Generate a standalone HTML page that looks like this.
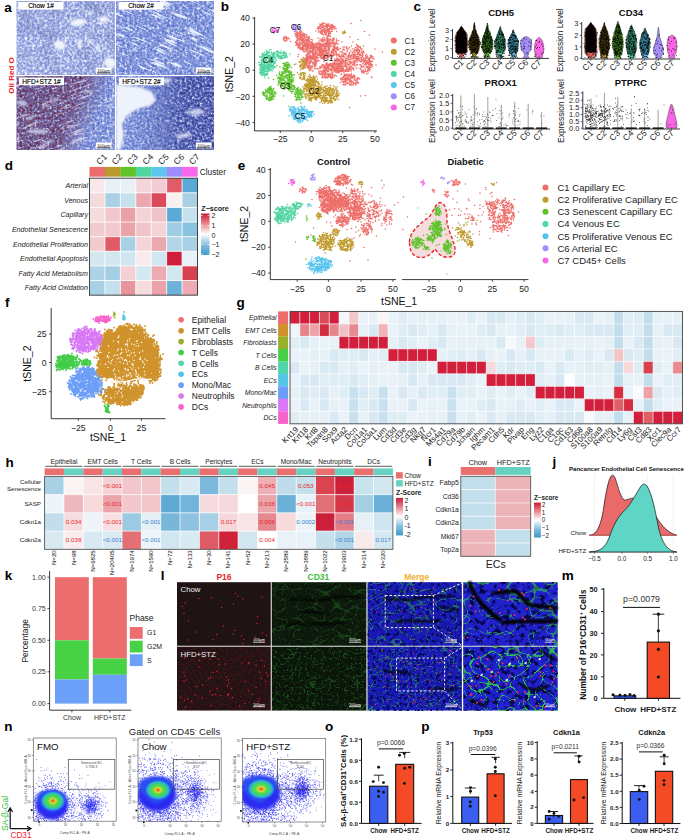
<!DOCTYPE html><html><head><meta charset="utf-8"><style>
html,body{margin:0;padding:0;background:#fff}
#r{position:relative;width:685px;height:839px;overflow:hidden;background:#fff}
svg{display:block}
text{font-family:"Liberation Sans",sans-serif}
</style></head><body><div id="r"><svg width="685" height="839" viewBox="0 0 685 839"><defs><filter id="tq1" x="0" y="0" width="1" height="1" color-interpolation-filters="sRGB"><feTurbulence type="fractalNoise" baseFrequency="0.4" numOctaves="3" seed="4"/><feGaussianBlur stdDeviation="0.3"/><feColorMatrix values="0 0 0 1.3 -0.09000000000000002 0 0 0 1.3 -0.09000000000000002 0 0 0 1.3 -0.09000000000000002 0 0 0 0 1"/><feComponentTransfer><feFuncR type="table" tableValues="0.416 0.471 0.522 0.561 0.620 0.714 0.816 0.910 0.984"/><feFuncG type="table" tableValues="0.478 0.533 0.588 0.624 0.675 0.761 0.847 0.925 0.988"/><feFuncB type="table" tableValues="0.784 0.824 0.855 0.875 0.894 0.925 0.957 0.980 1.000"/></feComponentTransfer></filter><filter id="tq2" x="0" y="0" width="1" height="1" color-interpolation-filters="sRGB"><feTurbulence type="fractalNoise" baseFrequency="0.4" numOctaves="3" seed="9"/><feGaussianBlur stdDeviation="0.3"/><feColorMatrix values="0 0 0 1.3 -0.15000000000000002 0 0 0 1.3 -0.15000000000000002 0 0 0 1.3 -0.15000000000000002 0 0 0 0 1"/><feComponentTransfer><feFuncR type="table" tableValues="0.290 0.353 0.408 0.459 0.510 0.604 0.737 0.875 0.984"/><feFuncG type="table" tableValues="0.361 0.424 0.486 0.537 0.588 0.671 0.784 0.898 0.988"/><feFuncB type="table" tableValues="0.722 0.769 0.808 0.839 0.863 0.894 0.941 0.973 1.000"/></feComponentTransfer></filter><filter id="tq3" x="0" y="0" width="1" height="1" color-interpolation-filters="sRGB"><feTurbulence type="fractalNoise" baseFrequency="0.4" numOctaves="3" seed="21"/><feGaussianBlur stdDeviation="0.3"/><feColorMatrix values="0 0 0 1.3 -0.15000000000000002 0 0 0 1.3 -0.15000000000000002 0 0 0 1.3 -0.15000000000000002 0 0 0 0 1"/><feComponentTransfer><feFuncR type="table" tableValues="0.353 0.431 0.478 0.431 0.416 0.486 0.627 0.800 0.949"/><feFuncG type="table" tableValues="0.078 0.141 0.227 0.290 0.353 0.447 0.612 0.784 0.949"/><feFuncB type="table" tableValues="0.188 0.251 0.353 0.486 0.580 0.667 0.784 0.902 0.980"/></feComponentTransfer></filter><filter id="tq3b" x="0" y="0" width="1" height="1" color-interpolation-filters="sRGB"><feTurbulence type="fractalNoise" baseFrequency="0.4" numOctaves="3" seed="23"/><feGaussianBlur stdDeviation="0.3"/><feColorMatrix values="0 0 0 1.3 -0.15000000000000002 0 0 0 1.3 -0.15000000000000002 0 0 0 1.3 -0.15000000000000002 0 0 0 0 1"/><feComponentTransfer><feFuncR type="table" tableValues="0.290 0.353 0.408 0.459 0.510 0.604 0.737 0.875 0.984"/><feFuncG type="table" tableValues="0.361 0.424 0.486 0.537 0.588 0.671 0.784 0.898 0.988"/><feFuncB type="table" tableValues="0.722 0.769 0.808 0.839 0.863 0.894 0.941 0.973 1.000"/></feComponentTransfer></filter><filter id="tq4" x="0" y="0" width="1" height="1" color-interpolation-filters="sRGB"><feTurbulence type="fractalNoise" baseFrequency="0.4" numOctaves="3" seed="27"/><feGaussianBlur stdDeviation="0.3"/><feColorMatrix values="0 0 0 1.3 -0.15000000000000002 0 0 0 1.3 -0.15000000000000002 0 0 0 1.3 -0.15000000000000002 0 0 0 0 1"/><feComponentTransfer><feFuncR type="table" tableValues="0.149 0.188 0.235 0.290 0.345 0.447 0.596 0.784 0.973"/><feFuncG type="table" tableValues="0.173 0.220 0.275 0.337 0.392 0.502 0.643 0.816 0.976"/><feFuncB type="table" tableValues="0.502 0.557 0.612 0.667 0.706 0.769 0.863 0.941 0.996"/></feComponentTransfer></filter><filter id="tS2" x="0" y="0" width="1" height="1" color-interpolation-filters="sRGB"><feTurbulence type="fractalNoise" baseFrequency="0.05 0.45" numOctaves="2" seed="33"/><feColorMatrix values="0 0 0 0 0.93 0 0 0 0 0.95 0 0 0 0 1 -7 0 0 0 3.0"/></filter><filter id="tLo" x="0" y="0" width="1" height="1" color-interpolation-filters="sRGB"><feTurbulence type="fractalNoise" baseFrequency="0.05" numOctaves="2" seed="41"/><feColorMatrix values="0 0 0 0 0.2 0 0 0 0 0.25 0 0 0 0 0.55 3 0 0 0 -1.3"/></filter><filter id="bl2"><feGaussianBlur stdDeviation="0.8"/></filter>
<clipPath id="ca1"><rect x="16.5" y="1" width="98.5" height="74"/></clipPath>
<clipPath id="ca2"><rect x="116" y="1" width="98" height="74"/></clipPath>
<clipPath id="ca3"><rect x="16.5" y="76" width="98.5" height="74"/></clipPath>
<clipPath id="ca4"><rect x="116" y="76" width="98" height="74"/></clipPath>
<linearGradient id="gm3" x1="0" x2="1" y1="0" y2="0.3"><stop offset="0.62" stop-color="#000"/><stop offset="0.9" stop-color="#fff"/></linearGradient>
<mask id="m3"><rect x="16.5" y="76" width="98.5" height="74" fill="url(#gm3)"/></mask>
<linearGradient id="gm4" x1="0" x2="1" y1="0" y2="0"><stop offset="0.2" stop-color="#000"/><stop offset="0.7" stop-color="#fff"/></linearGradient>
<mask id="m4"><rect x="116" y="76" width="98" height="74" fill="url(#gm4)"/></mask>
</defs>
<rect x="16.50" y="1.00" width="197.50" height="149.00" fill="#ffffff"/>
<g clip-path="url(#ca1)">
<rect x="16.5" y="1" width="98.5" height="74" filter="url(#tq1)"/>
<rect x="16.5" y="1" width="98.5" height="74" filter="url(#tLo)" opacity="0.2"/>
<g filter="url(#bl2)" fill="#f2f4fc">
<ellipse cx="78" cy="22.5" rx="8" ry="3.5" transform="rotate(-10 78 22.5)"/>
<ellipse cx="59.5" cy="45" rx="6" ry="4.5" transform="rotate(20 59.5 45)"/>
<ellipse cx="79.5" cy="44" rx="2" ry="5.5" transform="rotate(0 79.5 44)"/>
<ellipse cx="90" cy="13.5" rx="2.5" ry="2" transform="rotate(0 90 13.5)"/>
<ellipse cx="103.5" cy="19.5" rx="4.5" ry="3" transform="rotate(0 103.5 19.5)"/>
<ellipse cx="110" cy="63" rx="6" ry="5" transform="rotate(30 110 63)"/>
<ellipse cx="90" cy="41" rx="2" ry="2" transform="rotate(0 90 41)"/>
<ellipse cx="32" cy="58" rx="3" ry="1.2" transform="rotate(0 32 58)"/>
<ellipse cx="45" cy="27" rx="3" ry="1" transform="rotate(-30 45 27)"/>
<ellipse cx="98" cy="48" rx="1.6" ry="3.5" transform="rotate(-30 98 48)"/>
</g>
</g>
<g clip-path="url(#ca2)">
<rect x="116" y="1" width="98" height="74" filter="url(#tq2)"/>
<g transform="rotate(24 165 38)">
<rect x="96" y="-30" width="140" height="140" filter="url(#tS2)" opacity="0.95"/>
</g>
</g>
<g clip-path="url(#ca3)">
<rect x="16.5" y="76" width="98.5" height="74" filter="url(#tq3)"/>
<g mask="url(#m3)">
<rect x="16.5" y="76" width="98.5" height="74" filter="url(#tq3b)"/>
</g>
<g transform="rotate(-18 65 113)">
<rect x="0" y="40" width="140" height="150" filter="url(#tS2)" opacity="0.55"/>
</g>
<g filter="url(#bl2)" fill="#c8d0ee" opacity="0.9">
<ellipse cx="22" cy="103" rx="6" ry="2.2" transform="rotate(10 22 103)"/>
<ellipse cx="38" cy="131.5" rx="12" ry="2.2" transform="rotate(0 38 131.5)"/>
<ellipse cx="30" cy="118" rx="5" ry="1.3" transform="rotate(-20 30 118)"/>
<ellipse cx="55" cy="100" rx="5" ry="1.3" transform="rotate(-20 55 100)"/>
<ellipse cx="48" cy="142" rx="6" ry="1.3" transform="rotate(-10 48 142)"/>
</g>
</g>
<g clip-path="url(#ca4)">
<rect x="116" y="76" width="98" height="74" filter="url(#tq2)"/>
<g mask="url(#m4)">
<rect x="116" y="76" width="98" height="74" filter="url(#tq4)"/>
</g>
<path filter="url(#bl2)" fill="#eef2fb" d="M116 84 L128 86 L140 87 L152 92 L156 100 L150 106 L140 108 L132 112 L126 117 L122 124 L124 134 L121 150 L116 150 Z"/>
<path filter="url(#bl2)" fill="#dfe5f7" opacity="0.8" d="M160 78 L172 78 L168 84 L160 82Z M184 112 L198 108 L206 112 L196 116Z M175 135 L190 132 L192 136 L178 139Z"/>
</g>
<line x1="115.50" y1="1.00" x2="115.50" y2="150.00" stroke="#ffffff" stroke-width="1"/>
<line x1="16.50" y1="75.50" x2="214.00" y2="75.50" stroke="#ffffff" stroke-width="1"/>
<rect x="18.50" y="2.00" width="45.00" height="7.60" fill="#ffffff"/>
<text x="41.0" y="8.3" font-size="6.5" text-anchor="middle" fill="#000" stroke="#000" stroke-width="0.15">Chow 1#</text>
<rect x="118.50" y="2.00" width="45.00" height="7.60" fill="#ffffff"/>
<text x="141.0" y="8.3" font-size="6.5" text-anchor="middle" fill="#000" stroke="#000" stroke-width="0.15">Chow 2#</text>
<rect x="19.00" y="77.60" width="45.00" height="7.60" fill="#ffffff"/>
<text x="41.5" y="83.9" font-size="6.5" text-anchor="middle" fill="#000" stroke="#000" stroke-width="0.15">HFD+STZ 1#</text>
<rect x="119.00" y="77.60" width="45.00" height="7.60" fill="#ffffff"/>
<text x="141.5" y="83.9" font-size="6.5" text-anchor="middle" fill="#000" stroke="#000" stroke-width="0.15">HFD+STZ 2#</text>
<rect x="96.00" y="67.50" width="15.50" height="6.00" fill="#ffffff"/>
<text x="103.7" y="71.8" font-size="4.2" text-anchor="middle" fill="#222">100μm</text>
<line x1="97.00" y1="72.80" x2="110.50" y2="72.80" stroke="#222" stroke-width="0.9"/>
<rect x="196.00" y="67.50" width="15.50" height="6.00" fill="#ffffff"/>
<text x="203.7" y="71.8" font-size="4.2" text-anchor="middle" fill="#222">100μm</text>
<line x1="197.00" y1="72.80" x2="210.50" y2="72.80" stroke="#222" stroke-width="0.9"/>
<rect x="96.00" y="142.50" width="15.50" height="6.00" fill="#ffffff"/>
<text x="103.7" y="146.8" font-size="4.2" text-anchor="middle" fill="#222">100μm</text>
<line x1="97.00" y1="147.80" x2="110.50" y2="147.80" stroke="#222" stroke-width="0.9"/>
<rect x="196.00" y="142.50" width="15.50" height="6.00" fill="#ffffff"/>
<text x="203.7" y="146.8" font-size="4.2" text-anchor="middle" fill="#222">100μm</text>
<line x1="197.00" y1="147.80" x2="210.50" y2="147.80" stroke="#222" stroke-width="0.9"/>
<text x="4.3" y="11.6" font-size="13.5" font-weight="bold">a</text>
<text x="13.6" y="75.4" font-size="8" text-anchor="middle" font-weight="bold" fill="#e8262b" transform="rotate(-90 13.6 75.4)">Oil Red O</text>
<text x="220.8" y="10.8" font-size="13.5" font-weight="bold">b</text>
<line x1="254.60" y1="17.00" x2="254.60" y2="131.00" stroke="#222" stroke-width="0.9"/>
<line x1="254.60" y1="130.90" x2="377.00" y2="130.90" stroke="#222" stroke-width="0.9"/>
<line x1="252.40" y1="18.20" x2="254.60" y2="18.20" stroke="#222" stroke-width="0.8"/>
<text x="249.9" y="21.4" font-size="8.7" text-anchor="end" fill="#222">40</text>
<line x1="252.40" y1="44.10" x2="254.60" y2="44.10" stroke="#222" stroke-width="0.8"/>
<text x="249.9" y="47.3" font-size="8.7" text-anchor="end" fill="#222">20</text>
<line x1="252.40" y1="70.20" x2="254.60" y2="70.20" stroke="#222" stroke-width="0.8"/>
<text x="249.9" y="73.4" font-size="8.7" text-anchor="end" fill="#222">0</text>
<line x1="252.40" y1="96.30" x2="254.60" y2="96.30" stroke="#222" stroke-width="0.8"/>
<text x="249.9" y="99.5" font-size="8.7" text-anchor="end" fill="#222">−20</text>
<line x1="252.40" y1="122.50" x2="254.60" y2="122.50" stroke="#222" stroke-width="0.8"/>
<text x="249.9" y="125.7" font-size="8.7" text-anchor="end" fill="#222">−40</text>
<line x1="280.30" y1="130.90" x2="280.30" y2="133.10" stroke="#222" stroke-width="0.8"/>
<text x="280.3" y="142.3" font-size="8.7" text-anchor="middle" fill="#222">−25</text>
<line x1="311.30" y1="130.90" x2="311.30" y2="133.10" stroke="#222" stroke-width="0.8"/>
<text x="311.3" y="142.3" font-size="8.7" text-anchor="middle" fill="#222">0</text>
<line x1="342.80" y1="130.90" x2="342.80" y2="133.10" stroke="#222" stroke-width="0.8"/>
<text x="342.8" y="142.3" font-size="8.7" text-anchor="middle" fill="#222">25</text>
<line x1="374.90" y1="130.90" x2="374.90" y2="133.10" stroke="#222" stroke-width="0.8"/>
<text x="374.9" y="142.3" font-size="8.7" text-anchor="middle" fill="#222">50</text>
<text x="233.2" y="74.2" font-size="10.5" text-anchor="middle" fill="#111" transform="rotate(-90 233.2 74.2)">tSNE_2</text>
<path transform="scale(.5)" d="M722 41h0m-77 5h0m1 1h0m1-1h0m2 1h0m53 0h0m-103 2h0m38 4h0m0 0h0m3-3h0m0 3h0m0-5h0m1 1h0m0 2h0m0 0h0m2-1h0m1 0h0m0-2h0m0 1h0m0 4h0m0-2h0m1 2h0m1-1h0m0-4h0m1 5h0m1-1h0m1 0h0m2 1h0m1-1h0m0-2h0m1-2h0m0 5h0m0-3h0m1 0h0m1 3h0m0-2h0m1 1h0m0-3h0m0-1h0m1 3h0m1-3h0m0 4h0m2 0h0m0 1h0m1-2h0m1 1h0m0-2h0m0 1h0m0-1h0m1 0h0m0 0h0m1 3h0m0-4h0m1 2h0m0 1h0m1 0h0m0-1h0m1 2h0m3 0h0m-35 4h0m0 0h0m0-1h0m1 1h0m0-1h0m2 0h0m0 0h0m0 0h0m2 1h0m0-2h0m0 1h0m1 0h0m1 2h0m1 1h0m1-5h0m0 1h0m0-1h0m2 5h0m0 0h0m1-4h0m0 1h0m2 2h0m1-1h0m0 1h0m3-3h0m0 4h0m1 0h0m0-5h0m1 1h0m0-1h0m1 3h0m1 2h0m0 0h0m1-1h0m0 0h0m1 1h0m0 0h0m0-2h0m1 2h0m0-1h0m0-2h0m1-2h0m1 4h0m1-3h0m1 3h0m0-2h0m1 2h0m1-4h0m1 0h0m1 2h0m1 2h0m0-3h0m3 2h0m-78 7h0m0-1h0m0 2h0m1 0h0m0 0h0m4-1h0m1 1h0m0-3h0m0 3h0m1-3h0m0 2h0m0-1h0m2-1h0m29 0h0m5-2h0m0 4h0m3-2h0m0 2h0m1 1h0m0-2h0m2 2h0m0-3h0m1 2h0m0-4h0m0 1h0m0-1h0m1 4h0m2-2h0m0 1h0m1-2h0m1 1h0m1 2h0m0-3h0m1 3h0m2-4h0m0 5h0m0 0h0m0-4h0m1-1h0m0 1h0m0 2h0m2-2h0m0 2h0m0-3h0m1 0h0m1 3h0m0-2h0m2 2h0m0 2h0m0-1h0m3-1h0m2-1h0m8 1h0m56 0h0m-139 4h0m2 0h0m0 2h0m1 2h0m1-2h0m1 2h0m0-3h0m0 1h0m0 2h0m1-3h0m0 0h0m1 3h0m0-4h0m2 4h0m0-4h0m1 4h0m0-5h0m0 2h0m0-1h0m1-1h0m0 4h0m1 1h0m0-2h0m1 1h0m0-4h0m0 5h0m2 0h0m1-5h0m0 2h0m0 1h0m0-3h0m0 0h0m2 2h0m0 1h0m1-1h0m0 3h0m0-2h0m0-1h0m0 2h0m1-1h0m3 0h0m29-2h0m1 1h0m1-1h0m1 1h0m0-1h0m2 3h0m2-4h0m1 2h0m1-2h0m1 4h0m0-2h0m1 0h0m3 3h0m1-5h0m0 2h0m1 2h0m1-3h0m2 0h0m78 3h0m-172 7h0m1-3h0m0 0h0m1 1h0m0 1h0m1 0h0m1 0h0m0-3h0m1 3h0m1-1h0m1 0h0m0 2h0m0-1h0m3 0h0m14-4h0m2 3h0m1-3h0m0 3h0m0-2h0m1 2h0m0-2h0m0 3h0m1 0h0m0-2h0m3-2h0m1 2h0m0 1h0m0 0h0m0-1h0m0 3h0m0-1h0m0 1h0m1-5h0m1 4h0m1-1h0m0-3h0m0 5h0m0-2h0m1-1h0m0 1h0m1-2h0m0 3h0m1 1h0m1-5h0m1 0h0m0 4h0m1-1h0m1-3h0m0 1h0m0 0h0m0-1h0m0 2h0m0-2h0m1 2h0m2 0h0m1-2h0m1 4h0m2-2h0m0 2h0m1-3h0m0 0h0m0 4h0m1-1h0m17 0h0m9 0h0m3-1h0m5 2h0m1-4h0m1 3h0m1-3h0m0 4h0m2-5h0m2 1h0m1-1h0m6 4h0m1 1h0m32-3h0m-133 4h0m1 2h0m1 1h0m0-1h0m1 2h0m2 0h0m1-2h0m0 0h0m1 0h0m0-2h0m4 0h0m3 5h0m12-3h0m1 3h0m1-3h0m1 1h0m0-2h0m0 0h0m2-1h0m0 0h0m2 0h0m0 2h0m0 2h0m0-3h0m1 0h0m1 0h0m0-1h0m1 1h0m0 2h0m1-1h0m1-1h0m0 4h0m1-3h0m0 2h0m0-3h0m0 3h0m1 1h0m0-4h0m0 1h0m0-2h0m1 0h0m1 5h0m0-1h0m0 1h0m1-2h0m0 0h0m1 0h0m0-2h0m0-1h0m1 3h0m1 2h0m0-4h0m0 4h0m2-2h0m0-1h0m1 3h0m0-4h0m1 2h0m0 2h0m1-4h0m0 3h0m0-2h0m1 2h0m1 1h0m2-4h0m3 1h0m13 2h0m2-4h0m2 4h0m0-1h0m1-2h0m1 4h0m1-3h0m0 3h0m1-4h0m0 3h0m1 0h0m2-1h0m0-2h0m1-1h0m0 3h0m3 2h0m1-2h0m0-2h0m0 1h0m1-1h0m1 2h0m0 1h0m0 1h0m0-4h0m1 3h0m1-2h0m1 0h0m0-1h0m2-1h0m0 2h0m3 1h0m0 2h0m1-5h0m1 2h0m1-2h0m0 0h0m1 2h0m0 0h0m5 1h0m0 2h0m0-5h0m4 3h0m39-2h0m-125 5h0m1 2h0m1 1h0m0 2h0m0-5h0m1 2h0m2 1h0m0 0h0m0 1h0m2-1h0m1 2h0m0-5h0m1 3h0m2-1h0m1 0h0m0 1h0m1 2h0m1-3h0m0-2h0m1 1h0m0-1h0m1 1h0m1 3h0m0 1h0m1-3h0m1 3h0m0 0h0m1-2h0m1 2h0m0-2h0m0-1h0m1 0h0m0-1h0m1 4h0m0-3h0m1 0h0m0 2h0m0 1h0m1-1h0m1-1h0m1-1h0m0 0h0m0 3h0m1 0h0m1-4h0m2 1h0m0-1h0m0 4h0m1-1h0m1-4h0m0 2h0m1 0h0m0 0h0m0 2h0m2-1h0m0 2h0m3-1h0m1 1h0m1-1h0m1-1h0m1-1h0m0 3h0m0 0h0m1 0h0m2 0h0m0-3h0m1 0h0m1 2h0m0-1h0m0-1h0m1 2h0m1-1h0m1 1h0m1 0h0m2 1h0m0 0h0m2 0h0m0-3h0m0 0h0m0 3h0m3-2h0m0-1h0m2 2h0m0 1h0m0-3h0m1 2h0m0-3h0m1-1h0m0 3h0m1 0h0m0-2h0m1-1h0m0 4h0m1-2h0m0 2h0m0-2h0m0-1h0m0 2h0m0-1h0m1 2h0m1-2h0m1 2h0m0-4h0m0 3h0m1-1h0m1 2h0m1 0h0m0-1h0m0-1h0m2-2h0m1 2h0m0-2h0m0 1h0m1 0h0m0 3h0m0-4h0m1 2h0m0 0h0m2 2h0m0-2h0m0 3h0m1-3h0m0 0h0m2 0h0m0 1h0m2 1h0m1 0h0m8-4h0m22 0h0m7 5h0m-121 2h0m3-1h0m1 2h0m1 1h0m0 1h0m1-3h0m1 0h0m1 3h0m0-4h0m0 1h0m4 4h0m0-5h0m0 0h0m1 3h0m1-2h0m1 0h0m0 0h0m0 3h0m1-1h0m0-3h0m0 2h0m2-2h0m0 1h0m0 2h0m2 2h0m0-3h0m0 1h0m1-1h0m0 0h0m0 3h0m0 0h0m0-5h0m1 3h0m0-2h0m0 0h0m0-1h0m1 2h0m0 3h0m1-1h0m0-3h0m1 4h0m0-1h0m0-2h0m1 0h0m1-2h0m0 0h0m0 1h0m1-1h0m0 5h0m0-4h0m0 4h0m1 0h0m0-3h0m0-2h0m0 4h0m1-3h0m0 4h0m0-2h0m0-3h0m1 2h0m1 2h0m1-4h0m0 2h0m1 3h0m0-1h0m1-3h0m0 1h0m0 3h0m1-4h0m0 2h0m1 2h0m0-3h0m0 1h0m1 0h0m0-2h0m2 3h0m0 1h0m1-5h0m0 5h0m1-2h0m0 2h0m0 0h0m2-1h0m0-4h0m1 4h0m1 1h0m1-3h0m0 1h0m0 1h0m0-1h0m1-3h0m0 5h0m1 0h0m0 0h0m0-5h0m1 4h0m0-3h0m0 2h0m0 2h0m0 0h0m1-2h0m1-2h0m0 0h0m0 4h0m0-2h0m1-2h0m0-1h0m1 0h0m1 3h0m1-3h0m0 4h0m1-1h0m1 2h0m0 0h0m0-5h0m1 0h0m0 3h0m1-3h0m1 2h0m1-2h0m1 2h0m1 2h0m0-1h0m1-3h0m1 4h0m1-4h0m0 4h0m1-3h0m2 2h0m1 0h0m3-2h0m1 3h0m1 1h0m1-1h0m0 1h0m0-3h0m1 2h0m0-4h0m2 5h0m1 0h0m2-1h0m0 1h0m11-1h0m3 0h0m4 0h0m1 0h0m5 1h0m4-3h0m8 3h0m1 0h0m2-5h0m1 1h0m0 2h0m2 0h0m2 1h0m1 0h0m0-1h0m1 2h0m6-3h0m0 0h0m-131 4h0m3 0h0m1 1h0m1 1h0m0 1h0m1-3h0m0 2h0m1 1h0m1-3h0m0 2h0m0-2h0m1 0h0m1 0h0m0 5h0m0-1h0m0-4h0m1 0h0m0 2h0m0-2h0m0 1h0m2 1h0m2 1h0m1-2h0m1-1h0m0 1h0m1-1h0m0 4h0m1-3h0m1-1h0m0 3h0m2-3h0m1 5h0m0 0h0m1-4h0m0 2h0m1-2h0m0 0h0m3 4h0m0-4h0m1 1h0m0 3h0m0-2h0m0 2h0m1-5h0m1 0h0m0 1h0m0-1h0m0 4h0m1-2h0m1-2h0m0 1h0m0 1h0m1 0h0m2 3h0m0-2h0m2-1h0m0-2h0m0 0h0m0 2h0m0-2h0m1 0h0m1 1h0m0 4h0m0-3h0m0 2h0m0-3h0m0 2h0m0-1h0m1 0h0m0-2h0m1 2h0m1-2h0m0 4h0m0 0h0m0-3h0m0 0h0m1 4h0m0-4h0m0 3h0m0 1h0m1-4h0m0 0h0m0 2h0m1 0h0m0-3h0m1 4h0m0-4h0m0 1h0m0 0h0m0 1h0m1 2h0m0-3h0m0 0h0m1 3h0m0-2h0m2 3h0m1-3h0m0 0h0m1 1h0m0-2h0m0 1h0m2 3h0m0-4h0m1-1h0m0 5h0m0-1h0m1-4h0m0 5h0m2 0h0m1-2h0m1-2h0m0 3h0m0-1h0m1 2h0m1-2h0m0-3h0m0 2h0m0 2h0m6-1h0m0-1h0m0 1h0m1 1h0m0-2h0m0 2h0m1 0h0m1-3h0m1 4h0m0-2h0m1 2h0m0-4h0m1 0h0m1 0h0m1 1h0m1 2h0m0-2h0m1 1h0m1-3h0m0 4h0m2-1h0m3-2h0m5 3h0m1-2h0m2 2h0m4-4h0m1 1h0m0 3h0m3-2h0m8 0h0m4 0h0m1 2h0m2 0h0m0 1h0m2 0h0m0-2h0m0-1h0m2-2h0m0 3h0m1 2h0m0-1h0m0-1h0m2 1h0m0 0h0m0 1h0m1-1h0m1-4h0m1 1h0m1 1h0m1 0h0m26 0h0m-143 5h0m2 0h0m1 0h0m1-1h0m0 0h0m3 0h0m0 2h0m1 2h0m1 1h0m1-5h0m1 4h0m0 0h0m1-4h0m0 4h0m1-3h0m1 1h0m0-2h0m0 4h0m1-2h0m0 1h0m0-2h0m2 0h0m1 1h0m0-1h0m0 4h0m2-4h0m0 2h0m3 1h0m0-4h0m0 4h0m1-2h0m1-2h0m0 3h0m0-2h0m0 2h0m2 0h0m2-3h0m2 4h0m0-4h0m1 1h0m0 2h0m0-1h0m0 0h0m1 2h0m0-3h0m1 1h0m0-2h0m1 2h0m0-2h0m0 5h0m0-5h0m1 0h0m0 0h0m0 5h0m0 0h0m0-4h0m1 4h0m0 0h0m0-3h0m1-1h0m0 2h0m2-1h0m0 2h0m1-3h0m0 1h0m1-1h0m0-1h0m0 1h0m2 3h0m0-3h0m1 3h0m0-2h0m0-1h0m1 4h0m2-2h0m0 2h0m1-2h0m2 0h0m0-3h0m4 2h0m1 0h0m1-1h0m0-1h0m0 4h0m2-4h0m0 3h0m1 1h0m0-1h0m0-2h0m1 4h0m3-2h0m0-2h0m2 1h0m0 3h0m7-3h0m3 0h0m1-1h0m2 3h0m2 0h0m1 1h0m1 0h0m2 0h0m2-4h0m5 2h0m0 2h0m3-5h0m3 3h0m1-1h0m2-2h0m1 0h0m1 3h0m0 0h0m3-3h0m1 2h0m1 0h0m1 2h0m2-1h0m0-3h0m0 5h0m1-5h0m0 1h0m4 0h0m0 3h0m2 0h0m1-4h0m0 3h0m1-2h0m1 2h0m37-1h0m-169 9h0m1-4h0m15 1h0m1 2h0m1-2h0m2 3h0m0-5h0m0 2h0m1-2h0m2 2h0m0 3h0m0-1h0m1 0h0m1 0h0m0 0h0m1 0h0m1 0h0m1 0h0m1-3h0m0-1h0m1 0h0m1 4h0m0-4h0m0 3h0m0-1h0m1 2h0m0-4h0m1 1h0m0-1h0m0 0h0m1 3h0m1-1h0m0 3h0m1-5h0m2 4h0m0 1h0m1-3h0m0-2h0m1 2h0m1-2h0m1 3h0m0-1h0m0 1h0m0-3h0m0 0h0m1 1h0m1 1h0m1-2h0m0 1h0m0 2h0m1 1h0m0 0h0m1-1h0m0 0h0m0-3h0m0 3h0m0-3h0m0 2h0m2-2h0m0 2h0m0-2h0m1 3h0m0-2h0m1-1h0m0 3h0m0-2h0m1 0h0m1 4h0m1-4h0m2 1h0m3 1h0m0-3h0m0 5h0m0-3h0m2 1h0m0 2h0m1-5h0m0 5h0m1-3h0m1 0h0m2-2h0m0 2h0m2 0h0m0 2h0m0-1h0m1 0h0m1-1h0m0 1h0m1-1h0m0 0h0m1 1h0m1-3h0m1 1h0m3 3h0m0-2h0m0 2h0m1-3h0m0 0h0m2 1h0m0-1h0m1 0h0m1 0h0m0 4h0m0-3h0m0 3h0m1-3h0m1 3h0m2 0h0m0 0h0m0 0h0m2-3h0m0 1h0m0 2h0m0-4h0m0 2h0m0 2h0m1-1h0m1 0h0m0 0h0m1 0h0m1-3h0m3 0h0m1 1h0m3 3h0m1-1h0m1-1h0m1-3h0m1 2h0m1 1h0m0 2h0m2 0h0m1-2h0m1-2h0m0-1h0m1 1h0m1 4h0m1-2h0m1-2h0m0-1h0m0 3h0m1-3h0m0 5h0m0-2h0m1 1h0m0-2h0m2 3h0m0 0h0m0 0h0m0-4h0m2 0h0m1 4h0m0-5h0m2 0h0m1 0h0m0 4h0m1-4h0m1 2h0m1-2h0m0 3h0m3 0h0m1 0h0m0-2h0m1 1h0m5 1h0m1 2h0m1-4h0m0 0h0m1 4h0m1-1h0m6 1h0m0-1h0m0-1h0m2 0h0m1 2h0m-137 2h0m3 2h0m0 2h0m2-1h0m0 1h0m0-3h0m0-1h0m1-1h0m0 3h0m0 1h0m1 1h0m0-5h0m1 2h0m1 1h0m1-2h0m0-1h0m0 1h0m0 3h0m0-1h0m0-3h0m1 3h0m0 0h0m0-3h0m1 3h0m1-3h0m0 1h0m1-1h0m0 1h0m0 1h0m1-1h0m0 2h0m0 1h0m1-3h0m0-1h0m0 1h0m0 2h0m1-1h0m0 1h0m1-3h0m0 4h0m1 1h0m1-1h0m0 1h0m0-2h0m0-1h0m1 1h0m0 2h0m0-5h0m1 4h0m0 0h0m0-2h0m1 0h0m1-1h0m0 3h0m1-4h0m1 3h0m1-3h0m2 2h0m0-1h0m4-1h0m2 3h0m1-2h0m0 1h0m0-2h0m2 3h0m1-3h0m3 4h0m1-3h0m0-1h0m2 2h0m0 1h0m1 0h0m0-3h0m2 0h0m1 2h0m2-2h0m4 3h0m1 0h0m2-3h0m0 0h0m5 4h0m3 1h0m1-1h0m0 1h0m0-3h0m1 1h0m0 1h0m1-1h0m1 2h0m2-5h0m1 5h0m0 0h0m1 0h0m1-1h0m0-2h0m1 2h0m0 1h0m0-1h0m0-1h0m3 1h0m1-4h0m1 0h0m2 0h0m1 4h0m2-2h0m1 1h0m3-1h0m0 0h0m1-1h0m0 4h0m0-5h0m3 5h0m1-3h0m0-1h0m0 1h0m2 2h0m1-1h0m2 0h0m0-2h0m2 1h0m0 0h0m1 1h0m1 1h0m0-2h0m0 2h0m1 0h0m1-2h0m1-1h0m0 0h0m0 1h0m1 2h0m0-4h0m0 2h0m1-2h0m0 0h0m1 2h0m0 3h0m0-2h0m1-1h0m1 0h0m3-1h0m1 2h0m1-3h0m0 5h0m1-5h0m2 2h0m1 2h0m2-1h0m1-1h0m1 1h0m1-3h0m1 0h0m1 1h0m1 3h0m1 0h0m0-1h0m1 0h0m1 1h0m0-2h0m1 1h0m1-3h0m2 0h0m2 3h0m1-3h0m2 4h0m0 0h0m-203 2h0m55 3h0m7-3h0m0 5h0m0 0h0m0-5h0m1 4h0m0-2h0m1-1h0m0-1h0m0 1h0m2 3h0m0-4h0m0 5h0m1-3h0m1-1h0m0 3h0m1 0h0m0-4h0m1 0h0m0 2h0m1-1h0m0 2h0m1-3h0m2 4h0m1 0h0m0-4h0m0 0h0m1 2h0m0 2h0m0-2h0m0-1h0m1-1h0m0 0h0m0 2h0m0 0h0m1 1h0m1 1h0m2 0h0m3-3h0m0 0h0m1 0h0m0 2h0m1 2h0m0-4h0m2 1h0m0 3h0m0-2h0m0 1h0m2-4h0m1 2h0m2-1h0m10 2h0m21-2h0m0 4h0m0-1h0m1-1h0m0 1h0m1-2h0m1 0h0m0-1h0m0-1h0m2 3h0m0-3h0m1 2h0m2-2h0m0 1h0m1 1h0m1-1h0m1-1h0m0 4h0m0-1h0m0 0h0m1 1h0m0 0h0m1 0h0m0 0h0m1-1h0m1 1h0m0-4h0m0 5h0m0 0h0m2-3h0m1-1h0m0 1h0m0 2h0m1-2h0m0 1h0m0-2h0m2 4h0m1-4h0m0 3h0m1-4h0m1 1h0m1 4h0m1-4h0m1-1h0m2 3h0m1 0h0m2 2h0m1-2h0m1 2h0m3-3h0m2 0h0m0 2h0m2 1h0m0-4h0m1 1h0m3-2h0m0 4h0m0-2h0m2-1h0m3-1h0m1 3h0m1-3h0m1 4h0m1-1h0m1-1h0m2-2h0m0 0h0m1 2h0m2 0h0m0-1h0m0 2h0m1 2h0m0-3h0m1-1h0m1-1h0m0 5h0m1-3h0m0-1h0m2 4h0m0-2h0m1-1h0m1 3h0m1-1h0m0 1h0m0-5h0m1 2h0m0 2h0m1 1h0m0 0h0m0-4h0m1 1h0m2 1h0m1 0h0m1 0h0m-156 6h0m11 2h0m6-1h0m1-4h0m0 5h0m2-2h0m0-3h0m1 0h0m0 2h0m0 1h0m1-1h0m0 2h0m1 0h0m0-3h0m0 3h0m0-2h0m1 1h0m0-2h0m1 2h0m0 0h0m0 1h0m0-1h0m2-3h0m1 1h0m1 0h0m0 3h0m0 0h0m1-2h0m2-2h0m0 0h0m3 5h0m2-3h0m0-1h0m2-1h0m0 2h0m0 0h0m1 0h0m0 3h0m1 0h0m0-4h0m0 1h0m0 0h0m1 1h0m0 2h0m1-1h0m0-1h0m0-3h0m0 1h0m12 4h0m1-1h0m0-1h0m2 1h0m2 1h0m0 0h0m3-5h0m0 3h0m2 2h0m0-4h0m0-1h0m1 3h0m2 0h0m0 0h0m1-1h0m1 1h0m1 1h0m1 0h0m0-3h0m0 2h0m2 2h0m0-3h0m0 2h0m0 1h0m1-3h0m0 2h0m0 1h0m1 0h0m1-4h0m0 4h0m0-5h0m1 3h0m0 1h0m1-3h0m0-1h0m0 0h0m2 3h0m0-2h0m0 0h0m1 1h0m1 1h0m0-1h0m1 0h0m0-1h0m0 1h0m1-2h0m0 0h0m0 4h0m0-4h0m1 1h0m0 3h0m0-1h0m0-2h0m1 1h0m0 2h0m0 0h0m1-4h0m0 1h0m0 2h0m0-2h0m0-1h0m1 1h0m0 4h0m0-2h0m1-3h0m0 1h0m1 4h0m1-1h0m0-3h0m1-1h0m0 5h0m1-5h0m0 0h0m1 3h0m0-1h0m2 0h0m0-2h0m4 1h0m0 3h0m1 1h0m0-5h0m1 4h0m0-1h0m0 0h0m1-1h0m0 0h0m2 0h0m2 2h0m0-2h0m0 3h0m2-2h0m1 0h0m0-3h0m1 0h0m2 0h0m2 4h0m1-4h0m0 3h0m1 1h0m1-4h0m1 3h0m1-3h0m3 4h0m1 0h0m1-1h0m5 0h0m2 1h0m4-2h0m0 0h0m0-1h0m1-1h0m3 3h0m1-1h0m1 0h0m0-1h0m0 2h0m1 1h0m0 0h0m0-3h0m2-1h0m1 1h0m0-1h0m1 3h0m0-2h0m1 2h0m1 1h0m0 0h0m1-4h0m0 3h0m0 0h0m1 2h0m1-4h0m0 4h0m0-2h0m2 0h0m1 1h0m7 0h0m-150 6h0m4-1h0m2-2h0m1 1h0m1 0h0m1 1h0m3-3h0m1 3h0m1 1h0m0 0h0m0-4h0m0 2h0m2-1h0m0 1h0m1-2h0m1 2h0m1 0h0m0 3h0m0-5h0m0 0h0m0 2h0m1 1h0m1 1h0m0-1h0m1 1h0m0-2h0m1-1h0m4-1h0m0 5h0m1-4h0m0 1h0m0-2h0m5 5h0m4-3h0m1 3h0m0 0h0m0 0h0m1-1h0m1-1h0m0 0h0m0-2h0m1 1h0m3 1h0m1 1h0m1-3h0m0 2h0m2 0h0m0 1h0m1-4h0m0 5h0m2 0h0m0-2h0m0-1h0m1 1h0m1-3h0m0 0h0m0 4h0m0-3h0m1 2h0m0-1h0m0-2h0m1 0h0m0 5h0m1-5h0m0 2h0m2-2h0m2 4h0m1-2h0m0-2h0m1 2h0m1-1h0m0 1h0m1 3h0m0-1h0m1-4h0m0 2h0m1-1h0m0 0h0m0-1h0m1 3h0m1-3h0m0 5h0m2-4h0m0 4h0m0-3h0m0 0h0m1 2h0m1-3h0m0 1h0m1 1h0m0-3h0m0 4h0m1 0h0m1-4h0m1 3h0m1-3h0m0 5h0m0-3h0m0-2h0m0 5h0m1-4h0m1 4h0m0 0h0m1-1h0m0-2h0m0 3h0m0-1h0m0-3h0m1 0h0m0-1h0m1 3h0m0-2h0m1 3h0m0-2h0m0 1h0m0-1h0m2 3h0m0-5h0m1 1h0m1-1h0m1 0h0m2 1h0m1 4h0m0-2h0m1-2h0m0 1h0m4 2h0m0 0h0m0 1h0m0 0h0m0-2h0m1 2h0m0-1h0m1 1h0m0-4h0m2 2h0m0 0h0m1-3h0m1 4h0m2 0h0m0 0h0m1 0h0m0 0h0m3-4h0m3 4h0m1 0h0m6 1h0m2-3h0m1-2h0m1 1h0m0 2h0m3-2h0m0 0h0m1-1h0m2 4h0m3-2h0m1 0h0m1 2h0m0-2h0m0-1h0m1 4h0m0 0h0m0-4h0m1 4h0m1-1h0m0-3h0m0 4h0m1-1h0m0-1h0m2 0h0m3-2h0m0 1h0m-172 5h0m46-1h0m1 3h0m1-3h0m0 3h0m1-3h0m3 3h0m2 1h0m6-4h0m4 0h0m2 4h0m3 0h0m1 1h0m3-2h0m0 1h0m1-1h0m0 1h0m1-1h0m1-1h0m0 2h0m1 1h0m0-4h0m0 4h0m1-1h0m0-3h0m1-1h0m0 1h0m0 2h0m2-2h0m1 1h0m0 1h0m1 1h0m0 0h0m1-2h0m1 3h0m0-5h0m1 0h0m1 0h0m1 3h0m2-2h0m0-1h0m0 0h0m1 4h0m0-4h0m1 1h0m0 2h0m0 1h0m2-4h0m2 5h0m0-5h0m0 1h0m0 2h0m1-3h0m0 3h0m0 0h0m1-1h0m0-1h0m1 3h0m0 0h0m0-2h0m1 3h0m0-4h0m0 2h0m0-2h0m0 3h0m1-4h0m0 1h0m0 2h0m0 1h0m2-4h0m0 5h0m0-5h0m1 4h0m0-2h0m0 2h0m1-4h0m0 3h0m1 2h0m1-5h0m0 0h0m0 3h0m0-3h0m0 4h0m1 1h0m0-1h0m1 1h0m1-3h0m1 2h0m0-1h0m0-3h0m1 2h0m0 2h0m0-2h0m0 3h0m1-1h0m1 1h0m0-5h0m0 3h0m1-1h0m0-1h0m0 0h0m2 3h0m1 0h0m1-3h0m0 4h0m0 0h0m1-2h0m0 2h0m0-1h0m1 0h0m0-1h0m2-3h0m0 4h0m1-3h0m0 1h0m1 3h0m1-1h0m0 0h0m1-4h0m0 1h0m0 0h0m1 0h0m2 0h0m0 1h0m0 2h0m4-4h0m0 0h0m2 2h0m14-1h0m1 4h0m1-2h0m1 2h0m2 0h0m0-3h0m2 3h0m2-3h0m1 3h0m2 0h0m1-2h0m0 0h0m2-2h0m1 3h0m1-4h0m2 2h0m0 0h0m-158 4h0m12 1h0m43-1h0m0 1h0m0-1h0m1 3h0m0 1h0m2-1h0m1 2h0m2-4h0m0 2h0m2-1h0m1-2h0m1 2h0m1 1h0m0 2h0m0-1h0m1 0h0m1-4h0m0 1h0m0 0h0m0 1h0m0-2h0m1 4h0m1 1h0m0-1h0m1 1h0m0-5h0m2 4h0m2 0h0m0-1h0m3 2h0m1-3h0m1 3h0m2-3h0m0 3h0m2-5h0m5 1h0m0 0h0m0-1h0m3 1h0m1 1h0m1-2h0m0 0h0m2 0h0m3 4h0m1 1h0m5-3h0m1 3h0m4 0h0m2-1h0m5 1h0m3-2h0m21-2h0m3 1h0m1 0h0m5 2h0m3-2h0m-103 7h0m11 2h0m0-5h0m1 3h0m1-3h0m0 5h0m2 0h0m0-5h0m2 2h0m0 1h0m1-1h0m1 3h0m2-5h0m0 4h0m2 0h0m0-1h0m1-2h0m0 2h0m1-2h0m1 3h0m0-3h0m1 2h0m1-2h0m0 1h0m0-2h0m0 2h0m0 3h0m2 0h0m0 0h0m0 0h0m1-2h0m1-3h0m1 2h0m2 2h0m1-4h0m0 0h0m1 1h0m0-1h0m3 2h0m13 3h0m1-2h0m1-1h0m0 2h0m1-4h0m2 3h0m0-3h0m2 2h0m2-2h0m1 5h0m1-4h0m0 3h0m0-1h0m1-3h0m1 1h0m1-1h0m0 5h0m0 0h0m1-3h0m1-2h0m1 3h0m0 0h0m0 1h0m1-2h0m0 2h0m1 1h0m1-2h0m1-1h0m1-2h0m0 4h0m0-1h0m1 2h0m0-4h0m0 0h0m1 3h0m33 0h0m1 1h0m-135 3h0m10-2h0m32 0h0m4 0h0m8 1h0m1-1h0m1 0h0m16 1h0m1 2h0m2-3h0m1 3h0m0-1h0m3-2h0m0 3h0m1 0h0m1-2h0m0 2h0m2 0h0m0-3h0m0 2h0m1 2h0m0-4h0m1 0h0m0 1h0m0 2h0m1 1h0m0-2h0m1-2h0m0 4h0m1-1h0m1-1h0m1 2h0m1-1h0m1-1h0m1 3h0m0-5h0m1 5h0m2-5h0m3 4h0m0-4h0m1 3h0m0 1h0m1 0h0m0 0h0m3-2h0m0 3h0m1-1h0m1-2h0m0-2h0m1 1h0m0-1h0m1 0h0m1 1h0m1 1h0m-83 6h0m1 3h0m44-2h0m3-3h0m0 0h0m2 2h0m2 1h0m0-3h0m0 1h0m1 1h0m2-2h0m1 1h0m0 1h0m0-1h0m1 4h0m2-2h0m0 1h0m0-1h0m1 2h0m3-5h0m0 2h0m1 3h0m1 0h0m0-4h0m0 4h0m1-5h0m1 0h0m0 4h0m1-3h0m0 0h0m2 1h0m0 2h0m1-1h0m1 2h0m2 0h0m1-1h0m1-1h0m0-3h0m0 4h0m3 0h0m0-2h0m1 0h0m0 0h0m1 2h0m-87 4h0m31 1h0m25-2h0m2 1h0m0-2h0m3 2h0m0-1h0m8 0h0m1 1h0m2 0h0m2 0h0m3 0h0m4-2h0m1 2h0m-113 15h0m33-1h0m99 7h0m-135 3h0m125-2h0m-22 23h0" stroke="#ee6e6a" stroke-width="3.2" stroke-linecap="round" fill="none"/>
<path transform="scale(.5)" d="M685 64h0m1 0h0m3-2h0m0 3h0m1 0h0m0-1h0m1 1h0m-5 2h0m2 0h0m-86 51h0m2 1h0m2-1h0m0 0h0m-8 6h0m1 0h0m3 0h0m2-1h0m0-2h0m1 2h0m1-3h0m1 4h0m0 1h0m0-3h0m1 0h0m0-2h0m1 5h0m0-2h0m0 1h0m0-4h0m1 4h0m-10 7h0m2-3h0m1 3h0m0-1h0m1 1h0m0-2h0m2-2h0m3 4h0m0-4h0m0-1h0m1 4h0m0-2h0m0-2h0m0 3h0m0-3h0m-10 8h0m0-2h0m1 2h0m0-1h0m3 4h0m0 0h0m2-2h0m0-2h0m1 1h0m1-2h0m0 5h0m2-5h0m0 2h0m-9 6h0m5-2h0m-8 11h0m3-2h0m1-1h0m0 2h0m1-2h0m2 0h0m1 0h0m0 0h0m0 0h0m1 3h0m0-3h0m1 1h0m0 1h0m1-2h0m2 1h0m8 2h0m-19 6h0m0-1h0m1-3h0m1 0h0m0-1h0m1 0h0m0 0h0m4 5h0m0-3h0m2 2h0m0-1h0m1-2h0m7 2h0m3 1h0m1 0h0m0-2h0m3 3h0m3-3h0m0 1h0m1 2h0m2-1h0m0 1h0m-30 2h0m2-1h0m2 3h0m2-1h0m0-2h0m1 1h0m1 0h0m0-1h0m1 0h0m0 3h0m3 2h0m2-2h0m1-2h0m1 3h0m2-1h0m1 2h0m0-1h0m1-1h0m1 2h0m0-3h0m1 2h0m0-4h0m1 5h0m1 0h0m0-1h0m0-1h0m1 0h0m1 2h0m0-4h0m0 0h0m1 1h0m1 3h0m0 0h0m0-3h0m0 3h0m0-2h0m2 0h0m0-1h0m2 3h0m3-3h0m-23 9h0m2-5h0m2 3h0m0 0h0m1-2h0m1-1h0m0 1h0m0 3h0m0 1h0m0-2h0m1 0h0m0 1h0m0 1h0m0 0h0m1-2h0m0 1h0m0-1h0m1 2h0m0-5h0m0 0h0m0 4h0m0-2h0m0 2h0m2-3h0m0-1h0m1 1h0m0 3h0m0-4h0m1 3h0m0-2h0m0 0h0m0 1h0m0-1h0m1 2h0m0 2h0m0-3h0m1-2h0m0 3h0m1-2h0m0 1h0m1-1h0m0 0h0m1 2h0m0-2h0m0 0h0m1 3h0m0 0h0m0 0h0m1-4h0m1 2h0m0-2h0m2 2h0m2 2h0m0-1h0m7-1h0m-35 7h0m1-2h0m0 2h0m1 2h0m0-2h0m1-1h0m0 3h0m1-2h0m0-3h0m1 3h0m1-2h0m0 4h0m1-5h0m1 3h0m1-1h0m1 1h0m1 2h0m0-4h0m0 3h0m0 1h0m1-4h0m0 3h0m0-4h0m1 2h0m1-1h0m0 4h0m0-1h0m0-2h0m0 1h0m1 0h0m0-2h0m1 2h0m1-3h0m0 1h0m0-1h0m1 3h0m0 2h0m1-4h0m2-1h0m0 3h0m2-1h0m1 3h0m3-3h0m0 3h0m1-5h0m0 0h0m2 0h0m0 5h0m1 0h0m0 0h0m2-1h0m2-3h0m6 4h0m1 0h0m3-1h0m13 0h0m-61 2h0m1 5h0m1-2h0m1 1h0m0-2h0m3 3h0m0-2h0m0 1h0m1-3h0m1 0h0m1 4h0m0-4h0m1 3h0m0-3h0m0 4h0m0 0h0m1-3h0m0-1h0m0 1h0m1-1h0m1 4h0m0-5h0m0 2h0m2-2h0m0 1h0m0-1h0m0 4h0m0-1h0m1 2h0m1-5h0m0 4h0m0 1h0m0-2h0m3-2h0m0 0h0m0 0h0m1-1h0m1 1h0m0 3h0m1-4h0m1 4h0m1 1h0m0-1h0m0-1h0m0 2h0m1 0h0m0-1h0m2-1h0m0 2h0m2 0h0m0-2h0m0-1h0m1-2h0m1 4h0m1-2h0m1 3h0m0-5h0m0 0h0m0 5h0m1-2h0m0-3h0m0 2h0m1-1h0m0 0h0m1 2h0m0 2h0m1-1h0m2-3h0m0 3h0m3-4h0m1 1h0m1 2h0m1 1h0m1-1h0m2 1h0m1-1h0m1-1h0m1-1h0m2 0h0m0 2h0m1-1h0m1 2h0m0 1h0m2-1h0m1-1h0m0 1h0m1-1h0m2 2h0m2-5h0m2 3h0m1 1h0m1-4h0m-68 10h0m2-2h0m1 1h0m4 0h0m0-3h0m1 3h0m2-3h0m0 0h0m0 0h0m1 1h0m0 0h0m1 4h0m0-3h0m1 2h0m0-1h0m2 1h0m1-4h0m2 1h0m2 0h0m0 3h0m0 0h0m1-3h0m0 4h0m0-4h0m0-1h0m1 4h0m0-1h0m1 2h0m0-2h0m1 0h0m0-2h0m1 0h0m0 3h0m0-2h0m0-1h0m1 4h0m1 0h0m1-1h0m1-3h0m0 2h0m0-3h0m2 4h0m0-2h0m0 0h0m0 2h0m1 0h0m0-2h0m1 0h0m0 2h0m0-2h0m1 1h0m0-3h0m1 1h0m0-1h0m0 0h0m3 4h0m0 0h0m1 1h0m1-5h0m1 3h0m0-2h0m0-1h0m1 3h0m0-3h0m1 3h0m1-2h0m1 1h0m1-1h0m0-1h0m0 4h0m1 0h0m1-2h0m1-2h0m1 4h0m0 0h0m2-3h0m0 2h0m0 2h0m0-5h0m1 4h0m0-4h0m1 1h0m0 3h0m0-4h0m0 1h0m1-1h0m1 5h0m1 0h0m1-4h0m0-1h0m1 2h0m0 2h0m0 1h0m0-4h0m1 4h0m0-1h0m0 1h0m2 0h0m0-1h0m1-1h0m0-1h0m1-2h0m3 2h0m1 2h0m1-3h0m1 3h0m-68 4h0m2 0h0m2 2h0m1-3h0m0 0h0m2 3h0m1-1h0m0 1h0m1-3h0m0 0h0m3 0h0m0-1h0m0 4h0m0-1h0m1-1h0m0 3h0m0-1h0m0-1h0m1-1h0m0 3h0m0-3h0m1 3h0m0-2h0m2 2h0m0-5h0m0 1h0m1 2h0m1-1h0m1 1h0m1 2h0m0-3h0m0 3h0m4-4h0m1 2h0m0-2h0m1-1h0m1 2h0m0 3h0m0-1h0m1 0h0m1-3h0m0 1h0m0 1h0m1 1h0m0-4h0m1 1h0m0 3h0m0-3h0m0 1h0m0 1h0m0 1h0m0-3h0m1-1h0m0 4h0m0 1h0m0-3h0m1-2h0m0 5h0m1-5h0m4 2h0m0 3h0m1 0h0m2 0h0m0-5h0m0 1h0m0 4h0m1 0h0m0-4h0m1 4h0m1-1h0m0-3h0m0 1h0m0 2h0m2-2h0m1-2h0m0 4h0m1 1h0m0-3h0m1-1h0m0 3h0m0-4h0m1 2h0m1 2h0m1 1h0m0-3h0m0 3h0m0-1h0m2 0h0m2-1h0m0 2h0m0-5h0m1 3h0m0-2h0m1 2h0m0-3h0m0 1h0m0-1h0m4 2h0m1 0h0m0-1h0m0 0h0m0 1h0m1 0h0m0-2h0m1 1h0m0 3h0m0-2h0m1 0h0m1 2h0m2 1h0m1-4h0m-69 5h0m1 2h0m0 0h0m1 3h0m0-3h0m2 0h0m4 1h0m0 0h0m0-3h0m2 3h0m1 2h0m1-2h0m0 2h0m1 0h0m1 0h0m0-1h0m2-1h0m2-2h0m1 4h0m0-1h0m0 1h0m0-2h0m0 1h0m2-1h0m0 0h0m0 1h0m0-3h0m1-1h0m1 2h0m0 3h0m0-3h0m1 2h0m0-2h0m0 1h0m0-1h0m0 1h0m1-2h0m0 3h0m0-1h0m0-2h0m1 0h0m1 0h0m1 1h0m0-1h0m1-1h0m0 2h0m1 0h0m0 2h0m0-1h0m1 1h0m2 0h0m1-4h0m0 5h0m0-2h0m2 2h0m0-2h0m1-1h0m2-1h0m0 0h0m0 2h0m1 0h0m2 2h0m0-1h0m1-1h0m2 1h0m4-4h0m1 2h0m0-2h0m0 4h0m0-1h0m1 0h0m1 0h0m0 2h0m0-1h0m1-4h0m1 5h0m1-1h0m1 0h0m1-2h0m1 1h0m0-1h0m0 2h0m2-4h0m1 0h0m1 0h0m0 1h0m1 1h0m1-1h0m0 3h0m2-4h0m-59 7h0m1 1h0m0-2h0m0 1h0m1 2h0m0-2h0m1 2h0m0-3h0m2 0h0m0 1h0m1 0h0m0 3h0m8-3h0m2 1h0m10-2h0m0 5h0m0-3h0m0-1h0m1 0h0m0 1h0m1 1h0m2 1h0m1 1h0m0-3h0m0 0h0m1 2h0m0-4h0m1 4h0m0-4h0m1 2h0m0 0h0m1 1h0m0 1h0m1 1h0m1-3h0m0-1h0m1 2h0m0 1h0m1 0h0m0 1h0m2 0h0m1-2h0m1-2h0m0 1h0m0 3h0m1-3h0m1 0h0m0 0h0m0 3h0m1-1h0m0-1h0m0 2h0m1-2h0m0 2h0m4-4h0m0-1h0m2 3h0m0-1h0m1 0h0m0-2h0m0 0h0m1 1h0m5 0h0m-37 6h0m5 2h0m4-3h0m0 2h0m2-2h0m5 3h0m1-2h0m3-1h0m2 2h0m0-1h0m1-1h0m2 1h0" stroke="#c09a2c" stroke-width="3.2" stroke-linecap="round" fill="none"/>
<path transform="scale(.5)" d="M573 125h0m1 0h0m2 0h0m-22 6h0m12-4h0m1 0h0m1 4h0m1-4h0m0 3h0m2 1h0m0-4h0m1 3h0m0-1h0m0-3h0m0 5h0m1-1h0m2-1h0m0 2h0m1-2h0m0 1h0m1 0h0m1-2h0m1 2h0m13-2h0m-55 4h0m23 2h0m6 2h0m0-1h0m1 2h0m1 0h0m1 0h0m1-4h0m1 4h0m0 0h0m1-5h0m1 4h0m0 0h0m0-4h0m0 3h0m1 2h0m1-3h0m0-1h0m1 1h0m0 2h0m1 0h0m1-2h0m2-2h0m3 3h0m-16 4h0m2 4h0m0-4h0m0 1h0m1 3h0m0 0h0m0 0h0m1-2h0m1 0h0m1 0h0m0 2h0m0 0h0m0-2h0m1-3h0m0 2h0m0-2h0m0 0h0m0 2h0m1 0h0m0-2h0m1 5h0m1-1h0m1 0h0m1 0h0m0 0h0m0 1h0m-21 6h0m1-3h0m0 3h0m0-5h0m4 0h0m1 0h0m0 3h0m0 2h0m1-1h0m1-1h0m0 1h0m1-1h0m0-3h0m0 1h0m0 3h0m3-2h0m0-2h0m0 2h0m2-1h0m0 0h0m1 4h0m3-4h0m1 0h0m1 1h0m1 2h0m1-1h0m1-1h0m0 0h0m0 1h0m0-2h0m0-1h0m1 3h0m0-1h0m0 2h0m0-2h0m1-1h0m24 1h0m-54 5h0m3 3h0m2 1h0m2-1h0m1 1h0m0-4h0m0-1h0m0 5h0m1-5h0m0 1h0m0-1h0m1 5h0m1-4h0m0 3h0m0 1h0m1-5h0m0 1h0m2 2h0m1 1h0m1 0h0m1-1h0m1-2h0m0 2h0m2-1h0m1-1h0m1 0h0m1-1h0m0 4h0m1 0h0m0-4h0m1 4h0m0 1h0m1-5h0m0 2h0m0 3h0m1 0h0m0-5h0m2 4h0m1 0h0m0 0h0m0-2h0m1-2h0m0 5h0m0-4h0m0 0h0m1 0h0m0-1h0m0 1h0m1-1h0m3 0h0m-52 6h0m10 3h0m9-2h0m3 3h0m0-3h0m1 2h0m0 0h0m1-3h0m1 5h0m0-3h0m1 2h0m0-4h0m0 5h0m1-1h0m0 1h0m2-3h0m0 2h0m2-2h0m0-2h0m0 4h0m4-4h0m0 0h0m1 0h0m0 0h0m1 0h0m1 4h0m0-4h0m1 4h0m0-1h0m0-1h0m1 3h0m0-1h0m1-1h0m0 2h0m1 0h0m0-3h0m0-2h0m1 4h0m1 0h0m0-1h0m1 2h0m0-3h0m1 3h0m1-2h0m1 2h0m2-5h0m0 4h0m-30 2h0m0 3h0m1 1h0m1-2h0m2 0h0m1 1h0m0 2h0m2-2h0m2 1h0m2 0h0m0-1h0m1 2h0m1-5h0m0 2h0m0-2h0m1 3h0m1-1h0m0 1h0m0-1h0m0 2h0m1-1h0m2 0h0m0 2h0m1-5h0m0 0h0m1 3h0m2-1h0m1-1h0m0 4h0m2-1h0m0-2h0m0 0h0m1 0h0m0 2h0m2-4h0m1 2h0m-44 9h0m0 0h0m14-3h0m2-2h0m3 4h0m3-4h0m0 5h0m0-2h0m1 0h0m1-3h0m1 4h0m0 0h0m2 1h0m1-4h0m0 3h0m1 0h0m0 0h0m0-1h0m1 0h0m1-1h0m1-1h0m2 0h0m0-1h0m0 5h0m1-4h0m0 4h0m1-4h0m1 3h0m0-3h0m0 0h0m0 3h0m0-2h0m0 2h0m0 1h0m1 0h0m0 0h0m1-5h0m0 5h0m1-5h0m1 4h0m0-2h0m1 2h0m1-2h0m1 3h0m2 0h0m0 0h0m0-2h0m1 1h0m-58 7h0m4-1h0m1 1h0m1-2h0m1 0h0m0-2h0m0 4h0m2-5h0m0 3h0m1-2h0m0 4h0m1-1h0m1-1h0m4 0h0m0 2h0m21 0h0m0-3h0m2-2h0m0 2h0m0 1h0m1-3h0m4 2h0m0 0h0m2 3h0m2-3h0m0 2h0m1 0h0m1-1h0m0 1h0m0-3h0m1-1h0m1 1h0m0 4h0m1 0h0m0-1h0m3 0h0m0-4h0m1 5h0m0-2h0m1-1h0m0-1h0m1 0h0m3 2h0m1 0h0m1 2h0m1-2h0m1-2h0m4 3h0m0 0h0m-76 7h0m2 0h0m0-1h0m3 1h0m2-2h0m0-2h0m1 2h0m0 1h0m1-3h0m1 1h0m1 3h0m1 0h0m0-2h0m1-3h0m0 0h0m0 5h0m0-2h0m1 2h0m0-4h0m0 0h0m0 1h0m0-1h0m3 0h0m1 2h0m0 1h0m0-1h0m1-1h0m0-2h0m1 3h0m0-1h0m1-2h0m2 4h0m1 1h0m2-1h0m26-4h0m3 2h0m2 1h0m2 0h0m2-1h0m4 2h0m1-4h0m1 4h0m1-3h0m0 4h0m1-4h0m1 0h0m0 1h0m1 2h0m0-4h0m0 4h0m1 0h0m0-4h0m0 1h0m0 1h0m2-1h0m0 0h0m0 4h0m1 0h0m1-4h0m1-1h0m0 3h0m0 2h0m1-3h0m1 0h0m-78 7h0m0-3h0m0 1h0m1 2h0m0 0h0m1-2h0m0 4h0m2-3h0m0-1h0m0 4h0m4 0h0m0-3h0m5-1h0m1-1h0m0 4h0m1-4h0m1 3h0m0 0h0m0-3h0m1 1h0m1 3h0m0 0h0m0-3h0m1 0h0m0-1h0m1 5h0m1-2h0m1-1h0m1 0h0m0 0h0m3-1h0m32-1h0m5 2h0m2 2h0m0-2h0m1 1h0m1-2h0m1 0h0m1 4h0m0-5h0m0 5h0m1-3h0m0 3h0m1-2h0m1 0h0m0-1h0m0 2h0m1-4h0m1 2h0m1 2h0m0-2h0m1 2h0m2-2h0m1-2h0m1 0h0m-76 6h0m2 4h0m1-3h0m0 4h0m0-5h0m1 0h0m0 2h0m2 1h0m0 0h0m0 2h0m3-1h0m0 0h0m0-4h0m1 5h0m0-2h0m0-1h0m1 3h0m0 0h0m0-2h0m0 1h0m2-2h0m0-1h0m1 3h0m0-3h0m1 1h0m0 1h0m2-3h0m0 0h0m0 1h0m1 0h0m2-1h0m17 0h0m23 1h0m2 1h0m2 2h0m0 1h0m1-2h0m0 2h0m1-3h0m0 0h0m1 0h0m0-1h0m1 1h0m1 1h0m1-1h0m0 0h0m3 1h0m1-2h0m0 1h0m0-2h0m2 2h0m-73 5h0m3 0h0m2 2h0m1-2h0m1 2h0m1-3h0m1 2h0m1-2h0m1 0h0m0 1h0m1-1h0m3 0h0m0 0h0m44 2h0m0-1h0m1 0h0m1 1h0m0-1h0m1-1h0m0 1h0m0-1h0m1 1h0m3-1h0m1 2h0m2-2h0m0 0h0m0 8h0m-24 7h0" stroke="#5ec22c" stroke-width="3.2" stroke-linecap="round" fill="none"/>
<path transform="scale(.5)" d="M533 101h0m6-1h0m3-1h0m-17 8h0m4-2h0m3 2h0m1-1h0m1-3h0m0 1h0m1 1h0m0-1h0m2-1h0m0 4h0m0 0h0m2-2h0m3 1h0m1-2h0m3 3h0m0 0h0m1-2h0m1 2h0m0 0h0m1 0h0m0-1h0m0-1h0m1 1h0m0 0h0m3-3h0m1 4h0m0-5h0m0 0h0m1 4h0m0-1h0m0 0h0m1-3h0m1 2h0m2 1h0m0 1h0m2 1h0m1-2h0m0-3h0m0 5h0m4 0h0m0-2h0m0 1h0m2-1h0m0-2h0m1 1h0m1 3h0m1 0h0m1-1h0m0 1h0m-52 6h0m4-4h0m1 3h0m0-3h0m0 4h0m1 0h0m0 0h0m1-5h0m0 3h0m1 0h0m0 2h0m0-4h0m0 4h0m1-4h0m0 3h0m1-1h0m1-1h0m0-1h0m1-1h0m2 0h0m0 2h0m0 2h0m1-2h0m0 2h0m1 1h0m1-2h0m0 2h0m1 0h0m1-1h0m1-2h0m0 1h0m1 0h0m0 2h0m1 0h0m2-4h0m1 3h0m0-3h0m1 2h0m1-1h0m0 1h0m0-2h0m0 3h0m0-1h0m1 1h0m0-4h0m1 2h0m0-2h0m4 4h0m0-3h0m1 0h0m0 3h0m1-2h0m1-1h0m0 1h0m0-1h0m1 1h0m0 0h0m1 2h0m1 0h0m3 0h0m0 1h0m1-2h0m3 0h0m0-3h0m2 2h0m0 0h0m2 2h0m0-1h0m1-2h0m1 1h0m0-1h0m0-1h0m0 5h0m1-2h0m7-3h0m-60 7h0m3-1h0m1 1h0m1 2h0m3 1h0m1-3h0m2 3h0m0 1h0m0-3h0m1 1h0m0-1h0m0-2h0m0 4h0m0 0h0m1-3h0m0 1h0m1-2h0m1 2h0m1-2h0m1 2h0m0 0h0m1 1h0m0-2h0m0 4h0m1-3h0m0 2h0m0 0h0m1 1h0m0-5h0m1 1h0m1 1h0m0-1h0m0 3h0m0-3h0m0 1h0m2 1h0m0-2h0m0 0h0m0 2h0m1-2h0m0 1h0m1 2h0m0-3h0m0 1h0m1-2h0m1 0h0m2 0h0m0 2h0m0-2h0m1 4h0m0-1h0m0-2h0m0 1h0m5-2h0m1 3h0m2-3h0m1 2h0m1-2h0m0 2h0m0 1h0m1 1h0m1-1h0m0 0h0m0-3h0m1 0h0m1 2h0m0 0h0m1 0h0m0 0h0m2 0h0m1-2h0m1 0h0m1 1h0m1 0h0m3-1h0m-57 10h0m1 1h0m3-5h0m1 0h0m0 5h0m1-3h0m1 2h0m0 1h0m1-1h0m0-1h0m0-3h0m2 4h0m2 0h0m0-1h0m0-2h0m1 4h0m1-1h0m0 0h0m0 1h0m1-4h0m2 4h0m2-4h0m1 0h0m0 2h0m0 0h0m1-3h0m0 5h0m2-3h0m1-1h0m0 4h0m0-2h0m1 0h0m0 0h0m0-3h0m1 0h0m1 3h0m0-1h0m0-2h0m1 5h0m0-2h0m1 1h0m0-1h0m1 1h0m0 1h0m0-5h0m1 5h0m0-1h0m1 0h0m0 0h0m1 0h0m2-3h0m0 0h0m-34 10h0m0-1h0m1-1h0m1 1h0m1-1h0m0-1h0m1 3h0m0-3h0m0 3h0m2-2h0m1 0h0m0 0h0m2-3h0m0 5h0m0-3h0m0-1h0m1 2h0m0-2h0m0-1h0m0 4h0m1 1h0m1 0h0m2-5h0m0 3h0m1-2h0m1 3h0m0 1h0m2-5h0m0 3h0m1-3h0m1 5h0m1-1h0m0-1h0m0 2h0m1-3h0m0-1h0m0 3h0m1 0h0m0 1h0m0 0h0m0-2h0m1-3h0m1 5h0m0 0h0m1 0h0m0 0h0m1-1h0m1 1h0m0-3h0m1-2h0m2 1h0m-29 9h0m0 0h0m0-4h0m2 5h0m0-3h0m0-1h0m0 0h0m1 2h0m0 0h0m0-1h0m0-2h0m0 5h0m0 0h0m1-2h0m0-2h0m0 1h0m0 3h0m0-2h0m0-2h0m1 2h0m0-1h0m0 2h0m0-2h0m1 3h0m0-3h0m1 3h0m0-5h0m1 5h0m0-3h0m0-2h0m0 2h0m1 0h0m0 1h0m0 2h0m1-1h0m0 1h0m0-3h0m1 0h0m0 2h0m0-4h0m1 4h0m1-2h0m0 3h0m1-3h0m0 3h0m2-5h0m0 4h0m0 0h0m0-2h0m2 3h0m0-3h0m0-2h0m2 1h0m0 0h0m1 1h0m0 3h0m0 0h0m1-3h0m0-1h0m1 1h0m1 1h0m0 0h0m1-1h0m1 3h0m2-4h0m0 1h0m2 1h0m-31 6h0m0-3h0m0 1h0m3-1h0m0 4h0m0-1h0m1-3h0m0 0h0m0 1h0m0 1h0m1 1h0m0-2h0m0 1h0m1 1h0m0-2h0m1 1h0m0 1h0m0-3h0m0 1h0m0-1h0m1 2h0m0 0h0m0 3h0m0-5h0m0 5h0m0-5h0m1 1h0m0 4h0m1 0h0m0-1h0m1-4h0m0 4h0m0 1h0m1-1h0m1 1h0m0-2h0m1 2h0m1-5h0m0 1h0m1 4h0m0-5h0m1 2h0m0 2h0m1 0h0m0-2h0m1 0h0m1 1h0m1-2h0m0 1h0m1-2h0m2 4h0m0-1h0m2-3h0m0 0h0m-26 7h0m0 2h0m1-3h0m1 5h0m0-1h0m1 0h0m0-2h0m0 3h0m1-1h0m0-4h0m0 3h0m0-3h0m2 3h0m0-2h0m2 3h0m0-3h0m0 2h0m1 1h0m1 0h0m1 0h0m2-1h0m0 0h0m2 0h0m0 2h0m1-5h0m-12 7h0m0 0h0m3-1h0m1 0h0m0 0h0m1 1h0m1 1h0m2-2h0m2 1h0m-4 5h0" stroke="#50d4a0" stroke-width="3.2" stroke-linecap="round" fill="none"/>
<path transform="scale(.5)" d="M583 214h0m1 0h0m0 0h0m2 1h0m2-2h0m1 2h0m7 0h0m5-2h0m1 0h0m2 2h0m1 0h0m5-2h0m-31 6h0m1-3h0m1 5h0m0-4h0m1 2h0m3 0h0m0 2h0m2-1h0m0 1h0m0 0h0m1-5h0m0 3h0m1-2h0m0 1h0m1 1h0m0 0h0m0-1h0m1 2h0m0-2h0m0 0h0m0 0h0m0 0h0m2 0h0m3 1h0m1-3h0m1 3h0m1 2h0m1-1h0m2-2h0m0 2h0m2-2h0m0 1h0m2 1h0m1-4h0m0 5h0m1-2h0m1 2h0m0-5h0m1 5h0m2-1h0m1-1h0m1 0h0m-34 3h0m3 1h0m0 4h0m0-1h0m1-3h0m0-1h0m1 2h0m0 3h0m0-5h0m1 5h0m0-1h0m0-3h0m1 0h0m0 3h0m0-3h0m0 1h0m1 0h0m0 2h0m1 0h0m1-3h0m0 0h0m1 2h0m1-1h0m0-1h0m1 4h0m1 0h0m1-1h0m1-1h0m0-2h0m1-1h0m0 4h0m2-4h0m0 2h0m1 1h0m1 2h0m1-3h0m1 3h0m1-5h0m0 3h0m0-2h0m0-1h0m1 5h0m0 0h0m0 0h0m3-2h0m1 2h0m0-5h0m1 0h0m2 2h0m0 0h0m1 3h0m0-4h0m0 1h0m1 1h0m0-2h0m1 2h0m0-3h0m0 5h0m1-4h0m0 4h0m1-1h0m1-1h0m0-2h0m0 2h0m1 0h0m0 0h0m0 0h0m2 1h0m0-3h0m0 4h0m1-2h0m0-2h0m2 0h0m0 3h0m1-1h0m1-2h0m-48 9h0m5-2h0m0 0h0m1 1h0m3 0h0m0-1h0m1 1h0m0-1h0m1-2h0m0 0h0m0 5h0m0-1h0m1-4h0m0 3h0m0 1h0m2-4h0m0 3h0m3-2h0m3 1h0m1-2h0m2 1h0m1 4h0m0-2h0m1 0h0m1-2h0m1 4h0m0-3h0m0 3h0m0-4h0m1-1h0m0 2h0m0 2h0m1 0h0m0 0h0m1-1h0m3-3h0m3 5h0m1-4h0m0 0h0m0 3h0m0-1h0m1 0h0m1 1h0m0-3h0m1-1h0m0 3h0m1 0h0m0-2h0m0 0h0m0 1h0m1 3h0m1-4h0m0 2h0m0-3h0m0 3h0m1 2h0m0 0h0m1-4h0m0 2h0m0-2h0m1 3h0m0-1h0m4-2h0m-42 6h0m1 1h0m0 1h0m0 0h0m1-3h0m0 4h0m0-4h0m0 2h0m1-2h0m0 4h0m0-2h0m0 3h0m1-3h0m0 1h0m1 2h0m0 0h0m0-4h0m0 1h0m1-2h0m1 0h0m1 3h0m0-1h0m0-2h0m1 5h0m0 0h0m1-1h0m1-2h0m0 2h0m1-4h0m0 1h0m0 3h0m1 0h0m3-2h0m0 0h0m0 2h0m1-3h0m0 1h0m0 0h0m2-2h0m2 4h0m1-1h0m0 2h0m0-4h0m0 4h0m1-3h0m1-1h0m0 2h0m0-1h0m0 2h0m1-2h0m1-2h0m0 5h0m1-4h0m1-1h0m4 1h0m5-1h0m-29 8h0m2 1h0m0-1h0m1 0h0m0-2h0m2 0h0m1 5h0m0-4h0m1-1h0m0 2h0m0-2h0m0 3h0m3 1h0m1-1h0m0-2h0m1-1h0m9 1h0m-17 5h0" stroke="#58c4ee" stroke-width="3.2" stroke-linecap="round" fill="none"/>
<path transform="scale(.5)" d="M586 53h0m1-2h0m3 1h0m0-3h0m0 2h0m2-1h0m0-1h0m1 2h0m0 2h0m1-2h0m-8 5h0m1 1h0m0-3h0m1 1h0m2 1h0m0-1h0m2-1h0m1 1h0m1 4h0m3-2h0m0 2h0m1-4h0m1-1h0m0 2h0m-10 7h0m1-1h0m1 0h0m0 1h0m1-3h0" stroke="#a48cf8" stroke-width="3.2" stroke-linecap="round" fill="none"/>
<path transform="scale(.5)" d="M546 57h0m3 0h0m0 0h0m2 1h0m1-1h0m-7 3h0m0 1h0m1 2h0m1-2h0m1 4h0m1-3h0m2-2h0m1 0h0m1 3h0m0 1h0m0-4h0m1 2h0m0 2h0m1 1h0m0-4h0m1-1h0m0 2h0m-8 4h0" stroke="#f866e6" stroke-width="3.2" stroke-linecap="round" fill="none"/>
<text x="328.0" y="61.0" font-size="8.2" text-anchor="middle" fill="#111">C1</text>
<text x="314.0" y="94.0" font-size="8.2" text-anchor="middle" fill="#111">C2</text>
<text x="285.0" y="89.0" font-size="8.2" text-anchor="middle" fill="#111">C3</text>
<text x="268.0" y="63.0" font-size="8.2" text-anchor="middle" fill="#111">C4</text>
<text x="300.0" y="119.0" font-size="8.2" text-anchor="middle" fill="#111">C5</text>
<text x="296.0" y="30.0" font-size="8.2" text-anchor="middle" fill="#111">C6</text>
<text x="275.0" y="33.0" font-size="8.2" text-anchor="middle" fill="#111">C7</text>
<circle cx="393.80" cy="40.60" r="3" fill="#ee6e6a"/>
<text x="404.6" y="43.6" font-size="8.2" fill="#222">C1</text>
<circle cx="393.80" cy="51.73" r="3" fill="#c09a2c"/>
<text x="404.6" y="54.7" font-size="8.2" fill="#222">C2</text>
<circle cx="393.80" cy="62.86" r="3" fill="#5ec22c"/>
<text x="404.6" y="65.9" font-size="8.2" fill="#222">C3</text>
<circle cx="393.80" cy="73.99" r="3" fill="#50d4a0"/>
<text x="404.6" y="77.0" font-size="8.2" fill="#222">C4</text>
<circle cx="393.80" cy="85.12" r="3" fill="#58c4ee"/>
<text x="404.6" y="88.1" font-size="8.2" fill="#222">C5</text>
<circle cx="393.80" cy="96.25" r="3" fill="#a48cf8"/>
<text x="404.6" y="99.2" font-size="8.2" fill="#222">C6</text>
<circle cx="393.80" cy="107.38" r="3" fill="#f866e6"/>
<text x="404.6" y="110.4" font-size="8.2" fill="#222">C7</text>
<text x="413.5" y="11.2" font-size="13.5" font-weight="bold">c</text>
<line x1="452.50" y1="29.20" x2="452.50" y2="58.40" stroke="#222" stroke-width="0.9"/>
<line x1="452.50" y1="58.40" x2="549.00" y2="58.40" stroke="#222" stroke-width="0.9"/>
<line x1="450.50" y1="30.70" x2="452.50" y2="30.70" stroke="#222" stroke-width="0.7"/>
<text x="449.1" y="33.3" font-size="7.4" text-anchor="end" fill="#222">3</text>
<line x1="450.50" y1="39.60" x2="452.50" y2="39.60" stroke="#222" stroke-width="0.7"/>
<text x="449.1" y="42.2" font-size="7.4" text-anchor="end" fill="#222">2</text>
<line x1="450.50" y1="48.70" x2="452.50" y2="48.70" stroke="#222" stroke-width="0.7"/>
<text x="449.1" y="51.3" font-size="7.4" text-anchor="end" fill="#222">1</text>
<line x1="450.50" y1="57.60" x2="452.50" y2="57.60" stroke="#222" stroke-width="0.7"/>
<text x="449.1" y="60.2" font-size="7.4" text-anchor="end" fill="#222">0</text>
<line x1="461.40" y1="58.40" x2="461.40" y2="60.20" stroke="#222" stroke-width="0.7"/>
<text x="464.2" y="63.0" font-size="8.6" text-anchor="end" fill="#222" transform="rotate(-45 464.2 63.0)">C1</text>
<line x1="474.35" y1="58.40" x2="474.35" y2="60.20" stroke="#222" stroke-width="0.7"/>
<text x="477.1" y="63.0" font-size="8.6" text-anchor="end" fill="#222" transform="rotate(-45 477.1 63.0)">C2</text>
<line x1="487.30" y1="58.40" x2="487.30" y2="60.20" stroke="#222" stroke-width="0.7"/>
<text x="490.1" y="63.0" font-size="8.6" text-anchor="end" fill="#222" transform="rotate(-45 490.1 63.0)">C3</text>
<line x1="500.25" y1="58.40" x2="500.25" y2="60.20" stroke="#222" stroke-width="0.7"/>
<text x="503.1" y="63.0" font-size="8.6" text-anchor="end" fill="#222" transform="rotate(-45 503.1 63.0)">C4</text>
<line x1="513.20" y1="58.40" x2="513.20" y2="60.20" stroke="#222" stroke-width="0.7"/>
<text x="516.0" y="63.0" font-size="8.6" text-anchor="end" fill="#222" transform="rotate(-45 516.0 63.0)">C5</text>
<line x1="526.15" y1="58.40" x2="526.15" y2="60.20" stroke="#222" stroke-width="0.7"/>
<text x="528.9" y="63.0" font-size="8.6" text-anchor="end" fill="#222" transform="rotate(-45 528.9 63.0)">C6</text>
<line x1="539.10" y1="58.40" x2="539.10" y2="60.20" stroke="#222" stroke-width="0.7"/>
<text x="541.9" y="63.0" font-size="8.6" text-anchor="end" fill="#222" transform="rotate(-45 541.9 63.0)">C7</text>
<text x="435.0" y="40.2" font-size="8.4" text-anchor="middle" fill="#222" transform="rotate(-90 435.0 40.2)">Expression Level</text>
<text x="501.2" y="15.8" font-size="9.5" text-anchor="middle" font-weight="bold" fill="#111">CDH5</text>
<path d="M458.2 57.6 L459.4 56.7 L459.9 55.4 L456.9 53.6 L455.4 51.3 L455.2 37.9 L456.4 32.5 L459.4 28.9 L461.1 26.2 L461.7 26.2 L463.4 28.9 L466.4 32.5 L467.6 37.9 L467.4 51.3 L465.9 53.6 L462.9 55.4 L463.4 56.7 L464.6 57.6Z" fill="#ee6e6a" stroke="#222" stroke-width="0.4"/>
<g opacity="0.97">
<path d="M457.3 53.6 L456.0 51.3 L455.8 37.9 L456.9 32.5 L459.6 28.9 L461.1 26.2 L461.7 26.2 L463.2 28.9 L465.9 32.5 L467.0 37.9 L466.8 51.3 L465.4 53.6Z" fill="#000" stroke="none" stroke-width="0.4"/>
</g>
<path transform="scale(.5)" d="M922 55h0m0 4h0m2-1h0m0 0h0m1 0h0m2 0h0m-10 4h0m2 1h0m0 2h0m0-5h0m2 5h0m4-1h0m-10 4h0m0-2h0m3 1h0m1 3h0m2 1h0m0-4h0m1 1h0m2 0h0m2 3h0m1-2h0m1 0h0m1 0h0m1-3h0m1 3h0m2-1h0m2 2h0m-25 6h0m1-4h0m0 4h0m4-3h0m3 3h0m0-3h0m0 3h0m1 0h0m1-2h0m2 0h0m0 1h0m4-3h0m1 1h0m2 3h0m1-3h0m-20 9h0m0-1h0m2 2h0m2 0h0m5-3h0m0-1h0m2 1h0m2 2h0m4-1h0m1-3h0m1 2h0m0 2h0m0 0h0m4-3h0m3 3h0m-25 7h0m0-5h0m2 1h0m3 2h0m0 2h0m0 0h0m0-2h0m1-2h0m1-1h0m0 4h0m1-3h0m10 2h0m1-1h0m2-2h0m0 5h0m0-3h0m1 3h0m0-1h0m0 0h0m1 1h0m1 0h0m1-2h0m-26 4h0m3-1h0m1 0h0m3 4h0m1-2h0m0 0h0m2 0h0m0 1h0m2-3h0m4 3h0m2 1h0m1-2h0m0 2h0m1 1h0m0-3h0m1 3h0m3-2h0m-23 3h0m2 3h0m0 0h0m1 0h0m1 0h0m2 2h0m1-3h0m2 3h0m2-3h0m4-2h0m1 1h0m0-1h0m2 5h0m0-1h0m0-4h0m1 2h0m3 3h0m-22 1h0m1 2h0m1 1h0m1 0h0m0-3h0m2 1h0m0 2h0m1 1h0m5 1h0m1 0h0m2-3h0m1 1h0m1 0h0m2 1h0m1 0h0m0-3h0m0 1h0m0-2h0m1 2h0m0-2h0m1 3h0m2-2h0m-19 10h0m0-5h0m3 0h0m1 5h0m2-1h0m2-4h0m1 0h0m2 3h0m1 0h0m4-2h0m1 3h0m0-3h0m-9 5h0m6 0h0" stroke="#000" stroke-width="1.6" stroke-linecap="round" fill="none"/>
<path d="M471.3 57.6 L472.3 56.7 L472.9 54.9 L470.8 53.1 L468.7 46.8 L468.7 41.5 L470.8 35.2 L473.3 28.9 L474.1 22.6 L474.5 22.6 L475.3 28.9 L477.8 35.2 L479.9 41.5 L479.9 46.8 L477.8 53.1 L475.7 54.9 L476.3 56.7 L477.3 57.6Z" fill="#c09a2c" stroke="#222" stroke-width="0.4"/>
<g opacity="0.72">
<path d="M471.2 53.1 L469.3 46.8 L469.3 41.5 L471.2 35.2 L473.4 28.9 L474.2 22.6 L474.5 22.6 L475.2 28.9 L477.5 35.2 L479.4 41.5 L479.4 46.8 L477.5 53.1Z" fill="#000" stroke="none" stroke-width="0.4"/>
</g>
<path transform="scale(.5)" d="M949 47h0m-1 4h0m1 0h0m0-1h0m0 2h0m1 0h0m-3 3h0m2-1h0m1 1h0m1 4h0m-6 6h0m0-2h0m1 1h0m2-3h0m3 2h0m0 1h0m1-3h0m0 2h0m-10 8h0m4 0h0m1-5h0m0 3h0m1-2h0m3 0h0m0 1h0m2 1h0m0-2h0m0 1h0m1 3h0m2 0h0m-16 5h0m0 0h0m1 0h0m2-3h0m1 1h0m1 0h0m1 3h0m1-2h0m1 0h0m1-3h0m0 1h0m1 2h0m0-1h0m1 2h0m2-4h0m0 3h0m1-3h0m0 1h0m2 0h0m1 2h0m1 0h0m-21 8h0m1-1h0m1-4h0m0 3h0m1 1h0m0-4h0m1 1h0m0 1h0m1 1h0m0-1h0m1-2h0m1 2h0m1-2h0m2 0h0m1 4h0m1 1h0m0-3h0m1-1h0m1 3h0m1-3h0m0 1h0m0 1h0m1 1h0m1-3h0m1-1h0m0 3h0m1-1h0m0-2h0m1 4h0m1-3h0m1 4h0m0 0h0m-23 2h0m1 4h0m3-3h0m0-1h0m1-1h0m1 3h0m0 1h0m0 1h0m3-5h0m1 5h0m0-2h0m0-3h0m1 1h0m1 4h0m0-2h0m1 1h0m0-2h0m1-2h0m0 4h0m0-3h0m1 3h0m1-1h0m1-3h0m1 3h0m0 2h0m1-2h0m0 0h0m1-2h0m0-1h0m1 3h0m3 1h0m0 0h0m0-2h0m0 3h0m1-4h0m0 1h0m-24 4h0m1 5h0m1-1h0m1 1h0m0 0h0m1-1h0m2-4h0m1 5h0m1-3h0m1-1h0m0 0h0m2 4h0m1-4h0m3 2h0m0 1h0m0-3h0m3-1h0m1 1h0m0 2h0m1-2h0m1-1h0m-19 9h0m2-1h0m1 1h0m1-1h0m2 3h0m1-3h0m0 2h0m0 1h0m0-1h0m1 0h0m1-3h0m1 2h0m1-1h0m0 2h0m1-2h0m0 3h0m0-4h0m1 0h0m2 4h0m1-1h0m0 1h0m1-4h0m1-1h0m0 4h0m1 0h0m-16 7h0m1-2h0m0 0h0m1 2h0m0-1h0m2-2h0m3-2h0m1 1h0m1 4h0m0-1h0m2-1h0m0-2h0m1 4h0m1-2h0m0-2h0m0 4h0m1-3h0m-15 4h0m2 5h0m2-1h0m1 1h0m0-3h0m0 0h0m2-2h0m0 5h0m2-1h0m2 1h0m1-5h0m0 0h0m-11 6h0m2 0h0m6 0h0m4 1h0m2-1h0m0 0h0" stroke="#000" stroke-width="1.6" stroke-linecap="round" fill="none"/>
<path d="M484.3 57.6 L485.3 56.7 L486.0 54.9 L483.8 53.1 L481.8 46.8 L482.1 40.6 L484.1 34.3 L486.1 28.9 L487.1 23.5 L487.5 23.5 L488.5 28.9 L490.5 34.3 L492.5 40.6 L492.8 46.8 L490.8 53.1 L488.6 54.9 L489.3 56.7 L490.3 57.6Z" fill="#5ec22c" stroke="#222" stroke-width="0.4"/>
<g opacity="0.5">
<path d="M484.1 53.1 L482.3 46.8 L482.6 40.6 L484.4 34.3 L486.2 28.9 L487.1 23.5 L487.5 23.5 L488.4 28.9 L490.2 34.3 L492.0 40.6 L492.2 46.8 L490.4 53.1Z" fill="#000" stroke="none" stroke-width="0.4"/>
</g>
<path transform="scale(.5)" d="M975 47h0m0 6h0m1-1h0m-4 5h0m2-2h0m0 2h0m0-2h0m0 4h0m1 0h0m0-2h0m1 2h0m-6 6h0m1-4h0m0 3h0m1-2h0m1-1h0m1 1h0m1 2h0m0-2h0m0 2h0m2-2h0m1 2h0m2 0h0m-13 7h0m3-4h0m0 3h0m2-4h0m1 1h0m1-1h0m0 5h0m0-3h0m1-1h0m0 1h0m1 2h0m1 1h0m1-1h0m0 1h0m2-5h0m0 1h0m1 1h0m-15 8h0m1-3h0m1-1h0m0 2h0m1 1h0m0-3h0m0 1h0m1 2h0m1 2h0m2-4h0m0 3h0m0-4h0m0 3h0m0 2h0m1-4h0m0 2h0m1 0h0m0-1h0m2 0h0m0 3h0m0-2h0m2-1h0m1 3h0m1 0h0m0-2h0m0-2h0m2 3h0m0-3h0m1 3h0m-19 2h0m0 4h0m0-4h0m1 5h0m0 0h0m1-1h0m1-4h0m0 4h0m0-4h0m2 0h0m0 4h0m1-3h0m1 4h0m0-3h0m0 0h0m0-2h0m2 3h0m0 1h0m2-3h0m2-1h0m0 4h0m3-1h0m1-3h0m1 1h0m1 0h0m0 1h0m0 2h0m1 0h0m1-1h0m-22 8h0m1-5h0m2 3h0m0-2h0m1 0h0m0 3h0m1-2h0m0 0h0m0 2h0m1-3h0m0 2h0m1 1h0m0-2h0m3-2h0m0 0h0m3 3h0m2-3h0m1 0h0m0 2h0m0-2h0m1 2h0m0 0h0m0-2h0m1 4h0m0-4h0m1 0h0m0 5h0m1 0h0m1-1h0m0-2h0m1 0h0m-23 9h0m0-2h0m0 1h0m2 1h0m0-3h0m0 3h0m1-3h0m0 2h0m5 0h0m0-4h0m0 0h0m0 3h0m0 0h0m1 0h0m3-1h0m0 0h0m0-2h0m2 0h0m2 3h0m0 1h0m0-3h0m2 1h0m1 3h0m0-1h0m1 1h0m1-2h0m2 1h0m-22 4h0m1 0h0m1 2h0m1-1h0m1 1h0m2 1h0m1-4h0m1 2h0m0 0h0m1-2h0m2-1h0m0 0h0m0 5h0m2-3h0m0 1h0m0 2h0m0-4h0m1 2h0m0-1h0m1 3h0m1-1h0m2-2h0m3 0h0m0 0h0m-19 4h0m1 2h0m1-2h0m1 4h0m1-2h0m1 0h0m1 1h0m0-1h0m1 3h0m1-5h0m0 0h0m1 2h0m0-1h0m1-1h0m1 1h0m2 2h0m1 0h0m0 2h0m1-2h0m1-2h0m1 0h0m1-1h0m-16 11h0m0-3h0m1 2h0m1 0h0m0-2h0m1 1h0m1-3h0m3 5h0m0 0h0m1-4h0m0 3h0m1 0h0m3 0h0m-11 2h0m0 0h0m2 0h0m0 0h0m5 0h0" stroke="#000" stroke-width="1.6" stroke-linecap="round" fill="none"/>
<path d="M497.2 57.6 L498.2 56.7 L498.9 54.9 L496.2 52.2 L494.6 45.9 L495.1 40.6 L497.2 34.3 L499.2 29.8 L500.1 26.2 L500.4 26.2 L501.2 29.8 L503.2 34.3 L505.4 40.6 L505.9 45.9 L504.2 52.2 L501.6 54.9 L502.2 56.7 L503.2 57.6Z" fill="#50d4a0" stroke="#222" stroke-width="0.4"/>
<g opacity="0.42">
<path d="M496.6 52.2 L495.2 45.9 L495.6 40.6 L497.6 34.3 L499.4 29.8 L500.1 26.2 L500.4 26.2 L501.1 29.8 L502.9 34.3 L504.9 40.6 L505.3 45.9 L503.9 52.2Z" fill="#000" stroke="none" stroke-width="0.4"/>
</g>
<path transform="scale(.5)" d="M1000 57h0m0 1h0m1-1h0m-4 7h0m1-3h0m1 3h0m0 1h0m0-3h0m2 0h0m1-2h0m2 4h0m0 0h0m0 1h0m-8 4h0m0 1h0m3-2h0m0 1h0m0-1h0m0 0h0m2 2h0m1-4h0m0 3h0m1 1h0m0-2h0m1 2h0m0 0h0m1-1h0m0-2h0m1 1h0m0 0h0m1 1h0m0 2h0m0 0h0m-14 4h0m1 1h0m1-4h0m1 2h0m1 1h0m1 0h0m3 1h0m3-2h0m2-2h0m0 1h0m1 3h0m1-3h0m-19 9h0m0 1h0m2 0h0m0-3h0m1-1h0m1 2h0m0 1h0m0-1h0m0-1h0m0-2h0m2 1h0m0 1h0m2 3h0m1-4h0m0-1h0m3 5h0m0 0h0m1-2h0m2-1h0m0 2h0m1-3h0m0 1h0m1-1h0m0 3h0m1 1h0m0-1h0m1 1h0m1-5h0m0 1h0m0 1h0m0 3h0m1-3h0m0 0h0m0-2h0m-21 8h0m1-2h0m2 3h0m1-3h0m0 3h0m2 2h0m1-2h0m1-2h0m0 1h0m0 0h0m0 1h0m1-2h0m1 3h0m1-1h0m0 1h0m2 0h0m1 0h0m1 1h0m1 0h0m0-5h0m1 4h0m0-3h0m0 3h0m1 1h0m0-2h0m1-1h0m1 3h0m0 0h0m0-3h0m-21 4h0m1 3h0m1 1h0m0-2h0m0 0h0m0 1h0m1 0h0m0-2h0m2 0h0m1 0h0m0 4h0m1-1h0m1-4h0m2 4h0m0-1h0m1 2h0m0 0h0m0-3h0m0 1h0m0-3h0m3 2h0m0 1h0m1-3h0m0 5h0m3-5h0m0 5h0m1-4h0m0 4h0m1-2h0m1-3h0m0 3h0m1 1h0m0 1h0m-20 2h0m3 4h0m2-1h0m2 1h0m0-4h0m2 0h0m3 1h0m0-2h0m1 3h0m4-3h0m0 0h0m0 5h0m2-3h0m1 0h0m0 2h0m1-4h0m-19 9h0m0 1h0m1-3h0m0 2h0m1 1h0m1-1h0m0-3h0m1 3h0m1-2h0m2 1h0m2 1h0m0-1h0m4 3h0m0-1h0m1-4h0m0 5h0m0-1h0m3 1h0m-17 2h0m1-1h0m0 5h0m1-2h0m0-2h0m0 1h0m2 2h0m1 0h0m1-3h0m2 2h0m0 1h0m0-2h0m2-1h0m0 2h0m0 2h0m1-2h0m0 2h0m2 0h0m2 0h0m1-1h0m-14 2h0m4 0h0m3 0h0m1 0h0m2 1h0" stroke="#000" stroke-width="1.6" stroke-linecap="round" fill="none"/>
<path d="M510.2 57.6 L511.2 56.7 L511.9 54.9 L509.4 52.2 L507.8 45.9 L508.2 40.6 L510.2 36.1 L512.2 32.5 L513.0 29.8 L513.4 29.8 L514.2 32.5 L516.2 36.1 L518.2 40.6 L518.6 45.9 L517.0 52.2 L514.5 54.9 L515.2 56.7 L516.2 57.6Z" fill="#58c4ee" stroke="#222" stroke-width="0.4"/>
<g opacity="0.38">
<path d="M509.8 52.2 L508.3 45.9 L508.7 40.6 L510.5 36.1 L512.3 32.5 L513.0 29.8 L513.4 29.8 L514.1 32.5 L515.9 36.1 L517.7 40.6 L518.1 45.9 L516.6 52.2Z" fill="#000" stroke="none" stroke-width="0.4"/>
</g>
<path transform="scale(.5)" d="M1025 64h0m1 1h0m0-2h0m0-2h0m2 4h0m-6 5h0m2-1h0m1 1h0m0-1h0m1 1h0m0 1h0m1 0h0m0 0h0m1 0h0m1 0h0m-10 4h0m0 1h0m1-1h0m1 1h0m0 0h0m2-1h0m0-1h0m1 1h0m4 1h0m0 1h0m1-5h0m1 0h0m0 1h0m1 2h0m0-1h0m0-2h0m0 3h0m0-3h0m1 5h0m1-4h0m-17 7h0m1 0h0m1-1h0m0 2h0m0-2h0m1 1h0m1-1h0m0 3h0m2-2h0m3-1h0m0 0h0m1 4h0m1-3h0m1 1h0m0 2h0m1-1h0m1 0h0m0 1h0m0 0h0m1 0h0m2-2h0m1 2h0m0-2h0m1 1h0m0-4h0m0 5h0m1 0h0m1 0h0m0-2h0m-21 6h0m0 1h0m2-3h0m0 1h0m1 1h0m0-2h0m1 1h0m0-1h0m1 1h0m0 0h0m2 2h0m1-4h0m0 2h0m2 2h0m1 0h0m1-2h0m4 2h0m2 1h0m2-1h0m1-3h0m-20 8h0m4 1h0m0-2h0m3-1h0m0 3h0m0-1h0m0 0h0m0-2h0m3 1h0m0 0h0m1 0h0m1 2h0m2-1h0m0 0h0m1-3h0m0 5h0m1-2h0m1-1h0m-17 9h0m1-1h0m1-3h0m2-1h0m0 4h0m1-4h0m1 3h0m0 1h0m2-1h0m0-2h0m1-1h0m1 3h0m0-3h0m1 4h0m1-2h0m1-1h0m0-1h0m0 4h0m1-3h0m0 0h0m0 1h0m0 1h0m0 0h0m1 1h0m0 1h0m1-3h0m0 2h0m2 1h0m0-1h0m0-4h0m0 0h0m1 1h0m0 3h0m-17 2h0m0 4h0m0-1h0m1 0h0m0-2h0m2 3h0m1 0h0m1 0h0m0 1h0m0 0h0m1-2h0m1 0h0m1-1h0m1 1h0m0-3h0m1 1h0m2 3h0m0-3h0m0 1h0m0 1h0m1 2h0m0-1h0m0-2h0m1 2h0m1-2h0m1-2h0m-17 9h0m0-1h0m1 1h0m1-3h0m0 0h0m2 3h0m1-2h0m3 1h0m0 1h0m0 1h0m2 1h0m1-1h0m2-2h0m1 3h0m1-1h0m0-2h0m-8 4h0m6 0h0m4 1h0" stroke="#000" stroke-width="1.6" stroke-linecap="round" fill="none"/>
<path d="M523.1 57.6 L524.5 55.8 L523.8 53.1 L521.1 49.5 L520.4 43.2 L521.1 39.7 L523.6 37.4 L525.9 36.5 L526.4 36.5 L528.6 37.4 L531.1 39.7 L531.9 43.2 L531.1 49.5 L528.5 53.1 L527.8 55.8 L529.1 57.6Z" fill="#a48cf8" stroke="#222" stroke-width="0.4"/>
<path transform="scale(.5)" d="M1047 76h0m-5 5h0m4 1h0m3-4h0m4 0h0m5 5h0m5-3h0m-21 7h0m7 0h0m11-2h0m2 1h0m-19 8h0m4-2h0m2 1h0m8-1h0m4 2h0m0-2h0m-18 8h0m4-2h0m0-1h0m2-1h0m13 3h0m-9 7h0m2 0h0m2 2h0" stroke="#000" stroke-width="1.6" stroke-linecap="round" fill="none"/>
<path d="M535.9 57.6 L535.5 54.9 L534.5 51.3 L534.5 45.9 L535.5 41.5 L537.1 38.8 L538.8 37.4 L539.4 37.4 L541.1 38.8 L542.7 41.5 L543.7 45.9 L543.7 51.3 L542.7 54.9 L542.3 57.6Z" fill="#f866e6" stroke="#222" stroke-width="0.4"/>
<path transform="scale(.5)" d="M1072 81h0m1 0h0m6 2h0m-1 2h0m5 3h0m-12 6h0m2-4h0m2 5h0m4 0h0m6-3h0m-12 5h0m15 1h0m-4 8h0m3-1h0m-17 8h0m0-3h0m0 3h0m2-5h0m11 0h0m-5 6h0" stroke="#000" stroke-width="1.6" stroke-linecap="round" fill="none"/>
<line x1="581.70" y1="22.20" x2="581.70" y2="59.00" stroke="#222" stroke-width="0.9"/>
<line x1="581.70" y1="59.00" x2="680.00" y2="59.00" stroke="#222" stroke-width="0.9"/>
<line x1="579.70" y1="23.70" x2="581.70" y2="23.70" stroke="#222" stroke-width="0.7"/>
<text x="578.3" y="26.3" font-size="7.4" text-anchor="end" fill="#222">3</text>
<line x1="579.70" y1="35.40" x2="581.70" y2="35.40" stroke="#222" stroke-width="0.7"/>
<text x="578.3" y="38.0" font-size="7.4" text-anchor="end" fill="#222">2</text>
<line x1="579.70" y1="47.00" x2="581.70" y2="47.00" stroke="#222" stroke-width="0.7"/>
<text x="578.3" y="49.6" font-size="7.4" text-anchor="end" fill="#222">1</text>
<line x1="579.70" y1="58.20" x2="581.70" y2="58.20" stroke="#222" stroke-width="0.7"/>
<text x="578.3" y="60.8" font-size="7.4" text-anchor="end" fill="#222">0</text>
<line x1="590.80" y1="59.00" x2="590.80" y2="60.80" stroke="#222" stroke-width="0.7"/>
<text x="593.6" y="63.6" font-size="8.6" text-anchor="end" fill="#222" transform="rotate(-45 593.6 63.6)">C1</text>
<line x1="604.33" y1="59.00" x2="604.33" y2="60.80" stroke="#222" stroke-width="0.7"/>
<text x="607.1" y="63.6" font-size="8.6" text-anchor="end" fill="#222" transform="rotate(-45 607.1 63.6)">C2</text>
<line x1="617.86" y1="59.00" x2="617.86" y2="60.80" stroke="#222" stroke-width="0.7"/>
<text x="620.7" y="63.6" font-size="8.6" text-anchor="end" fill="#222" transform="rotate(-45 620.7 63.6)">C3</text>
<line x1="631.39" y1="59.00" x2="631.39" y2="60.80" stroke="#222" stroke-width="0.7"/>
<text x="634.2" y="63.6" font-size="8.6" text-anchor="end" fill="#222" transform="rotate(-45 634.2 63.6)">C4</text>
<line x1="644.92" y1="59.00" x2="644.92" y2="60.80" stroke="#222" stroke-width="0.7"/>
<text x="647.7" y="63.6" font-size="8.6" text-anchor="end" fill="#222" transform="rotate(-45 647.7 63.6)">C5</text>
<line x1="658.45" y1="59.00" x2="658.45" y2="60.80" stroke="#222" stroke-width="0.7"/>
<text x="661.2" y="63.6" font-size="8.6" text-anchor="end" fill="#222" transform="rotate(-45 661.2 63.6)">C6</text>
<line x1="671.98" y1="59.00" x2="671.98" y2="60.80" stroke="#222" stroke-width="0.7"/>
<text x="674.8" y="63.6" font-size="8.6" text-anchor="end" fill="#222" transform="rotate(-45 674.8 63.6)">C7</text>
<text x="563.5" y="40.2" font-size="8.4" text-anchor="middle" fill="#222" transform="rotate(-90 563.5 40.2)">Expression Level</text>
<text x="631.0" y="15.8" font-size="9.5" text-anchor="middle" font-weight="bold" fill="#111">CD34</text>
<path d="M587.6 58.2 L588.4 57.1 L586.3 55.3 L584.8 52.5 L584.6 32.9 L585.8 28.3 L588.8 24.9 L590.5 22.6 L591.1 22.6 L592.8 24.9 L595.8 28.3 L597.0 32.9 L596.8 52.5 L595.3 55.3 L593.2 57.1 L594.0 58.2Z" fill="#ee6e6a" stroke="#222" stroke-width="0.4"/>
<g opacity="0.97">
<path d="M585.4 52.5 L585.2 32.9 L586.3 28.3 L589.0 24.9 L590.5 22.6 L591.1 22.6 L592.6 24.9 L595.3 28.3 L596.4 32.9 L596.2 52.5Z" fill="#000" stroke="none" stroke-width="0.4"/>
</g>
<path transform="scale(.5)" d="M1178 53h0m3-4h0m2 2h0m4 0h0m-17 8h0m2-2h0m8 0h0m1-3h0m1 2h0m1 1h0m1-3h0m1 4h0m2-2h0m2 3h0m-19 5h0m2-2h0m3 3h0m4-3h0m1 2h0m0-4h0m0 2h0m3 2h0m3-2h0m4 1h0m5 2h0m-23 3h0m2 1h0m3 0h0m0-2h0m1-1h0m4 0h0m0 1h0m0 2h0m0-3h0m1 2h0m2 0h0m0 0h0m1 2h0m3-1h0m2 1h0m1 0h0m2-2h0m-25 4h0m4 2h0m1 0h0m2-1h0m1 4h0m2 0h0m1 0h0m2-3h0m1-1h0m8 2h0m-18 7h0m3-2h0m3 2h0m4-3h0m2 4h0m0-4h0m0 0h0m1 0h0m4 4h0m0-2h0m1 1h0m2-3h0m0 2h0m-25 6h0m5-2h0m5 1h0m1-1h0m0 1h0m0 1h0m2 1h0m1 0h0m3-4h0m2 3h0m4 1h0m1-1h0m0-3h0m-23 10h0m0-1h0m1-3h0m2 3h0m3 0h0m0-1h0m0 3h0m1-5h0m1 3h0m0-2h0m8 4h0m0-2h0m5-2h0m2 4h0m1-3h0m0 0h0m0 3h0m-23 1h0m1 1h0m0 0h0m2-1h0m0 1h0m4 2h0m2-3h0m5 5h0m1-2h0m0 0h0m1-1h0m0-2h0m1 0h0m4 1h0m3 3h0m-22 6h0m1 0h0m0 1h0m1-5h0m3 0h0m2 3h0m0-1h0m2 0h0m2 1h0m4-3h0m0 4h0m2-2h0m1 0h0m0 3h0m3-3h0m1 2h0m0-2h0m-20 4h0m1 0h0m2 2h0m1 3h0m2-5h0m3 4h0m3-4h0m0 2h0m0-2h0m5 1h0m0 4h0m0-2h0m1-1h0m0 3h0m1-3h0m-23 5h0m7 0h0m1-1h0m3 0h0m1 2h0m6-2h0m1 1h0m3 1h0" stroke="#000" stroke-width="1.6" stroke-linecap="round" fill="none"/>
<path d="M601.3 58.2 L602.1 57.1 L600.8 54.8 L599.0 47.9 L599.0 39.8 L600.8 31.8 L603.3 26.0 L604.1 22.6 L604.5 22.6 L605.3 26.0 L607.8 31.8 L609.6 39.8 L609.6 47.9 L607.8 54.8 L606.5 57.1 L607.3 58.2Z" fill="#c09a2c" stroke="#222" stroke-width="0.4"/>
<g opacity="0.72">
<path d="M601.2 54.8 L599.6 47.9 L599.6 39.8 L601.2 31.8 L603.4 26.0 L604.1 22.6 L604.5 22.6 L605.2 26.0 L607.5 31.8 L609.1 39.8 L609.1 47.9 L607.5 54.8Z" fill="#000" stroke="none" stroke-width="0.4"/>
</g>
<path transform="scale(.5)" d="M1209 47h0m1 6h0m-5 2h0m2 3h0m0-4h0m3 3h0m1 2h0m0-4h0m0-1h0m0 3h0m-10 8h0m1-1h0m1-3h0m0 3h0m3-4h0m1 0h0m0 1h0m0 1h0m2 1h0m0 2h0m0-4h0m0 3h0m1 1h0m0-1h0m2-2h0m1 2h0m2 0h0m-13 6h0m1-3h0m0 3h0m2 0h0m1 1h0m0-3h0m0 0h0m1 3h0m2 0h0m1 0h0m0-4h0m1 4h0m2-1h0m1-2h0m1-1h0m-16 10h0m1-5h0m1 5h0m1-3h0m1-1h0m0 1h0m1 0h0m0 0h0m1 3h0m2-2h0m2 2h0m3-1h0m0 1h0m1-3h0m0 0h0m0 1h0m2-1h0m0 1h0m1 1h0m1-1h0m0 1h0m1-4h0m-20 6h0m3 4h0m0 1h0m0-5h0m2 2h0m3-2h0m2 0h0m1 1h0m2 3h0m1-3h0m0 0h0m2 0h0m1 0h0m2 2h0m0 0h0m1-2h0m2 0h0m-22 6h0m1 2h0m1 1h0m1-4h0m1 5h0m0-1h0m0 1h0m3-4h0m2 2h0m0 1h0m4-4h0m1 1h0m1 3h0m0-4h0m1 3h0m3 0h0m1 1h0m0-1h0m1 1h0m-20 5h0m2 2h0m0-5h0m1 2h0m3 3h0m1-4h0m0 0h0m0 0h0m1 4h0m3-4h0m0 0h0m1-1h0m1 2h0m0-2h0m2 5h0m1-1h0m0 1h0m0-1h0m0 0h0m2-4h0m0 2h0m1 1h0m1 2h0m1-4h0m0-1h0m-18 6h0m1 0h0m1 5h0m0 0h0m1 0h0m1-3h0m0-2h0m0 3h0m1 2h0m0 0h0m0-5h0m1 3h0m1 1h0m1 0h0m1-4h0m1 0h0m1 5h0m0-4h0m3 0h0m0 1h0m1 3h0m0-2h0m0-3h0m2 1h0m0-1h0m-17 7h0m0 2h0m1-3h0m1 3h0m0 1h0m1-1h0m0-3h0m0 0h0m1 5h0m2 0h0m2-3h0m2 1h0m0-1h0m1 1h0m1-1h0m0-1h0m1 2h0m1 1h0m0-1h0m-15 6h0m0-3h0m1 5h0m1-2h0m1-1h0m1 3h0m2-5h0m0 2h0m1-1h0m1 1h0m4 2h0m0-3h0m0 1h0m0 2h0m0 0h0m1 1h0m0-3h0m1-2h0m0 2h0m0-2h0m1 3h0m-14 3h0m0 1h0m1 0h0m0 1h0m5-1h0m2 1h0m0-1h0m3 1h0m1 0h0m1 0h0" stroke="#000" stroke-width="1.6" stroke-linecap="round" fill="none"/>
<path d="M614.9 58.2 L615.7 57.1 L614.4 54.8 L612.6 46.7 L612.7 38.7 L614.7 30.6 L616.7 24.9 L617.7 21.4 L618.1 21.4 L619.1 24.9 L621.1 30.6 L623.1 38.7 L623.2 46.7 L621.4 54.8 L620.1 57.1 L620.9 58.2Z" fill="#5ec22c" stroke="#222" stroke-width="0.4"/>
<g opacity="0.5">
<path d="M614.7 54.8 L613.1 46.7 L613.2 38.7 L615.0 30.6 L616.8 24.9 L617.7 21.4 L618.0 21.4 L618.9 24.9 L620.7 30.6 L622.5 38.7 L622.6 46.7 L621.0 54.8Z" fill="#000" stroke="none" stroke-width="0.4"/>
</g>
<path transform="scale(.5)" d="M1233 53h0m0 0h0m1-3h0m2-1h0m0 2h0m0 1h0m1 1h0m1-1h0m0 0h0m0-2h0m1 3h0m-7 3h0m1 3h0m1-5h0m0 1h0m3 1h0m1 2h0m1-4h0m0 2h0m0-2h0m0 3h0m1 2h0m0-4h0m-9 7h0m0 2h0m1 0h0m1-2h0m1 0h0m1 2h0m0 1h0m2 0h0m0 0h0m1-2h0m0-1h0m0-2h0m0 2h0m1 2h0m0 1h0m0-1h0m1-3h0m0-1h0m1 2h0m0-1h0m-13 5h0m3 1h0m1 1h0m1 3h0m1-5h0m1 4h0m1-4h0m1 2h0m1 3h0m1-5h0m0 1h0m1-1h0m2 1h0m0 1h0m0 0h0m1-2h0m2 3h0m-19 5h0m1 2h0m1 1h0m2-3h0m1 3h0m0-3h0m1 3h0m3-5h0m0 1h0m0 2h0m1 1h0m1-4h0m0 4h0m3 0h0m2-1h0m1-1h0m-18 4h0m0 5h0m0 0h0m2-1h0m0-4h0m1 5h0m0 0h0m0-4h0m1 0h0m1-1h0m1 3h0m1-1h0m0 1h0m0-3h0m3 0h0m0 4h0m2-2h0m1 1h0m0-3h0m0 0h0m3 5h0m1-4h0m1 0h0m0 3h0m2-2h0m1 3h0m-22 4h0m1 1h0m4-4h0m2 0h0m1 2h0m0-1h0m1 0h0m1 4h0m0-4h0m1 3h0m0-3h0m2 4h0m1 0h0m0-5h0m1 0h0m0 5h0m1-5h0m0 3h0m0-1h0m0-2h0m1 2h0m0-2h0m1 3h0m0-2h0m0 2h0m1 2h0m1-2h0m1-2h0m0 0h0m0 1h0m1 3h0m-21 6h0m0-4h0m3 2h0m0 0h0m1-2h0m2 2h0m1 0h0m1 0h0m2-3h0m1 1h0m1-1h0m0 4h0m1 1h0m1-2h0m3 2h0m1-2h0m3 1h0m-20 4h0m3-1h0m0 2h0m1 0h0m0 2h0m1 0h0m0-3h0m1 2h0m1-3h0m3 1h0m1 0h0m0 1h0m0 2h0m1 0h0m2-2h0m1-3h0m1 1h0m1 2h0m1-2h0m0 3h0m0 1h0m-16 5h0m1-1h0m1 0h0m1-2h0m0 3h0m1 1h0m0-2h0m0 0h0m1 2h0m0-4h0m1 2h0m1-1h0m0 2h0m0-1h0m0-2h0m3-1h0m1 5h0m1-1h0m1 1h0m1-1h0m0 1h0m0-1h0m2 1h0m1-4h0m-16 8h0m0 1h0m1-3h0m1 1h0m1-2h0m0 0h0m1 3h0m0 1h0m1-3h0m0 0h0m0 3h0m1-4h0m1 1h0m2 4h0m0-2h0m0 1h0m1 0h0m0-4h0m1 3h0m1-3h0m2 1h0m-14 6h0m12 1h0m0-1h0m1 1h0" stroke="#000" stroke-width="1.6" stroke-linecap="round" fill="none"/>
<path d="M628.4 58.2 L629.2 57.1 L627.9 54.8 L626.0 46.7 L626.4 38.7 L628.4 31.8 L630.4 27.2 L631.2 24.9 L631.6 24.9 L632.4 27.2 L634.4 31.8 L636.4 38.7 L636.8 46.7 L634.9 54.8 L633.6 57.1 L634.4 58.2Z" fill="#50d4a0" stroke="#222" stroke-width="0.4"/>
<g opacity="0.42">
<path d="M628.2 54.8 L626.5 46.7 L626.9 38.7 L628.7 31.8 L630.5 27.2 L631.2 24.9 L631.6 24.9 L632.3 27.2 L634.1 31.8 L635.9 38.7 L636.2 46.7 L634.5 54.8Z" fill="#000" stroke="none" stroke-width="0.4"/>
</g>
<path transform="scale(.5)" d="M1261 53h0m1 0h0m-2 3h0m1 1h0m1 0h0m1 0h0m0 0h0m0-3h0m1 0h0m1 2h0m1 3h0m-9 3h0m2 0h0m1 1h0m0-1h0m0 2h0m1-3h0m0 0h0m1 3h0m0-3h0m1 1h0m1 2h0m1-2h0m4 1h0m-13 7h0m1-2h0m0-2h0m3 4h0m2-3h0m1 3h0m2-1h0m0-1h0m2 3h0m1 0h0m1-5h0m1 2h0m1 3h0m1-1h0m-19 4h0m3 0h0m2-1h0m0 3h0m0-4h0m0 1h0m2 4h0m1-4h0m0 4h0m2 0h0m2-4h0m0 0h0m0 0h0m0-1h0m2 1h0m0 1h0m1 1h0m2-3h0m0 0h0m1 3h0m0 2h0m0-1h0m1-4h0m1 5h0m-21 4h0m0-2h0m1 0h0m2-1h0m2 4h0m0 1h0m0-1h0m0-4h0m2 2h0m1 2h0m1-3h0m1 4h0m0-1h0m0-3h0m4 4h0m1 0h0m0-5h0m2 5h0m0-5h0m3 4h0m0-3h0m1 0h0m0 2h0m-21 5h0m0-2h0m0 2h0m1 2h0m2 0h0m0 0h0m1-1h0m2 0h0m1 0h0m0-3h0m1 2h0m0-1h0m1 1h0m2 3h0m0 0h0m1-2h0m1-3h0m2 5h0m0 0h0m0-3h0m0 1h0m1 2h0m1-3h0m5-2h0m-21 8h0m0-1h0m0 3h0m1-1h0m0 2h0m0 0h0m3-2h0m0-3h0m2 2h0m1 0h0m0 0h0m0 3h0m4-1h0m1 1h0m2-4h0m0-1h0m0 3h0m1-2h0m0 3h0m0-3h0m2 4h0m0-2h0m0 1h0m-16 6h0m1-2h0m1-2h0m2 3h0m0-3h0m0 0h0m0 4h0m1-3h0m0 3h0m4-1h0m0-3h0m1 2h0m1 1h0m0 0h0m1 1h0m0-3h0m2 3h0m0-1h0m1-2h0m0 0h0m1 0h0m0 1h0m1 1h0m1 2h0m0-5h0m1 2h0m-18 8h0m0 1h0m1-2h0m0-2h0m2 4h0m1-3h0m1 0h0m1 3h0m0-5h0m1 5h0m2-4h0m1 1h0m0-1h0m3 2h0m0-2h0m0 1h0m0 3h0m1 0h0m0-5h0m1 2h0m0 1h0m0 0h0m1-1h0m1-2h0m-16 11h0m1 0h0m0 0h0m4-1h0m0-3h0m2 2h0m1-3h0m2 2h0m1 2h0m0-1h0m1-1h0m0 0h0m2 2h0m-9 3h0m0 1h0m3-1h0m2-1h0m4 0h0" stroke="#000" stroke-width="1.6" stroke-linecap="round" fill="none"/>
<path d="M641.9 58.2 L642.7 57.1 L641.6 54.8 L639.7 46.7 L640.1 39.8 L641.9 34.0 L643.9 30.6 L644.7 28.3 L645.1 28.3 L645.9 30.6 L647.9 34.0 L649.7 39.8 L650.1 46.7 L648.2 54.8 L647.1 57.1 L647.9 58.2Z" fill="#58c4ee" stroke="#222" stroke-width="0.4"/>
<g opacity="0.38">
<path d="M641.9 54.8 L640.2 46.7 L640.6 39.8 L642.2 34.0 L644.0 30.6 L644.7 28.3 L645.1 28.3 L645.8 30.6 L647.6 34.0 L649.2 39.8 L649.6 46.7 L647.9 54.8Z" fill="#000" stroke="none" stroke-width="0.4"/>
</g>
<path transform="scale(.5)" d="M1289 58h0m2 0h0m-5 7h0m0 0h0m2-3h0m0 3h0m1-1h0m1 0h0m2-2h0m0 0h0m-9 8h0m1-2h0m0 0h0m2 1h0m0-2h0m1 3h0m1-3h0m2-1h0m1 0h0m2 2h0m1 3h0m0-2h0m2 2h0m0 0h0m0-2h0m-13 4h0m1-1h0m0 4h0m1-2h0m2-2h0m1 3h0m1 0h0m1 2h0m1 0h0m1-3h0m1 2h0m1-1h0m1-2h0m0 3h0m1 0h0m2 0h0m1 1h0m-19 5h0m1-2h0m1 2h0m2-3h0m3 4h0m4-4h0m2 0h0m3 2h0m1 2h0m1-5h0m0 4h0m0 1h0m0-5h0m1 1h0m0 3h0m1-3h0m0-1h0m-20 7h0m0 3h0m0 1h0m0-4h0m0 3h0m1-2h0m0 2h0m0-2h0m1 2h0m0 0h0m1-3h0m2 2h0m2-3h0m0 1h0m1 0h0m1 4h0m1-5h0m1 1h0m0 4h0m1-5h0m0 4h0m0-3h0m3 4h0m1-2h0m0 0h0m0-2h0m0 1h0m1 0h0m0-1h0m0 4h0m1 0h0m0-3h0m0 0h0m2 0h0m0-2h0m1 2h0m-21 5h0m1 2h0m1 1h0m1 1h0m1-5h0m1 3h0m0-2h0m3 1h0m1-2h0m2 0h0m0 0h0m2 3h0m0 2h0m1-4h0m0 0h0m1 0h0m0 4h0m0-3h0m1-1h0m0 1h0m0 3h0m2-4h0m3 3h0m-21 2h0m1 0h0m0 0h0m2 2h0m0-2h0m0 0h0m1 0h0m0 3h0m1 1h0m0 1h0m1 0h0m0-1h0m1 1h0m0-1h0m0-2h0m1 1h0m0-3h0m2 5h0m1-3h0m3-1h0m1 0h0m0-1h0m0 0h0m1 1h0m1-1h0m0 2h0m1 2h0m-17 2h0m2 2h0m1-1h0m2 3h0m1-1h0m1 0h0m0 1h0m0-4h0m1 1h0m4 4h0m1 0h0m0-1h0m1-3h0m0 0h0m1-1h0m0 0h0m0 0h0m1 4h0m0-2h0m1-1h0m-15 5h0m0 2h0m1-1h0m2 2h0m1 1h0m1-4h0m1 5h0m3-4h0m0 4h0m0 0h0m1 0h0m2-5h0m-10 6h0m1 1h0m10 0h0" stroke="#000" stroke-width="1.6" stroke-linecap="round" fill="none"/>
<path d="M655.4 58.2 L655.9 56.5 L653.6 53.6 L653.6 47.9 L655.4 42.1 L657.2 36.4 L657.8 30.6 L658.3 27.2 L658.5 27.2 L659.0 30.6 L659.6 36.4 L661.4 42.1 L663.2 47.9 L663.2 53.6 L660.9 56.5 L661.4 58.2Z" fill="#a48cf8" stroke="#222" stroke-width="0.4"/>
<path transform="scale(.5)" d="M1319 70h0m-2 2h0m-5 9h0m1-3h0m3 5h0m-4 5h0m3-1h0m5 2h0m2 0h0m-14 5h0m16-3h0m-17 9h0m4 1h0m8-5h0m4 5h0m3-4h0m0-1h0m1 3h0m-17 8h0m17 0h0m-14 3h0m2-1h0m12 0h0m-14 6h0m11-1h0" stroke="#000" stroke-width="1.6" stroke-linecap="round" fill="none"/>
<path d="M669.0 58.2 L669.5 55.9 L667.8 52.5 L667.0 46.7 L667.4 41.0 L668.8 36.9 L671.7 35.2 L672.3 35.2 L675.2 36.9 L676.6 41.0 L677.0 46.7 L676.2 52.5 L674.5 55.9 L675.0 58.2Z" fill="#f866e6" stroke="#222" stroke-width="0.4"/>
<path transform="scale(.5)" d="M1337 74h0m10 2h0m2 1h0m-13 1h0m1 2h0m6 3h0m-3 4h0m12-3h0m-18 7h0m20 2h0m-18 5h0m2 1h0m8-2h0m2 2h0m3 1h0m-8 2h0m-5 9h0m8-1h0m7 1h0m-16 3h0" stroke="#000" stroke-width="1.6" stroke-linecap="round" fill="none"/>
<line x1="452.70" y1="94.00" x2="452.70" y2="129.00" stroke="#222" stroke-width="0.9"/>
<line x1="452.70" y1="129.00" x2="550.00" y2="129.00" stroke="#222" stroke-width="0.9"/>
<line x1="450.70" y1="95.50" x2="452.70" y2="95.50" stroke="#222" stroke-width="0.7"/>
<text x="449.3" y="98.1" font-size="7.4" text-anchor="end" fill="#222">2.0</text>
<line x1="450.70" y1="103.30" x2="452.70" y2="103.30" stroke="#222" stroke-width="0.7"/>
<text x="449.3" y="105.9" font-size="7.4" text-anchor="end" fill="#222">1.5</text>
<line x1="450.70" y1="111.90" x2="452.70" y2="111.90" stroke="#222" stroke-width="0.7"/>
<text x="449.3" y="114.5" font-size="7.4" text-anchor="end" fill="#222">1.0</text>
<line x1="450.70" y1="120.00" x2="452.70" y2="120.00" stroke="#222" stroke-width="0.7"/>
<text x="449.3" y="122.6" font-size="7.4" text-anchor="end" fill="#222">0.5</text>
<line x1="450.70" y1="128.20" x2="452.70" y2="128.20" stroke="#222" stroke-width="0.7"/>
<text x="449.3" y="130.8" font-size="7.4" text-anchor="end" fill="#222">0.0</text>
<line x1="460.90" y1="129.00" x2="460.90" y2="130.80" stroke="#222" stroke-width="0.7"/>
<text x="463.7" y="133.6" font-size="8.6" text-anchor="end" fill="#222" transform="rotate(-45 463.7 133.6)">C1</text>
<line x1="474.36" y1="129.00" x2="474.36" y2="130.80" stroke="#222" stroke-width="0.7"/>
<text x="477.2" y="133.6" font-size="8.6" text-anchor="end" fill="#222" transform="rotate(-45 477.2 133.6)">C2</text>
<line x1="487.82" y1="129.00" x2="487.82" y2="130.80" stroke="#222" stroke-width="0.7"/>
<text x="490.6" y="133.6" font-size="8.6" text-anchor="end" fill="#222" transform="rotate(-45 490.6 133.6)">C3</text>
<line x1="501.28" y1="129.00" x2="501.28" y2="130.80" stroke="#222" stroke-width="0.7"/>
<text x="504.1" y="133.6" font-size="8.6" text-anchor="end" fill="#222" transform="rotate(-45 504.1 133.6)">C4</text>
<line x1="514.74" y1="129.00" x2="514.74" y2="130.80" stroke="#222" stroke-width="0.7"/>
<text x="517.5" y="133.6" font-size="8.6" text-anchor="end" fill="#222" transform="rotate(-45 517.5 133.6)">C5</text>
<line x1="528.20" y1="129.00" x2="528.20" y2="130.80" stroke="#222" stroke-width="0.7"/>
<text x="531.0" y="133.6" font-size="8.6" text-anchor="end" fill="#222" transform="rotate(-45 531.0 133.6)">C6</text>
<line x1="541.66" y1="129.00" x2="541.66" y2="130.80" stroke="#222" stroke-width="0.7"/>
<text x="544.5" y="133.6" font-size="8.6" text-anchor="end" fill="#222" transform="rotate(-45 544.5 133.6)">C7</text>
<text x="435.0" y="111.0" font-size="8.4" text-anchor="middle" fill="#222" transform="rotate(-90 435.0 111.0)">Expression Level</text>
<text x="500.7" y="86.0" font-size="9.5" text-anchor="middle" font-weight="bold" fill="#111">PROX1</text>
<line x1="460.90" y1="128.20" x2="460.90" y2="95.40" stroke="#777" stroke-width="0.7"/>
<rect x="455.40" y="127.40" width="11.00" height="1.60" fill="#1a1a1a"/>
<path transform="scale(.5)" d="M921 212h0m4 0h0m0 2h0m-10 7h0m10-2h0m-8 7h0m1 1h0m0-2h0m4 0h0m8-1h0m-17 9h0m1-1h0m5-1h0m1-1h0m2-1h0m3 3h0m1-1h0m4-3h0m3 0h0m0 5h0m-22 1h0m2 0h0m0 5h0m0-3h0m1-1h0m1 1h0m2-1h0m2-1h0m2 1h0m2-1h0m8 5h0m3-4h0m-23 10h0m2-5h0m1 2h0m2 2h0m1-4h0m3 3h0m3 0h0m0 0h0m1-3h0m6 2h0m2 1h0m0-2h0m0 4h0m1-1h0m0 0h0m-21 6h0m4 0h0m3-4h0m1 5h0m4-4h0m1 1h0m1 0h0m8-2h0m-21 9h0m6-3h0m0 2h0m7-1h0m3-1h0" stroke="#333" stroke-width="1.4" stroke-linecap="round" fill="none"/>
<line x1="474.36" y1="128.20" x2="474.36" y2="93.76" stroke="#777" stroke-width="0.7"/>
<rect x="468.86" y="127.40" width="11.00" height="1.60" fill="#1a1a1a"/>
<path transform="scale(.5)" d="M948 214h0m-10 5h0m14 0h0m1-2h0m-3 10h0m1-3h0m4 3h0m1-2h0m-10 5h0m6 0h0m3 0h0m4-1h0m0-1h0m-17 6h0m1 4h0m0-4h0m5 4h0m-11 6h0m3-1h0m1-3h0m2 1h0m1-1h0m0 2h0m3 3h0m8-2h0m4-3h0m-22 7h0m5 0h0m3 1h0m0 2h0m1-1h0m10 1h0m5-3h0m-20 5h0m1 2h0m3 2h0m1-3h0m12-1h0m2 1h0m0 1h0" stroke="#333" stroke-width="1.4" stroke-linecap="round" fill="none"/>
<line x1="487.82" y1="128.20" x2="487.82" y2="97.04" stroke="#777" stroke-width="0.7"/>
<rect x="482.32" y="127.40" width="11.00" height="1.60" fill="#1a1a1a"/>
<path transform="scale(.5)" d="M986 221h0m-19 3h0m12 0h0m1 1h0m-15 8h0m0-4h0m3 4h0m4 0h0m3-5h0m1 2h0m8 1h0m1 0h0m1 0h0m-22 8h0m7-1h0m2-3h0m1 4h0m3-4h0m4 1h0m-14 6h0m1 1h0m0 1h0m1-3h0m1 2h0m5-2h0m2 0h0m3 0h0m2 3h0m-14 6h0m1-1h0m2-3h0m3 2h0m-8 8h0m0-2h0m6-1h0" stroke="#333" stroke-width="1.4" stroke-linecap="round" fill="none"/>
<line x1="501.28" y1="128.20" x2="501.28" y2="105.24" stroke="#777" stroke-width="0.7"/>
<rect x="495.78" y="127.40" width="11.00" height="1.60" fill="#1a1a1a"/>
<path transform="scale(.5)" d="M992 199h0m11 13h0m-12 5h0m8 4h0m-5 6h0m8-5h0m3 4h0m-3 2h0m-4 8h0m5 3h0m2-2h0m1-3h0m-13 7h0m7 7h0m1-2h0m1 0h0m1 5h0m5-1h0m3-2h0m2 3h0m1 0h0m-16 2h0m2 0h0m7 3h0m7-4h0" stroke="#333" stroke-width="1.4" stroke-linecap="round" fill="none"/>
<line x1="514.74" y1="128.20" x2="514.74" y2="101.96" stroke="#777" stroke-width="0.7"/>
<rect x="509.24" y="127.40" width="11.00" height="1.60" fill="#1a1a1a"/>
<path transform="scale(.5)" d="M1029 213h0m-2 8h0m10-4h0m-10 6h0m0 4h0m4-3h0m-13 6h0m1-2h0m11 3h0m1-2h0m8 3h0m1-3h0m-22 5h0m9 2h0m1-1h0m3 4h0m1-1h0m-7 6h0m1-4h0m3 2h0m2 1h0m4-1h0m2-1h0m0 2h0m3 0h0m-14 5h0m5 3h0m5-1h0m4-2h0m-9 7h0" stroke="#333" stroke-width="1.4" stroke-linecap="round" fill="none"/>
<line x1="528.20" y1="128.20" x2="528.20" y2="103.60" stroke="#777" stroke-width="0.7"/>
<rect x="522.70" y="127.40" width="11.00" height="1.60" fill="#1a1a1a"/>
<path transform="scale(.5)" d="M1054 220h0m11 6h0m0-4h0m1 0h0" stroke="#333" stroke-width="1.4" stroke-linecap="round" fill="none"/>
<line x1="541.66" y1="128.20" x2="541.66" y2="111.80" stroke="#777" stroke-width="0.7"/>
<rect x="536.16" y="127.40" width="11.00" height="1.60" fill="#1a1a1a"/>
<path transform="scale(.5)" d="M1081 232h0m7 1h0m-5 13h0" stroke="#333" stroke-width="1.4" stroke-linecap="round" fill="none"/>
<line x1="582.80" y1="91.40" x2="582.80" y2="129.00" stroke="#222" stroke-width="0.9"/>
<line x1="582.80" y1="129.00" x2="680.00" y2="129.00" stroke="#222" stroke-width="0.9"/>
<line x1="580.80" y1="92.90" x2="582.80" y2="92.90" stroke="#222" stroke-width="0.7"/>
<text x="579.4" y="95.5" font-size="7.4" text-anchor="end" fill="#222">2.5</text>
<line x1="580.80" y1="100.20" x2="582.80" y2="100.20" stroke="#222" stroke-width="0.7"/>
<text x="579.4" y="102.8" font-size="7.4" text-anchor="end" fill="#222">2.0</text>
<line x1="580.80" y1="107.60" x2="582.80" y2="107.60" stroke="#222" stroke-width="0.7"/>
<text x="579.4" y="110.2" font-size="7.4" text-anchor="end" fill="#222">1.5</text>
<line x1="580.80" y1="114.50" x2="582.80" y2="114.50" stroke="#222" stroke-width="0.7"/>
<text x="579.4" y="117.1" font-size="7.4" text-anchor="end" fill="#222">1.0</text>
<line x1="580.80" y1="121.70" x2="582.80" y2="121.70" stroke="#222" stroke-width="0.7"/>
<text x="579.4" y="124.3" font-size="7.4" text-anchor="end" fill="#222">0.5</text>
<line x1="580.80" y1="128.20" x2="582.80" y2="128.20" stroke="#222" stroke-width="0.7"/>
<text x="579.4" y="130.8" font-size="7.4" text-anchor="end" fill="#222">0.0</text>
<line x1="591.00" y1="129.00" x2="591.00" y2="130.80" stroke="#222" stroke-width="0.7"/>
<text x="593.8" y="133.6" font-size="8.6" text-anchor="end" fill="#222" transform="rotate(-45 593.8 133.6)">C1</text>
<line x1="604.42" y1="129.00" x2="604.42" y2="130.80" stroke="#222" stroke-width="0.7"/>
<text x="607.2" y="133.6" font-size="8.6" text-anchor="end" fill="#222" transform="rotate(-45 607.2 133.6)">C2</text>
<line x1="617.84" y1="129.00" x2="617.84" y2="130.80" stroke="#222" stroke-width="0.7"/>
<text x="620.6" y="133.6" font-size="8.6" text-anchor="end" fill="#222" transform="rotate(-45 620.6 133.6)">C3</text>
<line x1="631.26" y1="129.00" x2="631.26" y2="130.80" stroke="#222" stroke-width="0.7"/>
<text x="634.1" y="133.6" font-size="8.6" text-anchor="end" fill="#222" transform="rotate(-45 634.1 133.6)">C4</text>
<line x1="644.68" y1="129.00" x2="644.68" y2="130.80" stroke="#222" stroke-width="0.7"/>
<text x="647.5" y="133.6" font-size="8.6" text-anchor="end" fill="#222" transform="rotate(-45 647.5 133.6)">C5</text>
<line x1="658.10" y1="129.00" x2="658.10" y2="130.80" stroke="#222" stroke-width="0.7"/>
<text x="660.9" y="133.6" font-size="8.6" text-anchor="end" fill="#222" transform="rotate(-45 660.9 133.6)">C6</text>
<line x1="671.52" y1="129.00" x2="671.52" y2="130.80" stroke="#222" stroke-width="0.7"/>
<text x="674.3" y="133.6" font-size="8.6" text-anchor="end" fill="#222" transform="rotate(-45 674.3 133.6)">C7</text>
<text x="563.5" y="111.0" font-size="8.4" text-anchor="middle" fill="#222" transform="rotate(-90 563.5 111.0)">Expression Level</text>
<text x="630.8" y="86.0" font-size="9.5" text-anchor="middle" font-weight="bold" fill="#111">PTPRC</text>
<line x1="591.00" y1="128.20" x2="591.00" y2="98.59" stroke="#777" stroke-width="0.7"/>
<rect x="585.50" y="127.40" width="11.00" height="1.60" fill="#1a1a1a"/>
<path transform="scale(.5)" d="M1193 192h0m-18 10h0m1-2h0m3 1h0m-9 8h0m4 0h0m4-1h0m-7 7h0m2-1h0m2-2h0m0-2h0m1 4h0m0 0h0m4 0h0m0-3h0m1 4h0m1-2h0m0 2h0m0-4h0m4-1h0m7 4h0m-22 3h0m0 4h0m0-3h0m2-1h0m1 1h0m0 1h0m1-2h0m0 4h0m4-2h0m0 1h0m5-4h0m1 0h0m1 2h0m0-1h0m0 4h0m1 0h0m3-4h0m1 1h0m1 2h0m-22 7h0m1-4h0m1-1h0m0 2h0m0-2h0m0 5h0m1-3h0m1-1h0m0 0h0m2 1h0m1-2h0m0 4h0m1-3h0m0-1h0m1 2h0m0 1h0m1 1h0m0-2h0m0 0h0m2 0h0m0 3h0m2-5h0m2 3h0m2 1h0m1-4h0m2 3h0m0 2h0m0-3h0m1 3h0m0-4h0m1 4h0m0 0h0m0-2h0m1-2h0m0 0h0m-23 7h0m0 3h0m1-5h0m0 5h0m1-1h0m1-1h0m1 0h0m0-1h0m2 2h0m1 0h0m0 0h0m3 1h0m0-5h0m0 3h0m1-2h0m0 2h0m1 0h0m1 0h0m0 1h0m1-3h0m0 2h0m1-3h0m0 4h0m1-1h0m1-2h0m0-1h0m0 5h0m1-5h0m2 5h0m1-1h0m0-2h0m1-2h0m-23 6h0m1 2h0m2 3h0m0-4h0m1 1h0m0-2h0m0 5h0m1-5h0m0 5h0m2-5h0m1 4h0m0 0h0m1 1h0m0-1h0m0 1h0m2 0h0m1-3h0m0-1h0m0 2h0m1-1h0m1-2h0m1 0h0m0 5h0m1-2h0m3 2h0m0-2h0m1 2h0m2-4h0m2-1h0m-22 8h0m2 1h0m1-3h0m1 1h0m1-1h0m1 0h0m1 0h0m0 4h0m1-3h0m1 2h0m4-2h0m1 0h0m1 3h0m3-3h0m1 2h0m2 2h0m1-3h0m-22 9h0m1-5h0m3 1h0m3 2h0m2 0h0m0 0h0m3-2h0m2 0h0m0 4h0m2-3h0m1 2h0m1-4h0m1 2h0m2 1h0m1 2h0m-23 2h0m0 2h0m2 1h0m5 0h0m3-3h0m3-1h0m2 4h0m1 0h0m5-4h0m0 2h0m2 1h0m0 0h0" stroke="#222" stroke-width="1.5" stroke-linecap="round" fill="none"/>
<line x1="604.42" y1="128.20" x2="604.42" y2="92.95" stroke="#777" stroke-width="0.7"/>
<rect x="598.92" y="127.40" width="11.00" height="1.60" fill="#1a1a1a"/>
<path transform="scale(.5)" d="M1198 211h0m3 2h0m0-3h0m1 5h0m0-2h0m0 1h0m5-1h0m0 0h0m0 1h0m3-4h0m5 0h0m3 3h0m2-1h0m-18 9h0m1-2h0m0 2h0m5 0h0m2-1h0m1-2h0m0-1h0m1-1h0m2 4h0m1 1h0m1 0h0m2-1h0m1-1h0m1-1h0m-23 4h0m1 5h0m0-1h0m3 1h0m0 0h0m2-4h0m1 3h0m0 1h0m0-4h0m0 3h0m1-4h0m1 5h0m2-4h0m0 3h0m2-2h0m0-1h0m0 1h0m1 2h0m2-4h0m0 2h0m0-2h0m1 0h0m4 2h0m1 2h0m1-4h0m-23 8h0m0 3h0m0-2h0m1 1h0m1-2h0m0-1h0m0 2h0m0-1h0m1-1h0m0 2h0m1-3h0m1 0h0m0 2h0m0 1h0m1-3h0m1 2h0m1 1h0m0 1h0m0 1h0m0-4h0m3 4h0m5-1h0m1-1h0m1 0h0m1-1h0m0 3h0m0-4h0m3-1h0m1 3h0m0 2h0m1-4h0m0 1h0m-23 7h0m1 2h0m0-2h0m2 2h0m1-5h0m0 1h0m1 4h0m4-4h0m2 4h0m1-3h0m0-2h0m1 0h0m0 2h0m0-1h0m1 4h0m2-1h0m1-2h0m3 1h0m2-3h0m-23 9h0m2-3h0m2 5h0m1-1h0m1-1h0m1-3h0m1 3h0m2-2h0m0 0h0m1 0h0m4-1h0m0 0h0m1 4h0m2 0h0m0 1h0m6-4h0m-22 6h0m0-1h0m15 2h0m0 1h0m1-3h0m0 0h0m1 5h0m5-3h0m-13 5h0m1 1h0m1-2h0" stroke="#222" stroke-width="1.5" stroke-linecap="round" fill="none"/>
<line x1="617.84" y1="128.20" x2="617.84" y2="97.18" stroke="#777" stroke-width="0.7"/>
<rect x="612.34" y="127.40" width="11.00" height="1.60" fill="#1a1a1a"/>
<path transform="scale(.5)" d="M1231 197h0m0 9h0m-2 9h0m3 0h0m1-2h0m1-3h0m8 4h0m2 0h0m1-1h0m-20 4h0m2 1h0m0 0h0m6 2h0m5-3h0m3 4h0m0-3h0m3 2h0m-14 6h0m1-2h0m2 1h0m5-1h0m1-2h0m4 0h0m1 1h0m3 0h0m-20 10h0m5-5h0m1 4h0m1-3h0m5 4h0m0-1h0m1-1h0m1 2h0m3-1h0m-14 7h0m12-1h0m0-1h0m3-1h0m0-2h0m-18 9h0m2 0h0m0-2h0m3 1h0m1-2h0m6 1h0m6-1h0m2 9h0m-5 7h0m1-3h0m3 2h0" stroke="#222" stroke-width="1.5" stroke-linecap="round" fill="none"/>
<line x1="631.26" y1="128.20" x2="631.26" y2="108.46" stroke="#777" stroke-width="0.7"/>
<rect x="625.76" y="127.40" width="11.00" height="1.60" fill="#1a1a1a"/>
<path transform="scale(.5)" d="M1269 193h0m0 1h0m3 13h0m-9 4h0m-11 9h0m3 5h0m4 2h0m2-1h0m6 0h0m1 0h0m-17 2h0m3 1h0m-1 7h0m3 1h0m11-2h0m-3 9h0m2-4h0m1 3h0m2-1h0m4 7h0" stroke="#222" stroke-width="1.5" stroke-linecap="round" fill="none"/>
<line x1="644.68" y1="128.20" x2="644.68" y2="108.46" stroke="#777" stroke-width="0.7"/>
<rect x="639.18" y="127.40" width="11.00" height="1.60" fill="#1a1a1a"/>
<path transform="scale(.5)" d="M1295 208h0m0-1h0m-17 12h0m1 0h0m1-1h0m9 1h0m5 2h0m1-5h0m-16 6h0m4 5h0m2-1h0m3 0h0m2 0h0m2-1h0m5-3h0m-19 8h0m0 1h0m1 0h0m1 1h0m13-3h0m3 4h0m-8 5h0m8-3h0m4 3h0m-21 7h0m9-2h0m8-2h0m-5 5h0m4 5h0m-10 5h0" stroke="#222" stroke-width="1.5" stroke-linecap="round" fill="none"/>
<line x1="658.10" y1="128.20" x2="658.10" y2="109.87" stroke="#777" stroke-width="0.7"/>
<rect x="652.60" y="127.40" width="11.00" height="1.60" fill="#1a1a1a"/>
<path transform="scale(.5)" d="M1328 210h0m-6 38h0m-1 8h0" stroke="#222" stroke-width="1.5" stroke-linecap="round" fill="none"/>
<path d="M666.5 128.2 L665.9 126.1 L666.5 121.1 L667.9 115.5 L668.9 111.3 L669.9 107.0 L671.2 104.2 L671.8 104.2 L673.1 107.0 L674.1 111.3 L675.1 115.5 L676.5 121.1 L677.1 126.1 L676.5 128.2Z" fill="#f866e6" stroke="#222" stroke-width="0.4"/>
<path transform="scale(.5)" d="M1342 214h0m3 6h0m0-1h0m-3 8h0m1-2h0m4 1h0m-3 2h0m-9 20h0m4 2h0m3-1h0m7 0h0m2-3h0m-15 7h0m7 3h0m10 0h0" stroke="#333" stroke-width="1.4" stroke-linecap="round" fill="none"/>
<text x="4.8" y="170.0" font-size="13.5" font-weight="bold">d</text>
<rect x="89.50" y="166.90" width="15.63" height="9.80" fill="#ee6b6b"/>
<text x="99.8" y="165.2" font-size="8.6" fill="#222" transform="rotate(-45 99.8 165.2)">C1</text>
<rect x="104.93" y="166.90" width="15.63" height="9.80" fill="#b99a2c"/>
<text x="115.2" y="165.2" font-size="8.6" fill="#222" transform="rotate(-45 115.2 165.2)">C2</text>
<rect x="120.36" y="166.90" width="15.63" height="9.80" fill="#62c22a"/>
<text x="130.7" y="165.2" font-size="8.6" fill="#222" transform="rotate(-45 130.7 165.2)">C3</text>
<rect x="135.79" y="166.90" width="15.63" height="9.80" fill="#52d6a0"/>
<text x="146.1" y="165.2" font-size="8.6" fill="#222" transform="rotate(-45 146.1 165.2)">C4</text>
<rect x="151.22" y="166.90" width="15.63" height="9.80" fill="#5cc6ec"/>
<text x="161.5" y="165.2" font-size="8.6" fill="#222" transform="rotate(-45 161.5 165.2)">C5</text>
<rect x="166.65" y="166.90" width="15.63" height="9.80" fill="#a08cf8"/>
<text x="177.0" y="165.2" font-size="8.6" fill="#222" transform="rotate(-45 177.0 165.2)">C6</text>
<rect x="182.08" y="166.90" width="15.63" height="9.80" fill="#f866ee"/>
<text x="192.4" y="165.2" font-size="8.6" fill="#222" transform="rotate(-45 192.4 165.2)">C7</text>
<text x="199.7" y="174.8" font-size="8.3" fill="#222">Cluster</text>
<rect x="89.50" y="178.20" width="15.43" height="14.62" fill="#f9e8ea"/>
<rect x="104.93" y="178.20" width="15.43" height="14.62" fill="#e7f0f7"/>
<rect x="120.36" y="178.20" width="15.43" height="14.62" fill="#e9f1f7"/>
<rect x="135.79" y="178.20" width="15.43" height="14.62" fill="#f4d5d9"/>
<rect x="151.22" y="178.20" width="15.43" height="14.62" fill="#f2cdd3"/>
<rect x="166.65" y="178.20" width="15.43" height="14.62" fill="#e05c68"/>
<rect x="182.08" y="178.20" width="15.43" height="14.62" fill="#5aa9d4"/>
<rect x="89.50" y="192.82" width="15.43" height="14.62" fill="#f5dadd"/>
<rect x="104.93" y="192.82" width="15.43" height="14.62" fill="#a9d1e5"/>
<rect x="120.36" y="192.82" width="15.43" height="14.62" fill="#c6e1ed"/>
<rect x="135.79" y="192.82" width="15.43" height="14.62" fill="#eba9af"/>
<rect x="151.22" y="192.82" width="15.43" height="14.62" fill="#db4a58"/>
<rect x="166.65" y="192.82" width="15.43" height="14.62" fill="#fbf0f0"/>
<rect x="182.08" y="192.82" width="15.43" height="14.62" fill="#a8cfe3"/>
<rect x="89.50" y="207.44" width="15.43" height="14.62" fill="#f6dcdf"/>
<rect x="104.93" y="207.44" width="15.43" height="14.62" fill="#f1c7cb"/>
<rect x="120.36" y="207.44" width="15.43" height="14.62" fill="#e9a1a8"/>
<rect x="135.79" y="207.44" width="15.43" height="14.62" fill="#f4d3d6"/>
<rect x="151.22" y="207.44" width="15.43" height="14.62" fill="#f0c3c8"/>
<rect x="166.65" y="207.44" width="15.43" height="14.62" fill="#5ba9d5"/>
<rect x="182.08" y="207.44" width="15.43" height="14.62" fill="#c6e1ed"/>
<rect x="89.50" y="222.06" width="15.43" height="14.62" fill="#f2cbcf"/>
<rect x="104.93" y="222.06" width="15.43" height="14.62" fill="#f2c9cd"/>
<rect x="120.36" y="222.06" width="15.43" height="14.62" fill="#e9a3a9"/>
<rect x="135.79" y="222.06" width="15.43" height="14.62" fill="#f0c4c8"/>
<rect x="151.22" y="222.06" width="15.43" height="14.62" fill="#f4d3d7"/>
<rect x="166.65" y="222.06" width="15.43" height="14.62" fill="#9ecce3"/>
<rect x="182.08" y="222.06" width="15.43" height="14.62" fill="#8ac3df"/>
<rect x="89.50" y="236.68" width="15.43" height="14.62" fill="#f2cbcf"/>
<rect x="104.93" y="236.68" width="15.43" height="14.62" fill="#e05b67"/>
<rect x="120.36" y="236.68" width="15.43" height="14.62" fill="#a9d1e5"/>
<rect x="135.79" y="236.68" width="15.43" height="14.62" fill="#f4d4d8"/>
<rect x="151.22" y="236.68" width="15.43" height="14.62" fill="#eba9af"/>
<rect x="166.65" y="236.68" width="15.43" height="14.62" fill="#b2d6e8"/>
<rect x="182.08" y="236.68" width="15.43" height="14.62" fill="#a9d1e5"/>
<rect x="89.50" y="251.30" width="15.43" height="14.62" fill="#d3e7f1"/>
<rect x="104.93" y="251.30" width="15.43" height="14.62" fill="#d3e7f1"/>
<rect x="120.36" y="251.30" width="15.43" height="14.62" fill="#cfe5f0"/>
<rect x="135.79" y="251.30" width="15.43" height="14.62" fill="#f8ebec"/>
<rect x="151.22" y="251.30" width="15.43" height="14.62" fill="#d1e6f0"/>
<rect x="166.65" y="251.30" width="15.43" height="14.62" fill="#cd1f3c"/>
<rect x="182.08" y="251.30" width="15.43" height="14.62" fill="#e7f0f7"/>
<rect x="89.50" y="265.92" width="15.43" height="14.62" fill="#aed3e6"/>
<rect x="104.93" y="265.92" width="15.43" height="14.62" fill="#a3cee4"/>
<rect x="120.36" y="265.92" width="15.43" height="14.62" fill="#f4d0d4"/>
<rect x="135.79" y="265.92" width="15.43" height="14.62" fill="#d4e8f1"/>
<rect x="151.22" y="265.92" width="15.43" height="14.62" fill="#eeaab1"/>
<rect x="166.65" y="265.92" width="15.43" height="14.62" fill="#d3e7f1"/>
<rect x="182.08" y="265.92" width="15.43" height="14.62" fill="#d84151"/>
<rect x="89.50" y="280.54" width="15.43" height="14.62" fill="#a9d1e5"/>
<rect x="104.93" y="280.54" width="15.43" height="14.62" fill="#c5e0ed"/>
<rect x="120.36" y="280.54" width="15.43" height="14.62" fill="#e8969e"/>
<rect x="135.79" y="280.54" width="15.43" height="14.62" fill="#f6dcdf"/>
<rect x="151.22" y="280.54" width="15.43" height="14.62" fill="#eba2a9"/>
<rect x="166.65" y="280.54" width="15.43" height="14.62" fill="#6db3d9"/>
<rect x="182.08" y="280.54" width="15.43" height="14.62" fill="#eeabb1"/>
<line x1="104.93" y1="178.20" x2="104.93" y2="295.16" stroke="#ffffff" stroke-width="0.8"/>
<line x1="120.36" y1="178.20" x2="120.36" y2="295.16" stroke="#ffffff" stroke-width="0.8"/>
<line x1="135.79" y1="178.20" x2="135.79" y2="295.16" stroke="#ffffff" stroke-width="0.8"/>
<line x1="151.22" y1="178.20" x2="151.22" y2="295.16" stroke="#ffffff" stroke-width="0.8"/>
<line x1="166.65" y1="178.20" x2="166.65" y2="295.16" stroke="#ffffff" stroke-width="0.8"/>
<line x1="182.08" y1="178.20" x2="182.08" y2="295.16" stroke="#ffffff" stroke-width="0.8"/>
<line x1="89.50" y1="192.82" x2="197.51" y2="192.82" stroke="#ffffff" stroke-width="0.8"/>
<line x1="89.50" y1="207.44" x2="197.51" y2="207.44" stroke="#ffffff" stroke-width="0.8"/>
<line x1="89.50" y1="222.06" x2="197.51" y2="222.06" stroke="#ffffff" stroke-width="0.8"/>
<line x1="89.50" y1="236.68" x2="197.51" y2="236.68" stroke="#ffffff" stroke-width="0.8"/>
<line x1="89.50" y1="251.30" x2="197.51" y2="251.30" stroke="#ffffff" stroke-width="0.8"/>
<line x1="89.50" y1="265.92" x2="197.51" y2="265.92" stroke="#ffffff" stroke-width="0.8"/>
<line x1="89.50" y1="280.54" x2="197.51" y2="280.54" stroke="#ffffff" stroke-width="0.8"/>
<rect x="89.50" y="178.20" width="108.01" height="116.96" fill="none" stroke="#333" stroke-width="0.9"/>
<text x="88.0" y="188.1" font-size="7.1" text-anchor="end" font-style="italic" fill="#222">Arterial</text>
<text x="88.0" y="202.7" font-size="7.1" text-anchor="end" font-style="italic" fill="#222">Venous</text>
<text x="88.0" y="217.3" font-size="7.1" text-anchor="end" font-style="italic" fill="#222">Capillary</text>
<text x="88.0" y="232.0" font-size="7.1" text-anchor="end" font-style="italic" fill="#222">Endothelial Senescence</text>
<text x="88.0" y="246.6" font-size="7.1" text-anchor="end" font-style="italic" fill="#222">Endothelial Proliferation</text>
<text x="88.0" y="261.2" font-size="7.1" text-anchor="end" font-style="italic" fill="#222">Endothelial Apoptosis</text>
<text x="88.0" y="275.8" font-size="7.1" text-anchor="end" font-style="italic" fill="#222">Fatty Acid Metabolism</text>
<text x="88.0" y="290.4" font-size="7.1" text-anchor="end" font-style="italic" fill="#222">Fatty Acid Oxidation</text>
<text x="201.3" y="210.6" font-size="7.1" font-weight="bold" fill="#222">Z−score</text>
<defs><linearGradient id="gz" x1="0" x2="0" y1="0" y2="1"><stop offset="0" stop-color="#cc1a36"/><stop offset="0.25" stop-color="#e88890"/><stop offset="0.5" stop-color="#ffffff"/><stop offset="0.75" stop-color="#88c0de"/><stop offset="1" stop-color="#3d98cc"/></linearGradient></defs>
<rect x="201.00" y="213.50" width="8.50" height="41.50" fill="url(#gz)"/>
<line x1="201.00" y1="215.50" x2="203.00" y2="215.50" stroke="#fff" stroke-width="0.6"/>
<line x1="207.50" y1="215.50" x2="209.50" y2="215.50" stroke="#fff" stroke-width="0.6"/>
<text x="211.5" y="218.0" font-size="7" fill="#222">2</text>
<line x1="201.00" y1="225.50" x2="203.00" y2="225.50" stroke="#fff" stroke-width="0.6"/>
<line x1="207.50" y1="225.50" x2="209.50" y2="225.50" stroke="#fff" stroke-width="0.6"/>
<text x="211.5" y="228.0" font-size="7" fill="#222">1</text>
<line x1="201.00" y1="235.00" x2="203.00" y2="235.00" stroke="#fff" stroke-width="0.6"/>
<line x1="207.50" y1="235.00" x2="209.50" y2="235.00" stroke="#fff" stroke-width="0.6"/>
<text x="211.5" y="237.5" font-size="7" fill="#222">0</text>
<line x1="201.00" y1="244.50" x2="203.00" y2="244.50" stroke="#fff" stroke-width="0.6"/>
<line x1="207.50" y1="244.50" x2="209.50" y2="244.50" stroke="#fff" stroke-width="0.6"/>
<text x="211.5" y="247.0" font-size="7" fill="#222">−1</text>
<line x1="201.00" y1="254.00" x2="203.00" y2="254.00" stroke="#fff" stroke-width="0.6"/>
<line x1="207.50" y1="254.00" x2="209.50" y2="254.00" stroke="#fff" stroke-width="0.6"/>
<text x="211.5" y="256.5" font-size="7" fill="#222">−2</text>
<text x="237.8" y="170.0" font-size="13.5" font-weight="bold">e</text>
<line x1="270.30" y1="168.00" x2="270.30" y2="279.60" stroke="#222" stroke-width="0.9"/>
<line x1="268.10" y1="169.50" x2="270.30" y2="169.50" stroke="#222" stroke-width="0.8"/>
<text x="265.7" y="172.7" font-size="8.7" text-anchor="end" fill="#222">40</text>
<line x1="268.10" y1="195.40" x2="270.30" y2="195.40" stroke="#222" stroke-width="0.8"/>
<text x="265.7" y="198.6" font-size="8.7" text-anchor="end" fill="#222">20</text>
<line x1="268.10" y1="221.30" x2="270.30" y2="221.30" stroke="#222" stroke-width="0.8"/>
<text x="265.7" y="224.5" font-size="8.7" text-anchor="end" fill="#222">0</text>
<line x1="268.10" y1="247.20" x2="270.30" y2="247.20" stroke="#222" stroke-width="0.8"/>
<text x="265.7" y="250.4" font-size="8.7" text-anchor="end" fill="#222">−20</text>
<line x1="268.10" y1="273.10" x2="270.30" y2="273.10" stroke="#222" stroke-width="0.8"/>
<text x="265.7" y="276.3" font-size="8.7" text-anchor="end" fill="#222">−40</text>
<line x1="270.30" y1="279.60" x2="396.00" y2="279.60" stroke="#222" stroke-width="0.9"/>
<line x1="297.20" y1="279.60" x2="297.20" y2="281.80" stroke="#222" stroke-width="0.8"/>
<text x="297.2" y="291.6" font-size="8.7" text-anchor="middle" fill="#222">−25</text>
<line x1="328.40" y1="279.60" x2="328.40" y2="281.80" stroke="#222" stroke-width="0.8"/>
<text x="328.4" y="291.6" font-size="8.7" text-anchor="middle" fill="#222">0</text>
<line x1="361.00" y1="279.60" x2="361.00" y2="281.80" stroke="#222" stroke-width="0.8"/>
<text x="361.0" y="291.6" font-size="8.7" text-anchor="middle" fill="#222">25</text>
<line x1="392.90" y1="279.60" x2="392.90" y2="281.80" stroke="#222" stroke-width="0.8"/>
<text x="392.9" y="291.6" font-size="8.7" text-anchor="middle" fill="#222">50</text>
<line x1="402.00" y1="279.60" x2="528.40" y2="279.60" stroke="#222" stroke-width="0.9"/>
<line x1="429.00" y1="279.60" x2="429.00" y2="281.80" stroke="#222" stroke-width="0.8"/>
<text x="429.0" y="291.6" font-size="8.7" text-anchor="middle" fill="#222">−25</text>
<line x1="460.50" y1="279.60" x2="460.50" y2="281.80" stroke="#222" stroke-width="0.8"/>
<text x="460.5" y="291.6" font-size="8.7" text-anchor="middle" fill="#222">0</text>
<line x1="492.30" y1="279.60" x2="492.30" y2="281.80" stroke="#222" stroke-width="0.8"/>
<text x="492.3" y="291.6" font-size="8.7" text-anchor="middle" fill="#222">25</text>
<line x1="524.00" y1="279.60" x2="524.00" y2="281.80" stroke="#222" stroke-width="0.8"/>
<text x="524.0" y="291.6" font-size="8.7" text-anchor="middle" fill="#222">50</text>
<text x="248.0" y="224.0" font-size="10.5" text-anchor="middle" fill="#111" transform="rotate(-90 248.0 224.0)">tSNE_2</text>
<text x="399.1" y="304.8" font-size="10.5" text-anchor="middle" fill="#111">tSNE_1</text>
<text x="333.6" y="165.0" font-size="9.3" text-anchor="middle" font-weight="bold" fill="#111">Control</text>
<text x="465.6" y="165.0" font-size="9.3" text-anchor="middle" font-weight="bold" fill="#111">Diabetic</text>
<path transform="scale(.5)" d="M677 353h0m0-1h0m1 1h0m2 0h0m2-2h0m0 0h0m1-1h0m2-1h0m0 0h0m1 1h0m2 3h0m0-2h0m0-2h0m2 2h0m0 1h0m2 1h0m0-3h0m3 3h0m3 0h0m-28 5h0m2-2h0m0 0h0m2 1h0m1-3h0m0 2h0m0-2h0m1 5h0m0-5h0m0 3h0m1-1h0m0-2h0m1 3h0m2-2h0m1 2h0m1 1h0m1-3h0m1-1h0m0 0h0m1 1h0m1 1h0m0 3h0m0-4h0m1-1h0m1 1h0m0 3h0m1-3h0m1-1h0m0 5h0m1-1h0m0-3h0m0 1h0m2 1h0m0-3h0m0 5h0m0 0h0m2-5h0m0 2h0m1 1h0m0-1h0m6 3h0m-34 4h0m2-3h0m0 2h0m0 2h0m2-1h0m1-2h0m0 2h0m1 1h0m2-3h0m0 1h0m0 3h0m1-4h0m1 2h0m0 2h0m2-1h0m0-3h0m1 3h0m1 0h0m1-4h0m0 0h0m3 1h0m0 0h0m1-1h0m0 0h0m1 0h0m0 4h0m2-1h0m1-1h0m0 1h0m1 1h0m0 1h0m2-5h0m0 2h0m0 0h0m1 3h0m0-3h0m0-2h0m1 4h0m3-3h0m1 4h0m0-2h0m1-2h0m0-1h0m62 1h0m-111 10h0m20-2h0m1-3h0m1 1h0m0 2h0m1-1h0m0 0h0m2 2h0m0-4h0m1 1h0m1 3h0m0-4h0m0 4h0m0-2h0m1 0h0m0-2h0m1 4h0m1-4h0m1 1h0m1 0h0m1 1h0m0 0h0m1-1h0m0 4h0m0 0h0m1-3h0m0 0h0m0 1h0m3-2h0m1 1h0m0-1h0m1 1h0m1-1h0m1-1h0m1 2h0m1-2h0m0 1h0m7 2h0m2 1h0m63 0h0m-164 6h0m1 0h0m1-2h0m34 1h0m0 1h0m4 1h0m4-1h0m1-2h0m0 3h0m0 0h0m3-1h0m0 1h0m1-2h0m3-1h0m1 2h0m2-1h0m0-1h0m34 2h0m30-2h0m20 1h0m22 1h0m-166 7h0m1-5h0m0 2h0m0 0h0m1-1h0m2 2h0m0 0h0m1 1h0m1-1h0m1-3h0m1 5h0m0 0h0m0-5h0m1 0h0m1 5h0m1 0h0m0-5h0m1 0h0m1 0h0m0 1h0m0 2h0m21 2h0m3 0h0m0 0h0m1-4h0m2 4h0m0-3h0m0 1h0m0 2h0m1-1h0m1 1h0m0-3h0m1 1h0m0 2h0m1-3h0m1 2h0m1-3h0m1 4h0m1-5h0m0 1h0m1 2h0m2 2h0m0-2h0m1 2h0m1-1h0m0-1h0m1 2h0m0-3h0m3 0h0m0 2h0m0-1h0m0 1h0m1-1h0m0 2h0m1-1h0m0 0h0m0 1h0m1-2h0m0 2h0m0-5h0m1 0h0m0 5h0m1-2h0m0 2h0m2-1h0m1 0h0m0 1h0m0-1h0m1 0h0m1-1h0m2 0h0m1-2h0m3 1h0m0 3h0m6-3h0m24 2h0m1-2h0m0-2h0m1 2h0m1 1h0m0 1h0m1 1h0m0 0h0m2-2h0m1 2h0m0-5h0m2 4h0m3-1h0m1-3h0m1 1h0m9 4h0m-120 2h0m0 0h0m0 0h0m0 1h0m5-1h0m23 3h0m4-3h0m1 1h0m0 0h0m1-2h0m0 5h0m1-1h0m0 0h0m0-4h0m0 0h0m0 2h0m0-1h0m1 3h0m1-2h0m0 1h0m0 0h0m0-2h0m1 0h0m1-1h0m0 2h0m0 1h0m1-1h0m1 2h0m0-2h0m0-1h0m1 1h0m0 1h0m0 0h0m0 1h0m1 0h0m0-4h0m1 3h0m0-2h0m1 3h0m1 1h0m0-2h0m0-1h0m1 2h0m0-1h0m0 0h0m0-3h0m0 2h0m0 1h0m0 0h0m0-2h0m1 2h0m0 0h0m1 2h0m0-1h0m0 0h0m0-1h0m1-2h0m0 1h0m1 0h0m0-1h0m0 3h0m0-1h0m1 1h0m0 1h0m0-2h0m0 2h0m2 0h0m1-2h0m0 2h0m0 0h0m1-5h0m0 2h0m0 2h0m1 1h0m0-4h0m1 3h0m0-2h0m1-2h0m0 5h0m1-1h0m0-1h0m0-3h0m1 2h0m1 3h0m0-1h0m1 1h0m0-2h0m1 2h0m0-3h0m1-1h0m0 0h0m1 0h0m1 0h0m0-1h0m0 0h0m1 2h0m1 3h0m0-3h0m1 3h0m0-4h0m1 1h0m0 3h0m1-5h0m0 5h0m1-4h0m1-1h0m0 0h0m1 5h0m1-1h0m0 1h0m1 0h0m4-3h0m3 1h0m1 2h0m10 0h0m2-3h0m1-1h0m1 2h0m0 0h0m1-3h0m0 3h0m2 2h0m1-1h0m0 0h0m1-1h0m2 0h0m2 1h0m3-4h0m3 4h0m1-4h0m6 3h0m4 1h0m8 1h0m-100 4h0m1-3h0m0 1h0m0 2h0m1 2h0m0-2h0m0 1h0m0-2h0m0 1h0m1 1h0m1-3h0m0 1h0m1 3h0m1-2h0m1 0h0m0-3h0m1 4h0m1-1h0m0 0h0m0 2h0m2-5h0m0 1h0m1 3h0m0-2h0m0 1h0m1-1h0m0-1h0m0 1h0m0-2h0m0 2h0m0 0h0m0-2h0m1 0h0m0 0h0m1 2h0m0-1h0m1 0h0m0 0h0m0 4h0m0-5h0m1 4h0m0-3h0m0 3h0m1-3h0m1 4h0m0-3h0m1 2h0m0-1h0m0 2h0m2-4h0m1 4h0m0 0h0m0-2h0m0 2h0m1-1h0m0 1h0m0 0h0m2 0h0m0-1h0m0-2h0m1 2h0m0 1h0m0-5h0m0 5h0m0 0h0m0-5h0m1 0h0m1 1h0m1 1h0m1 0h0m0 3h0m1-2h0m0-2h0m1 2h0m0 1h0m1-1h0m0-1h0m1 3h0m2-4h0m0-1h0m0 0h0m1 1h0m1 1h0m0-2h0m0 2h0m0 0h0m0-1h0m1 1h0m0-1h0m2 3h0m0 1h0m0-1h0m0 0h0m1-1h0m0 2h0m0-4h0m0 1h0m1 3h0m0-2h0m0-2h0m0-1h0m1 3h0m0 1h0m0-3h0m1 3h0m2 0h0m0 1h0m1-1h0m0 1h0m1-1h0m1 1h0m1-2h0m0 2h0m1-1h0m1-2h0m0-2h0m1 0h0m0 1h0m0 0h0m2-1h0m0 5h0m1-2h0m2 1h0m2-2h0m4 2h0m1-1h0m1-1h0m0 0h0m0 2h0m2 1h0m2-3h0m1-1h0m0 3h0m0-1h0m0 0h0m1 1h0m1-1h0m0-2h0m0 3h0m3-2h0m1 2h0m0-1h0m1-1h0m1 1h0m1-1h0m0 1h0m4 1h0m2-2h0m17 0h0m64 2h0m-183 5h0m14-3h0m1 4h0m0-4h0m3 4h0m1-4h0m0 1h0m1 0h0m1-1h0m1 5h0m1-2h0m1 2h0m0 0h0m1-2h0m0-1h0m0 0h0m1 1h0m0 0h0m0 1h0m0 1h0m1-2h0m0 2h0m0-4h0m1 2h0m0 2h0m1-3h0m0 3h0m1-3h0m1-2h0m0 3h0m1 0h0m0-2h0m0 4h0m1-1h0m0 0h0m2-2h0m0 3h0m1-4h0m0 2h0m1-1h0m0 2h0m1-3h0m0 3h0m0 0h0m0-1h0m0 2h0m1-5h0m0 1h0m0 4h0m1-1h0m0 1h0m0-3h0m0-1h0m1 0h0m0 4h0m1-1h0m1-2h0m0 3h0m0-3h0m1 3h0m0-3h0m1 0h0m0 0h0m0-2h0m0 1h0m1-1h0m0 0h0m0 4h0m0-2h0m0-2h0m1 0h0m0 3h0m0-3h0m0 5h0m1-1h0m0 1h0m0-4h0m0 0h0m0 0h0m1 4h0m0-4h0m1-1h0m0 5h0m2-4h0m0 1h0m0 1h0m1 2h0m0-2h0m0-2h0m0 1h0m1 3h0m1-4h0m0-1h0m0 5h0m0-1h0m1 0h0m0-2h0m0 2h0m0-1h0m0 0h0m1-3h0m1 1h0m0 3h0m0 1h0m1-1h0m0-4h0m0 5h0m1-3h0m0 2h0m0-2h0m0-1h0m0 1h0m1-2h0m0 0h0m1 3h0m0-2h0m0 4h0m0-5h0m0 5h0m1-5h0m0 2h0m0 0h0m1-2h0m0 1h0m1 4h0m1-5h0m0 1h0m0 4h0m1-4h0m0 2h0m1-1h0m0-2h0m1 2h0m0-1h0m1 2h0m1 2h0m0-5h0m0 0h0m1 0h0m1 4h0m0 1h0m0 0h0m1-2h0m0 2h0m1-2h0m3-1h0m2 0h0m1 1h0m3 2h0m0-5h0m1 5h0m1-1h0m1 1h0m0-2h0m1 0h0m0-1h0m2-2h0m1 2h0m3-2h0m0 2h0m2 0h0m3 1h0m1 2h0m0-4h0m2 4h0m1-3h0m20 3h0m14-5h0m-120 7h0m2 4h0m1-3h0m1 3h0m0-1h0m1-2h0m1 3h0m0-3h0m0-1h0m1 2h0m1 1h0m0-4h0m0 0h0m1 4h0m0-4h0m0 5h0m1-2h0m3-3h0m1 0h0m0 4h0m2-3h0m0 1h0m2 1h0m0 1h0m0-3h0m1 4h0m0-3h0m0-2h0m1 2h0m0 2h0m0 1h0m1 0h0m0-2h0m0-3h0m0 1h0m0-1h0m0 4h0m1 0h0m0-2h0m0 3h0m0-3h0m0 0h0m0 2h0m0-1h0m0 2h0m1-3h0m0-1h0m0 4h0m1-5h0m0 3h0m0 1h0m1 0h0m0-1h0m0-3h0m0 5h0m0 0h0m0-1h0m1-1h0m0-3h0m1 4h0m0 0h0m1-4h0m0 2h0m0 1h0m1 1h0m1-4h0m0 1h0m0 3h0m0-1h0m1-1h0m0 2h0m1-3h0m0-1h0m0 3h0m1-1h0m1 3h0m0-3h0m0-1h0m1-1h0m0 2h0m0-2h0m1 3h0m0 2h0m0-5h0m1 4h0m1-1h0m0 1h0m0-3h0m1 4h0m0-2h0m0-2h0m0 0h0m0 3h0m1-1h0m0-2h0m1 2h0m1-1h0m1-2h0m0 0h0m0 5h0m1-2h0m0 1h0m1 1h0m0-4h0m0 4h0m1 0h0m0-4h0m0 0h0m1-1h0m0 4h0m0-4h0m1 5h0m1-3h0m0 0h0m0 2h0m0 1h0m1-5h0m1 5h0m0-1h0m0-4h0m1 0h0m0 0h0m0 5h0m0-4h0m0-1h0m1 3h0m1-2h0m0 3h0m0-4h0m1 0h0m0 2h0m0 2h0m1 1h0m0-2h0m0-3h0m1 4h0m1 0h0m1 1h0m1-5h0m1 3h0m2 2h0m1-1h0m0-1h0m0-1h0m1 3h0m1 0h0m0-5h0m1 4h0m0 1h0m0-4h0m1 2h0m0-2h0m2-1h0m0 4h0m0-2h0m0-1h0m1 0h0m1 4h0m0-1h0m0 0h0m1 1h0m0 0h0m0-3h0m0 2h0m1-3h0m2-1h0m1 1h0m1 0h0m1 3h0m0-1h0m0-2h0m0 0h0m0 1h0m1 3h0m0 0h0m1 0h0m0-1h0m1-2h0m3-1h0m4 3h0m0-2h0m7 1h0m3 0h0m1 0h0m1-1h0m2-1h0m4 3h0m1 0h0m0-3h0m4 3h0m7-2h0m36 1h0m-155 6h0m1 2h0m0-5h0m1 2h0m1-2h0m1 2h0m0 1h0m1-1h0m1 2h0m0-4h0m0 5h0m0 0h0m1 0h0m1 0h0m0-5h0m0 5h0m0-2h0m1 2h0m0-3h0m1 1h0m0-3h0m0 1h0m0 4h0m0-5h0m0 0h0m0 2h0m1 1h0m0 2h0m1-4h0m0 1h0m0 2h0m0-1h0m0-2h0m0-1h0m1 2h0m1 3h0m0 0h0m1-2h0m0 1h0m0-2h0m0 3h0m0-5h0m0 5h0m0 0h0m0-1h0m0-3h0m1 1h0m0 1h0m1 0h0m0-2h0m0-1h0m0 1h0m0 1h0m1-2h0m0 5h0m0-1h0m1-2h0m0-2h0m1 1h0m0 1h0m0 2h0m0 0h0m0-3h0m1 3h0m0 0h0m0-3h0m0 1h0m0-1h0m1 0h0m0 3h0m0-2h0m0-1h0m0-1h0m1 0h0m0 2h0m0 1h0m1-3h0m1 3h0m1 0h0m0-1h0m1 1h0m0-3h0m0 4h0m1-3h0m0 1h0m0-2h0m0 4h0m1 1h0m0-4h0m0 4h0m0 0h0m0-4h0m0 0h0m0 0h0m1 2h0m0 2h0m1-3h0m0-2h0m0 4h0m0-3h0m1 0h0m1 0h0m1 2h0m2-3h0m0 1h0m0 2h0m1 0h0m0 2h0m1-2h0m0-2h0m0 2h0m0-1h0m1 0h0m1 1h0m0 1h0m0-2h0m1-2h0m1 1h0m0 4h0m0-3h0m0 1h0m1-3h0m1 2h0m0-1h0m1 3h0m0-4h0m1 5h0m0 0h0m0-2h0m0-2h0m1 4h0m0-5h0m1 5h0m0 0h0m0 0h0m0-1h0m1-3h0m1 3h0m0 1h0m0-3h0m0 3h0m0-2h0m1 2h0m0-4h0m0 3h0m1-1h0m0-3h0m0 0h0m1 3h0m1-2h0m0 1h0m0 3h0m1 0h0m0-3h0m0 1h0m1-3h0m0 2h0m1-2h0m3 4h0m0-1h0m1 2h0m0 0h0m0-1h0m0 1h0m0-3h0m1 3h0m1 0h0m0 0h0m3-5h0m1 1h0m0 3h0m0-4h0m1 2h0m0-2h0m0 2h0m1 0h0m0-1h0m0 2h0m0-1h0m0 2h0m2-1h0m1 1h0m0 1h0m0-1h0m0 1h0m1-5h0m1 2h0m0 2h0m1-4h0m0 0h0m0 4h0m2 1h0m0-1h0m1 0h0m1-3h0m0 3h0m0-3h0m1 2h0m0-1h0m0-2h0m1 2h0m3-1h0m1 0h0m1 4h0m1 0h0m1-5h0m0 5h0m2-4h0m2 0h0m1-1h0m0 1h0m0-1h0m7 4h0m7 0h0m1-1h0m0 1h0m1-4h0m0 5h0m2-2h0m0-2h0m2 4h0m1-4h0m0 1h0m1 3h0m3-4h0m2 4h0m3-3h0m6 1h0m19-1h0m-150 5h0m4 3h0m1-3h0m1 2h0m0 0h0m0 0h0m0 1h0m1 0h0m0 1h0m0-4h0m0-1h0m1 1h0m0 3h0m1-3h0m3 0h0m0 4h0m1-1h0m0-3h0m1 3h0m0-1h0m0-1h0m2 0h0m1-1h0m0 1h0m0-2h0m0 0h0m0 4h0m1-3h0m0 3h0m0-2h0m0-2h0m1 0h0m1 5h0m1-5h0m0 3h0m0-3h0m0 4h0m1-3h0m0 3h0m0-4h0m0 1h0m0 2h0m1-2h0m0 2h0m0 0h0m0 0h0m0-1h0m0 3h0m1-4h0m0 2h0m0 0h0m0 0h0m0 0h0m1 1h0m0-3h0m0-1h0m0 0h0m0 1h0m0 2h0m2 1h0m0-3h0m1-1h0m0 4h0m0-4h0m1 5h0m0-4h0m0 1h0m1-2h0m0 4h0m1-4h0m0 5h0m1-5h0m0 5h0m0-1h0m1-4h0m0 2h0m1 3h0m0-1h0m1-4h0m0 1h0m1 0h0m0 0h0m0-1h0m0 0h0m2 3h0m0 1h0m0-3h0m1 3h0m1-4h0m1 0h0m1 0h0m1 2h0m0 3h0m0-5h0m1 3h0m0-3h0m0 4h0m0-4h0m0 5h0m1-1h0m2-4h0m1 2h0m1 2h0m1-4h0m0 5h0m3-5h0m0 3h0m0 0h0m0-3h0m1 3h0m0-1h0m0 3h0m0-4h0m1 3h0m2-4h0m0 4h0m1-4h0m0 3h0m1 0h0m0 0h0m1-2h0m1 2h0m0 0h0m1 0h0m0 0h0m0-2h0m0 0h0m1 1h0m1 0h0m0-2h0m1 0h0m1 3h0m0 1h0m0 1h0m2-4h0m0 2h0m0-1h0m1-2h0m1 4h0m0-1h0m0 0h0m0-2h0m1 1h0m0-2h0m0 5h0m0 0h0m0-3h0m1 1h0m0-3h0m0 2h0m1-2h0m0 1h0m2 3h0m0-2h0m0-1h0m1 1h0m1 1h0m0-1h0m0-2h0m1 3h0m0 2h0m0-5h0m1 5h0m0 0h0m1-2h0m0-3h0m0 4h0m0-4h0m1 4h0m1-1h0m0-2h0m1 2h0m0-2h0m1 3h0m0-1h0m1 2h0m1-1h0m0-2h0m4 2h0m2-1h0m5-1h0m1 1h0m5-2h0m4-1h0m0 5h0m2-4h0m0-1h0m1 0h0m1 3h0m3 0h0m1-2h0m2 0h0m18 4h0m-131 2h0m0-1h0m3 2h0m0 1h0m0-3h0m1 2h0m0-1h0m1 1h0m0 2h0m1-4h0m0 2h0m2 2h0m0 0h0m0 0h0m0-4h0m2 5h0m0-2h0m1-3h0m1 5h0m0-1h0m0-2h0m0-1h0m1 3h0m0-1h0m0 0h0m0-2h0m1-1h0m1 0h0m1 0h0m0 1h0m1 1h0m0-1h0m0-1h0m1 1h0m5 0h0m0 0h0m1 3h0m1-1h0m1-2h0m3-1h0m2 1h0m0 1h0m0-1h0m3 2h0m3-1h0m2-2h0m0 2h0m1-1h0m0 1h0m1-2h0m1 3h0m4-2h0m1-1h0m5 5h0m3-1h0m1-1h0m0-3h0m0 0h0m1 3h0m1 1h0m0-3h0m0 4h0m1-5h0m3 0h0m1 5h0m0-4h0m1-1h0m0 4h0m0 1h0m0-3h0m1-1h0m1 1h0m0 2h0m0-4h0m1 2h0m1 0h0m0-2h0m1 5h0m1-5h0m0 0h0m1 2h0m0 2h0m1-4h0m0 2h0m1-1h0m2 1h0m1 2h0m1-4h0m0 4h0m3 1h0m0-3h0m1-2h0m1 4h0m2-4h0m0 0h0m1 5h0m0 0h0m1-2h0m1-1h0m5 3h0m2-5h0m0 2h0m0-1h0m2 2h0m1-2h0m4-1h0m2 5h0m1-3h0m1-1h0m1 2h0m3-1h0m1 1h0m3 2h0m2-3h0m4 0h0m1-2h0m8 5h0m2 0h0m1-4h0m1 2h0m2 1h0m1-4h0m0 3h0m1-1h0m3 0h0m-129 4h0m0 0h0m1 0h0m2 2h0m15 2h0m11-1h0m2-2h0m1 4h0m2-3h0m3 3h0m7-5h0m0 0h0m1 4h0m2-4h0m1 2h0m0 0h0m1-1h0m0 3h0m0-2h0m1 2h0m0-4h0m0 2h0m0-2h0m0 2h0m1 3h0m0-4h0m2 1h0m0-2h0m0 1h0m0 0h0m1 2h0m0-3h0m0 0h0m0 4h0m1 0h0m0-4h0m0 1h0m0 0h0m1 4h0m1-4h0m0 2h0m2-1h0m0 3h0m1-4h0m0 2h0m1 0h0m0-3h0m0 5h0m1-2h0m0 0h0m0 1h0m1 1h0m0-4h0m1 1h0m0 2h0m0-3h0m0 1h0m1 1h0m0 0h0m1 0h0m0-1h0m0 2h0m1-4h0m1 4h0m0-4h0m0 1h0m1-1h0m0 0h0m1 2h0m1 1h0m1-3h0m2 0h0m0 1h0m1 0h0m0 0h0m2 0h0m4 3h0m2-2h0m2 0h0m0 3h0m1-2h0m1 2h0m1-2h0m4 0h0m1 0h0m1-2h0m1 1h0m1 0h0m3-2h0m2 0h0m2 1h0m1 3h0m3 0h0m4-3h0m7 3h0m1-4h0m1 5h0m0-5h0m1 3h0m0-3h0m0 2h0m1-1h0m1 0h0m3 0h0m0 0h0m3 0h0m2 2h0m-116 5h0m6 3h0m1-3h0m2 1h0m0-1h0m2 2h0m0-2h0m1 2h0m0 1h0m1-1h0m0 1h0m2-1h0m0-4h0m0 1h0m0 1h0m1 2h0m1-2h0m1 3h0m0 0h0m1-3h0m1 1h0m0 2h0m1-5h0m1 2h0m1 2h0m0-1h0m1 0h0m2-1h0m0 2h0m1 1h0m1-1h0m1 0h0m3-2h0m0-1h0m0-1h0m1 1h0m1-1h0m3 2h0m0 1h0m0-3h0m0 1h0m0 1h0m0 1h0m0 2h0m1-5h0m0 4h0m1 0h0m1-2h0m1 2h0m1-1h0m1 1h0m0 0h0m1-3h0m0 1h0m0 1h0m1-3h0m1 4h0m2 0h0m0-4h0m1 5h0m1-2h0m0-1h0m0 1h0m2-1h0m0 1h0m1-3h0m2 0h0m0 3h0m0-1h0m1 2h0m3 1h0m7 0h0m0-5h0m1 0h0m2 2h0m2 3h0m1-4h0m0 2h0m1 1h0m2 1h0m1 0h0m2-5h0m3 2h0m1 1h0m0-2h0m1 3h0m1-3h0m1-1h0m1 0h0m0 0h0m3 1h0m11 4h0m0-3h0m2 2h0m1 0h0m1-2h0m1-2h0m4 4h0m3-3h0m0 1h0m2 1h0m0 1h0m0-2h0m-110 9h0m1-1h0m0-1h0m1 0h0m1 0h0m1 2h0m0-2h0m0 2h0m1-4h0m0 1h0m1 1h0m0 1h0m0-4h0m0 3h0m0-1h0m1 1h0m0 1h0m0 1h0m1-5h0m2 5h0m0-2h0m0 2h0m1 0h0m1-3h0m0 2h0m0 0h0m3-4h0m0 3h0m0 1h0m1-3h0m0 1h0m1 3h0m0 0h0m0 0h0m0-5h0m1 0h0m1 2h0m0 1h0m0 1h0m0-2h0m2 2h0m0 0h0m1-2h0m0-2h0m0 0h0m2 2h0m1 0h0m0-2h0m1 5h0m0 0h0m1-5h0m1 0h0m5 1h0m3 0h0m1 0h0m1 1h0m3-2h0m1 0h0m2 5h0m1-1h0m2-3h0m1 0h0m10 1h0m7 1h0m0-1h0m1 3h0m4-5h0m9 3h0m0 2h0m7-3h0m9-1h0m1 1h0m2-2h0m0 4h0m2 1h0m0-5h0m1 2h0m7-1h0m3-1h0m1 3h0m-131 3h0m8 1h0m12 2h0m1-1h0m1 1h0m0-3h0m0 2h0m1-1h0m1-1h0m1 0h0m0 0h0m1 0h0m1 5h0m2-4h0m1 4h0m1 0h0m1-3h0m0 1h0m1-3h0m0 2h0m4-2h0m1 0h0m1 2h0m1 1h0m1-3h0m0 5h0m1-5h0m1 3h0m0-3h0m26 0h0m7 4h0m1 0h0m3-2h0m1 1h0m2 1h0m0-1h0m4 1h0m1-4h0m5 1h0m18 2h0m6-1h0m0 0h0m9-2h0m0 4h0m4 0h0m-119 4h0m15-1h0m2 0h0m3 0h0m1 3h0m0-1h0m1-1h0m1-2h0m3 0h0m22 4h0m11-4h0m0 0h0m2 5h0m0-5h0m2 2h0m1 2h0m0-3h0m4 4h0m2-4h0m3 0h0m1-1h0m0 4h0m0-2h0m2-1h0m0 4h0m0-1h0m1-1h0m1 0h0m21-2h0m11-1h0m-147 6h0m52 5h0m15-2h0m9-2h0m14 4h0m5-5h0m2 3h0m3 1h0m0-2h0m1-2h0m2 3h0m1 0h0m0 2h0m1-4h0m1 0h0m1 2h0m1 1h0m2-2h0m5-1h0m0 2h0m1-3h0m0 1h0m1 2h0m1 1h0m26-2h0m35 1h0m-94 5h0m14-1h0m0 0h0m1 2h0m1-2h0m1-1h0m2 2h0m2 3h0m1-3h0m0-2h0m2 0h0m0 5h0m1 0h0m0-2h0m6-1h0m-121 6h0m97 2h0m2-3h0m9 0h0m4 1h0m2-2h0m17 4h0m-54 6h0m5 0h0m4-2h0m20 19h0m-78 11h0m86 14h0m-36 2h0" stroke="#ee6e6a" stroke-width="3.2" stroke-linecap="round" fill="none"/>
<path transform="scale(.5)" d="M718 365h0m1 0h0m1-2h0m1 2h0m2-2h0m2 2h0m-7 3h0m4 1h0m1-2h0m1 2h0m1 0h0m-92 61h0m1 0h0m1-2h0m1 0h0m0-2h0m2 0h0m0 0h0m1 5h0m0-3h0m1 3h0m1-2h0m0 1h0m1-2h0m-8 5h0m1 0h0m0 0h0m1 1h0m0 0h0m0-1h0m1-1h0m0 0h0m1 3h0m0-2h0m0 4h0m2-4h0m2 1h0m1-1h0m-7 5h0m1 0h0m30 22h0m0-1h0m3 1h0m0-2h0m3 3h0m0-3h0m3 2h0m-29 5h0m5 1h0m3 1h0m10-2h0m1-3h0m0 2h0m1 3h0m0-5h0m1 0h0m2 1h0m0-1h0m1 3h0m1 1h0m1-1h0m1 0h0m0-3h0m1 4h0m1-3h0m0 0h0m1 0h0m0 3h0m0-3h0m-38 8h0m0 2h0m1 0h0m4-3h0m1 2h0m0-3h0m1 3h0m0 0h0m1-2h0m0 1h0m1 2h0m1-4h0m1 1h0m1 1h0m2 0h0m0-1h0m0-2h0m1 3h0m0 1h0m2 0h0m3 0h0m1 0h0m0-2h0m1-1h0m1 1h0m2-1h0m3 4h0m1-4h0m0 0h0m1-1h0m0 1h0m1 1h0m0-1h0m2 1h0m1 1h0m1 0h0m1-3h0m-39 11h0m0-1h0m4-4h0m0 2h0m1-1h0m0 3h0m1-4h0m0 3h0m0 0h0m0 2h0m2 0h0m1-4h0m1 3h0m0-3h0m1 3h0m0-3h0m2 3h0m1-1h0m1-2h0m0 3h0m0-3h0m1 1h0m0 1h0m0 0h0m2-2h0m1 0h0m0 0h0m0 1h0m0-1h0m0 0h0m1 0h0m1 3h0m2 1h0m0-1h0m1 0h0m1-4h0m0 5h0m0-4h0m1 3h0m1 0h0m2-3h0m0 3h0m1 1h0m2 0h0m1-2h0m20 2h0m2-1h0m2 0h0m0 1h0m2-4h0m4 3h0m0 1h0m-65 6h0m1-1h0m3 0h0m0-4h0m2 4h0m0 1h0m1-4h0m0 1h0m0-1h0m1 1h0m1-2h0m1 3h0m0-3h0m3 4h0m0-2h0m2 1h0m1 0h0m2-1h0m0-2h0m0 0h0m0 4h0m1-1h0m0 0h0m0 2h0m0-1h0m1-4h0m2 3h0m1 2h0m1 0h0m0-2h0m0 0h0m1 0h0m0-1h0m1 0h0m2 2h0m0-1h0m0 2h0m1-4h0m0-1h0m1 2h0m0 0h0m2-1h0m1-1h0m0 5h0m1-3h0m0 3h0m10-4h0m1 4h0m2-4h0m1 3h0m0-3h0m1 4h0m0-1h0m2-2h0m2 3h0m0-4h0m0 4h0m1-5h0m0 2h0m1 1h0m0-1h0m1 0h0m1 1h0m1 0h0m0 1h0m0 1h0m0-1h0m1 1h0m0-3h0m1 3h0m0-3h0m1-1h0m2 0h0m2 0h0m1 2h0m0-2h0m0 1h0m1 2h0m0-4h0m1 4h0m1-4h0m0 5h0m1-2h0m1 0h0m0 1h0m1 1h0m0-1h0m0 0h0m-72 2h0m0 5h0m0 0h0m1-3h0m1-2h0m0 0h0m0 4h0m2-4h0m1 2h0m0-1h0m4 1h0m0 1h0m0-1h0m0 2h0m0-4h0m0 3h0m0 0h0m1-1h0m1 0h0m1 0h0m1 3h0m0 0h0m1-1h0m0-1h0m1-1h0m0 1h0m1-2h0m1-1h0m0 0h0m0 5h0m1-3h0m0-2h0m1 1h0m0 1h0m1 2h0m1 1h0m0-5h0m1 2h0m1 3h0m0-1h0m0 0h0m0 0h0m1-3h0m0-1h0m1 4h0m1-1h0m1-3h0m1 1h0m0 0h0m1-1h0m1 3h0m1-1h0m1-1h0m0 2h0m10 0h0m0-3h0m2 3h0m1 2h0m0-1h0m1-4h0m0 4h0m1-4h0m0 0h0m1 2h0m1-1h0m1 1h0m2-2h0m0 3h0m1 1h0m1-3h0m0 1h0m1-1h0m0 2h0m1-3h0m4 3h0m0-1h0m0-2h0m1 3h0m1 1h0m0-1h0m0 0h0m1 2h0m0-1h0m1-1h0m0 0h0m2-1h0m0 0h0m1 2h0m2 0h0m0-3h0m2 1h0m0-1h0m0 3h0m1-1h0m1 0h0m-68 7h0m1-3h0m1 4h0m1-4h0m1 0h0m0 2h0m1 0h0m3-1h0m2 0h0m0 1h0m1 0h0m0 2h0m0 0h0m0-1h0m1 0h0m0-3h0m1 0h0m1 0h0m1 2h0m3-3h0m0 0h0m1 1h0m0 2h0m1-1h0m1 0h0m0 1h0m0-2h0m0 4h0m1-2h0m1 0h0m1-1h0m2-1h0m0 0h0m5-1h0m9 0h0m1 4h0m1-2h0m0 0h0m0 2h0m1-1h0m1 1h0m0-3h0m0-1h0m0 0h0m1 2h0m0 2h0m2-1h0m1-3h0m0 0h0m2 0h0m1 0h0m1 5h0m2-5h0m1 1h0m1 3h0m0-3h0m0 1h0m0 3h0m1-2h0m0 2h0m1-3h0m1-1h0m2-1h0m1 5h0m0-2h0m1-1h0m2-2h0m0 5h0m0 0h0m3-3h0m-60 6h0m2 0h0m0-2h0m2 0h0m2 0h0m3 1h0m3 1h0m1-2h0m0 0h0m2 1h0m0 1h0m1 1h0m19-2h0m0-1h0m0 2h0m1-1h0m0 0h0m1 0h0m0 0h0m1 1h0m2-2h0m1 2h0m2-1h0m0 1h0m0-2h0m0 3h0m1 0h0m1 0h0m0-3h0m1 0h0m1 4h0m1-4h0m1 2h0m4-1h0m1-1h0m0 3h0m1-1h0" stroke="#c09a2c" stroke-width="3.2" stroke-linecap="round" fill="none"/>
<path transform="scale(.5)" d="M613 432h0m0 4h0m0 5h0m2-3h0m2 35h0m9 0h0m1 0h0m0-1h0m-14 2h0m1 2h0m0 3h0m1-4h0m0 0h0m1 0h0m0-1h0m1 1h0m9 1h0m0-1h0m1 2h0m1 1h0m1-4h0m2 4h0m-40 6h0m35-3h0m1 0h0m1 0h0m1-1h0m0 3h0m1-2h0m0 2h0m-18 35h0" stroke="#5ec22c" stroke-width="3.2" stroke-linecap="round" fill="none"/>
<path transform="scale(.5)" d="M586 407h0m6-3h0m1 2h0m1 0h0m0 0h0m1 0h0m0 0h0m1 0h0m1 1h0m0-1h0m2 1h0m1 0h0m1-1h0m-38 7h0m1 0h0m2 0h0m7 0h0m2-4h0m9 1h0m1 0h0m1 1h0m1 0h0m1-3h0m0 4h0m1-3h0m0 1h0m1 3h0m1-1h0m1-2h0m0 0h0m0 3h0m1 0h0m0-2h0m0-3h0m0 1h0m1 3h0m0-4h0m3 5h0m2 0h0m1-3h0m1-2h0m0 0h0m1 0h0m0 5h0m1-4h0m1 1h0m1-2h0m0 0h0m-54 11h0m2-2h0m0 2h0m2-3h0m1-2h0m0 1h0m1 3h0m1 0h0m0-2h0m1 3h0m0-2h0m1 2h0m1-2h0m0 1h0m0 1h0m1-2h0m1 0h0m1 1h0m0-1h0m1-1h0m0 0h0m1 3h0m0-4h0m0 1h0m1 2h0m2-1h0m1-2h0m0 2h0m0-2h0m1 3h0m1 0h0m0-1h0m2-2h0m2 1h0m1 1h0m1 1h0m0-4h0m3 2h0m0-2h0m1 1h0m0 3h0m1 0h0m3 1h0m0-2h0m1-3h0m1 0h0m1 2h0m1 1h0m1-1h0m1 1h0m0-3h0m0 3h0m1 1h0m1-4h0m1 3h0m1 1h0m1-1h0m1-2h0m0 1h0m3-2h0m-53 10h0m1 0h0m2 1h0m4-1h0m1 1h0m1-5h0m1 4h0m0-4h0m1 0h0m1 2h0m1 0h0m1 0h0m0 3h0m1-3h0m1 3h0m1-1h0m0-3h0m1 4h0m0-1h0m0-4h0m0 3h0m2-3h0m3 0h0m0 1h0m0-1h0m0 2h0m0-2h0m1 0h0m0 3h0m1-2h0m1 1h0m0-1h0m0 0h0m1 2h0m0-1h0m1 2h0m1-1h0m0 2h0m2 0h0m0-5h0m1 4h0m0-1h0m0-1h0m0 3h0m2-5h0m1 2h0m2 0h0m0 1h0m1 0h0m2 1h0m1-3h0m1 4h0m1-5h0m0 2h0m-40 5h0m2 0h0m0 2h0m1 2h0m0-5h0m1 4h0m1-1h0m0 1h0m0 1h0m0-2h0m0 0h0m0 1h0m1-4h0m1 4h0m0-3h0m1 2h0m0-1h0m0 1h0m0-2h0m0 4h0m0-1h0m0-2h0m1 1h0m1 2h0m0-4h0m1-1h0m1 1h0m1-1h0m0 5h0m0-1h0m1 1h0m0-5h0m0 1h0m1 3h0m0 1h0m2-4h0m1 3h0m0 0h0m1-1h0m0 2h0m0-2h0m0 2h0m2-4h0m1 2h0m0-2h0m1 2h0m0-2h0m1-1h0m1 2h0m0 1h0m0-2h0m0 1h0m1 1h0m2 1h0m2-4h0m0 5h0m1 0h0m0-4h0m1 1h0m0 2h0m0-4h0m3 1h0m0 1h0m0-2h0m1 0h0m1 4h0m1 1h0m0-1h0m0-3h0m1-1h0m1 4h0m4-3h0m-46 10h0m3-1h0m0-1h0m1-2h0m0 0h0m0 3h0m0-1h0m0-3h0m1 3h0m1-1h0m0 0h0m1-1h0m0 2h0m1 0h0m0-2h0m0 4h0m0-4h0m0 2h0m0-2h0m0 0h0m1 4h0m1-3h0m0 0h0m1 3h0m0-5h0m1 4h0m0 1h0m1-1h0m0-2h0m0-1h0m0 4h0m0-1h0m1-1h0m1-3h0m0 5h0m0-5h0m1 1h0m0 3h0m0-4h0m0 4h0m1-3h0m0 3h0m0 1h0m0 0h0m0-1h0m2 0h0m1 0h0m0-4h0m1 2h0m0 2h0m0-4h0m0 2h0m0-2h0m1 5h0m0 0h0m2-5h0m1 4h0m0 1h0m1-2h0m1-2h0m1 3h0m1-4h0m1 5h0m0-2h0m1-1h0m3-2h0m0 2h0m0 1h0m1 1h0m3-1h0m1-3h0m2 4h0m-40 4h0m2-1h0m2 2h0m0 0h0m0 1h0m0 1h0m1-5h0m0 5h0m0 0h0m1-1h0m0 1h0m1-3h0m0-1h0m3-1h0m0 1h0m1 0h0m0 4h0m0-5h0m1 4h0m0-4h0m0 3h0m0-3h0m1 4h0m0-4h0m1 5h0m0-5h0m2 0h0m0 3h0m0-2h0m1 3h0m0-3h0m0 1h0m0-2h0m0 0h0m1 0h0m0 2h0m1-2h0m1 5h0m0 0h0m3-4h0m1 2h0m0-3h0m0 1h0m1 2h0m0-3h0m1 5h0m0-2h0m2-2h0m2-1h0m3 3h0m0-3h0m1 1h0m1-1h0m-29 6h0m0 1h0m1 1h0m0 1h0m0-1h0m0-1h0m2 2h0m3 0h0m8-3h0m4 0h0m3 0h0" stroke="#50d4a0" stroke-width="3.2" stroke-linecap="round" fill="none"/>
<path transform="scale(.5)" d="M615 409h0m1 4h0m1-1h0m1-3h0m0 0h0m0-1h0m1 2h0m1-1h0m3 3h0m1 102h0m8 1h0m4-1h0m3 0h0m6 1h0m-24 6h0m2-3h0m7-1h0m0 0h0m2 2h0m1 1h0m0 0h0m0-4h0m1 5h0m0 0h0m1 0h0m1 0h0m0-4h0m2-1h0m1 4h0m0-4h0m0 5h0m2-3h0m0-1h0m0 4h0m0-2h0m0-2h0m1 0h0m1 3h0m1-1h0m0 0h0m1 0h0m0-2h0m0 4h0m2-3h0m1 0h0m0 1h0m1 2h0m1-2h0m0 0h0m1 0h0m1-2h0m1 4h0m2-1h0m1 1h0m2 0h0m0 0h0m3 0h0m-44 6h0m1-2h0m1 0h0m1 2h0m2-2h0m0 2h0m2-4h0m0 3h0m0 0h0m3-4h0m2 4h0m2 1h0m1-4h0m0 4h0m0-4h0m2-1h0m0 1h0m2 1h0m3-2h0m1 0h0m2 3h0m1-3h0m1 0h0m0 2h0m0 3h0m1-4h0m0-1h0m3 4h0m1-1h0m0 0h0m1-2h0m1 3h0m0 1h0m1-5h0m1 3h0m0 1h0m0-1h0m2 1h0m1-1h0m0 1h0m1-2h0m0 3h0m0-3h0m0 2h0m1-4h0m0 1h0m0 0h0m2 0h0m1 2h0m1-2h0m1 2h0m0-2h0m-50 6h0m4-1h0m2 2h0m0 0h0m2 2h0m0-4h0m0 5h0m0 0h0m0-3h0m1 2h0m1-2h0m1 2h0m0-4h0m1 0h0m0 5h0m0-5h0m0 3h0m2 0h0m0-1h0m1-1h0m1 4h0m1-4h0m3 4h0m1-1h0m1-1h0m0-2h0m0 4h0m1-4h0m0-1h0m3 0h0m0 5h0m0-3h0m0-1h0m1-1h0m0 3h0m1 2h0m1-4h0m1 4h0m1-3h0m0-1h0m0 3h0m1-2h0m1 3h0m1-5h0m0 5h0m0-5h0m1 1h0m1 2h0m1 1h0m0-4h0m0 4h0m0-4h0m0 0h0m1 1h0m0-1h0m1 1h0m0 0h0m1 4h0m1 0h0m0-3h0m0 2h0m0-2h0m1 2h0m0 1h0m0-3h0m0-1h0m1 3h0m0 0h0m0-1h0m0-1h0m0-2h0m1 4h0m0-1h0m0 2h0m0-3h0m0-1h0m0 0h0m1 1h0m2-2h0m2 2h0m1 3h0m2-3h0m-49 5h0m3 0h0m0 1h0m0 1h0m1-2h0m0 4h0m2 0h0m1-2h0m2 2h0m0-1h0m2-2h0m1 2h0m0-1h0m2 2h0m1-1h0m0-2h0m0 3h0m1-5h0m0 0h0m1 2h0m0-2h0m0 4h0m1-1h0m0-1h0m1-1h0m0 4h0m1-2h0m0-3h0m1 0h0m0 1h0m1 1h0m0 3h0m1-5h0m0 4h0m1-4h0m0 3h0m2-1h0m1 3h0m0-2h0m0-1h0m0 0h0m0-2h0m2 1h0m1 3h0m1-3h0m1-1h0m1 5h0m1-4h0m1 1h0m0 1h0m0-3h0m1 3h0m0-2h0m2 1h0m2-2h0m0 1h0m0 2h0m2-3h0m0 1h0m0 0h0m1 1h0m0-2h0m-35 8h0m4 3h0m0-3h0m1 1h0m0-1h0m1-2h0m0 3h0m1-3h0m1 0h0m1 1h0m0-1h0m2 3h0m0-1h0m2-1h0m1 3h0m1-4h0m1 1h0m1-1h0m0 4h0m2-4h0m1 5h0m1-3h0m4-1h0m2 0h0m0-1h0m3 0h0m-26 7h0m6-1h0" stroke="#58c4ee" stroke-width="3.2" stroke-linecap="round" fill="none"/>
<path transform="scale(.5)" d="M623 351h0m1 1h0m1-2h0m0 2h0m1-2h0m0 2h0m2-4h0m-7 8h0m1 3h0m1-1h0m1-1h0m1-2h0m1-1h0m2 5h0m1-3h0m1 3h0m0-4h0m-7 5h0m3 0h0" stroke="#a48cf8" stroke-width="3.2" stroke-linecap="round" fill="none"/>
<path transform="scale(.5)" d="M582 359h0m2 0h0m-3 3h0m1 0h0m1-2h0m0 4h0m2 1h0m1-4h0m0 2h0m0-3h0m0 1h0m1-1h0m0 5h0m2-2h0m0 2h0m-12 2h0m1 0h0m4-1h0m1 4h0m2 0h0m1-3h0m1 0h0m0 0h0m1 0h0" stroke="#f866e6" stroke-width="3.2" stroke-linecap="round" fill="none"/>
<path d="M409.5 242 C409 232 420 224 430 216 C434 210 436 203 440 202.5 C446 203 447 212 447 222 C449 234 456 244 455 252 C454 258 446 258 442 256 C438 254 436 250 435 249 C432 253 428 257 422 257.5 C413 258 409.5 251 409.5 242Z" fill="#f6dcdc" stroke="#e8262b" stroke-width="1.4" stroke-dasharray="3.5 2"/>
<path transform="scale(.5)" d="M878 412h0m-9 6h0m3 1h0m0-3h0m0-1h0m2 2h0m0 1h0m1-3h0m1 0h0m2 3h0m1 0h0m0-1h0m0 0h0m1 1h0m0 0h0m-9 2h0m1 3h0m0-2h0m1 1h0m0-1h0m0 2h0m1-1h0m1-1h0m0 1h0m1-1h0m2 0h0m0 1h0m1 2h0m2-2h0m1 2h0m-30 4h0m18-2h0m0 0h0m1 1h0m0 2h0m0-2h0m1 1h0m1 2h0m0-4h0m0 0h0m1 0h0m0 1h0m1 0h0m1 3h0m0-4h0m1 3h0m1-3h0m0 2h0m0 0h0m0 2h0m1-3h0m0-1h0m0 5h0m3-3h0m-67 6h0m56 6h0m2 3h0m0 0h0m3 0h0m2-1h0m1 1h0m-16 4h0m1 0h0m2 1h0m0-2h0m1-2h0m0 1h0m0 2h0m1 0h0m2 1h0m0-1h0m1 0h0m0-2h0m1 2h0m0 0h0m0-2h0m0 0h0m1 2h0m1 1h0m1-2h0m0 1h0m0-3h0m1 1h0m1 2h0m0-2h0m1 0h0m0 4h0m0-4h0m0 4h0m1-2h0m0 0h0m0 2h0m0-3h0m1 2h0m1-4h0m0 1h0m0-1h0m2 5h0m9-1h0m-32 6h0m1-2h0m2 0h0m2 3h0m1-4h0m1-1h0m0 3h0m0-1h0m2-2h0m0 3h0m0-3h0m0 3h0m2 2h0m0-5h0m0 5h0m0-2h0m1-2h0m1 4h0m0-5h0m0 2h0m0-1h0m1 3h0m0 1h0m0-1h0m1 0h0m0-3h0m1-1h0m0 2h0m0 3h0m0-2h0m0-1h0m2 0h0m2-2h0m1 4h0m1 0h0m-24 5h0m1 0h0m0-3h0m2 0h0m0 0h0m1 2h0m0 0h0m3 0h0m0 0h0m0 2h0m2-2h0m0-1h0m1 1h0m0 3h0m1-5h0m0 5h0m2-4h0m1 3h0m2-2h0m0 0h0m1 3h0m1-3h0m0-1h0m1 2h0m0-2h0m0-1h0m1 3h0m0 0h0m1 2h0m0-5h0m0 4h0m1-2h0m0-1h0m1 0h0m1 4h0m0 0h0m0-3h0m0 0h0m0 2h0m1-4h0m0 4h0m1-2h0m1 3h0m5-2h0m-28 6h0m2 2h0m0-1h0m0 0h0m1 0h0m2-3h0m1-1h0m0 2h0m1 0h0m1-1h0m1 1h0m0 1h0m1 0h0m1 1h0m0-4h0m1 4h0m0-4h0m1 5h0m1-4h0m0 2h0m0 2h0m2 0h0m0-2h0m2-3h0m0 5h0m1-3h0m1 0h0m-35 7h0m7-2h0m4 2h0m0 2h0m1 0h0m3 0h0m0 0h0m1-1h0m0 0h0m1-1h0m0 0h0m1-2h0m0-1h0m0 3h0m1 1h0m0 1h0m2-4h0m0-1h0m0 4h0m0-4h0m1 5h0m0-2h0m1-1h0m0-2h0m3 0h0m1 2h0m1 3h0m0-1h0m0-2h0m1 0h0m0 1h0m2-2h0m1 3h0m0-1h0m1-3h0m1 4h0m0-2h0m1 3h0m1-3h0m-60 4h0m7 4h0m1 0h0m0 0h0m1-2h0m1 3h0m1 0h0m0 0h0m1-3h0m0 2h0m1-4h0m0 4h0m1-1h0m2 2h0m1-1h0m1-1h0m2 2h0m1 0h0m10-2h0m0 0h0m1-2h0m1 4h0m1-5h0m0 0h0m0 3h0m1-1h0m0 1h0m2 1h0m0 0h0m0 0h0m1-3h0m0 3h0m0 1h0m0 0h0m1-4h0m0 0h0m0 0h0m0 4h0m0-2h0m1 2h0m2-1h0m0 1h0m2-1h0m1-4h0m0 4h0m1-3h0m0 0h0m1 2h0m2-1h0m1-1h0m42 0h0m-92 9h0m1 1h0m1-5h0m0 4h0m2 1h0m0-1h0m0 0h0m0 1h0m0-5h0m2 4h0m0 1h0m1-2h0m1-1h0m1 1h0m0 1h0m1 1h0m1-3h0m1 0h0m1 2h0m1 0h0m0-3h0m1-1h0m0 3h0m1 2h0m0-3h0m1 2h0m0 0h0m1-4h0m1 0h0m1 4h0m0 0h0m3-3h0m2 0h0m7 0h0m0-1h0m4 0h0m1 1h0m1-1h0m3 2h0m0 0h0m0-1h0m2 1h0m0 0h0m0 1h0m2-3h0m24 5h0m1 0h0m0-3h0m1 1h0m1 0h0m0 2h0m0-5h0m1 4h0m1-2h0m-72 8h0m0-4h0m1 0h0m0 4h0m0-4h0m0 5h0m0-3h0m0-2h0m0 0h0m1 2h0m0-1h0m1 0h0m3 4h0m0-2h0m1 1h0m0 0h0m0-3h0m1 4h0m1-3h0m2-2h0m0 0h0m0 4h0m2-1h0m0 1h0m2-4h0m0 1h0m0-1h0m2 1h0m1-1h0m0 4h0m1 1h0m0-2h0m0-1h0m1 3h0m1-5h0m1 1h0m2 3h0m16-4h0m8 5h0m5-2h0m9 0h0m1 2h0m0-3h0m1 1h0m1-1h0m1 1h0m0 2h0m0 0h0m1 0h0m0 0h0m3-1h0m1-4h0m0 4h0m2-4h0m0 5h0m0-3h0m0-2h0m2 3h0m1-3h0m0 4h0m0 0h0m2 0h0m0-1h0m-74 5h0m1-2h0m0 2h0m0-2h0m1 4h0m1-4h0m1 0h0m0 4h0m1-1h0m0 1h0m2 0h0m1-1h0m3-2h0m9 1h0m0-1h0m1 2h0m0-1h0m0 1h0m1 1h0m0-2h0m0 3h0m2 0h0m0-2h0m1 0h0m0-1h0m1 0h0m1 3h0m0-2h0m1 0h0m30 1h0m1 1h0m0-3h0m1 0h0m0 1h0m1 2h0m0-3h0m0 3h0m1-1h0m2 1h0m0-3h0m1-1h0m0 0h0m0-1h0m0 2h0m1 1h0m0-2h0m0 2h0m1-1h0m0 0h0m0 0h0m1-1h0m0 3h0m0-3h0m0 4h0m0-5h0m2 2h0m3-2h0m0 4h0m0-3h0m-55 5h0m4 1h0m2 0h0m5 0h0m29-1h0m1 1h0m0 0h0m0 0h0m1-1h0m1 4h0m1-4h0m0 5h0m1-3h0m1 0h0m1 2h0m1-4h0m1 0h0m1 3h0m1-3h0m2 5h0m1-2h0m0 2h0m-7 4h0m2-3h0m2 3h0m1-2h0m1 2h0m1-2h0m1-1h0m-38 12h0" stroke="#5ec22c" stroke-width="3.2" stroke-linecap="round" fill="none"/>
<path transform="scale(.5)" d="M913 359h0m-10 2h0m2 2h0m2 1h0m2-2h0m1 3h0m0 0h0m1-4h0m0-1h0m1 0h0m1 2h0m1 3h0m2-2h0m2 1h0m0 0h0m2 0h0m73 1h0m-88 5h0m1 0h0m1-2h0m1 3h0m0-1h0m0-4h0m0 1h0m1 3h0m0-4h0m2 3h0m1-1h0m1 0h0m1 1h0m0-2h0m1 3h0m2-1h0m1-3h0m2 0h0m11 2h0m40 7h0m-106 6h0m0-2h0m0 2h0m2 2h0m1-3h0m1 0h0m21 3h0m5 0h0m1 0h0m19-1h0m57-3h0m-105 5h0m1 0h0m0 0h0m21 5h0m3-3h0m0 3h0m0 0h0m1-4h0m1-1h0m1 0h0m1 1h0m64 1h0m21 1h0m3-2h0m-93 6h0m2 2h0m1 1h0m1-1h0m1-3h0m1 1h0m87 2h0m-78 5h0m31 0h0m1 3h0m56-3h0m2 2h0m2 1h0m8-1h0m1 1h0m1 0h0m2-5h0m0 5h0m1-3h0m18 1h0m-115 6h0m57-3h0m1 5h0m2-3h0m0 3h0m1 0h0m2 0h0m2-4h0m1 3h0m0 0h0m1 0h0m0 0h0m2-1h0m0 2h0m2-3h0m2 0h0m1 3h0m0-3h0m3-2h0m2 3h0m2-3h0m0 1h0m0 3h0m0-4h0m1 3h0m3 2h0m3-2h0m2 2h0m0-5h0m0 2h0m1 1h0m2-2h0m4 2h0m1 0h0m1-1h0m1 2h0m2 1h0m1-1h0m1-4h0m1 4h0m4 1h0m-74 4h0m11-1h0m6 3h0m7-3h0m1 0h0m3-2h0m1 0h0m1 2h0m2 2h0m0-4h0m0 0h0m1 3h0m0-3h0m2 2h0m1 1h0m0 2h0m1-5h0m2 5h0m1-3h0m0 3h0m1-5h0m0 2h0m0 1h0m1 1h0m0 1h0m3-4h0m0 0h0m7 2h0m4-1h0m1-1h0m1 4h0m0-3h0m0 0h0m1 2h0m0-1h0m0 0h0m0 2h0m2-2h0m2-1h0m2 2h0m1-2h0m0 3h0m2-5h0m2 4h0m0 0h0m2-2h0m1 0h0m1 0h0m1 1h0m0-2h0m2 3h0m-117 5h0m9 1h0m15-1h0m1 1h0m26-1h0m15-1h0m1-2h0m1 4h0m2 1h0m2-5h0m1 2h0m2 1h0m2-3h0m0 0h0m1 4h0m2-2h0m1 2h0m0-2h0m1 1h0m0-2h0m2 0h0m0 2h0m2-2h0m4 4h0m0 0h0m7-4h0m1 4h0m0-4h0m2-1h0m0 5h0m0-4h0m1 2h0m3-2h0m2 3h0m1 1h0m2-1h0m0-4h0m4 1h0m0 3h0m1-1h0m1-3h0m1 1h0m2 3h0m0 0h0m0-4h0m-128 6h0m68 4h0m11 0h0m0-2h0m1 0h0m0 1h0m2-2h0m1 4h0m3-3h0m0 1h0m0 1h0m0-4h0m1 4h0m1 0h0m2 0h0m2-1h0m12-3h0m1 1h0m1-1h0m2 2h0m0 2h0m1 1h0m0-4h0m1-1h0m0 5h0m0-1h0m1-3h0m1 1h0m1 3h0m0-5h0m1 0h0m2 5h0m1-4h0m0 3h0m1-1h0m0-2h0m0-1h0m0 4h0m1 1h0m2-3h0m0 3h0m2-3h0m1-1h0m1 4h0m2 0h0m1 0h0m10-1h0m-142 4h0m9 3h0m13 0h0m4-1h0m8-2h0m6 0h0m5 1h0m17 2h0m7-1h0m13 0h0m1 1h0m1-3h0m3 3h0m2 0h0m0-4h0m2 3h0m0-1h0m1-1h0m1 1h0m1-3h0m0 3h0m1-3h0m7 4h0m3-3h0m2 4h0m1 0h0m4-1h0m0-4h0m1 1h0m1-1h0m0 2h0m0 2h0m0 1h0m1-5h0m0 2h0m1 3h0m0-2h0m0-1h0m0 0h0m1-2h0m2 5h0m3-4h0m0-1h0m1 1h0m1-1h0m1 0h0m5 2h0m1 3h0m1-5h0m1 3h0m0-1h0m-93 9h0m2 0h0m0 0h0m1-3h0m5 1h0m1-3h0m1 2h0m0 3h0m3-1h0m0 0h0m31-1h0m4-3h0m3 5h0m0-2h0m1-1h0m1 0h0m1-2h0m2 3h0m0 1h0m0 0h0m4 0h0m0-1h0m1 0h0m0-2h0m2 0h0m1 2h0m0-1h0m0 1h0m2-3h0m4 4h0m1-4h0m1 2h0m1 2h0m1 0h0m0-2h0m1 3h0m0-2h0m1 0h0m0 0h0m2 1h0m1-3h0m1 2h0m0 2h0m3-2h0m3 2h0m2-5h0m0 3h0m1 0h0m0-3h0m3 4h0m1-2h0m1-2h0m-87 8h0m2 1h0m2 0h0m0-1h0m0-1h0m1 0h0m1 1h0m13 3h0m17-5h0m2 0h0m2 1h0m5 4h0m1-1h0m0-4h0m2 2h0m4 2h0m1 1h0m2 0h0m0-1h0m0-2h0m0 0h0m1 3h0m0 0h0m2-5h0m1 2h0m1 1h0m0-2h0m0 0h0m0 3h0m1-2h0m2 0h0m3 0h0m0 3h0m1-4h0m1 0h0m1 2h0m2-3h0m1 4h0m0-3h0m0 3h0m2-4h0m0 1h0m2 4h0m3-5h0m1 1h0m1 0h0m4 1h0m-83 8h0m8-2h0m1 3h0m32-5h0m1 1h0m4-1h0m2 1h0m2 2h0m3-2h0m0 1h0m1-2h0m1 0h0m1 0h0m2 1h0m3 1h0m0-2h0m2 0h0m3 1h0m0-1h0m2 3h0m1-2h0m0 2h0m3-3h0m1 1h0m1-1h0m2 5h0m0 0h0m1-3h0m1-1h0m1 0h0m0 3h0m0-1h0m-42 8h0m4-3h0m1-1h0m0-1h0m0 5h0m1-5h0m1 3h0m2-2h0m2 0h0m1 0h0m0 2h0m2 2h0m1-1h0m1-4h0m1 2h0m1 1h0m1-2h0m0 2h0m1 1h0m3 1h0m0-4h0m2 3h0m1-2h0m0-2h0m2 1h0m0 3h0m2-3h0m1 3h0m0 1h0m3 0h0m2-4h0m1-1h0m-32 10h0m1-4h0m1 1h0m1 2h0m2 0h0m1 1h0m2-3h0m2 1h0m2 0h0m1 1h0m2-2h0m1 4h0m1-4h0m0 2h0m1-2h0m1 3h0m4 0h0m0-3h0m6 4h0m5-5h0m-61 7h0m28 1h0m7-1h0m3 0h0m5 0h0m2 1h0m-45 5h0m58 2h0m-37 6h0" stroke="#ee6e6a" stroke-width="3.2" stroke-linecap="round" fill="none"/>
<path transform="scale(.5)" d="M983 367h0m2 2h0m0 0h0m1 1h0m1-2h0m1-1h0m0 3h0m-66 52h0m9 15h0m23 4h0m-37 5h0m11 3h0m4-3h0m4-2h0m-22 11h0m6-5h0m8 2h0m6-2h0m-45 7h0m16-1h0m6 4h0m1-1h0m1 0h0m2 0h0m1-1h0m1-2h0m0 2h0m2-1h0m2 2h0m2-3h0m2 5h0m-9 4h0m1 1h0m2-2h0m0 1h0m0-1h0m0 1h0m2-2h0m1 1h0m0 0h0m0 1h0m1-3h0m2 5h0m0-2h0m0 0h0m0 0h0m1-2h0m1 2h0m0 2h0m0 0h0m1-1h0m0-3h0m0 3h0m1-3h0m0-1h0m2 3h0m3 2h0m3-3h0m3-2h0m0 2h0m-47 5h0m17 3h0m6-3h0m5 1h0m1 1h0m1-3h0m1 3h0m0-2h0m4 3h0m0 0h0m0-3h0m1 1h0m4 0h0m1-2h0m0 4h0m3-2h0m4 3h0m5-5h0m-25 6h0m2 1h0m0-1h0m1 5h0m3-1h0m0-3h0m3 4h0m3-4h0m1 0h0m1 4h0m2-3h0m0-2h0m1 0h0m0 1h0m2 1h0m1 1h0m0 0h0m1 0h0m-37 7h0m10-2h0m4-2h0m5 0h0m0 0h0m5 1h0m1 2h0m1-1h0m3 1h0m2-3h0m3 1h0m0 4h0m1-2h0m1-1h0m1 3h0m2-3h0m1 3h0m0-1h0m0 0h0m-12 2h0m2 4h0m1-2h0m0 3h0m2-3h0m0-2h0m1 1h0m2 3h0m0-3h0m1 1h0m1 0h0m0 3h0m0-5h0m0 3h0m1-2h0m0 4h0m1-2h0m0-3h0m1 4h0m-4 5h0m0-3h0" stroke="#c09a2c" stroke-width="3.2" stroke-linecap="round" fill="none"/>
<path transform="scale(.5)" d="M842 364h0m1 0h0m2-1h0m0 0h0m2-3h0m0 4h0m-3 2h0m1 5h0m1-2h0m0 0h0m1-3h0m1 0h0m0 2h0m1-2h0" stroke="#f866e6" stroke-width="3" stroke-linecap="round" fill="none"/>
<path transform="scale(.5)" d="M881 356h0m2 0h0m1-2h0m0 1h0m2 3h0m1 0h0m2-2h0m8 8h0m2 0h0m-4 3h0m0-1h0m1 1h0" stroke="#a48cf8" stroke-width="3" stroke-linecap="round" fill="none"/>
<path transform="scale(.5)" d="M836 416h0m-2 36h0m48 50h0m12 46h0" stroke="#58c4ee" stroke-width="2.8" stroke-linecap="round" fill="none"/>
<circle cx="545.50" cy="187.50" r="3" fill="#ee6e6a"/>
<text x="557.5" y="190.9" font-size="9.5" fill="#222">C1 Capillary EC</text>
<circle cx="545.50" cy="199.67" r="3" fill="#c09a2c"/>
<text x="557.5" y="203.1" font-size="9.5" fill="#222">C2 Proliferative Capillary EC</text>
<circle cx="545.50" cy="211.84" r="3" fill="#5ec22c"/>
<text x="557.5" y="215.2" font-size="9.5" fill="#222">C3 Senescent Capillary EC</text>
<circle cx="545.50" cy="224.01" r="3" fill="#50d4a0"/>
<text x="557.5" y="227.4" font-size="9.5" fill="#222">C4 Venous EC</text>
<circle cx="545.50" cy="236.18" r="3" fill="#58c4ee"/>
<text x="557.5" y="239.6" font-size="9.5" fill="#222">C5 Proliferative Venous EC</text>
<circle cx="545.50" cy="248.35" r="3" fill="#a48cf8"/>
<text x="557.5" y="251.8" font-size="9.5" fill="#222">C6 Arterial EC</text>
<circle cx="545.50" cy="260.52" r="3" fill="#f866e6"/>
<text x="557.5" y="263.9" font-size="9.5" fill="#222">C7 CD45+ Cells</text>
<text x="5.0" y="307.2" font-size="13.5" font-weight="bold">f</text>
<line x1="51.20" y1="307.90" x2="51.20" y2="418.70" stroke="#222" stroke-width="0.9"/>
<line x1="51.20" y1="418.70" x2="165.50" y2="418.70" stroke="#222" stroke-width="0.9"/>
<line x1="49.00" y1="334.10" x2="51.20" y2="334.10" stroke="#222" stroke-width="0.8"/>
<text x="46.6" y="337.3" font-size="8.7" text-anchor="end" fill="#222">25</text>
<line x1="49.00" y1="362.50" x2="51.20" y2="362.50" stroke="#222" stroke-width="0.8"/>
<text x="46.6" y="365.7" font-size="8.7" text-anchor="end" fill="#222">0</text>
<line x1="49.00" y1="391.70" x2="51.20" y2="391.70" stroke="#222" stroke-width="0.8"/>
<text x="46.6" y="394.9" font-size="8.7" text-anchor="end" fill="#222">−25</text>
<line x1="78.30" y1="418.70" x2="78.30" y2="420.90" stroke="#222" stroke-width="0.8"/>
<text x="78.3" y="430.5" font-size="8.7" text-anchor="middle" fill="#222">−25</text>
<line x1="110.40" y1="418.70" x2="110.40" y2="420.90" stroke="#222" stroke-width="0.8"/>
<text x="110.4" y="430.5" font-size="8.7" text-anchor="middle" fill="#222">0</text>
<line x1="141.40" y1="418.70" x2="141.40" y2="420.90" stroke="#222" stroke-width="0.8"/>
<text x="141.4" y="430.5" font-size="8.7" text-anchor="middle" fill="#222">25</text>
<text x="108.0" y="440.5" font-size="10.5" text-anchor="middle" fill="#111">tSNE_1</text>
<text x="31.0" y="363.6" font-size="10.5" text-anchor="middle" fill="#111" transform="rotate(-90 31.0 363.6)">tSNE_2</text>
<path transform="scale(.5)" d="M255 647h0m-15 5h0m1 1h0m1-1h0m1 1h0m4-2h0m0 2h0m2 0h0m3-5h0m0 5h0m3-4h0m2 3h0m1 0h0m0 1h0m0-2h0m1-3h0m3 5h0m0-2h0m2 1h0m4-3h0m1 0h0m3 4h0m1-2h0m0-1h0m6 0h0m2 3h0m9-1h0m-80 7h0m7 0h0m11-4h0m5 4h0m2-1h0m0 1h0m2-5h0m1 4h0m1-2h0m0 0h0m0 1h0m0-2h0m1 0h0m0-1h0m1 2h0m2 0h0m1 2h0m1 0h0m0 0h0m1 1h0m0-2h0m0-3h0m2 4h0m0-1h0m1 2h0m0 0h0m0 0h0m0-5h0m1 4h0m0-4h0m1 1h0m1 2h0m1 0h0m0 2h0m0-2h0m1 0h0m0 1h0m0-2h0m1 1h0m0-1h0m0 2h0m0-2h0m0 0h0m0 3h0m1-4h0m0 3h0m1 0h0m0-4h0m3 2h0m1-2h0m0 1h0m3 1h0m1-1h0m2 1h0m0 2h0m2-1h0m1-2h0m1 1h0m0 3h0m1-5h0m2 0h0m0 2h0m0-1h0m1-1h0m1 5h0m0-3h0m0 1h0m1 2h0m0-4h0m0 2h0m1-3h0m1 4h0m1 1h0m0-2h0m2 2h0m0 0h0m2-4h0m0 4h0m1-2h0m5 2h0m-77 4h0m2 2h0m0-3h0m1 3h0m2-3h0m0 0h0m1-1h0m0 1h0m0 2h0m1-1h0m1-3h0m0 5h0m2-1h0m0-4h0m0 1h0m0 0h0m0 3h0m1-3h0m0 1h0m1-1h0m5 4h0m0-1h0m2 0h0m0 0h0m0 0h0m1 0h0m0 1h0m1-4h0m2-1h0m0 5h0m0-1h0m1 1h0m1-3h0m1 0h0m0 1h0m1 1h0m0-4h0m0 0h0m1 0h0m0 4h0m0 1h0m0-5h0m1 0h0m0 3h0m1 0h0m0-3h0m1 4h0m0-1h0m0-1h0m0-2h0m0 4h0m1 1h0m1-5h0m1 5h0m0-5h0m0 1h0m0 2h0m0 0h0m0 2h0m1-2h0m0 1h0m0-2h0m1 2h0m1 0h0m0-2h0m0 0h0m0 2h0m1-2h0m0 0h0m1 3h0m0-2h0m0-3h0m1 2h0m0-2h0m1 4h0m0 1h0m2 0h0m0-1h0m0 1h0m0-1h0m0-3h0m0 1h0m1-2h0m0 4h0m0-2h0m1-1h0m0 0h0m1-1h0m1 2h0m1 3h0m0-3h0m0 1h0m1 2h0m1-2h0m0 0h0m0 0h0m1 0h0m1 0h0m2-3h0m1 1h0m0 2h0m1-1h0m0 2h0m1 0h0m1 1h0m0-1h0m1-1h0m0-1h0m1-1h0m1 0h0m0 4h0m1-1h0m0 1h0m0-2h0m0 1h0m0 0h0m1-2h0m0-1h0m0-1h0m0 1h0m1-1h0m0 1h0m0-1h0m1 0h0m1 2h0m0 2h0m0-1h0m1-2h0m0 0h0m0-1h0m0 5h0m1-1h0m0-3h0m0 0h0m1 2h0m0 2h0m0-2h0m1 2h0m0-4h0m0 4h0m1 0h0m1-1h0m1-4h0m1 0h0m2 2h0m3 3h0m-89 5h0m1 1h0m4-3h0m0 3h0m1 0h0m0-4h0m0-1h0m1 3h0m0-2h0m1 1h0m1 2h0m0-3h0m1 3h0m0-1h0m1 2h0m1 0h0m0-5h0m0 1h0m2 3h0m0-1h0m0-2h0m1 4h0m0-4h0m2 3h0m1 0h0m0-1h0m1-3h0m0 0h0m0 0h0m1 3h0m0-1h0m0 0h0m0 0h0m1 1h0m0 0h0m0-3h0m1 1h0m0 0h0m1 0h0m0 4h0m0-1h0m0-2h0m0 3h0m1 0h0m1-2h0m0 2h0m0-5h0m0 1h0m1 1h0m0 2h0m0-2h0m0 3h0m0-4h0m0 2h0m0-2h0m1 3h0m0-3h0m1 2h0m0-1h0m0 0h0m1-2h0m0 5h0m0 0h0m0-3h0m0 1h0m0-3h0m0 4h0m0 1h0m0-5h0m1 0h0m0 0h0m0 1h0m0 2h0m0 0h0m0 0h0m0-1h0m1-1h0m1 4h0m0-1h0m0-1h0m0-3h0m1 3h0m0 1h0m0 0h0m0 0h0m0-2h0m1 3h0m0 0h0m1-1h0m0 1h0m0-1h0m0-3h0m0 2h0m1 2h0m0-4h0m0-1h0m1 1h0m0 2h0m0 0h0m1-1h0m0 3h0m0-1h0m1 1h0m0-3h0m0 3h0m0-5h0m1 3h0m0 0h0m0-1h0m0-1h0m0 2h0m0 2h0m1-3h0m0 1h0m0 0h0m0 1h0m0-1h0m0-3h0m0 3h0m0 2h0m1-4h0m0 4h0m0-2h0m1 2h0m0 0h0m0-1h0m0-4h0m1 0h0m0 1h0m0 4h0m0-4h0m2 0h0m0 3h0m1-2h0m1 1h0m0-3h0m0 4h0m0-2h0m1 1h0m0-3h0m0 3h0m0 2h0m1 0h0m0-3h0m0 0h0m1 3h0m1 0h0m1-4h0m0 2h0m0 0h0m0-1h0m1-2h0m0 2h0m1 3h0m0-4h0m0 3h0m1-2h0m0 2h0m0-2h0m1 2h0m0-1h0m1 2h0m0-1h0m1-2h0m0 2h0m0 0h0m0 1h0m1-3h0m0-1h0m1 4h0m0 0h0m1-4h0m0 3h0m0 1h0m1-4h0m1 0h0m0 4h0m0-1h0m0-2h0m1-2h0m2 3h0m0-3h0m0 2h0m1-2h0m0 3h0m0 1h0m1 0h0m0-1h0m0-3h0m0 4h0m1 1h0m0-4h0m1 1h0m1 3h0m0-5h0m0 0h0m0 1h0m0 4h0m0-3h0m1 2h0m1-1h0m1 0h0m0 2h0m0-2h0m0 0h0m1-1h0m1-1h0m0 2h0m1 1h0m0 1h0m0-5h0m0 2h0m0 2h0m0 1h0m1-2h0m1 0h0m1-1h0m0 1h0m0-3h0m1 5h0m1-5h0m0 3h0m1 1h0m0 0h0m0-1h0m0 1h0m2 1h0m0-2h0m1 1h0m0-2h0m1 3h0m1-2h0m0 0h0m4 0h0m1 2h0m11-1h0m-113 6h0m4 0h0m1 1h0m1-2h0m1 2h0m0 0h0m1-2h0m2-2h0m3 3h0m0 0h0m1-4h0m1 5h0m1-5h0m0 2h0m0-1h0m0 4h0m1-1h0m0-4h0m0 3h0m0-3h0m1 1h0m0 3h0m0-1h0m1-1h0m0 1h0m1 0h0m1 0h0m0-3h0m0 1h0m1 4h0m0-2h0m0-3h0m0 5h0m1-2h0m1-1h0m1-2h0m0 1h0m0 3h0m0 0h0m0-3h0m0 4h0m0-5h0m1 1h0m0 4h0m1-3h0m0 3h0m0-2h0m0-1h0m0 0h0m0 3h0m1-4h0m0 1h0m1 0h0m0 0h0m0 0h0m0 3h0m1-2h0m0 0h0m0 2h0m1 0h0m0-4h0m1 3h0m0-3h0m0-1h0m0 4h0m1-2h0m0 0h0m0 2h0m0 0h0m1-2h0m0-1h0m0 3h0m1 1h0m0 0h0m1-4h0m1 0h0m0 1h0m0-1h0m1 3h0m0-4h0m0 4h0m1-4h0m0 1h0m0 1h0m0 0h0m0 1h0m1-3h0m0 1h0m0 0h0m0 0h0m1 0h0m0 4h0m0-4h0m0 4h0m0-5h0m1 5h0m0-4h0m0 2h0m1 2h0m0-3h0m0 2h0m0-2h0m0-1h0m1 2h0m0 2h0m0-1h0m0 1h0m1 0h0m0-3h0m1-2h0m0 2h0m0-1h0m1-1h0m0 3h0m1-1h0m0 3h0m0-5h0m1 2h0m0 0h0m0-1h0m0 1h0m0-1h0m1 1h0m1 3h0m0-3h0m1-1h0m0 2h0m1 2h0m0-4h0m0 0h0m0 3h0m1-4h0m0 0h0m0 4h0m1 1h0m0-2h0m0-3h0m1 5h0m0-4h0m0 3h0m0-3h0m0-1h0m1 3h0m0-2h0m0 2h0m1 1h0m0-4h0m0 5h0m0 0h0m0 0h0m0-3h0m0 3h0m0-5h0m0 3h0m1-2h0m0 3h0m0-3h0m1 4h0m0-3h0m1 1h0m0 2h0m0-3h0m0 2h0m0-2h0m1 3h0m0 0h0m0-2h0m0-3h0m0 0h0m0 2h0m1 2h0m1-3h0m0 3h0m0-4h0m0 3h0m0-2h0m0 4h0m1 0h0m0-4h0m1-1h0m0 4h0m0-2h0m2-1h0m1 4h0m0-3h0m1-2h0m0 3h0m1-2h0m0 3h0m0-4h0m0 3h0m0 2h0m1-5h0m0 5h0m0-1h0m1-1h0m0 0h0m2 2h0m0-2h0m0-1h0m0-2h0m0 5h0m1-5h0m0 5h0m0-3h0m0 1h0m0-1h0m0 3h0m0-3h0m1 3h0m0-5h0m0 3h0m1 2h0m0 0h0m1-1h0m0-1h0m2 0h0m0-2h0m0-1h0m0 2h0m0 3h0m0-3h0m1 2h0m0 0h0m0-2h0m1 2h0m0 1h0m0-5h0m0 0h0m0 0h0m0 2h0m2-1h0m0-1h0m0 2h0m1 1h0m0 0h0m1 1h0m1-4h0m0 4h0m0-2h0m0 2h0m1 1h0m0-1h0m0 0h0m1-4h0m0 3h0m0 2h0m1-1h0m0-2h0m0 0h0m1 3h0m0-3h0m0 3h0m4-3h0m0-2h0m1 5h0m2-1h0m1-3h0m1 3h0m5 1h0m1-1h0m4-4h0m-118 8h0m8 1h0m2-2h0m1 3h0m1-2h0m0 0h0m0 2h0m1 0h0m0-4h0m0 3h0m0-3h0m1 0h0m0 0h0m0 2h0m1-1h0m2 3h0m0-4h0m1 5h0m1-5h0m1 4h0m0-4h0m0 0h0m1 3h0m0-3h0m1 5h0m0-3h0m0 2h0m0-3h0m1 2h0m0 1h0m0-3h0m0 2h0m1-2h0m0 4h0m2-4h0m0 1h0m0-2h0m0 5h0m1-2h0m0-3h0m0 1h0m0 2h0m1 1h0m1-3h0m0 0h0m0 2h0m0 0h0m1-1h0m0 3h0m0-2h0m0-1h0m0 2h0m0-1h0m1-3h0m0 5h0m1 0h0m0-1h0m0 0h0m0 0h0m0-3h0m0 1h0m1 1h0m1 1h0m0-2h0m0-2h0m0 3h0m1-1h0m0-2h0m1 5h0m1 0h0m0-4h0m1 3h0m0-1h0m0 2h0m0-1h0m0-4h0m1 4h0m0-4h0m0 0h0m0 5h0m1-5h0m0 3h0m0 1h0m1 1h0m0-1h0m0 0h0m0-1h0m1-1h0m0-1h0m0 0h0m0 1h0m0-2h0m1 5h0m0-2h0m0-3h0m0 1h0m1 1h0m0-2h0m1 1h0m0 2h0m0 1h0m0 0h0m1-2h0m0 1h0m0-2h0m0 2h0m1-3h0m0 0h0m0 1h0m1 1h0m1 1h0m0 0h0m1 2h0m0-1h0m0-1h0m0-3h0m1 3h0m0-3h0m0 5h0m0-4h0m0 2h0m1-3h0m0 0h0m0 3h0m0 1h0m0 1h0m1-4h0m0 4h0m0-2h0m0-2h0m1 4h0m0 0h0m0-5h0m0 5h0m1 0h0m1-4h0m0 0h0m0 0h0m0 3h0m0 1h0m0-5h0m1 0h0m1 3h0m0-3h0m0 0h0m1 2h0m0-2h0m1 3h0m0-1h0m0 2h0m0-4h0m0 0h0m0 1h0m1 3h0m0 0h0m0 0h0m0-4h0m1 2h0m0 2h0m0-2h0m0-2h0m0 0h0m1 0h0m0 4h0m0-1h0m1-1h0m0 2h0m0-1h0m0 0h0m1-1h0m0 3h0m0-4h0m0 1h0m0 1h0m2-2h0m1 2h0m0 1h0m1 0h0m0-3h0m1 0h0m0 1h0m1-2h0m0 2h0m0 0h0m0 0h0m1 0h0m0 0h0m0-2h0m0 0h0m2 1h0m0 4h0m0-4h0m1 2h0m1-3h0m0 0h0m0 4h0m1-3h0m1 1h0m0-2h0m1 5h0m0-2h0m0-3h0m0 0h0m1 0h0m1 2h0m0-1h0m1 0h0m0 1h0m0-1h0m1 4h0m0 0h0m0-5h0m1 0h0m0 5h0m1-4h0m0 0h0m3 4h0m0-5h0m1 0h0m1 3h0m1-3h0m0 5h0m0-5h0m2 0h0m0 3h0m0 2h0m1-5h0m0 0h0m1 2h0m1 3h0m0-5h0m1 2h0m0 3h0m0-5h0m0 2h0m1 0h0m0 0h0m0-2h0m0 1h0m0 4h0m0-5h0m1 4h0m0-3h0m1 4h0m0 0h0m0 0h0m1-4h0m1 2h0m0 2h0m1 0h0m1-2h0m0-3h0m1 4h0m1 0h0m0 1h0m0-2h0m1 2h0m1-4h0m1-1h0m0 4h0m1-3h0m0 3h0m1-4h0m1 3h0m0-1h0m0 2h0m1-2h0m2-1h0m0 4h0m2-2h0m1-1h0m0-1h0m1 1h0m1-1h0m1 3h0m0 0h0m-117 7h0m4 0h0m1-1h0m0-4h0m2 5h0m0 0h0m1-1h0m0-3h0m0 2h0m1 2h0m0-3h0m1 1h0m0-2h0m0 0h0m1 2h0m0 2h0m0-3h0m1 2h0m0 1h0m0-1h0m0 1h0m1-3h0m0-2h0m1 1h0m1 3h0m0 1h0m1-5h0m0 1h0m1-1h0m0 3h0m1 2h0m0-4h0m0 3h0m1 1h0m0-3h0m0 0h0m1 0h0m1 2h0m0-4h0m2 2h0m0 2h0m0-1h0m1-2h0m0 0h0m1 4h0m0-1h0m1-1h0m0 1h0m0-2h0m1 0h0m0-2h0m0 3h0m1-3h0m0 5h0m0-4h0m1-1h0m0 4h0m0-4h0m0 2h0m1 2h0m0-4h0m1 4h0m0-4h0m1 3h0m0-3h0m0 0h0m0 5h0m1 0h0m0-5h0m0 5h0m0-5h0m0 5h0m1 0h0m1-1h0m0-4h0m0 3h0m0 2h0m1-5h0m0 2h0m0 1h0m0 0h0m0 1h0m0-1h0m1-1h0m0 0h0m1-1h0m0 1h0m0-1h0m0 3h0m0-2h0m1 2h0m0 1h0m0-4h0m0 1h0m0 3h0m0 0h0m1-1h0m0 1h0m0-4h0m0 3h0m1 0h0m0 0h0m0-2h0m0 3h0m0-3h0m0-1h0m1 4h0m0 0h0m0-4h0m1 0h0m1-1h0m0 1h0m0 2h0m1-1h0m0 0h0m1 3h0m1-1h0m0-2h0m0 1h0m0 1h0m1-4h0m0 0h0m0 2h0m0 2h0m0-1h0m1-3h0m0 2h0m0-2h0m1 0h0m0 4h0m0-1h0m0-2h0m1 2h0m0 1h0m2 0h0m0-3h0m1 0h0m0 0h0m1 2h0m0 0h0m1-3h0m0 5h0m0-4h0m1 2h0m0 0h0m0-2h0m1 0h0m1 1h0m2-2h0m3 3h0m1 1h0m1-3h0m0 3h0m0-3h0m1 3h0m1-3h0m1 3h0m0 0h0m0-4h0m0 4h0m0-3h0m1 2h0m0 1h0m1-4h0m1 4h0m0-4h0m0 3h0m0 0h0m1 2h0m0-4h0m0 0h0m2-1h0m0 2h0m0 3h0m0-1h0m1-4h0m0 5h0m0 0h0m0-5h0m1 1h0m1-1h0m0 1h0m0 4h0m2-4h0m0 3h0m1 1h0m2-5h0m1 0h0m1 2h0m1-2h0m0 4h0m0 1h0m0-5h0m1 5h0m1 0h0m0-4h0m1 3h0m1 0h0m0-3h0m1 4h0m0-5h0m0 4h0m0 0h0m1-3h0m0 3h0m1 0h0m0-1h0m1-1h0m0 1h0m0 2h0m1-5h0m0 0h0m1 3h0m0-2h0m2 3h0m0-4h0m1 3h0m0-2h0m1 3h0m0-2h0m0 3h0m1-5h0m0 1h0m0 3h0m0-3h0m1-1h0m0 3h0m0 0h0m1-2h0m1-1h0m1 5h0m0-3h0m1 1h0m0 0h0m0 2h0m2-2h0m0 1h0m0-3h0m1 4h0m0-3h0m1 2h0m0 0h0m1-1h0m0-3h0m0 5h0m1-3h0m1 0h0m0 3h0m0-1h0m1-4h0m1 0h0m2 4h0m4-1h0m1-3h0m-113 9h0m1 1h0m2 0h0m1-2h0m0 0h0m0 0h0m0 3h0m0 0h0m1 0h0m0-5h0m1 5h0m0-2h0m0-2h0m1 4h0m0-2h0m1 1h0m0 0h0m1-3h0m0-1h0m0 2h0m0-2h0m0 5h0m0-4h0m2 3h0m0-3h0m1 0h0m0 0h0m1 4h0m1-4h0m0 2h0m0-1h0m1 2h0m0 1h0m0-3h0m1 3h0m1-1h0m0-4h0m1 0h0m1 3h0m0 2h0m1-5h0m0 1h0m0 2h0m1 0h0m0-3h0m0 1h0m0 2h0m1 0h0m0 2h0m0-5h0m0 3h0m0 0h0m0-2h0m1 2h0m1-1h0m0 3h0m0-1h0m3-3h0m0-1h0m0 4h0m1-4h0m0 5h0m0 0h0m1-2h0m0 2h0m0-2h0m1 0h0m0 1h0m1-4h0m0 1h0m1 2h0m0 0h0m0-1h0m1 2h0m1-3h0m0 4h0m0 0h0m0 0h0m0-2h0m1 1h0m0-3h0m1 3h0m0 1h0m0-2h0m2 2h0m0-1h0m0-1h0m1-1h0m0 2h0m0-4h0m0 2h0m1 2h0m1-1h0m0 2h0m1 0h0m0 0h0m0-5h0m0 5h0m1-5h0m0 4h0m0-4h0m2 2h0m0 0h0m1 1h0m0-1h0m0-1h0m0 0h0m0 2h0m1-2h0m1 3h0m1-4h0m0 3h0m0 1h0m0 0h0m0-1h0m2 0h0m0-2h0m0 0h0m1 1h0m4 1h0m1 2h0m0-5h0m0 3h0m1-3h0m1 5h0m0-4h0m1 0h0m1 1h0m0-1h0m2 2h0m1-3h0m1 1h0m0 1h0m0-2h0m0 1h0m1 4h0m0-4h0m1 3h0m0-2h0m1 0h0m0 3h0m0-3h0m1 2h0m1-4h0m0 1h0m1 4h0m0-5h0m2 3h0m0 0h0m0 1h0m0-4h0m0 0h0m0 0h0m1 0h0m1 5h0m1-1h0m1-4h0m0 5h0m0 0h0m1-2h0m0-3h0m0 5h0m1-1h0m0 1h0m0-3h0m0 2h0m0 1h0m1-1h0m0-2h0m1 0h0m1-2h0m0 4h0m1 1h0m0-2h0m0-3h0m1 0h0m2 3h0m0-3h0m0 2h0m0 3h0m1-4h0m0 4h0m1-5h0m0 2h0m0-2h0m0 1h0m1 1h0m0-1h0m1 4h0m0-1h0m0-1h0m1-2h0m0 0h0m0 0h0m0 3h0m0-1h0m0-3h0m1 2h0m0 3h0m1-2h0m0-2h0m0-1h0m1 2h0m0 3h0m1-4h0m0-1h0m0 1h0m0 2h0m0-1h0m1 3h0m0 0h0m2-1h0m0-2h0m0 2h0m0-2h0m1 1h0m1-2h0m0 2h0m0-1h0m0-2h0m0 0h0m0 3h0m0-3h0m1 1h0m0 3h0m1 0h0m2-3h0m1 2h0m0 1h0m1 0h0m3-4h0m1 4h0m1 1h0m0-1h0m1-2h0m1 1h0m1-2h0m1 3h0m1-1h0m-117 5h0m1 2h0m0-4h0m2 3h0m0 1h0m0 1h0m0-3h0m0 1h0m0-3h0m1 4h0m0 1h0m0-2h0m1 0h0m0-2h0m1 2h0m1 2h0m0-1h0m0 0h0m0-2h0m0 2h0m1-3h0m0 3h0m0 0h0m0-4h0m0 4h0m1 1h0m1-2h0m0-3h0m0 2h0m0 1h0m0 1h0m1-1h0m0 0h0m1 1h0m0 0h0m0 1h0m0-4h0m0 1h0m0 0h0m1 2h0m0 1h0m0-2h0m0-1h0m1 0h0m0 3h0m0-2h0m1 1h0m0 1h0m0-4h0m0 4h0m1-5h0m0 0h0m0 1h0m0-1h0m0 2h0m1-2h0m0 3h0m0-1h0m0-2h0m0 3h0m1 1h0m0-2h0m0 3h0m1-4h0m0-1h0m1 3h0m1 2h0m0 0h0m0-3h0m0-2h0m1 3h0m0-2h0m0 0h0m1 0h0m0 1h0m0 2h0m1-1h0m0 0h0m0-1h0m0 0h0m0-2h0m0 1h0m1 1h0m1-2h0m0 4h0m0-1h0m1-2h0m0-1h0m0 0h0m0 0h0m0 0h0m0 0h0m2 1h0m0 0h0m1-1h0m0 0h0m0 3h0m0 1h0m1 1h0m0-3h0m0 1h0m0 0h0m0 1h0m1-3h0m0 4h0m1-2h0m0 1h0m1 1h0m0 0h0m0 0h0m0-5h0m0 0h0m1 3h0m0-3h0m0 1h0m0 1h0m1-1h0m1 0h0m1-1h0m0 5h0m1-4h0m0-1h0m0 5h0m0-3h0m1-2h0m1 0h0m0 4h0m0-4h0m3 0h0m1 1h0m0 2h0m0-1h0m1-1h0m0 3h0m0-3h0m1 0h0m1 4h0m1-2h0m0 2h0m0-3h0m0 2h0m0-3h0m2 0h0m0 4h0m1-2h0m0 0h0m1 2h0m1-5h0m1 1h0m0 2h0m2 1h0m0-2h0m0-2h0m1 1h0m0 4h0m0-4h0m1 2h0m0 1h0m0-2h0m2-1h0m0 3h0m0 0h0m0-4h0m1 3h0m0-1h0m0 0h0m1 0h0m0 3h0m0-2h0m1-3h0m0 2h0m2 2h0m0 1h0m2-5h0m2 2h0m0-2h0m0 2h0m0-1h0m0 3h0m2-1h0m0 0h0m0-2h0m0 3h0m1-1h0m0 1h0m1-4h0m0 1h0m0 2h0m0-1h0m0 0h0m0 1h0m1-2h0m1 2h0m0-2h0m0 4h0m1 0h0m0-3h0m1-1h0m0 1h0m0 1h0m0-3h0m0 5h0m1 0h0m0-4h0m1 4h0m0-3h0m0-1h0m0-1h0m1 2h0m0 2h0m0-1h0m0 2h0m0-5h0m1 5h0m0-1h0m0 1h0m0-4h0m0 2h0m1 0h0m0 1h0m1-3h0m0 2h0m0 1h0m0-1h0m0-3h0m1 0h0m0 4h0m0-4h0m0 4h0m0 0h0m0 0h0m0-4h0m0 4h0m1-3h0m2-1h0m0 4h0m0-2h0m1 3h0m0-1h0m1-1h0m0-1h0m0 1h0m1-3h0m0 1h0m1-1h0m0 3h0m0-3h0m1 3h0m0 2h0m0-3h0m0 1h0m0 2h0m0-1h0m0-2h0m0 3h0m0-3h0m1-2h0m2 5h0m0-2h0m0-3h0m1 2h0m0 2h0m1-1h0m0-2h0m0-1h0m1 5h0m1-5h0m1 3h0m0 0h0m0-1h0m0-2h0m1 1h0m0 0h0m0 0h0m0 3h0m1-2h0m0 1h0m1 0h0m0 1h0m0-4h0m0 0h0m1 3h0m0 2h0m1-5h0m0 1h0m1 2h0m1 1h0m0-3h0m0 0h0m1-1h0m0 2h0m0-2h0m1 1h0m1 1h0m0 3h0m3-2h0m1-2h0m1 4h0m1-5h0m1 4h0m-126 3h0m1-1h0m1 0h0m1 0h0m2 3h0m3-3h0m4 1h0m0 4h0m1-4h0m1 4h0m2 0h0m0-2h0m0 1h0m1 1h0m0-5h0m1 3h0m1 2h0m0-2h0m0 0h0m0-3h0m1 1h0m0 1h0m0 3h0m0-5h0m0 3h0m1 2h0m0 0h0m0-2h0m0-2h0m1 2h0m0-2h0m0-1h0m0 2h0m0 1h0m1 0h0m0 1h0m1-3h0m0 0h0m0-1h0m0 3h0m1 1h0m0-1h0m2 2h0m1 0h0m0-1h0m0-2h0m0 2h0m0-3h0m1 1h0m0 2h0m1 0h0m0-4h0m0 2h0m0 3h0m1-3h0m0-1h0m1 2h0m1 1h0m0 1h0m1-5h0m0 4h0m0-2h0m0 1h0m1 2h0m0-3h0m0-1h0m1 3h0m0-2h0m0 0h0m1-1h0m0 2h0m0-2h0m1-1h0m0 1h0m0 4h0m1-2h0m0 2h0m0-4h0m0 4h0m1-4h0m0 2h0m0-3h0m1 1h0m0 3h0m0-1h0m1 2h0m0-4h0m1 1h0m0 2h0m0-3h0m0-1h0m1 1h0m0 0h0m0 3h0m1-2h0m0-1h0m1 4h0m0-1h0m0-3h0m1 3h0m0-4h0m0 2h0m3-1h0m1 0h0m0 1h0m1 1h0m0 0h0m1-2h0m0 0h0m1 4h0m0-4h0m0 2h0m0-3h0m0 1h0m1-1h0m1 1h0m0 2h0m1 1h0m0 0h0m1-2h0m1-1h0m0-1h0m0 0h0m1 5h0m0-2h0m1 1h0m1-2h0m1-2h0m0 2h0m0-2h0m0 5h0m0-4h0m1 4h0m1-1h0m0-2h0m1-1h0m1 0h0m0 3h0m0 1h0m3-2h0m1-1h0m0-2h0m1 1h0m0 4h0m0-2h0m0-2h0m0 4h0m3-2h0m0-3h0m1 3h0m0 0h0m0 1h0m1-3h0m0 2h0m1-3h0m0 3h0m0-2h0m1-1h0m0 2h0m1-2h0m0 0h0m0 0h0m1 0h0m0 1h0m0 0h0m1-1h0m0 0h0m0 5h0m0-1h0m0-2h0m0-1h0m1-1h0m0 2h0m0 2h0m0-3h0m1 3h0m0-3h0m0 3h0m0 1h0m0-2h0m0 1h0m1-2h0m0 1h0m1-1h0m0 3h0m0 0h0m1-5h0m0 3h0m0 0h0m1 2h0m1-3h0m0 3h0m0-4h0m0 1h0m0-2h0m2 0h0m0 2h0m0 3h0m1-1h0m0 1h0m0-1h0m0-4h0m0 4h0m0-2h0m0 2h0m0 0h0m1 0h0m0-3h0m0 4h0m0-5h0m0 5h0m0 0h0m1-4h0m1-1h0m1 2h0m0 0h0m0 0h0m1 3h0m0-2h0m0-3h0m0 5h0m1-5h0m0 3h0m0 2h0m0-3h0m0-2h0m0 5h0m0 0h0m1 0h0m0-5h0m0 5h0m0-5h0m0 3h0m1 2h0m0 0h0m0-5h0m0 5h0m0-5h0m1 5h0m0 0h0m0-5h0m0 2h0m1 3h0m1-1h0m0 0h0m1 1h0m0-5h0m0 0h0m0 3h0m1 1h0m0-4h0m1 0h0m0 4h0m0-3h0m0 0h0m0-1h0m0 5h0m1-4h0m0 3h0m0-2h0m0 1h0m0 1h0m1-1h0m0 0h0m0 1h0m1-3h0m0 1h0m0-1h0m1-1h0m0 4h0m0 0h0m0-3h0m1 4h0m0-5h0m1 1h0m0 2h0m1-2h0m0 1h0m0 2h0m1-4h0m0 4h0m0-1h0m1-2h0m0 4h0m1-5h0m0 2h0m0-1h0m1 4h0m1-1h0m0-2h0m0 0h0m1 3h0m0-5h0m2 0h0m0 3h0m0 1h0m1 1h0m2-3h0m0 3h0m0-2h0m1 1h0m-123 5h0m3 1h0m0-1h0m1-3h0m1 5h0m1-5h0m1 4h0m0-1h0m1-3h0m1 0h0m1 3h0m0 1h0m0-2h0m0-2h0m1 5h0m0-2h0m0 0h0m0-1h0m1-2h0m0 2h0m2 0h0m0-1h0m1-1h0m0 3h0m1 0h0m0 1h0m0-4h0m1 4h0m0-2h0m1 3h0m0-4h0m1 4h0m1-3h0m0 3h0m0-4h0m1 3h0m1-2h0m0 1h0m0-1h0m0-2h0m2 3h0m0-1h0m1-2h0m1 3h0m2-2h0m0 3h0m0 1h0m1-1h0m0-4h0m0 4h0m0-4h0m0 5h0m1-2h0m0-2h0m0 2h0m0-1h0m0 0h0m1 1h0m0-2h0m0 2h0m1-2h0m0-1h0m3 3h0m1-1h0m1 0h0m0-1h0m0 2h0m1 2h0m1-1h0m0-4h0m1 1h0m0 1h0m0-1h0m1 2h0m1-1h0m0 2h0m0-2h0m0 1h0m1-1h0m0-1h0m0-1h0m1 4h0m0-2h0m1 1h0m0 1h0m0 0h0m1 0h0m1-1h0m2 1h0m0 1h0m1-4h0m0 4h0m0-2h0m2 1h0m0 0h0m0-1h0m0-2h0m1-1h0m0 1h0m0 3h0m1 0h0m1 0h0m0-4h0m2 4h0m1-2h0m1 0h0m0-2h0m0 2h0m1 2h0m0 0h0m0-3h0m0 4h0m0 0h0m0-5h0m1 5h0m1-3h0m0 3h0m0-4h0m1 0h0m2 0h0m2 3h0m0 0h0m1-3h0m1 2h0m0 1h0m1-2h0m0 3h0m0-3h0m1 1h0m1-3h0m0 0h0m1 3h0m0-3h0m0 2h0m0-2h0m1 4h0m1-3h0m0 4h0m0-3h0m2 2h0m0-1h0m1-1h0m0 1h0m0-2h0m0-1h0m0 1h0m1 0h0m0 0h0m0 2h0m0-3h0m0 1h0m0 3h0m1-3h0m0 4h0m0 0h0m1-5h0m0 5h0m0 0h0m0 0h0m1-3h0m0 0h0m0 3h0m0-3h0m0-2h0m0 2h0m0-2h0m0 3h0m1-3h0m0 1h0m0 1h0m0-2h0m0 0h0m0 3h0m1-2h0m0 1h0m0 1h0m0 0h0m0-1h0m1 1h0m0-2h0m1 2h0m1-2h0m0 4h0m1-3h0m0 2h0m0 0h0m1-2h0m0 1h0m0-2h0m1 2h0m0-2h0m1 1h0m0-2h0m1 4h0m0-1h0m1-1h0m1 2h0m0-2h0m0 0h0m0-2h0m0 3h0m1-1h0m0 0h0m0-1h0m0 0h0m1 3h0m0 1h0m0-3h0m0 3h0m0-5h0m0 0h0m0 0h0m1 4h0m0-2h0m0 2h0m0-3h0m1 1h0m0-2h0m0 3h0m0 0h0m1-3h0m0 0h0m0 0h0m0 4h0m1-3h0m0-1h0m1 4h0m0-4h0m1 1h0m0 4h0m0-3h0m0-2h0m0 0h0m0 3h0m1 1h0m0-4h0m0 1h0m0 4h0m1-3h0m0-2h0m1 0h0m0 5h0m0-1h0m1 1h0m1-5h0m0 3h0m0 1h0m0-2h0m1-1h0m0 2h0m0-1h0m0-2h0m0 3h0m0-1h0m0-1h0m0 3h0m1-2h0m2 0h0m0 2h0m0-1h0m1-1h0m1 3h0m1-1h0m1-2h0m1-2h0m0 0h0m0 2h0m0 1h0m0 1h0m1-4h0m0 1h0m1 3h0m0 0h0m1-2h0m1-1h0m0 1h0m1 3h0m0-2h0m1-1h0m1 3h0m4-2h0m5-3h0m-137 7h0m5 1h0m5 0h0m1-1h0m0 1h0m1 2h0m2-1h0m0-2h0m1 4h0m0-4h0m0 3h0m1-4h0m1 5h0m1-5h0m1 3h0m1-3h0m0 4h0m0-3h0m1 2h0m2 2h0m0-1h0m1 0h0m0 1h0m1-3h0m1 1h0m0 1h0m0-4h0m0 5h0m0-3h0m1 3h0m0-2h0m0-1h0m1 2h0m0-1h0m0 2h0m0-2h0m0-2h0m1 1h0m0 2h0m1 0h0m2-4h0m0 1h0m1 4h0m0-3h0m0-2h0m0 5h0m0-4h0m0 3h0m0 1h0m1-2h0m1 0h0m1-2h0m2 1h0m1-1h0m0 4h0m0-1h0m1-3h0m1 0h0m0 0h0m0-1h0m2 2h0m0 3h0m1-3h0m2-2h0m1 1h0m2 1h0m0-1h0m1-1h0m0 4h0m0-2h0m0 2h0m0 1h0m0-1h0m0-2h0m2 2h0m2 0h0m0 0h0m0 0h0m0 0h0m0 0h0m0 0h0m1-4h0m0 0h0m0 3h0m1-2h0m1 1h0m1 0h0m1 3h0m2-3h0m1-2h0m0 0h0m0 5h0m1-5h0m0 4h0m2-2h0m0 1h0m1 1h0m1 1h0m1-2h0m0-3h0m0 1h0m1 3h0m0-1h0m1-2h0m0 2h0m1-1h0m0 1h0m0 2h0m1-5h0m0 1h0m0-1h0m1 5h0m0-3h0m1-2h0m0 0h0m0 3h0m1 1h0m3 0h0m0-2h0m1-2h0m0 5h0m1-1h0m1-2h0m1 0h0m0 2h0m0 0h0m0-1h0m0-3h0m1 5h0m0-3h0m0 3h0m1-5h0m0 5h0m0-1h0m1-1h0m0 0h0m1-2h0m0 4h0m0-5h0m0 5h0m0-3h0m1-1h0m0 3h0m0-2h0m1 1h0m1 2h0m0-5h0m0 3h0m1 0h0m0-3h0m1 5h0m0 0h0m0-1h0m0 1h0m0-4h0m1 3h0m0-2h0m0-2h0m0 5h0m0-5h0m0 3h0m0-3h0m1 1h0m0-1h0m0 1h0m0 0h0m1-1h0m1 1h0m0 2h0m0-3h0m1 5h0m1-5h0m0 5h0m0-1h0m0-1h0m0 1h0m0-4h0m1 0h0m0 2h0m1 0h0m0 1h0m1 0h0m0-1h0m1-1h0m0 0h0m0 1h0m0 1h0m0 0h0m2 2h0m0-2h0m0 0h0m0 1h0m0 0h0m0-4h0m0 2h0m1 2h0m0-1h0m0 2h0m1 0h0m0-1h0m0-4h0m0 0h0m0 3h0m0 2h0m1-5h0m0 4h0m0-2h0m0-2h0m1 0h0m0 0h0m1 0h0m0 5h0m0 0h0m0-3h0m0-2h0m1 4h0m1-2h0m0 3h0m0-4h0m0 3h0m1-2h0m0 0h0m1-2h0m0 2h0m1 2h0m0-4h0m0 0h0m2 0h0m0 3h0m1 0h0m0-3h0m0 4h0m0 1h0m0 0h0m1-5h0m0 0h0m0 5h0m0-3h0m0-1h0m0 2h0m0-1h0m1-1h0m1-1h0m1 5h0m0 0h0m1-2h0m0 2h0m2-2h0m1-1h0m1 0h0m0-1h0m1 3h0m0-4h0m0 4h0m1 0h0m1 1h0m2-2h0m1 0h0m1-2h0m1 2h0m0 2h0m2-1h0m-128 5h0m1 0h0m2-2h0m1 3h0m0 1h0m0-4h0m2 3h0m1-2h0m0 2h0m1-2h0m2-1h0m0 3h0m1 1h0m0-4h0m0 0h0m0 0h0m1-1h0m1 3h0m0-1h0m1 3h0m0-4h0m0 1h0m0 3h0m0 0h0m1-1h0m0-2h0m0 0h0m0-2h0m1 1h0m0 0h0m0 1h0m0 3h0m0-1h0m1-3h0m0 4h0m0 0h0m0-5h0m0 5h0m0-5h0m0 2h0m1-2h0m0 0h0m1 2h0m0 2h0m0-2h0m1 3h0m0-3h0m0 3h0m0-4h0m0 4h0m0-5h0m1 2h0m0 1h0m0-3h0m0 2h0m1-1h0m0-1h0m0 2h0m0 2h0m0-4h0m0 0h0m1 2h0m2-1h0m1 2h0m0 0h0m0-1h0m0 1h0m1 2h0m2-1h0m0 1h0m1-3h0m1 1h0m2 0h0m1-2h0m0 3h0m0-4h0m0 3h0m1-3h0m0 0h0m1 0h0m2 4h0m0-2h0m0 0h0m1 3h0m0-1h0m1-4h0m0 4h0m1 1h0m1-5h0m0 1h0m1 0h0m0 0h0m0 3h0m0 1h0m1-1h0m0 1h0m1-4h0m2 0h0m0 3h0m1-1h0m1 1h0m1-2h0m1-1h0m0 1h0m0 3h0m1 0h0m0-2h0m0 0h0m0-1h0m1-1h0m0 2h0m1 2h0m0-4h0m0 1h0m1 0h0m0 3h0m1 0h0m0-5h0m3 2h0m0 0h0m2 1h0m0-3h0m1 4h0m1-1h0m0-3h0m1 0h0m0 5h0m0-2h0m0-1h0m0 1h0m1-3h0m0 1h0m1 3h0m0-4h0m1 0h0m0 0h0m0 4h0m0-2h0m0 0h0m1 3h0m1-1h0m1 0h0m0-2h0m0 0h0m2-2h0m0 1h0m0-1h0m1 3h0m0 0h0m0-2h0m0 3h0m1 0h0m1 0h0m0-4h0m0 1h0m0 4h0m0-5h0m1 2h0m1-1h0m0 0h0m0 3h0m1 0h0m1-2h0m1 1h0m0 1h0m0 0h0m0-1h0m0 2h0m0-3h0m1 3h0m0-2h0m0-3h0m0 1h0m1 2h0m0-1h0m0-1h0m0 3h0m0-4h0m0 0h0m1 0h0m0 2h0m0 3h0m0-4h0m1-1h0m0 3h0m1 1h0m1-1h0m0-3h0m0 3h0m1 2h0m0-1h0m1 1h0m0-5h0m0 4h0m0 1h0m1-2h0m0-2h0m0 1h0m0 3h0m0-2h0m0 0h0m1 2h0m0-1h0m1-4h0m0 4h0m0-3h0m1 3h0m1-4h0m0 2h0m1 2h0m1-3h0m0-1h0m1 0h0m0 4h0m0-4h0m1 0h0m0 3h0m1-2h0m0 3h0m0-4h0m1 0h0m0 4h0m0-2h0m0-2h0m1 1h0m1 4h0m1-4h0m0-1h0m0 3h0m0 1h0m1 1h0m1 0h0m1-3h0m1-1h0m1-1h0m0 4h0m0 0h0m0-1h0m1-2h0m0 3h0m0-1h0m1 2h0m0 0h0m1-3h0m0 2h0m0 0h0m0 0h0m1 0h0m0 1h0m1 0h0m0-2h0m0 2h0m1-1h0m1 0h0m0-4h0m0 5h0m1-4h0m1-1h0m0 3h0m1-3h0m0 3h0m0-2h0m1 4h0m0-2h0m1-1h0m0 3h0m0 0h0m1 0h0m2-4h0m1-1h0m1 0h0m0 4h0m-126 6h0m1 0h0m0 1h0m0-3h0m0 0h0m1-1h0m0 1h0m1-1h0m0 2h0m1-3h0m1 0h0m0 1h0m0 4h0m1-5h0m2 5h0m1-3h0m0-1h0m1 1h0m0 0h0m1-2h0m0 5h0m0-3h0m1 1h0m0-1h0m1-2h0m0 0h0m0 4h0m2 1h0m0-5h0m1 0h0m0 5h0m1-2h0m0 1h0m0 1h0m0-2h0m1 0h0m0 1h0m0-4h0m0 4h0m0 0h0m1-4h0m0 4h0m1 0h0m0 1h0m0-4h0m0 3h0m0-2h0m0 2h0m1 1h0m1-3h0m0 3h0m1-2h0m1-1h0m0-1h0m0 3h0m0 0h0m0 0h0m0-2h0m0 2h0m0-1h0m0 1h0m0 0h0m0-2h0m1 3h0m0-4h0m0 4h0m0 0h0m0-2h0m0 0h0m1 0h0m0-2h0m2 2h0m0 2h0m1-3h0m1 2h0m1-2h0m0 2h0m0 1h0m0-2h0m0-1h0m0-1h0m1 3h0m0 1h0m0-1h0m1-2h0m0-1h0m1 3h0m2-4h0m0 1h0m1 1h0m1 3h0m0 0h0m2-5h0m1 2h0m0 2h0m0 0h0m0-2h0m2 1h0m0 0h0m0 2h0m0-4h0m0 3h0m1-1h0m1-1h0m0-1h0m2 3h0m0 0h0m2-3h0m0 1h0m0 2h0m1-3h0m0 4h0m1-2h0m0 1h0m1 1h0m0-4h0m0 1h0m1-2h0m0 3h0m1-1h0m1 2h0m0 0h0m2 0h0m1-2h0m0 1h0m0-1h0m0-2h0m1 3h0m2-2h0m0 0h0m0 2h0m1-3h0m0 0h0m0 5h0m0-3h0m1-1h0m1 3h0m0 0h0m1-3h0m0 3h0m1-3h0m2 4h0m0-3h0m0 3h0m0 0h0m0 0h0m1-1h0m1-1h0m0 0h0m0 1h0m0 1h0m1-3h0m0-1h0m0 2h0m0-2h0m1 3h0m0 0h0m0 1h0m2-2h0m1-3h0m0 2h0m0-2h0m1 4h0m0-4h0m1 2h0m1-1h0m0 3h0m1-3h0m0 3h0m1-1h0m0 2h0m0 0h0m1-2h0m0 2h0m0-2h0m0 1h0m1 0h0m0 0h0m0-2h0m1 0h0m0 2h0m1-4h0m0 4h0m0-1h0m0-2h0m1 1h0m0-2h0m1 3h0m1 0h0m0-2h0m1 1h0m0 2h0m1-2h0m0 3h0m0-2h0m0-1h0m0-1h0m0-1h0m3 2h0m1 2h0m0-4h0m1 2h0m0-1h0m0 2h0m1 0h0m0-1h0m0 1h0m0 0h0m0-1h0m1 2h0m0 0h0m1 0h0m1 0h0m0-4h0m1 5h0m0-5h0m1 1h0m0-1h0m1 2h0m0 3h0m0 0h0m0-1h0m1-1h0m0 2h0m0-1h0m0 1h0m0 0h0m0-2h0m0 2h0m1-1h0m0-2h0m0 1h0m0 1h0m1 1h0m0-3h0m0 2h0m0-1h0m1-2h0m0 3h0m1-3h0m0 0h0m0-1h0m0 4h0m0 0h0m1-3h0m0 1h0m0-2h0m0 4h0m0 0h0m1 0h0m1-3h0m0 4h0m0-2h0m0-3h0m0 2h0m0 2h0m0-1h0m1-1h0m1 3h0m0-3h0m0 0h0m0 0h0m0 3h0m1-5h0m0 0h0m0 4h0m1-4h0m0 1h0m0 1h0m1-1h0m0 2h0m0-3h0m0 4h0m0-3h0m0 1h0m0 2h0m0-2h0m0 3h0m1-3h0m0-1h0m0 4h0m0-1h0m1-3h0m0-1h0m0 5h0m0-2h0m1-2h0m0 1h0m0 0h0m1 3h0m0-3h0m0-2h0m1 0h0m0 2h0m1 2h0m0 0h0m0-3h0m1 4h0m0-5h0m0 4h0m0-4h0m0 2h0m0 0h0m0 3h0m0-2h0m2 0h0m1 2h0m2-3h0m-125 4h0m3 0h0m0 5h0m0-2h0m0-1h0m1 3h0m1-1h0m0-2h0m0 3h0m0-4h0m1-1h0m0 2h0m0 3h0m0-1h0m1-1h0m0-3h0m0 2h0m1-2h0m0 5h0m2-2h0m1 2h0m0-1h0m1-3h0m0 3h0m0-4h0m1 2h0m1 3h0m0-4h0m3 2h0m0-3h0m1 1h0m0-1h0m1 4h0m0-1h0m1 1h0m0-4h0m1 3h0m0-3h0m0 1h0m1-1h0m0 0h0m0 2h0m0 0h0m1 3h0m1-3h0m0-1h0m0 0h0m1 2h0m0-3h0m0 2h0m1 0h0m1 0h0m0-2h0m0 0h0m1 2h0m0 0h0m0 1h0m0-2h0m0 4h0m1 0h0m0-2h0m0 2h0m1-3h0m0 2h0m0-3h0m0 2h0m1-3h0m1 5h0m0-4h0m0 2h0m0-1h0m0 3h0m1-3h0m0-1h0m0 1h0m1 3h0m0 0h0m0-2h0m0 0h0m0 1h0m1-2h0m0 0h0m1 1h0m1 2h0m0-3h0m1 2h0m0-2h0m0 3h0m0-2h0m1 0h0m1 2h0m1-5h0m2 3h0m0 2h0m2-5h0m1 2h0m0 2h0m0-2h0m0-2h0m1 1h0m0-1h0m1 5h0m1-1h0m0-1h0m1-3h0m0 5h0m0-3h0m1-1h0m0 1h0m0-2h0m2 1h0m0 2h0m1-3h0m1 1h0m1-1h0m1 2h0m0-1h0m1 3h0m1-3h0m0 3h0m0 0h0m1-4h0m0 3h0m1-2h0m0-1h0m1 0h0m1 4h0m0 1h0m2-5h0m1 0h0m0 5h0m1 0h0m2-5h0m0 5h0m0-2h0m1-2h0m1-1h0m1 5h0m1-5h0m1 4h0m1-4h0m0 3h0m0 1h0m1-4h0m1 1h0m0 1h0m0-2h0m1 2h0m0-2h0m0 2h0m0-2h0m1 1h0m0 4h0m0-3h0m1 3h0m0-5h0m0 3h0m1-3h0m0 2h0m2 3h0m0-3h0m0 0h0m1 0h0m0-2h0m0 0h0m0 1h0m0 1h0m1 0h0m0 3h0m1-4h0m0-1h0m0 0h0m0 1h0m1-1h0m0 0h0m0 1h0m1-1h0m0 4h0m0 0h0m0-2h0m0 3h0m2-5h0m0 5h0m0-2h0m0 1h0m0-4h0m1 0h0m1 4h0m0-1h0m0 2h0m0-2h0m0-1h0m1 2h0m0 1h0m1-1h0m1-3h0m0-1h0m1 2h0m0 1h0m0 1h0m1-3h0m0 4h0m1 0h0m1-3h0m0 2h0m1-2h0m0 2h0m0 1h0m0-1h0m0-4h0m1 0h0m1 4h0m0 0h0m0 0h0m1 0h0m0 0h0m0-3h0m0 3h0m1 1h0m1-5h0m0 1h0m0 3h0m1-2h0m0-2h0m0 4h0m0-2h0m0 1h0m0 0h0m1-2h0m0 2h0m0-2h0m0 1h0m0 3h0m0-3h0m0-1h0m0 0h0m1-1h0m0 0h0m0 1h0m0 1h0m1 1h0m0-2h0m1 3h0m0 1h0m0 0h0m0-2h0m0 1h0m1-1h0m0 2h0m0-1h0m0-1h0m0-2h0m1 2h0m0-1h0m0 2h0m0 1h0m0-3h0m1-2h0m0 1h0m0-1h0m0 5h0m0-5h0m0 2h0m1 2h0m0-2h0m0 1h0m0-1h0m1 1h0m0-3h0m1 0h0m0 3h0m1 2h0m0-2h0m0-1h0m1-2h0m0 5h0m1-3h0m0 2h0m0-1h0m1-1h0m0 0h0m0 0h0m0-2h0m1 4h0m0 1h0m0-3h0m1 3h0m0-2h0m0 2h0m1 0h0m1 0h0m1-5h0m-127 9h0m0 0h0m1-2h0m0 0h0m1 2h0m0 2h0m1-1h0m0-2h0m0-1h0m1 3h0m0 1h0m0-3h0m0-2h0m1 5h0m0-2h0m0 2h0m1-3h0m1-2h0m0 2h0m0 2h0m1-3h0m0-1h0m0 3h0m1 0h0m0 1h0m0 0h0m1-4h0m0 3h0m0 1h0m0 0h0m1 1h0m1-4h0m1 1h0m0 3h0m1-5h0m0 5h0m0-3h0m0 1h0m1 2h0m0-2h0m1-2h0m0 4h0m1 0h0m0-4h0m1 0h0m0 4h0m0-2h0m0 0h0m0 2h0m1-5h0m0 5h0m0 0h0m1-1h0m1-4h0m0 2h0m1-2h0m1 2h0m0 3h0m0-5h0m0 0h0m2 0h0m1 1h0m0 2h0m0 0h0m0-1h0m1 1h0m0 1h0m0 0h0m0-1h0m0-3h0m0 5h0m0-1h0m1-3h0m1 3h0m0 0h0m0 0h0m1-2h0m0-1h0m1 0h0m0 0h0m0 0h0m1 2h0m0 0h0m0-2h0m0 4h0m1-5h0m0 1h0m1 3h0m0-3h0m0-1h0m0 5h0m2-4h0m0 3h0m0-1h0m2-3h0m1 0h0m0 4h0m0-3h0m0 4h0m1-1h0m0-1h0m1 1h0m0-3h0m1 0h0m0 0h0m3 0h0m0-1h0m1 2h0m0-2h0m1 0h0m0 0h0m0 3h0m2-3h0m1 2h0m0 0h0m0 2h0m1-3h0m1 0h0m0 1h0m0 2h0m0 0h0m2 0h0m0-3h0m1 4h0m0-3h0m0 0h0m1 0h0m3 3h0m1-2h0m1 2h0m1-5h0m4 4h0m0-3h0m0 1h0m1-1h0m1 2h0m1 2h0m0-5h0m0 3h0m1-3h0m0 5h0m0-2h0m1 1h0m1-3h0m0 3h0m0-3h0m2 4h0m2-3h0m1-1h0m1 4h0m0 0h0m0-2h0m1 0h0m0-2h0m0-1h0m1 0h0m1 5h0m1-2h0m0 1h0m1 0h0m1-4h0m0 3h0m1-3h0m0 3h0m0 0h0m1-1h0m0 1h0m0 0h0m0 2h0m1-2h0m0 0h0m1-1h0m1-2h0m0 4h0m0-3h0m0 0h0m0 0h0m1 4h0m0-2h0m1-1h0m0 2h0m0-3h0m1 1h0m0 3h0m0-2h0m1-1h0m0 0h0m0 1h0m0-1h0m0 1h0m0-2h0m0 2h0m1-2h0m0 2h0m1 1h0m0-3h0m1-1h0m0 3h0m1 2h0m0-3h0m0 2h0m1-2h0m0 0h0m0 0h0m0-2h0m1 2h0m0 2h0m1 1h0m0-1h0m0-1h0m0-3h0m1 3h0m0-3h0m0 0h0m1 1h0m0 4h0m1-3h0m0 0h0m0 0h0m0 0h0m0 0h0m0-2h0m1 5h0m0-5h0m0 4h0m0 1h0m0-1h0m1-2h0m0-2h0m0 5h0m0-3h0m0 1h0m1-1h0m0-1h0m0 4h0m1-2h0m0-1h0m0 2h0m0-2h0m1-1h0m0-1h0m0 0h0m0 2h0m0-2h0m0 2h0m0-1h0m0 3h0m0-3h0m1 0h0m1 1h0m0 3h0m0-2h0m0 1h0m1 1h0m0 0h0m1-5h0m0 2h0m0 2h0m0 0h0m0-1h0m1 2h0m0-2h0m0-2h0m1 2h0m1 1h0m0-1h0m1-3h0m0 0h0m0 2h0m2 2h0m0 1h0m0-3h0m0-1h0m0-1h0m0 3h0m1 2h0m0-3h0m0 1h0m1 0h0m2-3h0m0 3h0m0 1h0m0 1h0m2-1h0m3-2h0m1 1h0m1-2h0m-130 7h0m1 2h0m2-4h0m0 1h0m2-1h0m0 0h0m0 5h0m1 0h0m0-4h0m0 3h0m1-2h0m0-1h0m1 2h0m0-2h0m1 2h0m0-2h0m1 3h0m0-2h0m1 2h0m0-1h0m1-1h0m0-2h0m1 3h0m0-3h0m0 5h0m1 0h0m0-1h0m0-2h0m1 0h0m0 3h0m2-5h0m0 0h0m1 3h0m0 0h0m0-2h0m1-1h0m1 4h0m0-3h0m0 2h0m1-1h0m1 1h0m0 1h0m1-4h0m0 1h0m1 0h0m0 1h0m0-1h0m1 3h0m2-4h0m0 3h0m0-2h0m0 3h0m1-2h0m0 3h0m1-4h0m0 4h0m1-4h0m0 0h0m0-1h0m0 5h0m0-1h0m0-4h0m1 5h0m0-1h0m1-3h0m0 0h0m1 4h0m0-5h0m0 0h0m0 1h0m0 0h0m1 1h0m0 0h0m0 3h0m2-5h0m1 0h0m1 2h0m0 2h0m1-1h0m0 0h0m0-1h0m0-1h0m1 4h0m1-4h0m0 2h0m0-3h0m1 3h0m1 0h0m1-1h0m0-2h0m1 5h0m1-4h0m2 0h0m0 4h0m1 0h0m0-5h0m0 4h0m3-4h0m0 3h0m0-1h0m0-2h0m0 2h0m1 3h0m1 0h0m0 0h0m1-1h0m1 1h0m0-2h0m0-3h0m0 5h0m2-4h0m1 0h0m0-1h0m1 3h0m1-3h0m0 2h0m3 3h0m0-4h0m0 0h0m0 2h0m1-1h0m0-1h0m0 3h0m1-3h0m0-1h0m0 5h0m0 0h0m1 0h0m1-5h0m1 4h0m1 1h0m1-1h0m0-1h0m1-3h0m0 5h0m1-2h0m0 2h0m0-3h0m3-2h0m1 2h0m0 2h0m0-1h0m0-3h0m3 5h0m1-5h0m0 2h0m0 1h0m2-2h0m0 0h0m1 0h0m0-1h0m0 4h0m0-4h0m0 0h0m0 2h0m1-2h0m1 1h0m2 1h0m0 1h0m0 1h0m0-3h0m1-1h0m1 4h0m0 1h0m0-4h0m1 2h0m0 1h0m0 1h0m0-1h0m1 1h0m0-2h0m0-1h0m1 1h0m0 0h0m1 0h0m1-3h0m0 5h0m0-5h0m1 4h0m0 0h0m1-3h0m1 4h0m0-5h0m1 0h0m0 0h0m1 0h0m1 2h0m0 2h0m0 1h0m0-4h0m0 3h0m1-4h0m0 5h0m0-2h0m0 1h0m1 0h0m0 0h0m0-4h0m0 0h0m0 2h0m1 2h0m0-1h0m0-2h0m1 3h0m0 1h0m0-1h0m1 0h0m0-2h0m0-2h0m0 1h0m0 0h0m0 3h0m0 0h0m0 1h0m1-4h0m0 4h0m0-4h0m1-1h0m0 4h0m1-3h0m0-1h0m0 2h0m0 3h0m3 0h0m1-4h0m0 4h0m0-5h0m0 0h0m0 4h0m0-2h0m1 3h0m0-5h0m0 2h0m0 1h0m0-2h0m0 2h0m0 2h0m1-4h0m0 1h0m1 2h0m0-4h0m0 4h0m1-4h0m0 1h0m0 1h0m0-2h0m1 3h0m0-2h0m0 1h0m0-1h0m1 3h0m0-3h0m1-1h0m0 5h0m1 0h0m0-3h0m0 0h0m2-1h0m0 3h0m1 1h0m0-2h0m1-1h0m0 2h0m0-3h0m2 3h0m1 0h0m0 0h0m2-3h0m-128 6h0m2 0h0m0 0h0m1 1h0m2-1h0m1 0h0m0 0h0m0 2h0m0 1h0m1 0h0m0 0h0m3-2h0m0 3h0m1-4h0m1 3h0m0-1h0m0 0h0m2-3h0m0 0h0m1 1h0m0 0h0m0-1h0m0 2h0m1 1h0m0-2h0m1 2h0m1 0h0m0 1h0m1-3h0m0-1h0m0 5h0m1-1h0m2 1h0m0-4h0m2-1h0m0 5h0m0-5h0m1 1h0m0 3h0m0-1h0m1-3h0m1 4h0m0-2h0m3-2h0m0 3h0m0 2h0m0-5h0m1 0h0m0 3h0m0-2h0m2-1h0m0 4h0m2-3h0m0-1h0m0 0h0m0 1h0m0 1h0m0 3h0m1 0h0m1-4h0m1 2h0m1-3h0m1 2h0m1-1h0m0 4h0m1-4h0m0 0h0m0 3h0m2-3h0m2 1h0m1-1h0m1 1h0m0-2h0m1 0h0m0 3h0m1 0h0m1-2h0m0-1h0m1 3h0m0 2h0m1-5h0m0 3h0m2 1h0m0 1h0m1 0h0m1-2h0m0 0h0m0-3h0m0 4h0m0-2h0m0 0h0m1-1h0m4 1h0m0 3h0m1-5h0m1 3h0m0 0h0m1-1h0m0-2h0m0 0h0m1 3h0m3-3h0m0 1h0m1 1h0m1 2h0m1-1h0m0 2h0m1-4h0m1 4h0m1-2h0m0-1h0m1-2h0m0 0h0m2 1h0m3-1h0m1 0h0m2 2h0m1 0h0m1 1h0m0-3h0m1 5h0m0 0h0m0-3h0m1 3h0m1-5h0m0 5h0m1-3h0m1-2h0m1 1h0m0-1h0m1 2h0m0-2h0m1 5h0m1-5h0m1 2h0m1-1h0m2 3h0m0-1h0m1-3h0m0 1h0m1-1h0m0 5h0m0 0h0m1-3h0m0-1h0m0 2h0m0-1h0m0 1h0m1-1h0m1 1h0m1 1h0m0-1h0m1-2h0m0 1h0m1 1h0m0 0h0m0 1h0m1-3h0m0-1h0m1 5h0m0 0h0m0 0h0m1-4h0m0 1h0m0 0h0m1 2h0m0-4h0m0 3h0m1-1h0m0-2h0m0 0h0m0 4h0m1 0h0m0 0h0m0-2h0m1 1h0m1 1h0m0-2h0m1 3h0m0 0h0m0-5h0m1 0h0m2 3h0m0-2h0m0 4h0m0 0h0m1-2h0m0 1h0m0-3h0m1 0h0m0-1h0m0 1h0m0 3h0m0 1h0m1 0h0m1-4h0m1 2h0m3-1h0m-117 8h0m8 1h0m2-4h0m0-1h0m14 0h0m1 3h0m0-2h0m5 0h0m0 3h0m3-3h0m1 3h0m2-3h0m3-1h0m0 3h0m5-1h0m0 1h0m0-3h0m1 4h0m2-1h0m0-1h0m1-2h0m1 2h0m2-1h0m0-1h0m1 3h0m0-3h0m1 2h0m2 1h0m0-1h0m0-2h0m0 2h0m2 2h0m0-2h0m0 1h0m1-1h0m0 0h0m0 3h0m1-5h0m0 0h0m1 0h0m1 0h0m1 4h0m0-1h0m1-2h0m2-1h0m0 5h0m1-1h0m1 0h0m0-4h0m2 0h0m2 1h0m3 1h0m1 0h0m7 0h0m2 1h0m2-3h0m3 2h0m3-2h0m0 3h0m1-2h0m0-1h0m1 3h0m0 1h0m1 1h0m1 0h0m0-5h0m2 5h0m0-3h0m3 1h0m0-3h0m0 4h0m1-3h0m0 0h0m2 2h0m0-3h0m0 0h0m1 1h0m1 2h0m0-3h0m0 4h0m0 1h0m1 0h0m0-1h0m1 0h0m3-3h0m0 2h0m-91 5h0m10-1h0m0 0h0m3 4h0m2-4h0m2 1h0m1-1h0m0-1h0m3 4h0m0-4h0m1 1h0m7-1h0m0 5h0m0-1h0m8 1h0m1-3h0m0 3h0m1-4h0m2 0h0m11 1h0m0-2h0m0 1h0m1 4h0m22-5h0m1 4h0m0-4h0m3 0h0m2 4h0m5-4h0m-82 6h0m0 4h0m1-4h0m6 3h0m0 0h0m0 0h0m3-1h0m1 0h0m0 1h0m0-1h0m3 3h0m0-4h0m2 1h0m0 1h0m2 0h0m2 2h0m0-2h0m1 0h0m3 1h0m2-2h0m5 2h0m1 0h0m0 0h0m1 1h0m0-2h0m1 2h0m0 0h0m1 0h0m5-2h0m0 2h0m0-5h0m2 1h0m2 4h0m0-1h0m0-2h0m0 3h0m1-2h0m1 2h0m0-1h0m1 1h0m0 0h0m4-1h0m1-2h0m0 1h0m0 2h0m1 0h0m1-3h0m0 1h0m0 2h0m1-1h0m1 0h0m0-1h0m0 2h0m2-2h0m1 1h0m-82 6h0m0-1h0m6 2h0m5-3h0m1-2h0m1 3h0m0 1h0m1-4h0m1 5h0m0-2h0m0-2h0m1 2h0m1 1h0m1 0h0m3-3h0m1 4h0m0-4h0m1-1h0m0 5h0m0-2h0m2 0h0m0 1h0m2 1h0m0 0h0m1-1h0m0 1h0m0-2h0m1 1h0m1 0h0m1 0h0m0-1h0m0 0h0m2-2h0m0 2h0m0 0h0m1-2h0m0 1h0m6 3h0m1-3h0m1 0h0m1-1h0m1 1h0m0 0h0m0-1h0m0-1h0m0 1h0m0 1h0m2 2h0m0-2h0m0 3h0m1-5h0m1 1h0m1 0h0m0 3h0m0 1h0m0 0h0m2-1h0m1-3h0m0 2h0m1 0h0m0 2h0m1-4h0m1 2h0m0-3h0m2 3h0m0 1h0m0 0h0m0-3h0m0 3h0m1 0h0m0-3h0m0 1h0m0-1h0m1 0h0m0 2h0m0 1h0m1 0h0m1 0h0m0-2h0m0 1h0m1-3h0m0 3h0m0 2h0m0 0h0m0 0h0m0-1h0m1-2h0m0 3h0m1-1h0m0-2h0m0 0h0m0 1h0m1-1h0m0 1h0m1 1h0m0-1h0m1 0h0m0-3h0m1 5h0m0-1h0m0-4h0m0 5h0m1-4h0m1 2h0m0-2h0m1 4h0m0-1h0m0-1h0m0-1h0m0 2h0m2-1h0m1 0h0m0 0h0m1 1h0m0-3h0m1-1h0m1 1h0m0 1h0m2 1h0m0 1h0m0-2h0m2-2h0m0 3h0m1-1h0m0 2h0m1-3h0m0 3h0m0 0h0m-87 6h0m2-3h0m0 3h0m7-4h0m0 5h0m0-2h0m3 2h0m1-5h0m1 4h0m0-3h0m0 2h0m1 2h0m0-5h0m1 5h0m0-5h0m1 0h0m0 3h0m0-1h0m1 2h0m0-4h0m1 4h0m0 1h0m0-4h0m0 3h0m2-3h0m0 1h0m0 1h0m1-2h0m0 4h0m1-3h0m0 2h0m1-4h0m0 5h0m2 0h0m0-5h0m0 3h0m1 0h0m0-1h0m1-1h0m2 0h0m0-1h0m2 1h0m1-1h0m0 4h0m0-2h0m1 0h0m0 0h0m0-1h0m1-1h0m2 5h0m2-5h0m1 3h0m0-1h0m2 0h0m2-1h0m0 0h0m0-1h0m2 0h0m0 2h0m0 3h0m3-4h0m0 2h0m1 1h0m1 1h0m1-3h0m0-2h0m1 2h0m1 2h0m1 0h0m0 0h0m1 1h0m0 0h0m0-3h0m0 1h0m0-3h0m1 3h0m0 2h0m1 0h0m0-4h0m1 4h0m0 0h0m1 0h0m0-2h0m1 2h0m0-2h0m0 1h0m0-1h0m1-2h0m0 2h0m1-1h0m0 1h0m0-1h0m1 1h0m0-3h0m0 3h0m0 0h0m1-1h0m0 0h0m0 3h0m0-1h0m0-3h0m0 0h0m0 0h0m1 0h0m0-1h0m0 4h0m0 0h0m0-1h0m1 1h0m0-3h0m0 0h0m1 2h0m0 2h0m0-4h0m0 1h0m0 0h0m0 3h0m2-4h0m0-1h0m0 3h0m0-3h0m1 3h0m0 0h0m1 2h0m0 0h0m0 0h0m1-1h0m0-4h0m1 1h0m0 0h0m1 2h0m0-3h0m2 3h0m0-1h0m1 0h0m1 0h0m1 1h0m0 0h0m1 1h0m0-1h0m0-2h0m1 3h0m0-2h0m0 0h0m1 2h0m1-3h0m1-1h0m0 0h0m0 5h0m0-2h0m0 0h0m-88 7h0m3-1h0m1 2h0m0-5h0m0 3h0m5 2h0m2 0h0m0-1h0m2-2h0m2 0h0m1-2h0m2 4h0m0 1h0m1-5h0m0 5h0m1-5h0m1 2h0m1 0h0m0-1h0m1 4h0m2-5h0m0 5h0m1-3h0m0 0h0m0-2h0m2 3h0m1 1h0m0-1h0m0-2h0m0 2h0m0 0h0m1-3h0m0 1h0m3 2h0m0-3h0m1 3h0m2 1h0m3-3h0m0 3h0m1-2h0m1-1h0m0-1h0m1 2h0m1 0h0m1 2h0m0-1h0m3-3h0m1 3h0m0-2h0m0-1h0m1 1h0m0 1h0m2 0h0m0-1h0m0 4h0m1-2h0m0-1h0m0 0h0m1 3h0m0-4h0m0 0h0m1 2h0m0-2h0m1-1h0m1 5h0m0-5h0m1 1h0m1 1h0m0 0h0m1-2h0m1 1h0m0-1h0m0 4h0m1-1h0m0 1h0m1-1h0m1-1h0m0-1h0m1 0h0m1 1h0m0 1h0m1-2h0m0 0h0m0 0h0m2-1h0m0 3h0m0-1h0m2 3h0m0 0h0m1-4h0m1 0h0m0 3h0m0 0h0m0 1h0m0-5h0m2 0h0m0 3h0m1 2h0m0-1h0m0-3h0m1 0h0m1 2h0m0-1h0m0 1h0m0 2h0m0-4h0m0 3h0m1 0h0m0-1h0m1-2h0m0 1h0m1-2h0m0 2h0m0-1h0m0 1h0m1 1h0m0-2h0m1 0h0m1 4h0m1-1h0m1-3h0m1 2h0m2-3h0m0 1h0m-81 9h0m0-1h0m1-3h0m0 5h0m1-3h0m1-2h0m0 2h0m0 1h0m4 2h0m1-2h0m1 2h0m1-1h0m2 0h0m1-3h0m0-1h0m1 0h0m0 1h0m0 3h0m0-1h0m0-1h0m4-1h0m0 0h0m2 2h0m1-3h0m1 3h0m0 0h0m1-3h0m0 4h0m0 1h0m3-5h0m1 1h0m0 1h0m1-2h0m0 1h0m0 2h0m1-3h0m1 0h0m0 1h0m1 2h0m0-1h0m3 1h0m0 1h0m0-3h0m0 1h0m0-2h0m0 2h0m1 2h0m0-4h0m1 0h0m1 5h0m0-5h0m0 5h0m0-4h0m4 3h0m1-2h0m0-2h0m1 4h0m0-2h0m0-1h0m1 4h0m1-2h0m1-2h0m0-1h0m1 4h0m0-3h0m1 1h0m0-2h0m0 4h0m0 0h0m1 0h0m0-3h0m1 3h0m0 1h0m0-2h0m1-2h0m1 3h0m0-4h0m2 5h0m0 0h0m1-1h0m0-4h0m0 0h0m0 0h0m0 1h0m2 0h0m0-1h0m1 2h0m1 2h0m1-3h0m0 1h0m0 3h0m2-3h0m3 2h0m0-4h0m1 1h0m0 2h0m0-2h0m2 0h0m1 2h0m0 2h0m1-1h0m1-3h0m1-1h0m0 1h0m1 2h0m1 0h0m3 0h0m-76 8h0m2-5h0m1 5h0m3-3h0m0-2h0m0 3h0m0-2h0m2 0h0m1-1h0m0 1h0m1 1h0m0-2h0m0 4h0m0-3h0m0 0h0m1 2h0m0 0h0m2-2h0m1-1h0m0 3h0m2 1h0m0 0h0m1-2h0m1-1h0m0 4h0m0-1h0m0 1h0m2-4h0m0 1h0m0 1h0m1-3h0m0 5h0m0-1h0m2-4h0m0 2h0m0 2h0m0-4h0m0 0h0m1 0h0m1 5h0m0-3h0m0 0h0m0-2h0m0 3h0m1-1h0m1 3h0m0-1h0m0 0h0m1-4h0m0 2h0m1-2h0m1 1h0m0 2h0m0 1h0m1-2h0m0-2h0m1 5h0m1-4h0m0 3h0m0-3h0m0-1h0m0 2h0m1-1h0m0 4h0m2-4h0m0 2h0m0-1h0m0 0h0m1-2h0m1 0h0m0 4h0m0 0h0m2 0h0m0-1h0m1 1h0m0-3h0m0 4h0m1-4h0m0 0h0m0 2h0m0 2h0m1-3h0m1-2h0m0 0h0m1 5h0m0-4h0m1 4h0m0 0h0m2 0h0m1-4h0m0 2h0m1-2h0m1 0h0m0 1h0m0-1h0m1 3h0m0-4h0m1 4h0m0-1h0m2 2h0m1-5h0m0 0h0m0 3h0m1-2h0m1 0h0m0-1h0m1 0h0m0 2h0m1-1h0m1-1h0m0 5h0m0-5h0m1 2h0m2-1h0m1 0h0m1 0h0m1 0h0m0 1h0m2 0h0m-65 7h0m6-3h0m0 5h0m1-4h0m1-1h0m1 2h0m2 2h0m0-4h0m1 3h0m2 0h0m1-3h0m1 1h0m0-1h0m1 2h0m0-1h0m1 1h0m0 0h0m6 3h0m0-2h0m0-2h0m0 4h0m1-3h0m1-1h0m1 3h0m0-4h0m2 2h0m0 0h0m0 2h0m0-1h0m1-3h0m1 1h0m1 1h0m0 0h0m2 1h0m0 2h0m3-2h0m0 2h0m1-3h0m2 3h0m0-3h0m1-2h0m0 3h0m1-1h0m0 0h0m1 3h0m0-1h0m2 0h0m0-3h0m0 2h0m1 1h0m1-1h0m1-2h0m0-1h0m0 4h0m1-1h0m0-2h0m0 1h0m0 1h0m1-3h0m1 5h0m0-5h0m1 3h0m-21 4h0m8 0h0m6-1h0" stroke="#d0922a" stroke-width="3.6" stroke-linecap="round" fill="none"/>
<path transform="scale(.5)" d="M172 653h0m1 0h0m-18 6h0m3-1h0m6-1h0m4-1h0m1-2h0m1 4h0m0 0h0m2 1h0m2-3h0m0 2h0m5 1h0m2-1h0m2 0h0m7 0h0m-40 3h0m3 4h0m1-1h0m1-3h0m0 0h0m1 3h0m1-2h0m0 3h0m1 0h0m0-5h0m3 0h0m0 4h0m0 0h0m0-2h0m2 1h0m0 1h0m2-1h0m1 1h0m1-2h0m1 2h0m0-1h0m0-3h0m1 4h0m0-3h0m1 3h0m0-3h0m0 2h0m3 2h0m1-1h0m1-4h0m0 2h0m1 0h0m1 0h0m0-1h0m2 1h0m4-2h0m0 5h0m0-2h0m0 2h0m1-2h0m2 1h0m1 1h0m1-5h0m2 4h0m0-3h0m2 3h0m5 1h0m1-2h0m2 0h0m-55 3h0m1 3h0m2-1h0m1-1h0m3 0h0m0-1h0m2 3h0m0-2h0m0 4h0m2-1h0m0 1h0m0-2h0m0 2h0m0-1h0m1-3h0m0 4h0m0-3h0m0 1h0m0 2h0m0-2h0m1-2h0m0 2h0m1 0h0m0-3h0m1 3h0m0-1h0m1 2h0m1 0h0m0-3h0m0-1h0m1 4h0m0-1h0m2-2h0m0 4h0m1-1h0m0 1h0m0-2h0m1-2h0m0-1h0m1 2h0m0 3h0m0-2h0m0-1h0m1 0h0m0 2h0m0-2h0m1 3h0m1-4h0m0 1h0m0 0h0m0 1h0m3-3h0m1 4h0m0-3h0m0 0h0m1-1h0m3 1h0m0-1h0m1 3h0m0-2h0m0 1h0m1 0h0m0 2h0m0-1h0m0-2h0m0 2h0m1 1h0m0 0h0m1-3h0m1 1h0m0 1h0m0 0h0m1-2h0m1 0h0m0 4h0m2-2h0m0-1h0m1 3h0m0-2h0m0 2h0m0-3h0m1 2h0m0-4h0m0 5h0m2-1h0m0-1h0m0-2h0m1-1h0m1 1h0m0 4h0m1 0h0m2-4h0m0 1h0m0 0h0m0 0h0m1 1h0m0 0h0m1 0h0m2 1h0m0-1h0m-61 8h0m5-5h0m1 4h0m1-4h0m0 5h0m3 0h0m1-5h0m1 3h0m0-3h0m0 4h0m1-2h0m0 3h0m0-4h0m1 1h0m0 2h0m0 0h0m1-1h0m0 2h0m1-3h0m0-1h0m1 0h0m1 0h0m0 0h0m0 1h0m1 1h0m0 2h0m1-2h0m0 1h0m1-4h0m0 5h0m0-3h0m1-1h0m0 4h0m3 0h0m0-1h0m1-4h0m0 5h0m1-2h0m0-2h0m1 2h0m0-2h0m0 3h0m1 0h0m2-3h0m2 2h0m0 1h0m1-2h0m1 2h0m0 1h0m1-1h0m0-4h0m2 5h0m0 0h0m1-1h0m0-3h0m0 0h0m0 1h0m0 3h0m1-2h0m1 2h0m0-5h0m0 1h0m0 3h0m0-3h0m0 3h0m1-4h0m1 1h0m0-1h0m0 1h0m1-1h0m0 4h0m0-4h0m2 5h0m1 0h0m0-4h0m1 4h0m1 0h0m3-5h0m0 2h0m0-2h0m1 3h0m1 0h0m0-2h0m1 0h0m2 2h0m0 0h0m1 1h0m0 1h0m1-3h0m1-1h0m0 1h0m1 1h0m1-1h0m1 3h0m1-4h0m-64 7h0m1 3h0m1-2h0m1-3h0m3 1h0m0 1h0m3-2h0m0 1h0m0-1h0m1 0h0m1 5h0m1-3h0m0 0h0m0 3h0m1-4h0m1 2h0m0 1h0m3-1h0m1 0h0m0 2h0m0-5h0m0 0h0m1 5h0m2-2h0m0-3h0m0 5h0m0-4h0m1 4h0m0-3h0m0-2h0m1 2h0m2-1h0m1 3h0m0-1h0m1-2h0m2-1h0m1 3h0m2-1h0m1-2h0m1 5h0m1-3h0m1 2h0m0-4h0m1 3h0m2-1h0m0-2h0m0 1h0m1 1h0m0-1h0m1-1h0m0 2h0m0-2h0m1 0h0m1 3h0m0-2h0m1 1h0m0-1h0m0 0h0m0 1h0m0 1h0m0 2h0m1-2h0m0 0h0m0 2h0m1 0h0m0-4h0m1 0h0m0-1h0m1 2h0m0 2h0m0-2h0m1 2h0m2-4h0m0 4h0m0 1h0m3-4h0m0 4h0m0-3h0m0 1h0m1 1h0m1-3h0m1 3h0m2 1h0m1 0h0m1-3h0m1 2h0m1-2h0m0 1h0m-61 3h0m0 1h0m0 4h0m1-4h0m1-1h0m4 1h0m1 3h0m1 0h0m0 1h0m0-5h0m0 3h0m1 1h0m3-4h0m1 5h0m1-3h0m1 0h0m1 0h0m1-1h0m2 4h0m0-2h0m2-2h0m0 1h0m1-1h0m0 3h0m1-1h0m0 0h0m1-1h0m0 2h0m1-4h0m0 3h0m1-3h0m1 5h0m1-3h0m0 2h0m0-3h0m2 2h0m1-3h0m0 0h0m1 1h0m1 1h0m1-2h0m0 2h0m0-2h0m0 1h0m1 0h0m0 4h0m0-2h0m2 0h0m3-3h0m2 2h0m1 2h0m0-2h0m0 1h0m1-2h0m1-1h0m1 4h0m0-2h0m0 1h0m1-3h0m1 1h0m0-1h0m1 4h0m1 1h0m0-3h0m1-1h0m1 2h0m2-3h0m0 2h0m0 0h0m0 2h0m3-4h0m1 3h0m0-1h0m1 2h0m-57 2h0m2 1h0m0 4h0m3-3h0m2-2h0m2 5h0m1-3h0m1 0h0m1 3h0m1-4h0m2 0h0m0 3h0m1-2h0m0 2h0m1-2h0m0 2h0m1 1h0m2-2h0m0 2h0m0-3h0m2 2h0m0 1h0m1-3h0m0 2h0m1 0h0m0-3h0m0 4h0m1-4h0m0 2h0m1 2h0m1-1h0m0-1h0m0-3h0m0 2h0m1 1h0m0 2h0m1-1h0m1 0h0m2-4h0m0 5h0m0-1h0m0-1h0m1 1h0m0-4h0m3 1h0m1 3h0m1 0h0m0 1h0m2-3h0m0 2h0m1-2h0m0 3h0m1-2h0m0-3h0m1 1h0m0 1h0m1 3h0m1 0h0m0-4h0m0 4h0m1-5h0m1 1h0m0-1h0m0 5h0m0-4h0m1 2h0m0-1h0m1-1h0m3 2h0m7 0h0m-59 4h0m2 1h0m1-1h0m2-1h0m4 5h0m3-3h0m0-2h0m0 4h0m1-3h0m2-1h0m0 2h0m1 3h0m1-5h0m1 1h0m1 2h0m0-3h0m0 3h0m0-2h0m0 2h0m1-3h0m0 1h0m0 2h0m0 2h0m1-5h0m1 2h0m0 3h0m1-3h0m1 3h0m0-3h0m0 2h0m0-2h0m0-1h0m1-1h0m0 0h0m1 4h0m0-3h0m2 1h0m1 2h0m1-4h0m2 1h0m1 4h0m0-4h0m1 0h0m3 2h0m0-3h0m0 1h0m3 1h0m3 1h0m0-1h0m1 1h0m1-2h0m3 2h0m1 1h0m2-3h0m-42 6h0m5 1h0m3 1h0m4-3h0m0 5h0m2-4h0m4 0h0m1 0h0m4 1h0m2-2h0m0 0h0m0 0h0m2 0h0" stroke="#d878f6" stroke-width="3.6" stroke-linecap="round" fill="none"/>
<path transform="scale(.5)" d="M144 707h0m-27 6h0m3 0h0m3 0h0m2-1h0m0 0h0m0 1h0m1-2h0m1 0h0m0 1h0m0 1h0m0-1h0m2 0h0m0-2h0m4 3h0m0-1h0m0 0h0m1 1h0m0-3h0m0 2h0m3 0h0m0 0h0m0-2h0m0 2h0m2 1h0m2-2h0m0 0h0m2 2h0m1-1h0m3 1h0m7-2h0m1 2h0m-40 1h0m0 1h0m1 2h0m3-1h0m0 2h0m1 1h0m1-1h0m0-1h0m2-3h0m2 5h0m0-2h0m1-3h0m1 4h0m0 1h0m1 0h0m0-4h0m2 3h0m1-4h0m0 1h0m1 2h0m0-3h0m0 1h0m2 3h0m0-3h0m0 2h0m1 1h0m0-4h0m1 2h0m0 3h0m3-5h0m1 4h0m0-3h0m0 1h0m2 2h0m0-4h0m0 5h0m0-4h0m1 0h0m0 2h0m0-3h0m0 0h0m0 0h0m1 5h0m0-1h0m1 0h0m0 1h0m1-2h0m0-2h0m1 1h0m0-1h0m1-1h0m0 5h0m3-3h0m0-1h0m0 2h0m1 2h0m0-2h0m1-1h0m5 2h0m1 1h0m1 0h0m0 0h0m12 0h0m1 0h0m2 0h0m-61 3h0m0-1h0m2 4h0m0 0h0m1 0h0m0-5h0m1 4h0m1 0h0m0-1h0m1 2h0m0-4h0m0 1h0m2 2h0m2 1h0m0-3h0m0-1h0m1 0h0m0-1h0m0 2h0m0 1h0m2 2h0m0-2h0m1-3h0m1 4h0m1-3h0m2 0h0m0 3h0m1 1h0m0-1h0m2 1h0m1-3h0m1 1h0m1-3h0m1 1h0m0 4h0m0-4h0m2 2h0m0-2h0m0 4h0m2-5h0m1 3h0m0 1h0m0 1h0m0-1h0m1-4h0m0 0h0m1 0h0m1 4h0m0-4h0m1 3h0m0 2h0m4-2h0m0 2h0m0-2h0m0 1h0m1 1h0m0-3h0m2 2h0m4 0h0m2-3h0m2 1h0m3 1h0m1 0h0m0-2h0m0 1h0m0 3h0m1-2h0m0-1h0m2-1h0m0 2h0m0-3h0m2 3h0m0-3h0m2 0h0m1 1h0m1 2h0m1 0h0m2-1h0m1 2h0m0-2h0m0 1h0m-68 4h0m0 4h0m2 0h0m1-2h0m1 1h0m0 0h0m1 1h0m0-2h0m0 0h0m0-2h0m2 1h0m0-1h0m0 3h0m1-2h0m0 1h0m1-3h0m0 5h0m0-3h0m1 1h0m0-1h0m0-2h0m1 0h0m1 4h0m0-3h0m1 2h0m0 0h0m0 0h0m0-1h0m1 0h0m0 2h0m0-3h0m0 3h0m1-2h0m1-1h0m1 1h0m0 3h0m0-5h0m1 4h0m0-2h0m1 1h0m1-1h0m0-1h0m1 0h0m1 4h0m0 0h0m0-5h0m0 0h0m0 0h0m0 2h0m1-1h0m1 2h0m1 2h0m0 0h0m0-3h0m0 1h0m1 2h0m1-3h0m0 0h0m2 3h0m0-4h0m0 1h0m0 3h0m1-2h0m0-2h0m0 2h0m1 1h0m0 0h0m0 1h0m1-2h0m1-2h0m2 2h0m0-2h0m0 3h0m1-3h0m1 0h0m1 3h0m3 0h0m1-2h0m1 1h0m1 1h0m1-1h0m1-3h0m0 2h0m5-1h0m1 3h0m1-4h0m2 3h0m1-3h0m0 3h0m1-1h0m0 2h0m1-2h0m1 0h0m1-2h0m0 0h0m1 4h0m1-1h0m0-3h0m0 3h0m1-1h0m0 1h0m3-1h0m1 1h0m0-3h0m0 5h0m2-5h0m0 0h0m1 1h0m-69 5h0m0 0h0m0 2h0m1 0h0m0-1h0m1 0h0m0 0h0m1-1h0m0 1h0m1-1h0m0 0h0m0 0h0m1 2h0m0-1h0m0-1h0m2 3h0m0-1h0m1-1h0m0 2h0m2 1h0m1-2h0m0 2h0m1-2h0m0 0h0m0 3h0m0-2h0m0 2h0m1-5h0m0 1h0m0 0h0m0 2h0m0 1h0m1-2h0m0-1h0m0 0h0m0 1h0m1-1h0m0 3h0m1 0h0m0-2h0m1 1h0m1 0h0m0-3h0m1 1h0m0 3h0m3 1h0m0-3h0m1 0h0m1 0h0m0 1h0m0-1h0m1 2h0m0 0h0m0 0h0m1-3h0m1-1h0m4 0h0m1 5h0m0-3h0m1 1h0m1-2h0m3 2h0m1-3h0m3 1h0m-41 8h0m1-2h0m1-1h0m3 1h0m1 1h0m1-1h0m4-1h0m2 1h0m6 1h0m9-2h0" stroke="#40cc46" stroke-width="3.6" stroke-linecap="round" fill="none"/>
<path transform="scale(.5)" d="M156 736h0m5 1h0m4 0h0m0-1h0m2-2h0m0 2h0m1 0h0m0 0h0m1 1h0m0 0h0m1 0h0m4-3h0m2 1h0m1 2h0m1-4h0m1 4h0m4 0h0m2-1h0m-33 2h0m1 3h0m3 2h0m2-1h0m1-3h0m1 0h0m0 1h0m0 3h0m1-3h0m0 2h0m1-3h0m0 1h0m2-1h0m2-1h0m0 2h0m2 3h0m1-3h0m0 2h0m1-2h0m1 1h0m0-2h0m0-1h0m0 1h0m0 2h0m1-3h0m0 5h0m1 0h0m0-4h0m2 1h0m0-2h0m1 3h0m1 1h0m1 0h0m0-1h0m0 2h0m0-1h0m1-2h0m0 1h0m0-1h0m0 1h0m2-2h0m1 2h0m0-2h0m0-1h0m1 2h0m1 3h0m0 0h0m0 0h0m2-5h0m0 4h0m1-1h0m1 0h0m0-2h0m0 3h0m0-4h0m1 5h0m0 0h0m0 0h0m0 0h0m-37 1h0m3 4h0m0-2h0m3 2h0m0 0h0m1 0h0m0-4h0m0 1h0m4 4h0m0-2h0m0-2h0m0 2h0m0 1h0m0 0h0m1 0h0m1 1h0m1 0h0m0 0h0m1-2h0m1-2h0m0 0h0m0 2h0m1 0h0m0-2h0m1 1h0m0-2h0m0 1h0m2 4h0m0 0h0m0-1h0m0 0h0m1 1h0m0-2h0m0 2h0m1 0h0m0-5h0m0 2h0m0 0h0m0 2h0m0-2h0m1 0h0m0-2h0m0 2h0m1 0h0m0 0h0m1 3h0m0 0h0m0-3h0m0-1h0m0-1h0m1 2h0m0 3h0m0 0h0m0 0h0m1 0h0m0-2h0m0 2h0m1-4h0m1 4h0m1 0h0m0-1h0m0-2h0m1 1h0m0 1h0m1-2h0m0 2h0m0-2h0m1 1h0m0-3h0m0 0h0m1 1h0m1 2h0m0-1h0m2 2h0m0 1h0m1-2h0m1-2h0m0 4h0m0-4h0m1 4h0m0-5h0m-51 10h0m4-3h0m3 0h0m3 4h0m0-4h0m1 3h0m0-1h0m0 1h0m1 1h0m0-5h0m0 4h0m0-1h0m1-1h0m0-2h0m1 0h0m0 5h0m1-3h0m1 1h0m0-2h0m0-1h0m2 5h0m0-5h0m1 4h0m0-4h0m0 3h0m1 2h0m0-4h0m1 2h0m0-3h0m0 5h0m0-3h0m2 1h0m0-2h0m0 1h0m0 0h0m1 2h0m0-3h0m1-1h0m0 0h0m0 5h0m0-1h0m0-3h0m0 1h0m0-2h0m1 4h0m1-4h0m0 3h0m0-3h0m1 2h0m1-1h0m0-1h0m1 4h0m1-2h0m0-2h0m0 3h0m0 0h0m0-3h0m1 1h0m1 4h0m0-1h0m0-4h0m1 0h0m0 5h0m1-2h0m0-3h0m0 1h0m0 4h0m0-2h0m1 0h0m0 1h0m0-3h0m0-1h0m0 3h0m1-2h0m0 1h0m0 2h0m1 0h0m0-2h0m0-2h0m1 0h0m0 0h0m1 5h0m0-4h0m1 3h0m0-4h0m0 3h0m0 0h0m0-3h0m0 2h0m1 1h0m2 1h0m1 0h0m0-1h0m0-1h0m1 3h0m1 0h0m0 0h0m0-5h0m0 0h0m6 0h0m1 3h0m6 2h0m-62 5h0m4 1h0m0-5h0m0 3h0m1 2h0m1 0h0m0-1h0m1-4h0m0 3h0m2-1h0m0 1h0m1-3h0m2 2h0m1-2h0m0 0h0m0 2h0m1 1h0m2 0h0m0 0h0m0 0h0m2-2h0m0 1h0m1 3h0m0-4h0m1 2h0m0 2h0m3-3h0m1 2h0m1-2h0m0-2h0m1 1h0m0 1h0m1 1h0m0 1h0m1-4h0m1 4h0m2-2h0m2 1h0m0 0h0m0-2h0m3 0h0m1 0h0m0 1h0m2 2h0m0 1h0m0-1h0m1-3h0m1 0h0m0 0h0m0 4h0m1-4h0m0 1h0m0-1h0m1 4h0m0-2h0m1 1h0m0 1h0m0-1h0m1-3h0m1 3h0m0 0h0m2-4h0m0 4h0m1-1h0m3-2h0m0 3h0m0-4h0m0 0h0m1 4h0m1 1h0m0-3h0m0 3h0m1-3h0m1 1h0m1-3h0m1 2h0m0 2h0m0-1h0m1-3h0m0 2h0m0 2h0m2 1h0m-65 5h0m3-3h0m2 4h0m0 0h0m1-1h0m1-4h0m1 0h0m2 5h0m0-4h0m0 3h0m1-2h0m2-2h0m0 1h0m0 0h0m0 2h0m0-1h0m1-2h0m2 5h0m0-1h0m0-1h0m1 2h0m1 0h0m0-3h0m0 0h0m2 3h0m2 0h0m0-4h0m4 3h0m0 1h0m1-2h0m0 2h0m0-3h0m1 0h0m0 2h0m0-3h0m0 1h0m2-1h0m0 4h0m0-2h0m1 1h0m1 0h0m0 0h0m2-4h0m0 0h0m1 3h0m0-2h0m0-1h0m2 3h0m0 1h0m1-2h0m0 0h0m1 1h0m1-2h0m0 0h0m1 1h0m2 1h0m0 2h0m0 0h0m1-1h0m0-3h0m1 2h0m1 1h0m0 0h0m0 0h0m3 1h0m1-3h0m0 3h0m2 0h0m0-3h0m0-2h0m2 4h0m0-3h0m1 1h0m1-1h0m0 2h0m0 2h0m1 0h0m1-3h0m1-2h0m0 0h0m0 0h0m0 0h0m1 2h0m3 1h0m2-2h0m2 4h0m1-3h0m1 2h0m0 1h0m-66 5h0m0-4h0m1 2h0m1 2h0m2 0h0m0-3h0m1 2h0m1 1h0m0 0h0m1 0h0m1-4h0m1 1h0m2 2h0m0-1h0m1 3h0m0-5h0m0 4h0m1-4h0m0 3h0m0-2h0m1-1h0m0 4h0m0-2h0m0 0h0m1 0h0m1-2h0m2 5h0m1-2h0m0-2h0m1 3h0m0 0h0m1-3h0m0 2h0m0-2h0m1 0h0m0 4h0m1-5h0m0 4h0m0 0h0m0 1h0m2-5h0m0 2h0m1 2h0m0-1h0m1 2h0m0-3h0m1-1h0m1 1h0m1-2h0m0 4h0m0-3h0m0-1h0m1 0h0m0 0h0m1 4h0m1-1h0m2 0h0m1-1h0m1 3h0m0-1h0m0-1h0m2 2h0m0-4h0m0 4h0m1 0h0m0-4h0m1 4h0m1-3h0m0 1h0m1 2h0m0-4h0m1 1h0m0 2h0m0-3h0m0 2h0m1-2h0m0 0h0m0 3h0m0-2h0m1 2h0m3-2h0m0 1h0m0 2h0m0-1h0m1-3h0m1 2h0m2 0h0m0-1h0m1-1h0m0-1h0m0 3h0m0-3h0m1 4h0m0-3h0m0 1h0m0 2h0m1-1h0m1-3h0m0 1h0m1 0h0m0 4h0m1-5h0m1 4h0m0-2h0m0-2h0m1 3h0m3-2h0m0 3h0m0-3h0m1 0h0m1 2h0m-67 3h0m1 1h0m1 4h0m1-3h0m1-2h0m0 0h0m2 5h0m1-3h0m0 1h0m0-2h0m0 3h0m1 0h0m1 0h0m0 1h0m0-2h0m3 1h0m1-3h0m0 3h0m0 0h0m1-2h0m0 3h0m1-3h0m0 3h0m1-2h0m0-2h0m1 1h0m0 0h0m1-2h0m0 3h0m0 1h0m1-1h0m0-1h0m1 3h0m2 0h0m1-1h0m0-3h0m1 1h0m0-1h0m1 1h0m0 0h0m3-1h0m2 1h0m0 3h0m2-4h0m0 4h0m1 0h0m0-3h0m0 0h0m0-1h0m0 2h0m1-2h0m0 1h0m1 2h0m0 0h0m0 0h0m2-1h0m0 2h0m1 0h0m0-4h0m1 2h0m0 0h0m1-3h0m0 0h0m0 1h0m0 3h0m0-2h0m0 2h0m1-4h0m0 5h0m0-2h0m1 2h0m0 0h0m0-3h0m0 3h0m1-3h0m1 1h0m0 2h0m3-5h0m0 3h0m1-1h0m1 2h0m0 1h0m0-3h0m0-2h0m1 5h0m0-3h0m0 2h0m1-1h0m0 2h0m0-1h0m0-1h0m1-1h0m0-2h0m0 4h0m0 0h0m0 0h0m0 0h0m1 0h0m1-3h0m0 4h0m1-1h0m0-1h0m1-1h0m0-2h0m3 3h0m1 1h0m1-3h0m0 0h0m4 1h0m5 2h0m-64 2h0m1 0h0m1 3h0m1-3h0m1 1h0m0 4h0m1-4h0m1 1h0m1 0h0m0-2h0m0 4h0m0-4h0m1 4h0m2-4h0m0 2h0m0 0h0m1-1h0m0 3h0m1 1h0m0-3h0m1 2h0m1-3h0m0 1h0m1-1h0m0 0h0m0 1h0m1 2h0m0 0h0m2 1h0m3-4h0m0 4h0m1-2h0m1-3h0m1 5h0m0-5h0m1 5h0m1 0h0m3 0h0m0 0h0m2-2h0m0-3h0m2 2h0m0 1h0m0 0h0m1 2h0m1-3h0m0-1h0m0 3h0m0 0h0m0 0h0m1 1h0m1-5h0m1 0h0m0 2h0m2-1h0m0 2h0m1-2h0m0 3h0m0 1h0m1-2h0m1 1h0m0-4h0m1 1h0m1 3h0m0-4h0m1 3h0m0-2h0m3 2h0m1-1h0m1-2h0m1 3h0m2-2h0m1 2h0m3-3h0m2 4h0m8-3h0m-69 7h0m5 1h0m2-3h0m1 5h0m0-4h0m1 0h0m1 1h0m1-1h0m1-1h0m0 1h0m1-1h0m3 4h0m1-1h0m1-3h0m0 1h0m1 1h0m0-2h0m0 5h0m2-3h0m0 0h0m0 2h0m0 0h0m1-1h0m0-1h0m1 1h0m1 2h0m1 0h0m0-5h0m1 4h0m0-2h0m0 1h0m0 1h0m1-3h0m0 4h0m1-2h0m1-1h0m1 3h0m1-5h0m0 3h0m0 1h0m0-3h0m1 0h0m3 4h0m0 0h0m1 0h0m3-3h0m0-2h0m1 2h0m0 1h0m1 1h0m1 1h0m1-1h0m1-3h0m0 4h0m1 0h0m1 0h0m0-2h0m4-2h0m4 0h0m6-1h0m-51 6h0m5 2h0m3-2h0m1 5h0m3-4h0m2 4h0m1-1h0m3-1h0m4-1h0m2 3h0m1-5h0m1 1h0m1-1h0m0 0h0m1 0h0m1 1h0m4 1h0m1-1h0m3-1h0m1 2h0m-28 6h0m2-2h0" stroke="#6c9ef8" stroke-width="3.6" stroke-linecap="round" fill="none"/>
<path transform="scale(.5)" d="M192 635h0m1 0h0m2-1h0m1 1h0m4-1h0m1-2h0m2 2h0m1 0h0m0 1h0m1-2h0m2 0h0m1 1h0m0-2h0m1 1h0m3 1h0m1-1h0m0 1h0m2 1h0m2 0h0m0-3h0m5 3h0m-35 3h0m4 0h0m2 3h0m0 0h0m2-3h0m0 0h0m0-2h0m1 5h0m0-2h0m1-1h0m1 2h0m0-4h0m1 5h0m0 0h0m0-1h0m0-1h0m1 1h0m1-2h0m0 2h0m1-1h0m1 0h0m4-1h0m0-2h0m0 3h0m0 0h0m1 2h0m0-4h0m0 1h0m1 1h0m0-2h0m0 1h0m0-2h0m1 3h0m2-3h0m0 2h0m1 1h0m0 1h0m1-1h0m2-1h0m0-1h0m1 0h0m0 3h0m0 1h0m2-2h0m0 0h0m0 0h0m1-1h0m0 3h0m-30 1h0m3 1h0m3-1h0m1 1h0m1 3h0m2-4h0m4 0h0m0 0h0m1 0h0m2 0h0m2 2h0m1-2h0m0 0h0m1 0h0m0 3h0m2-2h0m1 1h0m2-2h0" stroke="#f864cc" stroke-width="3.6" stroke-linecap="round" fill="none"/>
<path transform="scale(.5)" d="M228 626h0m0-1h0m0 0h0m1 2h0m0 1h0m1 1h0m0-1h0m-3 3h0m1-1h0m1 5h0" stroke="#98ae2a" stroke-width="3.6" stroke-linecap="round" fill="none"/>
<path transform="scale(.5)" d="M248 624h0m-2 9h0m0 0h0m1-3h0m1 3h0m0 1h0m1 0h0m-3 3h0m1-1h0m0 3h0m1-2h0m1-1h0m0 1h0m0 2h0m1-3h0m0 0h0" stroke="#50c4e8" stroke-width="3.6" stroke-linecap="round" fill="none"/>
<path transform="scale(.5)" d="M215 809h0m1 0h0m-7 3h0m2 1h0m0 2h0m1-1h0m3-4h0m1 5h0m0-3h0m0 2h0m2-2h0m0 0h0m-6 8h0m0-3h0m1 1h0m0 0h0m0 0h0m1 0h0m0 1h0m0-2h0m1 4h0m0 0h0m1-2h0m0-1h0m-5 4h0m2 2h0m1-2h0m1 2h0m0-1h0m0-1h0m0 1h0m1 1h0m1-2h0m1 2h0m1 1h0" stroke="#40cc46" stroke-width="3.6" stroke-linecap="round" fill="none"/>
<path transform="scale(.5)" d="M236 675h0m1 0h0m1-3h0m-11 10h0m9 1h0m19-2h0m4-3h0m14 5h0m-36 2h0m14 4h0m12-1h0m5 1h0m15-4h0m-66 7h0m55 0h0m5 0h0m-42 9h0m2-3h0m6 0h0m9 1h0m5 2h0m-39 4h0m26 0h0m9-1h0m10 2h0m5-1h0m11 0h0m6-3h0m-70 9h0m0 2h0m15-3h0m5 0h0m20 1h0m4-1h0m11 1h0m-53 4h0m21 1h0m6 0h0m7 3h0m28-1h0m2-3h0m0 4h0m9-1h0m-73 6h0m6-2h0m17 2h0m9-3h0m4 0h0m6 2h0m9-2h0m17 1h0m1 3h0m8-4h0m-83 7h0m11-1h0m25 0h0m8 1h0m9 0h0m2 0h0m0 3h0m23-2h0m-73 6h0m61 1h0m10-1h0m-60 6h0m2-3h0m27 1h0m8-1h0m7 2h0m1 3h0m17 0h0m-59 6h0m30-3h0m1 2h0m12-2h0m-42 7h0m15 0h0m7-1h0m3-2h0m1 1h0m6 1h0m9-2h0m5 0h0m4 4h0m9-4h0m-55 11h0m1-5h0m4 0h0m0 1h0m4 3h0m44-2h0m1 0h0m-41 5h0m9-1h0m1 3h0m15 1h0m-35 9h0m23 1h0" stroke="#ffffff" stroke-width="2.8" stroke-linecap="round" fill="none"/>
<path d="M103 383 C112 380 122 384 132 380 C140 377 146 381 152 379" stroke="#fff" stroke-width="1.3" fill="none"/>
<circle cx="181.10" cy="319.80" r="2.8" fill="#f07068"/>
<text x="191.8" y="322.9" font-size="8.45" fill="#222">Epithelial</text>
<circle cx="181.10" cy="330.69" r="2.8" fill="#d0922a"/>
<text x="191.8" y="333.8" font-size="8.45" fill="#222">EMT Cells</text>
<circle cx="181.10" cy="341.58" r="2.8" fill="#98ae2a"/>
<text x="191.8" y="344.7" font-size="8.45" fill="#222">Fibroblasts</text>
<circle cx="181.10" cy="352.47" r="2.8" fill="#40cc46"/>
<text x="191.8" y="355.6" font-size="8.45" fill="#222">T Cells</text>
<circle cx="181.10" cy="363.36" r="2.8" fill="#52d4a8"/>
<text x="191.8" y="366.5" font-size="8.45" fill="#222">B Cells</text>
<circle cx="181.10" cy="374.25" r="2.8" fill="#50c4e8"/>
<text x="191.8" y="377.4" font-size="8.45" fill="#222">ECs</text>
<circle cx="181.10" cy="385.14" r="2.8" fill="#6c9ef8"/>
<text x="191.8" y="388.2" font-size="8.45" fill="#222">Mono/Mac</text>
<circle cx="181.10" cy="396.03" r="2.8" fill="#d878f6"/>
<text x="191.8" y="399.1" font-size="8.45" fill="#222">Neutrophils</text>
<circle cx="181.10" cy="406.92" r="2.8" fill="#f864cc"/>
<text x="191.8" y="410.0" font-size="8.45" fill="#222">DCs</text>
<text x="236.5" y="306.5" font-size="13.5" font-weight="bold">g</text>
<rect x="278.10" y="311.40" width="10.00" height="12.59" fill="#ee6b6b"/>
<text x="276.6" y="320.0" font-size="6.8" text-anchor="end" font-style="italic" fill="#222">Epithelial</text>
<rect x="290.00" y="311.40" width="9.81" height="12.49" fill="#d21f3c"/>
<rect x="299.81" y="311.40" width="9.81" height="12.49" fill="#d21f3c"/>
<rect x="309.62" y="311.40" width="9.81" height="12.49" fill="#d21f3c"/>
<rect x="319.44" y="311.40" width="9.81" height="12.49" fill="#dc4a5a"/>
<rect x="329.25" y="311.40" width="9.81" height="12.49" fill="#d21f3c"/>
<rect x="339.06" y="311.40" width="9.81" height="12.49" fill="#f3f7fa"/>
<rect x="348.88" y="311.40" width="9.81" height="12.49" fill="#f3c6ca"/>
<rect x="358.69" y="311.40" width="9.81" height="12.49" fill="#e9f2f8"/>
<rect x="368.50" y="311.40" width="9.81" height="12.49" fill="#e9f2f8"/>
<rect x="378.31" y="311.40" width="9.81" height="12.49" fill="#faf5f5"/>
<rect x="388.12" y="311.40" width="9.81" height="12.49" fill="#e9f2f8"/>
<rect x="397.94" y="311.40" width="9.81" height="12.49" fill="#dfedf5"/>
<rect x="407.75" y="311.40" width="9.81" height="12.49" fill="#e6f0f7"/>
<rect x="417.56" y="311.40" width="9.81" height="12.49" fill="#e6f0f7"/>
<rect x="427.38" y="311.40" width="9.81" height="12.49" fill="#e6f0f7"/>
<rect x="437.19" y="311.40" width="9.81" height="12.49" fill="#e6f0f7"/>
<rect x="447.00" y="311.40" width="9.81" height="12.49" fill="#e9f2f8"/>
<rect x="456.81" y="311.40" width="9.81" height="12.49" fill="#e9f2f8"/>
<rect x="466.62" y="311.40" width="9.81" height="12.49" fill="#dfedf5"/>
<rect x="476.44" y="311.40" width="9.81" height="12.49" fill="#e9f2f8"/>
<rect x="486.25" y="311.40" width="9.81" height="12.49" fill="#d9e9f3"/>
<rect x="496.06" y="311.40" width="9.81" height="12.49" fill="#d9e9f3"/>
<rect x="505.88" y="311.40" width="9.81" height="12.49" fill="#e6f0f7"/>
<rect x="515.69" y="311.40" width="9.81" height="12.49" fill="#dfedf5"/>
<rect x="525.50" y="311.40" width="9.81" height="12.49" fill="#d9e9f3"/>
<rect x="535.31" y="311.40" width="9.81" height="12.49" fill="#dfedf5"/>
<rect x="545.12" y="311.40" width="9.81" height="12.49" fill="#e9f2f8"/>
<rect x="554.94" y="311.40" width="9.81" height="12.49" fill="#e9f2f8"/>
<rect x="564.75" y="311.40" width="9.81" height="12.49" fill="#e6f0f7"/>
<rect x="574.56" y="311.40" width="9.81" height="12.49" fill="#d9e9f3"/>
<rect x="584.38" y="311.40" width="9.81" height="12.49" fill="#d9e9f3"/>
<rect x="594.19" y="311.40" width="9.81" height="12.49" fill="#e9f2f8"/>
<rect x="604.00" y="311.40" width="9.81" height="12.49" fill="#e6f0f7"/>
<rect x="613.81" y="311.40" width="9.81" height="12.49" fill="#c2ddeb"/>
<rect x="623.62" y="311.40" width="9.81" height="12.49" fill="#dfedf5"/>
<rect x="633.44" y="311.40" width="9.81" height="12.49" fill="#dfedf5"/>
<rect x="643.25" y="311.40" width="9.81" height="12.49" fill="#c2ddeb"/>
<rect x="653.06" y="311.40" width="9.81" height="12.49" fill="#e6f0f7"/>
<rect x="662.88" y="311.40" width="9.81" height="12.49" fill="#e6f0f7"/>
<rect x="672.69" y="311.40" width="9.81" height="12.49" fill="#e6f0f7"/>
<rect x="278.10" y="323.89" width="10.00" height="12.59" fill="#d0922a"/>
<text x="276.6" y="332.5" font-size="6.8" text-anchor="end" font-style="italic" fill="#222">EMT Cells</text>
<rect x="290.00" y="323.89" width="9.81" height="12.49" fill="#eff5f9"/>
<rect x="299.81" y="323.89" width="9.81" height="12.49" fill="#e8828a"/>
<rect x="309.62" y="323.89" width="9.81" height="12.49" fill="#eea2a8"/>
<rect x="319.44" y="323.89" width="9.81" height="12.49" fill="#d42c40"/>
<rect x="329.25" y="323.89" width="9.81" height="12.49" fill="#e8848c"/>
<rect x="339.06" y="323.89" width="9.81" height="12.49" fill="#f2c0c4"/>
<rect x="348.88" y="323.89" width="9.81" height="12.49" fill="#e88890"/>
<rect x="358.69" y="323.89" width="9.81" height="12.49" fill="#e6f0f7"/>
<rect x="368.50" y="323.89" width="9.81" height="12.49" fill="#d9e9f3"/>
<rect x="378.31" y="323.89" width="9.81" height="12.49" fill="#f0b4b8"/>
<rect x="388.12" y="323.89" width="9.81" height="12.49" fill="#e9f2f8"/>
<rect x="397.94" y="323.89" width="9.81" height="12.49" fill="#dfedf5"/>
<rect x="407.75" y="323.89" width="9.81" height="12.49" fill="#d9e9f3"/>
<rect x="417.56" y="323.89" width="9.81" height="12.49" fill="#dfedf5"/>
<rect x="427.38" y="323.89" width="9.81" height="12.49" fill="#e6f0f7"/>
<rect x="437.19" y="323.89" width="9.81" height="12.49" fill="#d9e9f3"/>
<rect x="447.00" y="323.89" width="9.81" height="12.49" fill="#e6f0f7"/>
<rect x="456.81" y="323.89" width="9.81" height="12.49" fill="#e9f2f8"/>
<rect x="466.62" y="323.89" width="9.81" height="12.49" fill="#e9f2f8"/>
<rect x="476.44" y="323.89" width="9.81" height="12.49" fill="#dfedf5"/>
<rect x="486.25" y="323.89" width="9.81" height="12.49" fill="#d9e9f3"/>
<rect x="496.06" y="323.89" width="9.81" height="12.49" fill="#e6f0f7"/>
<rect x="505.88" y="323.89" width="9.81" height="12.49" fill="#e9f2f8"/>
<rect x="515.69" y="323.89" width="9.81" height="12.49" fill="#dfedf5"/>
<rect x="525.50" y="323.89" width="9.81" height="12.49" fill="#d9e9f3"/>
<rect x="535.31" y="323.89" width="9.81" height="12.49" fill="#dfedf5"/>
<rect x="545.12" y="323.89" width="9.81" height="12.49" fill="#dfedf5"/>
<rect x="554.94" y="323.89" width="9.81" height="12.49" fill="#d9e9f3"/>
<rect x="564.75" y="323.89" width="9.81" height="12.49" fill="#dfedf5"/>
<rect x="574.56" y="323.89" width="9.81" height="12.49" fill="#dfedf5"/>
<rect x="584.38" y="323.89" width="9.81" height="12.49" fill="#d9e9f3"/>
<rect x="594.19" y="323.89" width="9.81" height="12.49" fill="#d9e9f3"/>
<rect x="604.00" y="323.89" width="9.81" height="12.49" fill="#d9e9f3"/>
<rect x="613.81" y="323.89" width="9.81" height="12.49" fill="#c2ddeb"/>
<rect x="623.62" y="323.89" width="9.81" height="12.49" fill="#dfedf5"/>
<rect x="633.44" y="323.89" width="9.81" height="12.49" fill="#dfedf5"/>
<rect x="643.25" y="323.89" width="9.81" height="12.49" fill="#c2ddeb"/>
<rect x="653.06" y="323.89" width="9.81" height="12.49" fill="#e6f0f7"/>
<rect x="662.88" y="323.89" width="9.81" height="12.49" fill="#d9e9f3"/>
<rect x="672.69" y="323.89" width="9.81" height="12.49" fill="#d9e9f3"/>
<rect x="278.10" y="336.38" width="10.00" height="12.59" fill="#98b02a"/>
<text x="276.6" y="345.0" font-size="6.8" text-anchor="end" font-style="italic" fill="#222">Fibroblasts</text>
<rect x="290.00" y="336.38" width="9.81" height="12.49" fill="#dfedf5"/>
<rect x="299.81" y="336.38" width="9.81" height="12.49" fill="#d9e9f3"/>
<rect x="309.62" y="336.38" width="9.81" height="12.49" fill="#e6f0f7"/>
<rect x="319.44" y="336.38" width="9.81" height="12.49" fill="#e9f2f8"/>
<rect x="329.25" y="336.38" width="9.81" height="12.49" fill="#e6f0f7"/>
<rect x="339.06" y="336.38" width="9.81" height="12.49" fill="#d21f3c"/>
<rect x="348.88" y="336.38" width="9.81" height="12.49" fill="#d21f3c"/>
<rect x="358.69" y="336.38" width="9.81" height="12.49" fill="#d21f3c"/>
<rect x="368.50" y="336.38" width="9.81" height="12.49" fill="#d21f3c"/>
<rect x="378.31" y="336.38" width="9.81" height="12.49" fill="#d21f3c"/>
<rect x="388.12" y="336.38" width="9.81" height="12.49" fill="#e6f0f7"/>
<rect x="397.94" y="336.38" width="9.81" height="12.49" fill="#d9e9f3"/>
<rect x="407.75" y="336.38" width="9.81" height="12.49" fill="#dfedf5"/>
<rect x="417.56" y="336.38" width="9.81" height="12.49" fill="#e9f2f8"/>
<rect x="427.38" y="336.38" width="9.81" height="12.49" fill="#dfedf5"/>
<rect x="437.19" y="336.38" width="9.81" height="12.49" fill="#d9e9f3"/>
<rect x="447.00" y="336.38" width="9.81" height="12.49" fill="#e9f2f8"/>
<rect x="456.81" y="336.38" width="9.81" height="12.49" fill="#e6f0f7"/>
<rect x="466.62" y="336.38" width="9.81" height="12.49" fill="#e6f0f7"/>
<rect x="476.44" y="336.38" width="9.81" height="12.49" fill="#e6f0f7"/>
<rect x="486.25" y="336.38" width="9.81" height="12.49" fill="#e6f0f7"/>
<rect x="496.06" y="336.38" width="9.81" height="12.49" fill="#d9e9f3"/>
<rect x="505.88" y="336.38" width="9.81" height="12.49" fill="#f6f9fb"/>
<rect x="515.69" y="336.38" width="9.81" height="12.49" fill="#e6f0f7"/>
<rect x="525.50" y="336.38" width="9.81" height="12.49" fill="#f4c8cc"/>
<rect x="535.31" y="336.38" width="9.81" height="12.49" fill="#dfedf5"/>
<rect x="545.12" y="336.38" width="9.81" height="12.49" fill="#e6f0f7"/>
<rect x="554.94" y="336.38" width="9.81" height="12.49" fill="#e6f0f7"/>
<rect x="564.75" y="336.38" width="9.81" height="12.49" fill="#e6f0f7"/>
<rect x="574.56" y="336.38" width="9.81" height="12.49" fill="#e9f2f8"/>
<rect x="584.38" y="336.38" width="9.81" height="12.49" fill="#e6f0f7"/>
<rect x="594.19" y="336.38" width="9.81" height="12.49" fill="#e9f2f8"/>
<rect x="604.00" y="336.38" width="9.81" height="12.49" fill="#e6f0f7"/>
<rect x="613.81" y="336.38" width="9.81" height="12.49" fill="#c2ddeb"/>
<rect x="623.62" y="336.38" width="9.81" height="12.49" fill="#e9f2f8"/>
<rect x="633.44" y="336.38" width="9.81" height="12.49" fill="#d9e9f3"/>
<rect x="643.25" y="336.38" width="9.81" height="12.49" fill="#c2ddeb"/>
<rect x="653.06" y="336.38" width="9.81" height="12.49" fill="#e6f0f7"/>
<rect x="662.88" y="336.38" width="9.81" height="12.49" fill="#e9f2f8"/>
<rect x="672.69" y="336.38" width="9.81" height="12.49" fill="#d9e9f3"/>
<rect x="278.10" y="348.87" width="10.00" height="12.59" fill="#46d046"/>
<text x="276.6" y="357.5" font-size="6.8" text-anchor="end" font-style="italic" fill="#222">T Cells</text>
<rect x="290.00" y="348.87" width="9.81" height="12.49" fill="#e9f2f8"/>
<rect x="299.81" y="348.87" width="9.81" height="12.49" fill="#e9f2f8"/>
<rect x="309.62" y="348.87" width="9.81" height="12.49" fill="#e6f0f7"/>
<rect x="319.44" y="348.87" width="9.81" height="12.49" fill="#e6f0f7"/>
<rect x="329.25" y="348.87" width="9.81" height="12.49" fill="#d9e9f3"/>
<rect x="339.06" y="348.87" width="9.81" height="12.49" fill="#dfedf5"/>
<rect x="348.88" y="348.87" width="9.81" height="12.49" fill="#dfedf5"/>
<rect x="358.69" y="348.87" width="9.81" height="12.49" fill="#d9e9f3"/>
<rect x="368.50" y="348.87" width="9.81" height="12.49" fill="#e6f0f7"/>
<rect x="378.31" y="348.87" width="9.81" height="12.49" fill="#dfedf5"/>
<rect x="388.12" y="348.87" width="9.81" height="12.49" fill="#d21f3c"/>
<rect x="397.94" y="348.87" width="9.81" height="12.49" fill="#d21f3c"/>
<rect x="407.75" y="348.87" width="9.81" height="12.49" fill="#d21f3c"/>
<rect x="417.56" y="348.87" width="9.81" height="12.49" fill="#d21f3c"/>
<rect x="427.38" y="348.87" width="9.81" height="12.49" fill="#d21f3c"/>
<rect x="437.19" y="348.87" width="9.81" height="12.49" fill="#e6f0f7"/>
<rect x="447.00" y="348.87" width="9.81" height="12.49" fill="#dfedf5"/>
<rect x="456.81" y="348.87" width="9.81" height="12.49" fill="#dfedf5"/>
<rect x="466.62" y="348.87" width="9.81" height="12.49" fill="#e6f0f7"/>
<rect x="476.44" y="348.87" width="9.81" height="12.49" fill="#d9e9f3"/>
<rect x="486.25" y="348.87" width="9.81" height="12.49" fill="#e6f0f7"/>
<rect x="496.06" y="348.87" width="9.81" height="12.49" fill="#e9f2f8"/>
<rect x="505.88" y="348.87" width="9.81" height="12.49" fill="#d9e9f3"/>
<rect x="515.69" y="348.87" width="9.81" height="12.49" fill="#e6f0f7"/>
<rect x="525.50" y="348.87" width="9.81" height="12.49" fill="#d9e9f3"/>
<rect x="535.31" y="348.87" width="9.81" height="12.49" fill="#e6f0f7"/>
<rect x="545.12" y="348.87" width="9.81" height="12.49" fill="#e9f2f8"/>
<rect x="554.94" y="348.87" width="9.81" height="12.49" fill="#e9f2f8"/>
<rect x="564.75" y="348.87" width="9.81" height="12.49" fill="#d9e9f3"/>
<rect x="574.56" y="348.87" width="9.81" height="12.49" fill="#e6f0f7"/>
<rect x="584.38" y="348.87" width="9.81" height="12.49" fill="#dfedf5"/>
<rect x="594.19" y="348.87" width="9.81" height="12.49" fill="#e9f2f8"/>
<rect x="604.00" y="348.87" width="9.81" height="12.49" fill="#d9e9f3"/>
<rect x="613.81" y="348.87" width="9.81" height="12.49" fill="#f2c4c6"/>
<rect x="623.62" y="348.87" width="9.81" height="12.49" fill="#d9e9f3"/>
<rect x="633.44" y="348.87" width="9.81" height="12.49" fill="#dfedf5"/>
<rect x="643.25" y="348.87" width="9.81" height="12.49" fill="#c2ddeb"/>
<rect x="653.06" y="348.87" width="9.81" height="12.49" fill="#e9f2f8"/>
<rect x="662.88" y="348.87" width="9.81" height="12.49" fill="#e9f2f8"/>
<rect x="672.69" y="348.87" width="9.81" height="12.49" fill="#dfedf5"/>
<rect x="278.10" y="361.36" width="10.00" height="12.59" fill="#50d6a6"/>
<text x="276.6" y="370.0" font-size="6.8" text-anchor="end" font-style="italic" fill="#222">B Cells</text>
<rect x="290.00" y="361.36" width="9.81" height="12.49" fill="#d9e9f3"/>
<rect x="299.81" y="361.36" width="9.81" height="12.49" fill="#e9f2f8"/>
<rect x="309.62" y="361.36" width="9.81" height="12.49" fill="#e6f0f7"/>
<rect x="319.44" y="361.36" width="9.81" height="12.49" fill="#d9e9f3"/>
<rect x="329.25" y="361.36" width="9.81" height="12.49" fill="#d9e9f3"/>
<rect x="339.06" y="361.36" width="9.81" height="12.49" fill="#e6f0f7"/>
<rect x="348.88" y="361.36" width="9.81" height="12.49" fill="#dfedf5"/>
<rect x="358.69" y="361.36" width="9.81" height="12.49" fill="#e9f2f8"/>
<rect x="368.50" y="361.36" width="9.81" height="12.49" fill="#e6f0f7"/>
<rect x="378.31" y="361.36" width="9.81" height="12.49" fill="#e9f2f8"/>
<rect x="388.12" y="361.36" width="9.81" height="12.49" fill="#e9f2f8"/>
<rect x="397.94" y="361.36" width="9.81" height="12.49" fill="#d9e9f3"/>
<rect x="407.75" y="361.36" width="9.81" height="12.49" fill="#d9e9f3"/>
<rect x="417.56" y="361.36" width="9.81" height="12.49" fill="#dfedf5"/>
<rect x="427.38" y="361.36" width="9.81" height="12.49" fill="#e9f2f8"/>
<rect x="437.19" y="361.36" width="9.81" height="12.49" fill="#d21f3c"/>
<rect x="447.00" y="361.36" width="9.81" height="12.49" fill="#d21f3c"/>
<rect x="456.81" y="361.36" width="9.81" height="12.49" fill="#d21f3c"/>
<rect x="466.62" y="361.36" width="9.81" height="12.49" fill="#d21f3c"/>
<rect x="476.44" y="361.36" width="9.81" height="12.49" fill="#d21f3c"/>
<rect x="486.25" y="361.36" width="9.81" height="12.49" fill="#f6dadd"/>
<rect x="496.06" y="361.36" width="9.81" height="12.49" fill="#dfedf5"/>
<rect x="505.88" y="361.36" width="9.81" height="12.49" fill="#d9e9f3"/>
<rect x="515.69" y="361.36" width="9.81" height="12.49" fill="#dfedf5"/>
<rect x="525.50" y="361.36" width="9.81" height="12.49" fill="#dfedf5"/>
<rect x="535.31" y="361.36" width="9.81" height="12.49" fill="#d9e9f3"/>
<rect x="545.12" y="361.36" width="9.81" height="12.49" fill="#e9f2f8"/>
<rect x="554.94" y="361.36" width="9.81" height="12.49" fill="#d9e9f3"/>
<rect x="564.75" y="361.36" width="9.81" height="12.49" fill="#e6f0f7"/>
<rect x="574.56" y="361.36" width="9.81" height="12.49" fill="#e6f0f7"/>
<rect x="584.38" y="361.36" width="9.81" height="12.49" fill="#dfedf5"/>
<rect x="594.19" y="361.36" width="9.81" height="12.49" fill="#dfedf5"/>
<rect x="604.00" y="361.36" width="9.81" height="12.49" fill="#e6f0f7"/>
<rect x="613.81" y="361.36" width="9.81" height="12.49" fill="#c2ddeb"/>
<rect x="623.62" y="361.36" width="9.81" height="12.49" fill="#f6d8da"/>
<rect x="633.44" y="361.36" width="9.81" height="12.49" fill="#dfedf5"/>
<rect x="643.25" y="361.36" width="9.81" height="12.49" fill="#d84050"/>
<rect x="653.06" y="361.36" width="9.81" height="12.49" fill="#dfedf5"/>
<rect x="662.88" y="361.36" width="9.81" height="12.49" fill="#e9f2f8"/>
<rect x="672.69" y="361.36" width="9.81" height="12.49" fill="#e98c92"/>
<rect x="278.10" y="373.85" width="10.00" height="12.59" fill="#56c6e6"/>
<text x="276.6" y="382.5" font-size="6.8" text-anchor="end" font-style="italic" fill="#222">ECs</text>
<rect x="290.00" y="373.85" width="9.81" height="12.49" fill="#e9f2f8"/>
<rect x="299.81" y="373.85" width="9.81" height="12.49" fill="#d9e9f3"/>
<rect x="309.62" y="373.85" width="9.81" height="12.49" fill="#d9e9f3"/>
<rect x="319.44" y="373.85" width="9.81" height="12.49" fill="#dfedf5"/>
<rect x="329.25" y="373.85" width="9.81" height="12.49" fill="#dfedf5"/>
<rect x="339.06" y="373.85" width="9.81" height="12.49" fill="#dfedf5"/>
<rect x="348.88" y="373.85" width="9.81" height="12.49" fill="#d9e9f3"/>
<rect x="358.69" y="373.85" width="9.81" height="12.49" fill="#dfedf5"/>
<rect x="368.50" y="373.85" width="9.81" height="12.49" fill="#e6f0f7"/>
<rect x="378.31" y="373.85" width="9.81" height="12.49" fill="#e9f2f8"/>
<rect x="388.12" y="373.85" width="9.81" height="12.49" fill="#e9f2f8"/>
<rect x="397.94" y="373.85" width="9.81" height="12.49" fill="#e6f0f7"/>
<rect x="407.75" y="373.85" width="9.81" height="12.49" fill="#d9e9f3"/>
<rect x="417.56" y="373.85" width="9.81" height="12.49" fill="#e6f0f7"/>
<rect x="427.38" y="373.85" width="9.81" height="12.49" fill="#d9e9f3"/>
<rect x="437.19" y="373.85" width="9.81" height="12.49" fill="#d9e9f3"/>
<rect x="447.00" y="373.85" width="9.81" height="12.49" fill="#d9e9f3"/>
<rect x="456.81" y="373.85" width="9.81" height="12.49" fill="#d9e9f3"/>
<rect x="466.62" y="373.85" width="9.81" height="12.49" fill="#dfedf5"/>
<rect x="476.44" y="373.85" width="9.81" height="12.49" fill="#e9f2f8"/>
<rect x="486.25" y="373.85" width="9.81" height="12.49" fill="#d21f3c"/>
<rect x="496.06" y="373.85" width="9.81" height="12.49" fill="#d21f3c"/>
<rect x="505.88" y="373.85" width="9.81" height="12.49" fill="#d21f3c"/>
<rect x="515.69" y="373.85" width="9.81" height="12.49" fill="#d21f3c"/>
<rect x="525.50" y="373.85" width="9.81" height="12.49" fill="#d21f3c"/>
<rect x="535.31" y="373.85" width="9.81" height="12.49" fill="#dfedf5"/>
<rect x="545.12" y="373.85" width="9.81" height="12.49" fill="#e6f0f7"/>
<rect x="554.94" y="373.85" width="9.81" height="12.49" fill="#d9e9f3"/>
<rect x="564.75" y="373.85" width="9.81" height="12.49" fill="#fbfdff"/>
<rect x="574.56" y="373.85" width="9.81" height="12.49" fill="#e6f0f7"/>
<rect x="584.38" y="373.85" width="9.81" height="12.49" fill="#e6f0f7"/>
<rect x="594.19" y="373.85" width="9.81" height="12.49" fill="#e6f0f7"/>
<rect x="604.00" y="373.85" width="9.81" height="12.49" fill="#e9f2f8"/>
<rect x="613.81" y="373.85" width="9.81" height="12.49" fill="#c2ddeb"/>
<rect x="623.62" y="373.85" width="9.81" height="12.49" fill="#e6f0f7"/>
<rect x="633.44" y="373.85" width="9.81" height="12.49" fill="#e9f2f8"/>
<rect x="643.25" y="373.85" width="9.81" height="12.49" fill="#c2ddeb"/>
<rect x="653.06" y="373.85" width="9.81" height="12.49" fill="#e9f2f8"/>
<rect x="662.88" y="373.85" width="9.81" height="12.49" fill="#dfedf5"/>
<rect x="672.69" y="373.85" width="9.81" height="12.49" fill="#dfedf5"/>
<rect x="278.10" y="386.34" width="10.00" height="12.59" fill="#6c9ef8"/>
<text x="276.6" y="395.0" font-size="6.8" text-anchor="end" font-style="italic" fill="#222">Mono/Mac</text>
<rect x="290.00" y="386.34" width="9.81" height="12.49" fill="#e6f0f7"/>
<rect x="299.81" y="386.34" width="9.81" height="12.49" fill="#d9e9f3"/>
<rect x="309.62" y="386.34" width="9.81" height="12.49" fill="#dfedf5"/>
<rect x="319.44" y="386.34" width="9.81" height="12.49" fill="#d9e9f3"/>
<rect x="329.25" y="386.34" width="9.81" height="12.49" fill="#e6f0f7"/>
<rect x="339.06" y="386.34" width="9.81" height="12.49" fill="#dfedf5"/>
<rect x="348.88" y="386.34" width="9.81" height="12.49" fill="#c9e1ee"/>
<rect x="358.69" y="386.34" width="9.81" height="12.49" fill="#d9e9f3"/>
<rect x="368.50" y="386.34" width="9.81" height="12.49" fill="#dfedf5"/>
<rect x="378.31" y="386.34" width="9.81" height="12.49" fill="#c9e1ee"/>
<rect x="388.12" y="386.34" width="9.81" height="12.49" fill="#e9f2f8"/>
<rect x="397.94" y="386.34" width="9.81" height="12.49" fill="#d9e9f3"/>
<rect x="407.75" y="386.34" width="9.81" height="12.49" fill="#e6f0f7"/>
<rect x="417.56" y="386.34" width="9.81" height="12.49" fill="#d9e9f3"/>
<rect x="427.38" y="386.34" width="9.81" height="12.49" fill="#dfedf5"/>
<rect x="437.19" y="386.34" width="9.81" height="12.49" fill="#dfedf5"/>
<rect x="447.00" y="386.34" width="9.81" height="12.49" fill="#c9e1ee"/>
<rect x="456.81" y="386.34" width="9.81" height="12.49" fill="#dfedf5"/>
<rect x="466.62" y="386.34" width="9.81" height="12.49" fill="#dfedf5"/>
<rect x="476.44" y="386.34" width="9.81" height="12.49" fill="#e9f2f8"/>
<rect x="486.25" y="386.34" width="9.81" height="12.49" fill="#dfedf5"/>
<rect x="496.06" y="386.34" width="9.81" height="12.49" fill="#e9f2f8"/>
<rect x="505.88" y="386.34" width="9.81" height="12.49" fill="#dfedf5"/>
<rect x="515.69" y="386.34" width="9.81" height="12.49" fill="#e9f2f8"/>
<rect x="525.50" y="386.34" width="9.81" height="12.49" fill="#dfedf5"/>
<rect x="535.31" y="386.34" width="9.81" height="12.49" fill="#d21f3c"/>
<rect x="545.12" y="386.34" width="9.81" height="12.49" fill="#d21f3c"/>
<rect x="554.94" y="386.34" width="9.81" height="12.49" fill="#d21f3c"/>
<rect x="564.75" y="386.34" width="9.81" height="12.49" fill="#d21f3c"/>
<rect x="574.56" y="386.34" width="9.81" height="12.49" fill="#d21f3c"/>
<rect x="584.38" y="386.34" width="9.81" height="12.49" fill="#e9f2f8"/>
<rect x="594.19" y="386.34" width="9.81" height="12.49" fill="#e6f0f7"/>
<rect x="604.00" y="386.34" width="9.81" height="12.49" fill="#e9f2f8"/>
<rect x="613.81" y="386.34" width="9.81" height="12.49" fill="#d4303f"/>
<rect x="623.62" y="386.34" width="9.81" height="12.49" fill="#e9f2f8"/>
<rect x="633.44" y="386.34" width="9.81" height="12.49" fill="#f8fafc"/>
<rect x="643.25" y="386.34" width="9.81" height="12.49" fill="#eca2a6"/>
<rect x="653.06" y="386.34" width="9.81" height="12.49" fill="#d9e9f3"/>
<rect x="662.88" y="386.34" width="9.81" height="12.49" fill="#e6f0f7"/>
<rect x="672.69" y="386.34" width="9.81" height="12.49" fill="#dfedf5"/>
<rect x="278.10" y="398.83" width="10.00" height="12.59" fill="#d878f6"/>
<text x="276.6" y="407.5" font-size="6.8" text-anchor="end" font-style="italic" fill="#222">Neutrophils</text>
<rect x="290.00" y="398.83" width="9.81" height="12.49" fill="#e9f2f8"/>
<rect x="299.81" y="398.83" width="9.81" height="12.49" fill="#d9e9f3"/>
<rect x="309.62" y="398.83" width="9.81" height="12.49" fill="#e9f2f8"/>
<rect x="319.44" y="398.83" width="9.81" height="12.49" fill="#d9e9f3"/>
<rect x="329.25" y="398.83" width="9.81" height="12.49" fill="#e6f0f7"/>
<rect x="339.06" y="398.83" width="9.81" height="12.49" fill="#e9f2f8"/>
<rect x="348.88" y="398.83" width="9.81" height="12.49" fill="#c9e1ee"/>
<rect x="358.69" y="398.83" width="9.81" height="12.49" fill="#dfedf5"/>
<rect x="368.50" y="398.83" width="9.81" height="12.49" fill="#d9e9f3"/>
<rect x="378.31" y="398.83" width="9.81" height="12.49" fill="#c9e1ee"/>
<rect x="388.12" y="398.83" width="9.81" height="12.49" fill="#e9f2f8"/>
<rect x="397.94" y="398.83" width="9.81" height="12.49" fill="#e9f2f8"/>
<rect x="407.75" y="398.83" width="9.81" height="12.49" fill="#d9e9f3"/>
<rect x="417.56" y="398.83" width="9.81" height="12.49" fill="#e9f2f8"/>
<rect x="427.38" y="398.83" width="9.81" height="12.49" fill="#e6f0f7"/>
<rect x="437.19" y="398.83" width="9.81" height="12.49" fill="#e9f2f8"/>
<rect x="447.00" y="398.83" width="9.81" height="12.49" fill="#c9e1ee"/>
<rect x="456.81" y="398.83" width="9.81" height="12.49" fill="#e9f2f8"/>
<rect x="466.62" y="398.83" width="9.81" height="12.49" fill="#e9f2f8"/>
<rect x="476.44" y="398.83" width="9.81" height="12.49" fill="#dfedf5"/>
<rect x="486.25" y="398.83" width="9.81" height="12.49" fill="#d9e9f3"/>
<rect x="496.06" y="398.83" width="9.81" height="12.49" fill="#e9f2f8"/>
<rect x="505.88" y="398.83" width="9.81" height="12.49" fill="#e6f0f7"/>
<rect x="515.69" y="398.83" width="9.81" height="12.49" fill="#dfedf5"/>
<rect x="525.50" y="398.83" width="9.81" height="12.49" fill="#e9f2f8"/>
<rect x="535.31" y="398.83" width="9.81" height="12.49" fill="#dfedf5"/>
<rect x="545.12" y="398.83" width="9.81" height="12.49" fill="#e9f2f8"/>
<rect x="554.94" y="398.83" width="9.81" height="12.49" fill="#d9e9f3"/>
<rect x="564.75" y="398.83" width="9.81" height="12.49" fill="#d9e9f3"/>
<rect x="574.56" y="398.83" width="9.81" height="12.49" fill="#e9f2f8"/>
<rect x="584.38" y="398.83" width="9.81" height="12.49" fill="#d21f3c"/>
<rect x="594.19" y="398.83" width="9.81" height="12.49" fill="#d21f3c"/>
<rect x="604.00" y="398.83" width="9.81" height="12.49" fill="#d21f3c"/>
<rect x="613.81" y="398.83" width="9.81" height="12.49" fill="#e0606a"/>
<rect x="623.62" y="398.83" width="9.81" height="12.49" fill="#d42c40"/>
<rect x="633.44" y="398.83" width="9.81" height="12.49" fill="#e6f0f7"/>
<rect x="643.25" y="398.83" width="9.81" height="12.49" fill="#c2ddeb"/>
<rect x="653.06" y="398.83" width="9.81" height="12.49" fill="#dfedf5"/>
<rect x="662.88" y="398.83" width="9.81" height="12.49" fill="#e9f2f8"/>
<rect x="672.69" y="398.83" width="9.81" height="12.49" fill="#e9f2f8"/>
<rect x="278.10" y="411.32" width="10.00" height="12.59" fill="#f864cc"/>
<text x="276.6" y="420.0" font-size="6.8" text-anchor="end" font-style="italic" fill="#222">DCs</text>
<rect x="290.00" y="411.32" width="9.81" height="12.49" fill="#dfedf5"/>
<rect x="299.81" y="411.32" width="9.81" height="12.49" fill="#e6f0f7"/>
<rect x="309.62" y="411.32" width="9.81" height="12.49" fill="#e6f0f7"/>
<rect x="319.44" y="411.32" width="9.81" height="12.49" fill="#e6f0f7"/>
<rect x="329.25" y="411.32" width="9.81" height="12.49" fill="#d9e9f3"/>
<rect x="339.06" y="411.32" width="9.81" height="12.49" fill="#e9f2f8"/>
<rect x="348.88" y="411.32" width="9.81" height="12.49" fill="#c9e1ee"/>
<rect x="358.69" y="411.32" width="9.81" height="12.49" fill="#e9f2f8"/>
<rect x="368.50" y="411.32" width="9.81" height="12.49" fill="#d9e9f3"/>
<rect x="378.31" y="411.32" width="9.81" height="12.49" fill="#c9e1ee"/>
<rect x="388.12" y="411.32" width="9.81" height="12.49" fill="#dfedf5"/>
<rect x="397.94" y="411.32" width="9.81" height="12.49" fill="#dfedf5"/>
<rect x="407.75" y="411.32" width="9.81" height="12.49" fill="#e9f2f8"/>
<rect x="417.56" y="411.32" width="9.81" height="12.49" fill="#e9f2f8"/>
<rect x="427.38" y="411.32" width="9.81" height="12.49" fill="#e6f0f7"/>
<rect x="437.19" y="411.32" width="9.81" height="12.49" fill="#e6f0f7"/>
<rect x="447.00" y="411.32" width="9.81" height="12.49" fill="#c9e1ee"/>
<rect x="456.81" y="411.32" width="9.81" height="12.49" fill="#e6f0f7"/>
<rect x="466.62" y="411.32" width="9.81" height="12.49" fill="#dfedf5"/>
<rect x="476.44" y="411.32" width="9.81" height="12.49" fill="#e9f2f8"/>
<rect x="486.25" y="411.32" width="9.81" height="12.49" fill="#d9e9f3"/>
<rect x="496.06" y="411.32" width="9.81" height="12.49" fill="#e6f0f7"/>
<rect x="505.88" y="411.32" width="9.81" height="12.49" fill="#d9e9f3"/>
<rect x="515.69" y="411.32" width="9.81" height="12.49" fill="#d9e9f3"/>
<rect x="525.50" y="411.32" width="9.81" height="12.49" fill="#d9e9f3"/>
<rect x="535.31" y="411.32" width="9.81" height="12.49" fill="#dfedf5"/>
<rect x="545.12" y="411.32" width="9.81" height="12.49" fill="#e6f0f7"/>
<rect x="554.94" y="411.32" width="9.81" height="12.49" fill="#d9e9f3"/>
<rect x="564.75" y="411.32" width="9.81" height="12.49" fill="#d9e9f3"/>
<rect x="574.56" y="411.32" width="9.81" height="12.49" fill="#d9e9f3"/>
<rect x="584.38" y="411.32" width="9.81" height="12.49" fill="#f6fafc"/>
<rect x="594.19" y="411.32" width="9.81" height="12.49" fill="#e6f0f7"/>
<rect x="604.00" y="411.32" width="9.81" height="12.49" fill="#e6f0f7"/>
<rect x="613.81" y="411.32" width="9.81" height="12.49" fill="#c2ddeb"/>
<rect x="623.62" y="411.32" width="9.81" height="12.49" fill="#e6f0f7"/>
<rect x="633.44" y="411.32" width="9.81" height="12.49" fill="#d21f3c"/>
<rect x="643.25" y="411.32" width="9.81" height="12.49" fill="#e06068"/>
<rect x="653.06" y="411.32" width="9.81" height="12.49" fill="#d21f3c"/>
<rect x="662.88" y="411.32" width="9.81" height="12.49" fill="#d21f3c"/>
<rect x="672.69" y="411.32" width="9.81" height="12.49" fill="#d21f3c"/>
<line x1="299.81" y1="311.40" x2="299.81" y2="423.81" stroke="#ffffff" stroke-width="0.6"/>
<line x1="309.62" y1="311.40" x2="309.62" y2="423.81" stroke="#ffffff" stroke-width="0.6"/>
<line x1="319.44" y1="311.40" x2="319.44" y2="423.81" stroke="#ffffff" stroke-width="0.6"/>
<line x1="329.25" y1="311.40" x2="329.25" y2="423.81" stroke="#ffffff" stroke-width="0.6"/>
<line x1="339.06" y1="311.40" x2="339.06" y2="423.81" stroke="#ffffff" stroke-width="0.6"/>
<line x1="348.88" y1="311.40" x2="348.88" y2="423.81" stroke="#ffffff" stroke-width="0.6"/>
<line x1="358.69" y1="311.40" x2="358.69" y2="423.81" stroke="#ffffff" stroke-width="0.6"/>
<line x1="368.50" y1="311.40" x2="368.50" y2="423.81" stroke="#ffffff" stroke-width="0.6"/>
<line x1="378.31" y1="311.40" x2="378.31" y2="423.81" stroke="#ffffff" stroke-width="0.6"/>
<line x1="388.12" y1="311.40" x2="388.12" y2="423.81" stroke="#ffffff" stroke-width="0.6"/>
<line x1="397.94" y1="311.40" x2="397.94" y2="423.81" stroke="#ffffff" stroke-width="0.6"/>
<line x1="407.75" y1="311.40" x2="407.75" y2="423.81" stroke="#ffffff" stroke-width="0.6"/>
<line x1="417.56" y1="311.40" x2="417.56" y2="423.81" stroke="#ffffff" stroke-width="0.6"/>
<line x1="427.38" y1="311.40" x2="427.38" y2="423.81" stroke="#ffffff" stroke-width="0.6"/>
<line x1="437.19" y1="311.40" x2="437.19" y2="423.81" stroke="#ffffff" stroke-width="0.6"/>
<line x1="447.00" y1="311.40" x2="447.00" y2="423.81" stroke="#ffffff" stroke-width="0.6"/>
<line x1="456.81" y1="311.40" x2="456.81" y2="423.81" stroke="#ffffff" stroke-width="0.6"/>
<line x1="466.62" y1="311.40" x2="466.62" y2="423.81" stroke="#ffffff" stroke-width="0.6"/>
<line x1="476.44" y1="311.40" x2="476.44" y2="423.81" stroke="#ffffff" stroke-width="0.6"/>
<line x1="486.25" y1="311.40" x2="486.25" y2="423.81" stroke="#ffffff" stroke-width="0.6"/>
<line x1="496.06" y1="311.40" x2="496.06" y2="423.81" stroke="#ffffff" stroke-width="0.6"/>
<line x1="505.88" y1="311.40" x2="505.88" y2="423.81" stroke="#ffffff" stroke-width="0.6"/>
<line x1="515.69" y1="311.40" x2="515.69" y2="423.81" stroke="#ffffff" stroke-width="0.6"/>
<line x1="525.50" y1="311.40" x2="525.50" y2="423.81" stroke="#ffffff" stroke-width="0.6"/>
<line x1="535.31" y1="311.40" x2="535.31" y2="423.81" stroke="#ffffff" stroke-width="0.6"/>
<line x1="545.12" y1="311.40" x2="545.12" y2="423.81" stroke="#ffffff" stroke-width="0.6"/>
<line x1="554.94" y1="311.40" x2="554.94" y2="423.81" stroke="#ffffff" stroke-width="0.6"/>
<line x1="564.75" y1="311.40" x2="564.75" y2="423.81" stroke="#ffffff" stroke-width="0.6"/>
<line x1="574.56" y1="311.40" x2="574.56" y2="423.81" stroke="#ffffff" stroke-width="0.6"/>
<line x1="584.38" y1="311.40" x2="584.38" y2="423.81" stroke="#ffffff" stroke-width="0.6"/>
<line x1="594.19" y1="311.40" x2="594.19" y2="423.81" stroke="#ffffff" stroke-width="0.6"/>
<line x1="604.00" y1="311.40" x2="604.00" y2="423.81" stroke="#ffffff" stroke-width="0.6"/>
<line x1="613.81" y1="311.40" x2="613.81" y2="423.81" stroke="#ffffff" stroke-width="0.6"/>
<line x1="623.62" y1="311.40" x2="623.62" y2="423.81" stroke="#ffffff" stroke-width="0.6"/>
<line x1="633.44" y1="311.40" x2="633.44" y2="423.81" stroke="#ffffff" stroke-width="0.6"/>
<line x1="643.25" y1="311.40" x2="643.25" y2="423.81" stroke="#ffffff" stroke-width="0.6"/>
<line x1="653.06" y1="311.40" x2="653.06" y2="423.81" stroke="#ffffff" stroke-width="0.6"/>
<line x1="662.88" y1="311.40" x2="662.88" y2="423.81" stroke="#ffffff" stroke-width="0.6"/>
<line x1="672.69" y1="311.40" x2="672.69" y2="423.81" stroke="#ffffff" stroke-width="0.6"/>
<line x1="290.00" y1="323.89" x2="682.50" y2="323.89" stroke="#ffffff" stroke-width="0.6"/>
<line x1="290.00" y1="336.38" x2="682.50" y2="336.38" stroke="#ffffff" stroke-width="0.6"/>
<line x1="290.00" y1="348.87" x2="682.50" y2="348.87" stroke="#ffffff" stroke-width="0.6"/>
<line x1="290.00" y1="361.36" x2="682.50" y2="361.36" stroke="#ffffff" stroke-width="0.6"/>
<line x1="290.00" y1="373.85" x2="682.50" y2="373.85" stroke="#ffffff" stroke-width="0.6"/>
<line x1="290.00" y1="386.34" x2="682.50" y2="386.34" stroke="#ffffff" stroke-width="0.6"/>
<line x1="290.00" y1="398.83" x2="682.50" y2="398.83" stroke="#ffffff" stroke-width="0.6"/>
<line x1="290.00" y1="411.32" x2="682.50" y2="411.32" stroke="#ffffff" stroke-width="0.6"/>
<rect x="290.00" y="311.40" width="392.50" height="112.41" fill="none" stroke="#444" stroke-width="0.9"/>
<text x="298.9" y="430.1" font-size="8" text-anchor="end" fill="#222" transform="rotate(-45 298.9 430.1)">Krt19</text>
<text x="308.7" y="430.1" font-size="8" text-anchor="end" fill="#222" transform="rotate(-45 308.7 430.1)">Krt18</text>
<text x="318.5" y="430.1" font-size="8" text-anchor="end" fill="#222" transform="rotate(-45 318.5 430.1)">Krt8</text>
<text x="328.3" y="430.1" font-size="8" text-anchor="end" fill="#222" transform="rotate(-45 328.3 430.1)">Tspan8</text>
<text x="338.2" y="430.1" font-size="8" text-anchor="end" fill="#222" transform="rotate(-45 338.2 430.1)">Sox9</text>
<text x="348.0" y="430.1" font-size="8" text-anchor="end" fill="#222" transform="rotate(-45 348.0 430.1)">Acta2</text>
<text x="357.8" y="430.1" font-size="8" text-anchor="end" fill="#222" transform="rotate(-45 357.8 430.1)">Dcn</text>
<text x="367.6" y="430.1" font-size="8" text-anchor="end" fill="#222" transform="rotate(-45 367.6 430.1)">Col1a1</text>
<text x="377.4" y="430.1" font-size="8" text-anchor="end" fill="#222" transform="rotate(-45 377.4 430.1)">Col3a1</text>
<text x="387.2" y="430.1" font-size="8" text-anchor="end" fill="#222" transform="rotate(-45 387.2 430.1)">Lum</text>
<text x="397.0" y="430.1" font-size="8" text-anchor="end" fill="#222" transform="rotate(-45 397.0 430.1)">Cd3d</text>
<text x="406.8" y="430.1" font-size="8" text-anchor="end" fill="#222" transform="rotate(-45 406.8 430.1)">Cd3e</text>
<text x="416.7" y="430.1" font-size="8" text-anchor="end" fill="#222" transform="rotate(-45 416.7 430.1)">Cd3g</text>
<text x="426.5" y="430.1" font-size="8" text-anchor="end" fill="#222" transform="rotate(-45 426.5 430.1)">Nkg7</text>
<text x="436.3" y="430.1" font-size="8" text-anchor="end" fill="#222" transform="rotate(-45 436.3 430.1)">Ncr1</text>
<text x="446.1" y="430.1" font-size="8" text-anchor="end" fill="#222" transform="rotate(-45 446.1 430.1)">Ms4a1</text>
<text x="455.9" y="430.1" font-size="8" text-anchor="end" fill="#222" transform="rotate(-45 455.9 430.1)">Cd79a</text>
<text x="465.7" y="430.1" font-size="8" text-anchor="end" fill="#222" transform="rotate(-45 465.7 430.1)">Cd79b</text>
<text x="475.5" y="430.1" font-size="8" text-anchor="end" fill="#222" transform="rotate(-45 475.5 430.1)">Jchain</text>
<text x="485.3" y="430.1" font-size="8" text-anchor="end" fill="#222" transform="rotate(-45 485.3 430.1)">Ighm</text>
<text x="495.2" y="430.1" font-size="8" text-anchor="end" fill="#222" transform="rotate(-45 495.2 430.1)">Pecam1</text>
<text x="505.0" y="430.1" font-size="8" text-anchor="end" fill="#222" transform="rotate(-45 505.0 430.1)">Cdh5</text>
<text x="514.8" y="430.1" font-size="8" text-anchor="end" fill="#222" transform="rotate(-45 514.8 430.1)">Kdr</text>
<text x="524.6" y="430.1" font-size="8" text-anchor="end" fill="#222" transform="rotate(-45 524.6 430.1)">Plvap</text>
<text x="534.4" y="430.1" font-size="8" text-anchor="end" fill="#222" transform="rotate(-45 534.4 430.1)">Eng</text>
<text x="544.2" y="430.1" font-size="8" text-anchor="end" fill="#222" transform="rotate(-45 544.2 430.1)">Lyz2</text>
<text x="554.0" y="430.1" font-size="8" text-anchor="end" fill="#222" transform="rotate(-45 554.0 430.1)">C1qa</text>
<text x="563.8" y="430.1" font-size="8" text-anchor="end" fill="#222" transform="rotate(-45 563.8 430.1)">C1qc</text>
<text x="573.7" y="430.1" font-size="8" text-anchor="end" fill="#222" transform="rotate(-45 573.7 430.1)">Cd163</text>
<text x="583.5" y="430.1" font-size="8" text-anchor="end" fill="#222" transform="rotate(-45 583.5 430.1)">Cd68</text>
<text x="593.3" y="430.1" font-size="8" text-anchor="end" fill="#222" transform="rotate(-45 593.3 430.1)">S100a8</text>
<text x="603.1" y="430.1" font-size="8" text-anchor="end" fill="#222" transform="rotate(-45 603.1 430.1)">S100a9</text>
<text x="612.9" y="430.1" font-size="8" text-anchor="end" fill="#222" transform="rotate(-45 612.9 430.1)">Retnlg</text>
<text x="622.7" y="430.1" font-size="8" text-anchor="end" fill="#222" transform="rotate(-45 622.7 430.1)">Cd14</text>
<text x="632.5" y="430.1" font-size="8" text-anchor="end" fill="#222" transform="rotate(-45 632.5 430.1)">Ly6g</text>
<text x="642.3" y="430.1" font-size="8" text-anchor="end" fill="#222" transform="rotate(-45 642.3 430.1)">Cst3</text>
<text x="652.2" y="430.1" font-size="8" text-anchor="end" fill="#222" transform="rotate(-45 652.2 430.1)">Cd83</text>
<text x="662.0" y="430.1" font-size="8" text-anchor="end" fill="#222" transform="rotate(-45 662.0 430.1)">Xcr1</text>
<text x="671.8" y="430.1" font-size="8" text-anchor="end" fill="#222" transform="rotate(-45 671.8 430.1)">Clec9a</text>
<text x="681.6" y="430.1" font-size="8" text-anchor="end" fill="#222" transform="rotate(-45 681.6 430.1)">Ccr7</text>
<text x="5.5" y="467.0" font-size="13.5" font-weight="bold">h</text>
<text x="64.0" y="463.6" font-size="6.6" text-anchor="middle" fill="#222">Epithelial</text>
<line x1="45.40" y1="466.30" x2="82.50" y2="466.30" stroke="#333" stroke-width="0.8"/>
<rect x="44.60" y="468.40" width="19.35" height="6.70" fill="#ea6f6f"/>
<rect x="63.95" y="468.40" width="19.35" height="6.70" fill="#68d2c2"/>
<text x="102.7" y="463.6" font-size="6.6" text-anchor="middle" fill="#222">EMT Cells</text>
<line x1="84.10" y1="466.30" x2="121.20" y2="466.30" stroke="#333" stroke-width="0.8"/>
<rect x="83.30" y="468.40" width="19.35" height="6.70" fill="#ea6f6f"/>
<rect x="102.65" y="468.40" width="19.35" height="6.70" fill="#68d2c2"/>
<text x="141.3" y="463.6" font-size="6.6" text-anchor="middle" fill="#222">T Cells</text>
<line x1="122.80" y1="466.30" x2="159.90" y2="466.30" stroke="#333" stroke-width="0.8"/>
<rect x="122.00" y="468.40" width="19.35" height="6.70" fill="#ea6f6f"/>
<rect x="141.35" y="468.40" width="19.35" height="6.70" fill="#68d2c2"/>
<text x="180.1" y="463.6" font-size="6.6" text-anchor="middle" fill="#222">B Cells</text>
<line x1="161.50" y1="466.30" x2="198.60" y2="466.30" stroke="#333" stroke-width="0.8"/>
<rect x="160.70" y="468.40" width="19.35" height="6.70" fill="#ea6f6f"/>
<rect x="180.05" y="468.40" width="19.35" height="6.70" fill="#68d2c2"/>
<text x="218.8" y="463.6" font-size="6.6" text-anchor="middle" fill="#222">Pericytes</text>
<line x1="200.20" y1="466.30" x2="237.30" y2="466.30" stroke="#333" stroke-width="0.8"/>
<rect x="199.40" y="468.40" width="19.35" height="6.70" fill="#ea6f6f"/>
<rect x="218.75" y="468.40" width="19.35" height="6.70" fill="#68d2c2"/>
<text x="257.4" y="463.6" font-size="6.6" text-anchor="middle" fill="#222">ECs</text>
<line x1="238.90" y1="466.30" x2="276.00" y2="466.30" stroke="#333" stroke-width="0.8"/>
<rect x="238.10" y="468.40" width="19.35" height="6.70" fill="#ea6f6f"/>
<rect x="257.45" y="468.40" width="19.35" height="6.70" fill="#68d2c2"/>
<text x="296.2" y="463.6" font-size="6.6" text-anchor="middle" fill="#222">Mono/Mac</text>
<line x1="277.60" y1="466.30" x2="314.70" y2="466.30" stroke="#333" stroke-width="0.8"/>
<rect x="276.80" y="468.40" width="19.35" height="6.70" fill="#ea6f6f"/>
<rect x="296.15" y="468.40" width="19.35" height="6.70" fill="#68d2c2"/>
<text x="334.9" y="463.6" font-size="6.6" text-anchor="middle" fill="#222">Neutrophils</text>
<line x1="316.30" y1="466.30" x2="353.40" y2="466.30" stroke="#333" stroke-width="0.8"/>
<rect x="315.50" y="468.40" width="19.35" height="6.70" fill="#ea6f6f"/>
<rect x="334.85" y="468.40" width="19.35" height="6.70" fill="#68d2c2"/>
<text x="373.6" y="463.6" font-size="6.6" text-anchor="middle" fill="#222">DCs</text>
<line x1="355.00" y1="466.30" x2="392.10" y2="466.30" stroke="#333" stroke-width="0.8"/>
<rect x="354.20" y="468.40" width="19.35" height="6.70" fill="#ea6f6f"/>
<rect x="373.55" y="468.40" width="19.35" height="6.70" fill="#68d2c2"/>
<rect x="44.60" y="476.40" width="19.35" height="18.23" fill="#a9d1e5"/>
<rect x="63.95" y="476.40" width="19.35" height="18.23" fill="#fbf3f4"/>
<rect x="83.30" y="476.40" width="19.35" height="18.23" fill="#f8e3e5"/>
<rect x="102.65" y="476.40" width="19.35" height="18.23" fill="#f4d2d6"/>
<rect x="122.00" y="476.40" width="19.35" height="18.23" fill="#f2c6ca"/>
<rect x="141.35" y="476.40" width="19.35" height="18.23" fill="#f2c6ca"/>
<rect x="160.70" y="476.40" width="19.35" height="18.23" fill="#c4e0ec"/>
<rect x="180.05" y="476.40" width="19.35" height="18.23" fill="#d8eaf2"/>
<rect x="199.40" y="476.40" width="19.35" height="18.23" fill="#7cb9dc"/>
<rect x="218.75" y="476.40" width="19.35" height="18.23" fill="#c4e0ec"/>
<rect x="238.10" y="476.40" width="19.35" height="18.23" fill="#fcf5f5"/>
<rect x="257.45" y="476.40" width="19.35" height="18.23" fill="#eeb0b6"/>
<rect x="276.80" y="476.40" width="19.35" height="18.23" fill="#c0dcea"/>
<rect x="296.15" y="476.40" width="19.35" height="18.23" fill="#c6e0ec"/>
<rect x="315.50" y="476.40" width="19.35" height="18.23" fill="#d9444f"/>
<rect x="334.85" y="476.40" width="19.35" height="18.23" fill="#cc1f3a"/>
<rect x="354.20" y="476.40" width="19.35" height="18.23" fill="#c8e2ee"/>
<rect x="373.55" y="476.40" width="19.35" height="18.23" fill="#d2e6f0"/>
<rect x="44.60" y="494.63" width="19.35" height="18.23" fill="#eef5fa"/>
<rect x="63.95" y="494.63" width="19.35" height="18.23" fill="#efb8bc"/>
<rect x="83.30" y="494.63" width="19.35" height="18.23" fill="#f6dadc"/>
<rect x="102.65" y="494.63" width="19.35" height="18.23" fill="#eaa4aa"/>
<rect x="122.00" y="494.63" width="19.35" height="18.23" fill="#f2c8cc"/>
<rect x="141.35" y="494.63" width="19.35" height="18.23" fill="#f2c8cc"/>
<rect x="160.70" y="494.63" width="19.35" height="18.23" fill="#5fa9d4"/>
<rect x="180.05" y="494.63" width="19.35" height="18.23" fill="#72b4da"/>
<rect x="199.40" y="494.63" width="19.35" height="18.23" fill="#f6dcde"/>
<rect x="218.75" y="494.63" width="19.35" height="18.23" fill="#f6d8dc"/>
<rect x="238.10" y="494.63" width="19.35" height="18.23" fill="#ffffff"/>
<rect x="257.45" y="494.63" width="19.35" height="18.23" fill="#eaa4aa"/>
<rect x="276.80" y="494.63" width="19.35" height="18.23" fill="#6ab0d8"/>
<rect x="296.15" y="494.63" width="19.35" height="18.23" fill="#e8f2f8"/>
<rect x="315.50" y="494.63" width="19.35" height="18.23" fill="#e06f76"/>
<rect x="334.85" y="494.63" width="19.35" height="18.23" fill="#d3394a"/>
<rect x="354.20" y="494.63" width="19.35" height="18.23" fill="#a6cfe4"/>
<rect x="373.55" y="494.63" width="19.35" height="18.23" fill="#6ab0d8"/>
<rect x="44.60" y="512.86" width="19.35" height="18.23" fill="#c2deec"/>
<rect x="63.95" y="512.86" width="19.35" height="18.23" fill="#f6dcde"/>
<rect x="83.30" y="512.86" width="19.35" height="18.23" fill="#eef4f8"/>
<rect x="102.65" y="512.86" width="19.35" height="18.23" fill="#f8e0e2"/>
<rect x="122.00" y="512.86" width="19.35" height="18.23" fill="#9ccae2"/>
<rect x="141.35" y="512.86" width="19.35" height="18.23" fill="#e4eff6"/>
<rect x="160.70" y="512.86" width="19.35" height="18.23" fill="#78b6da"/>
<rect x="180.05" y="512.86" width="19.35" height="18.23" fill="#8ec2e0"/>
<rect x="199.40" y="512.86" width="19.35" height="18.23" fill="#a8d0e6"/>
<rect x="218.75" y="512.86" width="19.35" height="18.23" fill="#f6d8dc"/>
<rect x="238.10" y="512.86" width="19.35" height="18.23" fill="#f8e4e6"/>
<rect x="257.45" y="512.86" width="19.35" height="18.23" fill="#e58890"/>
<rect x="276.80" y="512.86" width="19.35" height="18.23" fill="#f6dadc"/>
<rect x="296.15" y="512.86" width="19.35" height="18.23" fill="#ecf4f8"/>
<rect x="315.50" y="512.86" width="19.35" height="18.23" fill="#cc1f3a"/>
<rect x="334.85" y="512.86" width="19.35" height="18.23" fill="#e37c84"/>
<rect x="354.20" y="512.86" width="19.35" height="18.23" fill="#e6f0f6"/>
<rect x="373.55" y="512.86" width="19.35" height="18.23" fill="#cfe5f0"/>
<rect x="44.60" y="531.09" width="19.35" height="18.23" fill="#d8e9f2"/>
<rect x="63.95" y="531.09" width="19.35" height="18.23" fill="#f9ecee"/>
<rect x="83.30" y="531.09" width="19.35" height="18.23" fill="#d8e9f2"/>
<rect x="102.65" y="531.09" width="19.35" height="18.23" fill="#d9eaf3"/>
<rect x="122.00" y="531.09" width="19.35" height="18.23" fill="#e37074"/>
<rect x="141.35" y="531.09" width="19.35" height="18.23" fill="#eef5f9"/>
<rect x="160.70" y="531.09" width="19.35" height="18.23" fill="#d0e6f0"/>
<rect x="180.05" y="531.09" width="19.35" height="18.23" fill="#d8eaf2"/>
<rect x="199.40" y="531.09" width="19.35" height="18.23" fill="#dc5b64"/>
<rect x="218.75" y="531.09" width="19.35" height="18.23" fill="#cf2238"/>
<rect x="238.10" y="531.09" width="19.35" height="18.23" fill="#d2e6f0"/>
<rect x="257.45" y="531.09" width="19.35" height="18.23" fill="#ffffff"/>
<rect x="276.80" y="531.09" width="19.35" height="18.23" fill="#e8f2f8"/>
<rect x="296.15" y="531.09" width="19.35" height="18.23" fill="#e8f2f8"/>
<rect x="315.50" y="531.09" width="19.35" height="18.23" fill="#c4e0ec"/>
<rect x="334.85" y="531.09" width="19.35" height="18.23" fill="#b2d6e8"/>
<rect x="354.20" y="531.09" width="19.35" height="18.23" fill="#f8eaea"/>
<rect x="373.55" y="531.09" width="19.35" height="18.23" fill="#d4e8f2"/>
<line x1="63.95" y1="476.40" x2="63.95" y2="549.32" stroke="#ffffff" stroke-width="0.7"/>
<line x1="83.30" y1="476.40" x2="83.30" y2="549.32" stroke="#ffffff" stroke-width="0.7"/>
<line x1="102.65" y1="476.40" x2="102.65" y2="549.32" stroke="#ffffff" stroke-width="0.7"/>
<line x1="122.00" y1="476.40" x2="122.00" y2="549.32" stroke="#ffffff" stroke-width="0.7"/>
<line x1="141.35" y1="476.40" x2="141.35" y2="549.32" stroke="#ffffff" stroke-width="0.7"/>
<line x1="160.70" y1="476.40" x2="160.70" y2="549.32" stroke="#ffffff" stroke-width="0.7"/>
<line x1="180.05" y1="476.40" x2="180.05" y2="549.32" stroke="#ffffff" stroke-width="0.7"/>
<line x1="199.40" y1="476.40" x2="199.40" y2="549.32" stroke="#ffffff" stroke-width="0.7"/>
<line x1="218.75" y1="476.40" x2="218.75" y2="549.32" stroke="#ffffff" stroke-width="0.7"/>
<line x1="238.10" y1="476.40" x2="238.10" y2="549.32" stroke="#ffffff" stroke-width="0.7"/>
<line x1="257.45" y1="476.40" x2="257.45" y2="549.32" stroke="#ffffff" stroke-width="0.7"/>
<line x1="276.80" y1="476.40" x2="276.80" y2="549.32" stroke="#ffffff" stroke-width="0.7"/>
<line x1="296.15" y1="476.40" x2="296.15" y2="549.32" stroke="#ffffff" stroke-width="0.7"/>
<line x1="315.50" y1="476.40" x2="315.50" y2="549.32" stroke="#ffffff" stroke-width="0.7"/>
<line x1="334.85" y1="476.40" x2="334.85" y2="549.32" stroke="#ffffff" stroke-width="0.7"/>
<line x1="354.20" y1="476.40" x2="354.20" y2="549.32" stroke="#ffffff" stroke-width="0.7"/>
<line x1="373.55" y1="476.40" x2="373.55" y2="549.32" stroke="#ffffff" stroke-width="0.7"/>
<line x1="44.60" y1="494.63" x2="392.90" y2="494.63" stroke="#ffffff" stroke-width="0.7"/>
<line x1="44.60" y1="512.86" x2="392.90" y2="512.86" stroke="#ffffff" stroke-width="0.7"/>
<line x1="44.60" y1="531.09" x2="392.90" y2="531.09" stroke="#ffffff" stroke-width="0.7"/>
<rect x="44.60" y="476.40" width="348.30" height="72.92" fill="none" stroke="#555" stroke-width="0.9"/>
<text x="112.3" y="487.7" font-size="6.2" text-anchor="middle" fill="#e8262b">&lt;0.001</text>
<text x="267.1" y="487.7" font-size="6.2" text-anchor="middle" fill="#e8262b">0.045</text>
<text x="305.8" y="487.7" font-size="6.2" text-anchor="middle" fill="#e8262b">0.053</text>
<text x="344.5" y="487.7" font-size="6.2" text-anchor="middle" fill="#e8262b">&lt;0.001</text>
<text x="112.3" y="505.9" font-size="6.2" text-anchor="middle" fill="#e8262b">&lt;0.001</text>
<text x="267.1" y="505.9" font-size="6.2" text-anchor="middle" fill="#e8262b">0.038</text>
<text x="305.8" y="505.9" font-size="6.2" text-anchor="middle" fill="#e8262b">&lt;0.001</text>
<text x="344.5" y="505.9" font-size="6.2" text-anchor="middle" fill="#e8262b">&lt;0.001</text>
<text x="73.6" y="524.2" font-size="6.2" text-anchor="middle" fill="#e8262b">0.034</text>
<text x="112.3" y="524.2" font-size="6.2" text-anchor="middle" fill="#e8262b">&lt;0.001</text>
<text x="151.0" y="524.2" font-size="6.2" text-anchor="middle" fill="#3a7fd0">&lt;0.001</text>
<text x="228.4" y="524.2" font-size="6.2" text-anchor="middle" fill="#e8262b">0.017</text>
<text x="267.1" y="524.2" font-size="6.2" text-anchor="middle" fill="#e8262b">0.006</text>
<text x="305.8" y="524.2" font-size="6.2" text-anchor="middle" fill="#3a7fd0">0.0002</text>
<text x="344.5" y="524.2" font-size="6.2" text-anchor="middle" fill="#3a7fd0">&lt;0.001</text>
<text x="73.6" y="542.4" font-size="6.2" text-anchor="middle" fill="#e8262b">0.038</text>
<text x="112.3" y="542.4" font-size="6.2" text-anchor="middle" fill="#3a7fd0">&lt;0.001</text>
<text x="151.0" y="542.4" font-size="6.2" text-anchor="middle" fill="#3a7fd0">&lt;0.001</text>
<text x="267.1" y="542.4" font-size="6.2" text-anchor="middle" fill="#e8262b">0.004</text>
<text x="344.5" y="542.4" font-size="6.2" text-anchor="middle" fill="#3a7fd0">&lt;0.001</text>
<text x="383.2" y="542.4" font-size="6.2" text-anchor="middle" fill="#3a7fd0">0.017</text>
<text x="41.0" y="483.8" font-size="6.2" text-anchor="end" fill="#222">Cellular</text>
<text x="41.0" y="491.1" font-size="6.2" text-anchor="end" fill="#222">Senescence</text>
<text x="41.0" y="505.9" font-size="6.2" text-anchor="end" fill="#222">SASP</text>
<text x="41.0" y="524.2" font-size="6.2" text-anchor="end" fill="#222">Cdkn1a</text>
<text x="41.0" y="542.4" font-size="6.2" text-anchor="end" fill="#222">Cdkn2a</text>
<text x="56.3" y="550.3" font-size="6.1" text-anchor="end" fill="#111" transform="rotate(-90 56.3 550.3)">N=20</text>
<text x="75.6" y="550.3" font-size="6.1" text-anchor="end" fill="#111" transform="rotate(-90 75.6 550.3)">N=98</text>
<text x="95.0" y="550.3" font-size="6.1" text-anchor="end" fill="#111" transform="rotate(-90 95.0 550.3)">N=6825</text>
<text x="114.3" y="550.3" font-size="6.1" text-anchor="end" fill="#111" transform="rotate(-90 114.3 550.3)">N=20405</text>
<text x="133.7" y="550.3" font-size="6.1" text-anchor="end" fill="#111" transform="rotate(-90 133.7 550.3)">N=1974</text>
<text x="153.0" y="550.3" font-size="6.1" text-anchor="end" fill="#111" transform="rotate(-90 153.0 550.3)">N=1590</text>
<text x="172.4" y="550.3" font-size="6.1" text-anchor="end" fill="#111" transform="rotate(-90 172.4 550.3)">N=72</text>
<text x="191.7" y="550.3" font-size="6.1" text-anchor="end" fill="#111" transform="rotate(-90 191.7 550.3)">N=133</text>
<text x="211.1" y="550.3" font-size="6.1" text-anchor="end" fill="#111" transform="rotate(-90 211.1 550.3)">N=30</text>
<text x="230.4" y="550.3" font-size="6.1" text-anchor="end" fill="#111" transform="rotate(-90 230.4 550.3)">N=141</text>
<text x="249.8" y="550.3" font-size="6.1" text-anchor="end" fill="#111" transform="rotate(-90 249.8 550.3)">N=52</text>
<text x="269.1" y="550.3" font-size="6.1" text-anchor="end" fill="#111" transform="rotate(-90 269.1 550.3)">N=213</text>
<text x="288.5" y="550.3" font-size="6.1" text-anchor="end" fill="#111" transform="rotate(-90 288.5 550.3)">N=2589</text>
<text x="307.8" y="550.3" font-size="6.1" text-anchor="end" fill="#111" transform="rotate(-90 307.8 550.3)">N=3889</text>
<text x="327.2" y="550.3" font-size="6.1" text-anchor="end" fill="#111" transform="rotate(-90 327.2 550.3)">N=1022</text>
<text x="346.5" y="550.3" font-size="6.1" text-anchor="end" fill="#111" transform="rotate(-90 346.5 550.3)">N=3903</text>
<text x="365.9" y="550.3" font-size="6.1" text-anchor="end" fill="#111" transform="rotate(-90 365.9 550.3)">N=314</text>
<text x="385.2" y="550.3" font-size="6.1" text-anchor="end" fill="#111" transform="rotate(-90 385.2 550.3)">N=320</text>
<rect x="396.00" y="472.20" width="6.80" height="6.30" fill="#ea6f6f"/>
<text x="404.6" y="477.7" font-size="6.4" fill="#222">Chow</text>
<rect x="396.00" y="480.20" width="6.80" height="6.30" fill="#68d2c2"/>
<text x="404.6" y="485.7" font-size="6.4" fill="#222">HFD+STZ</text>
<text x="396.0" y="495.2" font-size="6.8" font-weight="bold" fill="#222">Z-Score</text>
<rect x="396.00" y="497.90" width="7.00" height="37.50" fill="url(#gz)"/>
<text x="404.5" y="502.5" font-size="7" fill="#222">2</text>
<text x="404.5" y="511.3" font-size="7" fill="#222">1</text>
<text x="404.5" y="519.5" font-size="7" fill="#222">0</text>
<text x="404.5" y="528.0" font-size="7" fill="#222">-1</text>
<text x="404.5" y="536.5" font-size="7" fill="#222">-2</text>
<text x="428.0" y="466.0" font-size="13.5" font-weight="bold">i</text>
<rect x="460.80" y="467.00" width="34.50" height="7.90" fill="#ea6f6f"/>
<rect x="495.30" y="467.00" width="35.40" height="7.90" fill="#68d2c2"/>
<text x="477.8" y="465.0" font-size="7.3" text-anchor="middle" fill="#222">Chow</text>
<text x="513.2" y="465.0" font-size="7.3" text-anchor="middle" fill="#222">HFD+STZ</text>
<rect x="460.80" y="476.30" width="34.50" height="13.33" fill="#c4dfec"/>
<rect x="495.30" y="476.30" width="35.40" height="13.33" fill="#ecb4b8"/>
<text x="458.9" y="485.4" font-size="6.8" text-anchor="end" fill="#222">Fabp5</text>
<rect x="460.80" y="489.63" width="34.50" height="13.33" fill="#c4dfec"/>
<rect x="495.30" y="489.63" width="35.40" height="13.33" fill="#ecb4b8"/>
<text x="458.9" y="498.7" font-size="6.8" text-anchor="end" fill="#222">Cd36</text>
<rect x="460.80" y="502.96" width="34.50" height="13.33" fill="#c4dfec"/>
<rect x="495.30" y="502.96" width="35.40" height="13.33" fill="#ecb4b8"/>
<text x="458.9" y="512.0" font-size="6.8" text-anchor="end" fill="#222">Cdkn1a</text>
<rect x="460.80" y="516.29" width="34.50" height="13.33" fill="#c4dfec"/>
<rect x="495.30" y="516.29" width="35.40" height="13.33" fill="#ecb4b8"/>
<text x="458.9" y="525.4" font-size="6.8" text-anchor="end" fill="#222">Cdkn2a</text>
<rect x="460.80" y="529.62" width="34.50" height="13.33" fill="#ecb4b8"/>
<rect x="495.30" y="529.62" width="35.40" height="13.33" fill="#c4dfec"/>
<text x="458.9" y="538.7" font-size="6.8" text-anchor="end" fill="#222">Mki67</text>
<rect x="460.80" y="542.95" width="34.50" height="13.33" fill="#ecb4b8"/>
<rect x="495.30" y="542.95" width="35.40" height="13.33" fill="#c4dfec"/>
<text x="458.9" y="552.0" font-size="6.8" text-anchor="end" fill="#222">Top2a</text>
<line x1="460.80" y1="489.63" x2="530.70" y2="489.63" stroke="#ffffff" stroke-width="0.6"/>
<line x1="460.80" y1="502.96" x2="530.70" y2="502.96" stroke="#ffffff" stroke-width="0.6"/>
<line x1="460.80" y1="516.29" x2="530.70" y2="516.29" stroke="#ffffff" stroke-width="0.6"/>
<line x1="460.80" y1="529.62" x2="530.70" y2="529.62" stroke="#ffffff" stroke-width="0.6"/>
<line x1="460.80" y1="542.95" x2="530.70" y2="542.95" stroke="#ffffff" stroke-width="0.6"/>
<line x1="495.30" y1="476.30" x2="495.30" y2="556.30" stroke="#ffffff" stroke-width="0.6"/>
<rect x="460.80" y="476.30" width="69.90" height="80.00" fill="none" stroke="#555" stroke-width="0.9"/>
<text x="495.7" y="567.7" font-size="10.6" text-anchor="middle" fill="#222">ECs</text>
<text x="533.9" y="500.0" font-size="6.3" font-weight="bold" fill="#222">Z−score</text>
<rect x="534.00" y="502.60" width="6.90" height="35.00" fill="url(#gz)"/>
<text x="541.8" y="506.8" font-size="6.3" fill="#222">2</text>
<text x="541.8" y="514.5" font-size="6.3" fill="#222">1</text>
<text x="541.8" y="522.3" font-size="6.3" fill="#222">0</text>
<text x="541.8" y="530.3" font-size="6.3" fill="#222">−1</text>
<text x="541.8" y="538.3" font-size="6.3" fill="#222">−2</text>
<text x="552.5" y="466.3" font-size="13.5" font-weight="bold">j</text>
<text x="626.4" y="471.4" font-size="6.08" text-anchor="middle" font-weight="bold" fill="#111">Pancancer Endothelial Cell Senescence</text>
<line x1="594.60" y1="474.00" x2="594.60" y2="552.00" stroke="#e6e6e6" stroke-width="0.6"/>
<line x1="622.00" y1="474.00" x2="622.00" y2="552.00" stroke="#e6e6e6" stroke-width="0.6"/>
<line x1="647.60" y1="474.00" x2="647.60" y2="552.00" stroke="#e6e6e6" stroke-width="0.6"/>
<line x1="673.30" y1="474.00" x2="673.30" y2="552.00" stroke="#e6e6e6" stroke-width="0.6"/>
<line x1="594.60" y1="552.00" x2="594.60" y2="554.00" stroke="#555" stroke-width="0.6"/>
<text x="594.6" y="560.5" font-size="6.3" text-anchor="middle" fill="#222">−0.5</text>
<line x1="622.00" y1="552.00" x2="622.00" y2="554.00" stroke="#555" stroke-width="0.6"/>
<text x="622.0" y="560.5" font-size="6.3" text-anchor="middle" fill="#222">0.0</text>
<line x1="647.60" y1="552.00" x2="647.60" y2="554.00" stroke="#555" stroke-width="0.6"/>
<text x="647.6" y="560.5" font-size="6.3" text-anchor="middle" fill="#222">0.5</text>
<line x1="673.30" y1="552.00" x2="673.30" y2="554.00" stroke="#555" stroke-width="0.6"/>
<text x="673.3" y="560.5" font-size="6.3" text-anchor="middle" fill="#222">1.0</text>
<line x1="589.00" y1="552.00" x2="677.00" y2="552.00" stroke="#555" stroke-width="0.6"/>
<path d="M589.2 535.3 C596 535 600 528 603 512 C606 492 609 475 612.6 475.2 C616 475 618 492 623 499 C626 502 630 497 635 498.5 C642 500 648 508 654 514 C660 522 665 532 676.8 535.3 Z" fill="#ea6a6a" stroke="#111" stroke-width="0.7"/>
<line x1="589.00" y1="535.30" x2="677.00" y2="535.30" stroke="#ea6a6a" stroke-width="0.8"/>
<path d="M589.2 552 C600 551.5 605 548 609 538 C613 526 618 516 625.4 509.6 C631 504 637 492 641 486 C643 483.5 645 483.5 647 486 C652 494 655 510 658 525 C661 540 666 551 676.8 552 Z" fill="#5fd5c5" stroke="#111" stroke-width="0.7"/>
<text x="586.2" y="535.2" font-size="6.15" text-anchor="end" fill="#222">Chow</text>
<text x="586.2" y="553.2" font-size="6.15" text-anchor="end" fill="#222">HFD+STZ</text>
<text x="4.8" y="579.7" font-size="13.5" font-weight="bold">k</text>
<line x1="49.60" y1="571.00" x2="49.60" y2="710.20" stroke="#222" stroke-width="0.9"/>
<line x1="49.60" y1="710.20" x2="131.40" y2="710.20" stroke="#222" stroke-width="0.9"/>
<line x1="47.40" y1="577.20" x2="49.60" y2="577.20" stroke="#222" stroke-width="0.8"/>
<text x="45.7" y="579.7" font-size="7.0" text-anchor="end" fill="#333">1.00</text>
<line x1="47.40" y1="608.60" x2="49.60" y2="608.60" stroke="#222" stroke-width="0.8"/>
<text x="45.7" y="611.1" font-size="7.0" text-anchor="end" fill="#333">0.75</text>
<line x1="47.40" y1="640.30" x2="49.60" y2="640.30" stroke="#222" stroke-width="0.8"/>
<text x="45.7" y="642.8" font-size="7.0" text-anchor="end" fill="#333">0.50</text>
<line x1="47.40" y1="671.80" x2="49.60" y2="671.80" stroke="#222" stroke-width="0.8"/>
<text x="45.7" y="674.3" font-size="7.0" text-anchor="end" fill="#333">0.25</text>
<line x1="47.40" y1="703.60" x2="49.60" y2="703.60" stroke="#222" stroke-width="0.8"/>
<text x="45.7" y="706.1" font-size="7.0" text-anchor="end" fill="#333">0.00</text>
<text x="28.0" y="640.8" font-size="8.5" text-anchor="middle" fill="#222" transform="rotate(-90 28.0 640.8)">Percentage</text>
<rect x="55.00" y="577.20" width="33.80" height="63.10" fill="#eb6d6d"/>
<rect x="55.00" y="640.30" width="33.80" height="39.20" fill="#47d245"/>
<rect x="55.00" y="679.50" width="33.80" height="24.10" fill="#6b9ff8"/>
<rect x="92.80" y="577.20" width="34.00" height="81.30" fill="#eb6d6d"/>
<rect x="92.80" y="658.50" width="34.00" height="16.30" fill="#47d245"/>
<rect x="92.80" y="674.80" width="34.00" height="28.80" fill="#6b9ff8"/>
<line x1="71.90" y1="710.20" x2="71.90" y2="712.40" stroke="#222" stroke-width="0.8"/>
<line x1="109.80" y1="710.20" x2="109.80" y2="712.40" stroke="#222" stroke-width="0.8"/>
<text x="72.0" y="719.8" font-size="7.0" text-anchor="middle" fill="#333">Chow</text>
<text x="109.8" y="719.8" font-size="7.0" text-anchor="middle" fill="#333">HFD+STZ</text>
<text x="129.5" y="621.4" font-size="8.5" fill="#222">Phase</text>
<rect x="129.80" y="627.00" width="12.90" height="11.80" fill="#eb6d6d"/>
<text x="147.1" y="635.4" font-size="6.9" fill="#222">G1</text>
<rect x="129.80" y="640.70" width="12.90" height="11.80" fill="#47d245"/>
<text x="147.1" y="649.1" font-size="6.9" fill="#222">G2M</text>
<rect x="129.80" y="654.30" width="12.90" height="11.80" fill="#6b9ff8"/>
<text x="147.1" y="662.7" font-size="6.9" fill="#222">S</text>
<text x="160.8" y="580.0" font-size="13.5" font-weight="bold">l</text>
<text x="224.0" y="579.5" font-size="8.5" text-anchor="middle" font-weight="bold" fill="#e8262b">P16</text>
<text x="318.4" y="580.0" font-size="8.5" text-anchor="middle" font-weight="bold" fill="#3cc040">CD31</text>
<text x="416.7" y="580.0" font-size="8.5" text-anchor="middle" font-weight="bold" fill="#f0b030">Merge</text>
<defs><filter id="nR" x="0" y="0" width="1" height="1" color-interpolation-filters="sRGB"><feTurbulence type="fractalNoise" baseFrequency="0.5" numOctaves="2" seed="31"/><feColorMatrix values="0 0 0 0 0.6 0 0 0 0 0.1 0 0 0 0 0.12 4 0 0 0 -1.8"/></filter><filter id="nR2" x="0" y="0" width="1" height="1" color-interpolation-filters="sRGB"><feTurbulence type="fractalNoise" baseFrequency="0.5" numOctaves="2" seed="35"/><feColorMatrix values="0 0 0 0 0.7 0 0 0 0 0.1 0 0 0 0 0.14 5 0 0 0 -2.2"/></filter><filter id="nG" x="0" y="0" width="1" height="1" color-interpolation-filters="sRGB"><feTurbulence type="turbulence" baseFrequency="0.06 0.1" numOctaves="1" seed="5"/><feColorMatrix values="0 0 0 0 0.25 0 0 0 0 0.8 0 0 0 0 0.25 -24 0 0 0 1.0"/></filter><filter id="nG2" x="0" y="0" width="1" height="1" color-interpolation-filters="sRGB"><feTurbulence type="turbulence" baseFrequency="0.13 0.17" numOctaves="1" seed="8"/><feColorMatrix values="0 0 0 0 0.25 0 0 0 0 0.85 0 0 0 0 0.25 -24 0 0 0 1.0"/></filter><filter id="nGb" x="0" y="0" width="1" height="1" color-interpolation-filters="sRGB"><feTurbulence type="fractalNoise" baseFrequency="0.5" numOctaves="2" seed="41"/><feColorMatrix values="0 0 0 0 0.1 0 0 0 0 0.3 0 0 0 0 0.1 4 0 0 0 -1.6"/></filter><filter id="nB" x="0" y="0" width="1" height="1" color-interpolation-filters="sRGB"><feTurbulence type="fractalNoise" baseFrequency="0.3" numOctaves="2" seed="13"/><feColorMatrix values="0 0 0 0 0.02 0 0 0 0 0.02 0 0 0 0 0.35 5 0 0 0 -2.5"/></filter><filter id="nB2" x="0" y="0" width="1" height="1" color-interpolation-filters="sRGB"><feTurbulence type="fractalNoise" baseFrequency="0.45" numOctaves="2" seed="14"/><feColorMatrix values="0 0 0 0 0.3 0 0 0 0 0.3 0 0 0 0 1.0 -4 0 0 0 1.6"/></filter><filter id="nGm" x="0" y="0" width="1" height="1" color-interpolation-filters="sRGB"><feTurbulence type="turbulence" baseFrequency="0.07 0.1" numOctaves="1" seed="6"/><feColorMatrix values="0 0 0 0 0.2 0 0 0 0 0.85 0 0 0 0 0.2 -26 0 0 0 1.0"/></filter><filter id="nBz" x="0" y="0" width="1" height="1" color-interpolation-filters="sRGB"><feTurbulence type="fractalNoise" baseFrequency="0.2" numOctaves="2" seed="15"/><feColorMatrix values="0 0 0 0 0.02 0 0 0 0 0.02 0 0 0 0 0.3 5 0 0 0 -2.5"/></filter><filter id="nBz2" x="0" y="0" width="1" height="1" color-interpolation-filters="sRGB"><feTurbulence type="fractalNoise" baseFrequency="0.22" numOctaves="2" seed="16"/><feColorMatrix values="0 0 0 0 0.35 0 0 0 0 0.35 0 0 0 0 1.0 -4 0 0 0 1.6"/></filter><filter id="nGz" x="0" y="0" width="1" height="1" color-interpolation-filters="sRGB"><feTurbulence type="turbulence" baseFrequency="0.045 0.06" numOctaves="1" seed="7"/><feColorMatrix values="0 0 0 0 0.2 0 0 0 0 0.9 0 0 0 0 0.2 -30 0 0 0 1.0"/></filter><filter id="nGz2" x="0" y="0" width="1" height="1" color-interpolation-filters="sRGB"><feTurbulence type="turbulence" baseFrequency="0.07 0.09" numOctaves="1" seed="10"/><feColorMatrix values="0 0 0 0 0.2 0 0 0 0 0.9 0 0 0 0 0.2 -22 0 0 0 1.0"/></filter><filter id="nGm2" x="0" y="0" width="1" height="1" color-interpolation-filters="sRGB"><feTurbulence type="turbulence" baseFrequency="0.12 0.16" numOctaves="1" seed="9"/><feColorMatrix values="0 0 0 0 0.2 0 0 0 0 0.85 0 0 0 0 0.2 -24 0 0 0 1.0"/></filter><filter id="bk"><feGaussianBlur stdDeviation="0.8"/></filter></defs>
<rect x="177.00" y="582.20" width="94.20" height="64.00" fill="#1b1314"/>
<rect x="177" y="582.2" width="94.2" height="64" filter="url(#nR)" opacity="0.12"/>
<rect x="177.00" y="646.50" width="94.20" height="64.00" fill="#1e1314"/>
<rect x="177" y="646.5" width="94.2" height="64" filter="url(#nR2)" opacity="0.2"/>
<path transform="scale(.5)" d="M471 1187h0m5 5h0m-78 5h0m25-1h0m63 2h0m38-4h0m-154 12h0m97 2h0m-102 5h0m78 2h0m-75 12h0m147 7h0m-138 8h0m137 5h0m-67 5h0m-55 12h0m78-3h0m-37 8h0m33-1h0m17 3h0m42-5h0m8 4h0m-22 4h0m-136 6h0m51-1h0m62 0h0m38 4h0m-40 4h0" stroke="#d8202a" stroke-width="2.8" stroke-linecap="round" fill="none"/>
<path transform="scale(.5)" d="M370 1316h0m38-2h0m12 4h0m18 1h0m-39 2h0m125 0h0m-86 8h0m12-1h0m34-2h0m13 0h0m1 0h0m14 4h0m-114 4h0m131-2h0m-95 11h0m-66 1h0m58 1h0m93-1h0m14 2h0m-163 6h0m51 3h0m32-1h0m82-2h0m-162 8h0m44-3h0m40 3h0m65-3h0m-154 6h0m90 3h0m32-3h0m42 0h0m-139 10h0m12-3h0m50 2h0m-21 5h0m29 0h0m49-2h0m-92 7h0m78 0h0m-108 8h0m35 0h0m6-1h0m10 2h0m15-3h0m0 3h0m1-3h0m47 1h0m-143 6h0m43 1h0m61-1h0m-96 6h0m6-3h0m8 5h0m133 0h0m2-5h0m-28 9h0m-119 7h0m52-3h0m56 1h0m41 1h0" stroke="#e82030" stroke-width="2.8" stroke-linecap="round" fill="none"/>
<rect x="271.70" y="582.20" width="95.00" height="64.00" fill="#0b140b"/>
<rect x="271.7" y="582.2" width="95" height="64" filter="url(#nGb)" opacity="0.25"/>
<rect x="271.7" y="582.2" width="95" height="64" filter="url(#nG)" opacity="0.2"/>
<rect x="271.70" y="646.50" width="95.00" height="64.00" fill="#0a120a"/>
<rect x="271.7" y="646.5" width="95" height="64" filter="url(#nGb)" opacity="0.2"/>
<rect x="271.7" y="646.5" width="95" height="64" filter="url(#nG2)" opacity="0.25"/>
<path filter="url(#bk)" d="M290 600 C300 596 315 604 330 598 C340 594 350 600 360 596 M285 625 C300 620 320 628 345 622 M300 612 L330 612" stroke="#000" stroke-width="3" fill="none" opacity="0.7"/>
<rect x="367.30" y="582.20" width="94.80" height="64.00" fill="#1a1ab8"/>
<rect x="367.3" y="582.2" width="94.8" height="64" filter="url(#nB2)" opacity="0.3"/>
<rect x="367.3" y="582.2" width="94.8" height="64" filter="url(#nB)"/>
<rect x="367.3" y="582.2" width="94.8" height="64" filter="url(#nGm)" opacity="0.4"/>
<rect x="367.30" y="646.50" width="94.80" height="64.00" fill="#1a1ab8"/>
<rect x="367.3" y="646.5" width="94.8" height="64" filter="url(#nB2)" opacity="0.3"/>
<rect x="367.3" y="646.5" width="94.8" height="64" filter="url(#nB)"/>
<rect x="367.3" y="646.5" width="94.8" height="64" filter="url(#nGm2)" opacity="0.4"/>
<rect x="463.00" y="582.20" width="94.70" height="64.00" fill="#2020cc"/>
<rect x="463" y="582.2" width="94.7" height="64" filter="url(#nBz2)" opacity="0.4"/>
<rect x="463" y="582.2" width="94.7" height="64" filter="url(#nBz)"/>
<rect x="463" y="582.2" width="94.7" height="64" filter="url(#nGz)" opacity="0.5"/>
<rect x="463.00" y="646.50" width="94.70" height="64.00" fill="#2020cc"/>
<rect x="463" y="646.5" width="94.7" height="64" filter="url(#nBz2)" opacity="0.4"/>
<rect x="463" y="646.5" width="94.7" height="64" filter="url(#nBz)"/>
<rect x="463" y="646.5" width="94.7" height="64" filter="url(#nGz2)" opacity="0.75"/>
<g fill="none" stroke="#000" stroke-linecap="round" filter="url(#bk)">
<path d="M385 600 C395 596 405 604 420 598 C428 594 440 598 452 596 M395 622 C410 618 425 624 440 620 M440 607 L458 610" stroke-width="2"/>
<path d="M384 670 C392 676 400 668 410 674 M430 690 C440 686 450 692 458 688" stroke-width="1.8"/>
<path d="M470 583 C472 592 476 598 484 606 C490 612 494 616 500 620 M495 593 L516 591 C522 596 524 602 530 605 L556 608 M503 623 C520 620 540 622 556 621" stroke-width="4"/>
<path d="M520 684 C528 690 536 692 548 686 M470 700 L485 706 M540 650 L556 660" stroke-width="2.6"/>
</g>
<path transform="scale(.5)" d="M825 1175h0m-5 3h0m47-2h0m-22 6h0m19 6h0m-54 17h0m59-1h0m-77 2h0m51 9h0m-39 8h0m-51 1h0m111 5h0m23-4h0m-47 6h0m-68 22h0m49 3h0m22 7h0m57 2h0m-79 14h0m83 3h0m-141 18h0m137 1h0m-74 5h0m76-3h0m-2 7h0m-127 6h0m37 1h0m-2 7h0m71 1h0m4-4h0m-63 7h0m15 2h0m53-4h0m18 5h0m-70 7h0m-55 10h0m92 0h0m9-4h0m18 3h0m-129 6h0m16 1h0m8 6h0m90-3h0m-90 5h0m17 0h0m46 0h0m-88 11h0m133-2h0m4 0h0m-85 3h0m40 4h0m-45 14h0m31 3h0m57-2h0m-78 7h0m14-2h0m12 0h0m26 4h0m-128 7h0m24-5h0m51 3h0m5-3h0m11 4h0m67 3h0m3 2h0" stroke="#f03060" stroke-width="2.6" stroke-linecap="round" fill="none"/>
<path transform="scale(.5)" d="M998 1180h0m46 6h0m-97 7h0m101-3h0m-32 11h0m-75 10h0m160 5h0m-150 7h0m103-5h0m-55 8h0m30 4h0m17 5h0m4 4h0m-115 36h0m98 25h0m-75 15h0m17 3h0m59-2h0m-79 11h0m50 0h0m86 4h0m10 0h0m1 0h0m-126 8h0m1-1h0m130 5h0m-110 2h0m84-1h0m-126 9h0m27-1h0m9 0h0m28 0h0m62 0h0m27 5h0m-121 7h0m118 1h0m-166 7h0m13 0h0m61-4h0m22 17h0m15-1h0m-109 6h0m2-2h0m20 12h0m66 1h0m18 2h0m-93 2h0m119 7h0m17 3h0" stroke="#f02868" stroke-width="4.4" stroke-linecap="round" fill="none"/>
<line x1="271.20" y1="582.20" x2="271.20" y2="710.50" stroke="#dddddd" stroke-width="0.9"/>
<line x1="366.90" y1="582.20" x2="366.90" y2="710.50" stroke="#dddddd" stroke-width="0.9"/>
<line x1="462.30" y1="582.20" x2="462.30" y2="710.50" stroke="#dddddd" stroke-width="0.9"/>
<line x1="177.00" y1="646.20" x2="557.70" y2="646.20" stroke="#dddddd" stroke-width="0.9"/>
<line x1="462.60" y1="582.20" x2="462.60" y2="710.50" stroke="#ffffff" stroke-width="1.2"/>
<text x="180.5" y="592.0" font-size="7.8" fill="#f0f0f0">Chow</text>
<text x="180.5" y="656.5" font-size="7.8" fill="#f0f0f0">HFD+STZ</text>
<text x="259.0" y="641.0" font-size="3.8" text-anchor="middle" fill="#fff">100μm</text>
<line x1="253.00" y1="642.20" x2="265.00" y2="642.20" stroke="#fff" stroke-width="0.8"/>
<text x="259.0" y="705.5" font-size="3.8" text-anchor="middle" fill="#fff">100μm</text>
<line x1="253.00" y1="706.70" x2="265.00" y2="706.70" stroke="#fff" stroke-width="0.8"/>
<text x="355.0" y="641.0" font-size="3.8" text-anchor="middle" fill="#fff">100μm</text>
<line x1="349.00" y1="642.20" x2="361.00" y2="642.20" stroke="#fff" stroke-width="0.8"/>
<text x="355.0" y="705.5" font-size="3.8" text-anchor="middle" fill="#fff">100μm</text>
<line x1="349.00" y1="706.70" x2="361.00" y2="706.70" stroke="#fff" stroke-width="0.8"/>
<text x="451.0" y="641.0" font-size="3.8" text-anchor="middle" fill="#fff">100μm</text>
<line x1="445.00" y1="642.20" x2="457.00" y2="642.20" stroke="#fff" stroke-width="0.8"/>
<text x="451.0" y="705.5" font-size="3.8" text-anchor="middle" fill="#fff">100μm</text>
<line x1="445.00" y1="706.70" x2="457.00" y2="706.70" stroke="#fff" stroke-width="0.8"/>
<text x="550.0" y="641.0" font-size="3.8" text-anchor="middle" fill="#fff">50μm</text>
<line x1="545.00" y1="642.20" x2="555.00" y2="642.20" stroke="#fff" stroke-width="0.8"/>
<text x="550.0" y="705.5" font-size="3.8" text-anchor="middle" fill="#fff">50μm</text>
<line x1="545.00" y1="706.70" x2="555.00" y2="706.70" stroke="#fff" stroke-width="0.8"/>
<g fill="none" stroke="#ffffff" stroke-width="0.9" stroke-dasharray="2.5 1.8">
<rect x="385.2" y="595.5" width="48.2" height="32.1"/><rect x="396.5" y="658.1" width="48.1" height="32.8"/>
<path d="M433.4 595.5 L462 583 M433.4 627.6 L462 645.5 M444.6 658.1 L462 647.5 M444.6 690.9 L462 709.5"/>
</g>
<path d="M497 660 l3 -1.5 l-0.8 3 z" fill="#fff"/>
<path d="M508 664 l3 -1.5 l-0.8 3 z" fill="#fff"/>
<path d="M524 663 l3 -1.5 l-0.8 3 z" fill="#fff"/>
<path d="M480 675 l3 -1.5 l-0.8 3 z" fill="#fff"/>
<path d="M490 672 l3 -1.5 l-0.8 3 z" fill="#fff"/>
<path d="M505 680 l3 -1.5 l-0.8 3 z" fill="#fff"/>
<path d="M538 659 l3 -1.5 l-0.8 3 z" fill="#fff"/>
<path d="M533 697 l3 -1.5 l-0.8 3 z" fill="#fff"/>
<path d="M470 681 l3 -1.5 l-0.8 3 z" fill="#fff"/>
<text x="561.8" y="580.0" font-size="13.5" font-weight="bold">m</text>
<line x1="603.80" y1="588.00" x2="603.80" y2="698.30" stroke="#111" stroke-width="1"/>
<line x1="603.80" y1="698.30" x2="680.40" y2="698.30" stroke="#111" stroke-width="1"/>
<line x1="601.00" y1="589.20" x2="603.80" y2="589.20" stroke="#111" stroke-width="0.9"/>
<text x="597.5" y="591.9" font-size="7.3" text-anchor="end" font-weight="bold" fill="#222">50</text>
<line x1="601.00" y1="611.60" x2="603.80" y2="611.60" stroke="#111" stroke-width="0.9"/>
<text x="597.5" y="614.3" font-size="7.3" text-anchor="end" font-weight="bold" fill="#222">40</text>
<line x1="601.00" y1="633.30" x2="603.80" y2="633.30" stroke="#111" stroke-width="0.9"/>
<text x="597.5" y="636.0" font-size="7.3" text-anchor="end" font-weight="bold" fill="#222">30</text>
<line x1="601.00" y1="654.90" x2="603.80" y2="654.90" stroke="#111" stroke-width="0.9"/>
<text x="597.5" y="657.6" font-size="7.3" text-anchor="end" font-weight="bold" fill="#222">20</text>
<line x1="601.00" y1="676.80" x2="603.80" y2="676.80" stroke="#111" stroke-width="0.9"/>
<text x="597.5" y="679.5" font-size="7.3" text-anchor="end" font-weight="bold" fill="#222">10</text>
<line x1="601.00" y1="698.30" x2="603.80" y2="698.30" stroke="#111" stroke-width="0.9"/>
<text x="597.5" y="701.0" font-size="7.3" text-anchor="end" font-weight="bold" fill="#222">0</text>
<rect x="614.00" y="695.80" width="21.80" height="2.50" fill="#2f50e0" stroke="#111" stroke-width="0.9"/>
<rect x="647.20" y="642.10" width="22.30" height="56.20" fill="#f44a26" stroke="#111" stroke-width="1.1"/>
<line x1="658.40" y1="642.10" x2="658.40" y2="614.20" stroke="#111" stroke-width="0.8"/>
<line x1="652.50" y1="614.20" x2="664.30" y2="614.20" stroke="#111" stroke-width="0.9"/>
<circle cx="658.40" cy="614.20" r="1.6" fill="#111"/>
<circle cx="658.40" cy="630.80" r="1.6" fill="#111"/>
<circle cx="658.40" cy="649.30" r="1.6" fill="#111"/>
<circle cx="658.40" cy="677.00" r="1.6" fill="#111"/>
<circle cx="613.00" cy="694.76" r="1.5" fill="#111"/>
<circle cx="620.00" cy="695.06" r="1.5" fill="#111"/>
<circle cx="625.00" cy="695.14" r="1.5" fill="#111"/>
<circle cx="630.00" cy="694.51" r="1.5" fill="#111"/>
<circle cx="634.00" cy="695.55" r="1.5" fill="#111"/>
<line x1="623.00" y1="607.40" x2="660.00" y2="607.40" stroke="#111" stroke-width="1"/>
<text x="641.5" y="602.3" font-size="8.8" text-anchor="middle" fill="#333">p=0.0079</text>
<line x1="624.80" y1="698.30" x2="624.80" y2="700.80" stroke="#111" stroke-width="0.9"/>
<line x1="658.40" y1="698.30" x2="658.40" y2="700.80" stroke="#111" stroke-width="0.9"/>
<text x="625.4" y="711.6" font-size="8.1" text-anchor="middle" font-weight="bold" fill="#222">Chow</text>
<text x="658.3" y="711.6" font-size="8.0" text-anchor="middle" font-weight="bold" fill="#222">HFD+STZ</text>
<text x="586.5" y="644.7" font-size="8.5" font-weight="bold" text-anchor="middle" fill="#111" transform="rotate(-90 586.5 644.7)">Number of P16<tspan font-size="5" dy="-3">+</tspan><tspan dy="3">CD31</tspan><tspan font-size="5" dy="-3">+</tspan><tspan dy="3"> Cells</tspan></text>
<text x="4.2" y="731.0" font-size="13.5" font-weight="bold">n</text>
<text x="174.5" y="735.3" font-size="9.5" text-anchor="middle" fill="#222">Gated on CD45<tspan font-size="5" dy="-3.5">-</tspan><tspan dy="3.5"> Cells</tspan></text>
<defs><radialGradient id="jet"><stop offset="0" stop-color="#e84a20"/><stop offset="0.1" stop-color="#f08a28"/><stop offset="0.22" stop-color="#c8e038"/><stop offset="0.36" stop-color="#58dc48"/><stop offset="0.56" stop-color="#40d070"/><stop offset="0.72" stop-color="#28b8d0"/><stop offset="0.86" stop-color="#2a60f0"/><stop offset="1" stop-color="#2a30f0" stop-opacity="0"/></radialGradient>
<filter id="fb"><feGaussianBlur stdDeviation="1.5"/></filter>
<clipPath id="cn1"><rect x="33.3" y="738" width="82.9" height="83.2"/></clipPath>
<clipPath id="cn2"><rect x="138" y="738" width="83.2" height="83.6"/></clipPath>
<clipPath id="cn3"><rect x="242.5" y="738.4" width="83.2" height="83.6"/></clipPath></defs>
<rect x="33.30" y="738.00" width="82.90" height="83.20" fill="#ffffff" stroke="#666" stroke-width="0.7"/>
<g clip-path="url(#cn1)">
<path transform="scale(.5)" d="M73 1519h0m9 16h0m48 0h0m-78 5h0m11 1h0m7 0h0m18 0h0m5-1h0m3-4h0m53 4h0m-67 2h0m21 0h0m12 5h0m7 0h0m12 0h0m-69 4h0m23-1h0m3 1h0m4 2h0m4-3h0m1 0h0m27-2h0m32 2h0m17 1h0m-116 5h0m17-1h0m3 3h0m9-2h0m2 3h0m4-2h0m6-1h0m2 1h0m1 2h0m1-4h0m14-1h0m4 0h0m6 1h0m2 4h0m28-2h0m4 0h0m-86 5h0m7-1h0m0 2h0m4-2h0m8 4h0m5-1h0m2 1h0m0-1h0m5-2h0m9 1h0m4-3h0m1 2h0m0 0h0m5 1h0m11-1h0m5 1h0m9 2h0m-98 2h0m7-1h0m4 0h0m8 1h0m3 3h0m10 1h0m1-3h0m0-1h0m1 4h0m2 0h0m0 0h0m2-1h0m1 0h0m3 0h0m1-2h0m2-2h0m0 0h0m3 1h0m1 0h0m0 2h0m0-1h0m3 3h0m0 0h0m2-4h0m3 2h0m3-1h0m1-2h0m1 1h0m1 2h0m2 2h0m4-2h0m5-3h0m6 5h0m0-5h0m3 3h0m1 2h0m0-4h0m11 3h0m3-2h0m1 3h0m45-5h0m-155 9h0m13-2h0m1 0h0m8 3h0m0 0h0m3 0h0m3 1h0m6-3h0m2-1h0m0 0h0m1-1h0m3 2h0m0 1h0m5-3h0m2 3h0m1 0h0m0-1h0m1 1h0m1 1h0m1-3h0m2 0h0m3 0h0m0-1h0m2 0h0m2 1h0m0 3h0m1-4h0m1 5h0m0-1h0m1-3h0m2 4h0m0-5h0m2 1h0m1 2h0m2-3h0m2 0h0m1 4h0m1 0h0m5 0h0m1 1h0m2 0h0m4-2h0m2-1h0m7 2h0m17-4h0m2 1h0m35 1h0m-164 4h0m11 4h0m13-3h0m3 2h0m9-3h0m2 4h0m1-3h0m16 4h0m2 0h0m0-3h0m5 3h0m0 0h0m1-4h0m0 4h0m2-3h0m1 1h0m1-3h0m0 5h0m1-5h0m0 3h0m0-1h0m0-2h0m4 1h0m1 1h0m1 3h0m0-4h0m2 2h0m3 1h0m1-2h0m0 0h0m1 1h0m1 1h0m0-1h0m0-2h0m0 1h0m1 2h0m0-4h0m1 4h0m0-4h0m0 5h0m1-2h0m1 1h0m1-2h0m1 1h0m2 1h0m6-1h0m2-2h0m10 0h0m1-1h0m2 3h0m3-3h0m5 2h0m11 1h0m19-2h0m-163 8h0m32 1h0m3-3h0m4 2h0m4-1h0m5 0h0m2 0h0m0-2h0m3 4h0m3-3h0m4 4h0m2-2h0m4 1h0m0-3h0m2 1h0m0-2h0m1 5h0m1-3h0m0-1h0m2 3h0m1-4h0m1 3h0m0-2h0m1-1h0m0 1h0m1 4h0m0-4h0m2 2h0m1 0h0m3 0h0m0 0h0m1 1h0m2 1h0m0-2h0m1 0h0m1-3h0m3 2h0m1 3h0m1-4h0m3 3h0m1-1h0m0-3h0m0 4h0m0 1h0m1-1h0m0-4h0m1 1h0m1-1h0m0 3h0m0-1h0m1 0h0m0-1h0m0 1h0m0-2h0m1 2h0m0 0h0m0-1h0m1 1h0m1 3h0m1-1h0m0 1h0m0-4h0m2 4h0m0-5h0m1 3h0m0-3h0m1 2h0m1 2h0m1-3h0m5-1h0m1 1h0m0 1h0m0-1h0m1 1h0m0 2h0m1-4h0m8 1h0m5 4h0m0-2h0m1 2h0m-110 3h0m3-2h0m11 2h0m9-2h0m0 0h0m3 4h0m0 1h0m4-3h0m2 3h0m0-2h0m3-2h0m0 4h0m1-5h0m2 5h0m2-2h0m4-1h0m0-1h0m0-1h0m2 1h0m0 0h0m1 0h0m1 0h0m1 4h0m1-1h0m0 0h0m2-1h0m1-2h0m0 3h0m1-4h0m2 1h0m0 2h0m1 1h0m2-1h0m2-2h0m2 2h0m0-2h0m0 4h0m1 0h0m0-4h0m1 3h0m0-3h0m2 4h0m1-2h0m0-3h0m2 4h0m0-3h0m1 2h0m0-2h0m1 2h0m2-3h0m1 4h0m1-2h0m1 2h0m0-3h0m2-1h0m1 2h0m0-1h0m0 3h0m1 0h0m1-1h0m1-2h0m1 3h0m0 1h0m1-1h0m1-4h0m3 3h0m5-2h0m4-1h0m1 5h0m0-2h0m4-3h0m4 2h0m0 0h0m6 2h0m10-3h0m9 0h0m-142 9h0m14-2h0m1 3h0m2-5h0m2 3h0m3-1h0m1 3h0m1-4h0m10 1h0m1-1h0m0-1h0m0 1h0m1 3h0m1-2h0m2 0h0m0-1h0m3 0h0m1 4h0m0 0h0m0-1h0m1-1h0m0 1h0m1-2h0m1 3h0m0-5h0m1 2h0m3-2h0m0 1h0m1-1h0m0 3h0m1-3h0m0 1h0m0 4h0m1-2h0m1-2h0m0 3h0m2-2h0m1 3h0m1-5h0m0 5h0m2 0h0m1-5h0m0 5h0m1-3h0m0 3h0m1 0h0m0 0h0m1-2h0m0-2h0m2 0h0m1-1h0m1 4h0m1 0h0m1-2h0m0 3h0m0 0h0m1-4h0m1 0h0m1-1h0m0 5h0m1-5h0m0 0h0m0 4h0m2 0h0m4 0h0m2 0h0m0-2h0m0 3h0m0 0h0m0-1h0m1 0h0m0-4h0m0 1h0m1-1h0m0 2h0m1 1h0m0 0h0m3-2h0m0 3h0m0 0h0m1-1h0m0 2h0m0-1h0m0-2h0m0-1h0m1 2h0m2-3h0m0 2h0m0-2h0m1 2h0m0 1h0m0-2h0m1 4h0m1-3h0m1 0h0m0-1h0m2 4h0m1-4h0m1 1h0m0 3h0m1-5h0m0 0h0m1 4h0m0-3h0m0 3h0m5-1h0m1 1h0m0-4h0m0 5h0m1-2h0m2 0h0m1-3h0m0 1h0m1 1h0m1-1h0m2 2h0m1 2h0m1-5h0m1 1h0m5 3h0m3-4h0m7 4h0m1-2h0m4 0h0m12 2h0m-160 4h0m8 0h0m12-2h0m5 2h0m2-1h0m5 3h0m0-3h0m3 0h0m2 4h0m4-5h0m3 0h0m2 0h0m2 4h0m0-1h0m3-2h0m0-1h0m2 3h0m1-3h0m0 4h0m1-1h0m1 1h0m0 1h0m1-3h0m1 2h0m0 1h0m1 0h0m0-5h0m2 3h0m0 1h0m0 0h0m1 0h0m0-1h0m0-2h0m1 0h0m0 4h0m0-2h0m1 1h0m1-2h0m0-2h0m2 2h0m1-2h0m1 4h0m0 1h0m2-3h0m1 3h0m0 0h0m0-4h0m0 0h0m0 1h0m1 0h0m1 0h0m0-2h0m1 2h0m1 1h0m1 0h0m0 1h0m2-3h0m1 1h0m0-2h0m0 5h0m0-3h0m1-2h0m1 5h0m0-4h0m0 3h0m1-1h0m1 0h0m1 0h0m0 1h0m1-1h0m0 1h0m0 1h0m0-1h0m1 1h0m1-4h0m1 3h0m0-3h0m0-1h0m1 2h0m0 0h0m2 3h0m1-3h0m0-2h0m0 3h0m0 2h0m1-1h0m1 1h0m1-2h0m3-3h0m1 4h0m1-2h0m0 3h0m0-3h0m0-2h0m0 0h0m0 3h0m1 0h0m0-1h0m1-1h0m1 3h0m0 1h0m0-4h0m1 4h0m0-1h0m1-3h0m1 3h0m0 1h0m0-3h0m0-2h0m1 3h0m1-2h0m2-1h0m1 3h0m0 2h0m0-4h0m1 3h0m1 1h0m2-3h0m1 0h0m0 1h0m0-2h0m1 4h0m0-4h0m3 0h0m2 1h0m0 0h0m1-2h0m3 1h0m0 2h0m1 1h0m2 1h0m4-2h0m9 0h0m0-1h0m4 2h0m3 1h0m5-5h0m-136 10h0m0-3h0m0 0h0m10 4h0m7-3h0m4-2h0m0 5h0m2-3h0m0 3h0m1-2h0m0 2h0m0-3h0m0 3h0m0 0h0m3-5h0m0 2h0m3 1h0m0-2h0m0-1h0m1 0h0m0 2h0m0 1h0m1-1h0m2-1h0m1 2h0m1 2h0m1-1h0m2-1h0m5 2h0m0-4h0m2 1h0m1 1h0m0-2h0m2 4h0m1-1h0m0 0h0m1 0h0m1-4h0m0 3h0m0 0h0m0-1h0m1-2h0m1 1h0m0 4h0m0-5h0m1 4h0m2-1h0m0-2h0m1 4h0m0 0h0m1-4h0m1 1h0m0-2h0m0 3h0m1-1h0m0 1h0m0-1h0m1 3h0m2-1h0m1-1h0m0-2h0m0 4h0m1-2h0m0-2h0m1 0h0m1 1h0m1 1h0m0-3h0m0 2h0m2 3h0m0 0h0m2-1h0m0-3h0m0 2h0m0-2h0m1 0h0m0 0h0m1-1h0m0 2h0m0 3h0m1-2h0m0 2h0m0 0h0m0-3h0m3 0h0m0 0h0m2-1h0m2 1h0m0 0h0m1-2h0m0 3h0m3-1h0m0 3h0m1-3h0m0-1h0m0-1h0m0 3h0m2-2h0m2 2h0m0-2h0m2 4h0m0-3h0m1 0h0m0 3h0m1-1h0m3-4h0m0 0h0m1 3h0m0 0h0m1-3h0m3 2h0m0 0h0m1 0h0m3-1h0m1-1h0m1 3h0m2 0h0m1 0h0m0-2h0m8 1h0m6 0h0m9-1h0m-121 6h0m1 3h0m3-1h0m0 0h0m6 0h0m0-2h0m0 4h0m1-3h0m3-2h0m1 2h0m0 1h0m2 0h0m3 0h0m0-3h0m1 0h0m1 2h0m1-1h0m1 3h0m2-2h0m0 1h0m0-3h0m1 2h0m1 1h0m0 2h0m0-2h0m1-1h0m2-2h0m0 1h0m1-1h0m0 0h0m1 3h0m0 1h0m1-1h0m0 2h0m4-1h0m1 1h0m0-5h0m1 4h0m1-1h0m0-2h0m1 2h0m0 2h0m0-1h0m1-4h0m0 2h0m2-2h0m1 5h0m1-1h0m0 1h0m1 0h0m1-4h0m0 1h0m0 3h0m1-1h0m0-4h0m1 4h0m1-3h0m0-1h0m1 2h0m0 1h0m1 2h0m1-5h0m0 3h0m0-2h0m1 2h0m4-1h0m0-2h0m1 1h0m0 1h0m1-1h0m1 3h0m1-4h0m1 4h0m1 0h0m0-3h0m0 3h0m1-1h0m0 0h0m0-1h0m2-1h0m1 2h0m1-3h0m0 4h0m2-1h0m1 2h0m1-4h0m0 2h0m1-1h0m1 1h0m0 2h0m0 0h0m1-2h0m0-1h0m0-1h0m1-1h0m0 0h0m0 4h0m0-1h0m1 2h0m0-4h0m0 1h0m1-2h0m2 0h0m1 4h0m3-3h0m0 0h0m2 4h0m2-3h0m1-2h0m0 0h0m1 5h0m1-4h0m1-1h0m2 2h0m4 0h0m10-1h0m3 0h0m29 4h0m-151 6h0m12-3h0m0-1h0m6 1h0m0-2h0m3 1h0m0 1h0m2 2h0m1-2h0m0 3h0m2-3h0m1 3h0m0-4h0m2 0h0m2 1h0m2 2h0m1-2h0m0-1h0m0 1h0m0 3h0m1-5h0m1 1h0m1-1h0m0 5h0m0-5h0m2 0h0m0 3h0m2-3h0m1 1h0m1 2h0m1 0h0m0 1h0m1-3h0m0 2h0m1 2h0m2 0h0m1 0h0m1 0h0m0-4h0m0 2h0m0-1h0m0 0h0m0 2h0m1-1h0m0 0h0m0 2h0m0-1h0m3-3h0m1 2h0m1 2h0m1-2h0m0 1h0m0 0h0m0-3h0m1 1h0m0 1h0m1 2h0m0-4h0m1 1h0m1 0h0m1-2h0m0 1h0m0 1h0m0 0h0m0-1h0m0 2h0m0-3h0m0 1h0m0 1h0m1-1h0m0-1h0m0 1h0m1 3h0m0-2h0m0-2h0m1 5h0m0-2h0m1-1h0m1 1h0m0 2h0m1-5h0m1 3h0m0-1h0m0-2h0m0 4h0m1-3h0m0 2h0m0 1h0m1-2h0m1 0h0m1-1h0m3-1h0m1 0h0m1 1h0m0-1h0m0 0h0m0 3h0m0-1h0m1-1h0m0 2h0m1-1h0m0-1h0m1 1h0m1 0h0m0-2h0m1 0h0m1 4h0m0-4h0m1 1h0m0 4h0m0-5h0m0 2h0m3 0h0m0 1h0m0-1h0m0-1h0m0 2h0m0 0h0m1 0h0m1-2h0m2-1h0m1 0h0m1 4h0m3-4h0m3 4h0m0-3h0m4 4h0m2-1h0m-123 4h0m4 0h0m6-2h0m3 0h0m1 2h0m10 2h0m5 1h0m2-3h0m5-2h0m2 1h0m0 3h0m2-3h0m0 2h0m1 1h0m0 0h0m0-3h0m1 0h0m5 0h0m2 0h0m1 4h0m0-2h0m2 0h0m1-3h0m1 3h0m1-3h0m1 4h0m3-3h0m1 0h0m0 4h0m0-4h0m2 0h0m0-1h0m0 4h0m0-2h0m1 2h0m1 0h0m0-4h0m1 5h0m2-2h0m0 1h0m0-4h0m0 5h0m1-2h0m0 2h0m0-3h0m1 1h0m0-3h0m1 0h0m0 1h0m1 2h0m0 1h0m1 0h0m0-1h0m0 0h0m1 0h0m0-2h0m1 0h0m0 1h0m1-2h0m0 4h0m2 0h0m0-3h0m1 3h0m0-3h0m0 4h0m1-5h0m0 0h0m0 1h0m0 3h0m1-3h0m0 4h0m0 0h0m1-5h0m1 5h0m0-2h0m0-2h0m1 2h0m0-2h0m0 2h0m0-1h0m0-2h0m1 4h0m1-4h0m0 5h0m0-1h0m1 0h0m0-2h0m2-2h0m0 5h0m0-4h0m1 3h0m1-3h0m0-1h0m1 2h0m0-2h0m0 4h0m0-3h0m0 2h0m1 0h0m1-3h0m0 2h0m0 1h0m0 2h0m0-4h0m1 2h0m1 1h0m4 0h0m0-2h0m1 0h0m0 3h0m1-5h0m0 0h0m0 1h0m2 2h0m2-3h0m1 1h0m2 1h0m0-1h0m1 0h0m5-1h0m1 0h0m2 1h0m1 3h0m0 1h0m2 0h0m1-4h0m1 3h0m10 0h0m0 1h0m2 0h0m0-3h0m1 0h0m2 0h0m7-2h0m-129 6h0m1 4h0m5-2h0m4-1h0m1 2h0m1 1h0m4-4h0m1 2h0m3 2h0m3-3h0m3 2h0m4-2h0m1 4h0m1-4h0m0 2h0m0-3h0m0 0h0m1 0h0m1 3h0m1 2h0m1-3h0m0 2h0m1 0h0m1-3h0m1-1h0m1 3h0m0 2h0m1 0h0m1-4h0m2 4h0m1 0h0m0 0h0m0-5h0m2 5h0m1-2h0m0-2h0m1 1h0m0 1h0m1 1h0m0 1h0m0-5h0m1 1h0m0-1h0m2 3h0m1 0h0m0 0h0m0 0h0m1 2h0m0-4h0m0 3h0m0-4h0m1 2h0m1-2h0m1 2h0m0 1h0m0-3h0m0 1h0m2-1h0m0 4h0m0-3h0m1 4h0m1-5h0m0 2h0m0-1h0m0 3h0m1-4h0m1 3h0m0 0h0m1 0h0m0 0h0m0 2h0m1-3h0m0-1h0m1 4h0m0-4h0m1-1h0m0 2h0m1 0h0m1 2h0m1-3h0m0 2h0m0 1h0m1 1h0m0-1h0m0 0h0m1-2h0m0-1h0m0 1h0m1 0h0m1 1h0m0 1h0m0 1h0m1-5h0m1 0h0m3 2h0m1-1h0m0 1h0m1 1h0m2-1h0m0-2h0m1 5h0m0-4h0m0 2h0m0-1h0m2 2h0m1 0h0m1 0h0m3-3h0m0 4h0m1-5h0m2 1h0m0-1h0m1 2h0m2-2h0m4 0h0m1 5h0m0-5h0m0 2h0m0-2h0m3 4h0m3-3h0m2 1h0m0-1h0m2 0h0m4 2h0m5 2h0m-136 4h0m16-1h0m6 1h0m3-1h0m6-1h0m4 1h0m0 3h0m7-2h0m1-2h0m0-1h0m3 4h0m0 1h0m2-3h0m1 0h0m0-1h0m1 1h0m0 0h0m0 2h0m2-4h0m4 0h0m0 5h0m4-4h0m1-1h0m1 4h0m0 0h0m0-1h0m3 1h0m1-1h0m0 1h0m5-3h0m2 4h0m2 0h0m0 0h0m0-4h0m1 3h0m0 0h0m2 1h0m1 0h0m0-4h0m1-1h0m0 0h0m3 0h0m0 3h0m2-1h0m1 1h0m1 1h0m0-2h0m1 1h0m1-2h0m0 1h0m0 3h0m0 0h0m1-4h0m0-1h0m1 3h0m2 0h0m1-2h0m3 1h0m0 2h0m1-1h0m3 2h0m1-4h0m0 0h0m2 1h0m0-2h0m4 1h0m1 4h0m0-4h0m2 2h0m2-2h0m0 2h0m9 0h0m9-1h0m11-1h0m-169 9h0m41-2h0m4-2h0m9 1h0m1-1h0m3 3h0m1-2h0m7-1h0m1 2h0m0-2h0m1 5h0m1-1h0m2-4h0m2 1h0m2 2h0m0 1h0m1-1h0m1-3h0m1 5h0m1-4h0m4 0h0m2 1h0m2 0h0m0 2h0m1-1h0m1 2h0m4-3h0m0 0h0m1-1h0m0 3h0m2-2h0m0-2h0m1 3h0m0-2h0m1 3h0m0-1h0m0 1h0m0-3h0m0-1h0m3 3h0m1 2h0m0-5h0m1 1h0m1 3h0m0-3h0m1 1h0m1 1h0m1 0h0m1-3h0m1 1h0m4 1h0m2 2h0m1-2h0m0 0h0m0-2h0m3 3h0m0-1h0m1 1h0m1-2h0m1-1h0m1 2h0m1-2h0m3 5h0m1-5h0m1 3h0m2 0h0m0 2h0m1 0h0m1 0h0m1 0h0m1 0h0m1-3h0m1-2h0m4 0h0m7 1h0m3 2h0m5-3h0m8 4h0m4-4h0m9 3h0m-121 3h0m4 5h0m5-3h0m6 1h0m0-3h0m1 5h0m2-4h0m4 4h0m2-5h0m2 3h0m0-3h0m1 3h0m2 0h0m0 1h0m0-1h0m1 2h0m0-5h0m1 1h0m1 2h0m0 1h0m1 0h0m0 1h0m3-3h0m2 0h0m2-2h0m1 0h0m1 2h0m0 3h0m1-5h0m1 4h0m2-2h0m0 1h0m3 1h0m1-4h0m0 0h0m1 5h0m0-4h0m2 3h0m1-2h0m0 3h0m1-3h0m1 0h0m0 3h0m1-1h0m1-2h0m1-2h0m1 1h0m1-1h0m0 3h0m2 1h0m1-1h0m2-3h0m0 1h0m1 1h0m1 2h0m1-3h0m1 0h0m1 2h0m6 1h0m0-2h0m2 3h0m0-3h0m2 1h0m2 0h0m2-1h0m1 1h0m0 0h0m6 0h0m22 1h0m16-1h0m-144 6h0m5-3h0m11 5h0m6-2h0m2-3h0m2 3h0m5-2h0m3 0h0m2 2h0m0-3h0m1 0h0m3 3h0m0-1h0m2-1h0m0 0h0m5 1h0m6 0h0m0 3h0m0-1h0m1-4h0m1 2h0m0 0h0m4 3h0m0-3h0m1 1h0m0 0h0m2-3h0m2 0h0m1 4h0m1-4h0m0 3h0m2-1h0m0 0h0m0-1h0m2 4h0m2-5h0m3 3h0m0 1h0m1 0h0m1-1h0m2-1h0m3 2h0m0-2h0m9-2h0m6 4h0m10-2h0m3 1h0m6-1h0m-103 7h0m3-3h0m7 4h0m2 1h0m3-2h0m2-3h0m2 5h0m5-5h0m5 0h0m3 2h0m3 2h0m2-1h0m9 2h0m0-1h0m5 0h0m7 1h0m1-2h0m1-3h0m1 4h0m5 0h0m0-2h0m1 1h0m2-3h0m3 1h0m7 2h0m2-1h0m7 0h0m2 3h0m1-1h0m25-2h0m-115 4h0m14 2h0m29 2h0m4-1h0m0-2h0m8 3h0m2-1h0m4-1h0m2-2h0m11 0h0m1 4h0m2 0h0m5-1h0m37 0h0m-92 8h0m0-2h0m12 1h0m1 1h0m1-4h0m5 4h0m1-1h0m8-4h0m2 0h0m6 4h0m0-4h0m0 3h0m1 1h0m0-2h0m21-1h0m7 1h0m-84 5h0m28 2h0m7-3h0m9 4h0m2 0h0m1-3h0m5-1h0m32 5h0m2-3h0m0 0h0m-65 9h0m24-3h0m6 0h0m45 2h0m-104 6h0m28-4h0m1 1h0m5 4h0m7-4h0m6 2h0m11-3h0m18 8h0m9 8h0" stroke="#2c2cf2" stroke-width="1.4" stroke-linecap="round" fill="none"/>
<ellipse cx="52" cy="805" rx="16.15" ry="14.25" fill="#2a2af0" filter="url(#fb)"/>
<path d="M37.55 794.25 C41.8 789.0 60.5 789.0 65.6 795.0 C67.3 801 57.1 811.5 52 812.25 C45.2 811.5 35 801 37.55 794.25Z" fill="#2a50f0" filter="url(#fb)"/>
<ellipse cx="52.85" cy="801" rx="13.600000000000001" ry="11.25" fill="url(#jet)"/>
<path transform="scale(.5)" d="M220 1563h0m-48 7h0m0-4h0m38 5h0m-54 4h0m14-2h0m19 3h0m10-2h0m5 2h0m-47 3h0m8 1h0m1 1h0m6 0h0m3-3h0m2 4h0m1-1h0m4-1h0m1 2h0m5-3h0m3-1h0m1 3h0m1 1h0m1 1h0m3-4h0m2 0h0m-42 10h0m2 0h0m0-5h0m2 0h0m2 3h0m9 0h0m2 1h0m4-3h0m7 2h0m2 1h0m0-1h0m1-2h0m1 0h0m2 1h0m3 2h0m2-1h0m5 1h0m-54 2h0m12 3h0m2-2h0m1-1h0m2 3h0m1 2h0m4-3h0m2-1h0m0 3h0m1 0h0m1-1h0m2-1h0m1 0h0m0 0h0m1 3h0m1 0h0m2 0h0m0-2h0m8 2h0m2-3h0m0 2h0m1-3h0m3 4h0m2-5h0m0 3h0m1 2h0m9-4h0m2 4h0m3 0h0m-73 1h0m8 1h0m1-1h0m6 2h0m2-1h0m0 4h0m4-1h0m0 1h0m4-4h0m8 0h0m2 3h0m4 1h0m0-4h0m1 3h0m1-4h0m2 4h0m2-3h0m1 3h0m3-3h0m3 2h0m0-2h0m9 0h0m0 0h0m0 3h0m9 0h0m-56 6h0m4 1h0m2-3h0m2 2h0m0-4h0m3 5h0m0-4h0m2-1h0m4 3h0m3 1h0m0-4h0m1 1h0m0 0h0m0 2h0m1 2h0m0-3h0m0 1h0m1-3h0m1 3h0m1 2h0m0 0h0m1-2h0m1-2h0m1 2h0m0-1h0m0-2h0m2 1h0m1 3h0m0 1h0m0-2h0m1-2h0m2 3h0m0-3h0m1 1h0m0 0h0m1 2h0m0 0h0m1-2h0m1-1h0m0-1h0m1 4h0m1 1h0m1-4h0m1-1h0m1 1h0m1 1h0m0-2h0m0 0h0m1 3h0m0-1h0m1 1h0m1-2h0m0 3h0m4-4h0m0 2h0m2 0h0m1 1h0m5 0h0m1 2h0m2-2h0m-74 5h0m7 3h0m2-4h0m1 2h0m3 1h0m3 0h0m1-1h0m4-3h0m3 3h0m0-3h0m1 3h0m1 1h0m0-4h0m2 5h0m1-5h0m1 2h0m1 0h0m0-1h0m1-1h0m1 5h0m1-3h0m0 1h0m2 2h0m0-5h0m0 2h0m1 3h0m0-4h0m0 3h0m1-1h0m2-2h0m0 1h0m1 1h0m0 0h0m0-1h0m2 3h0m0-5h0m1 2h0m0-1h0m1-1h0m1 4h0m2-1h0m0 1h0m0-4h0m0 4h0m0-1h0m0-1h0m1 1h0m0-2h0m0 0h0m0 2h0m1-3h0m0 2h0m2-2h0m1 5h0m1-5h0m3 2h0m3-1h0m3 2h0m0-1h0m2 3h0m2-3h0m4 2h0m-62 6h0m13-2h0m1 3h0m1-5h0m2 5h0m0-3h0m0 2h0m0-3h0m2 2h0m2-3h0m0 3h0m0-2h0m1 3h0m1-4h0m4 2h0m0-2h0m0 2h0m0 0h0m1-2h0m0 2h0m1 3h0m2-3h0m1 0h0m0 0h0m1 1h0m0-1h0m1 1h0m1 2h0m1-1h0m0-4h0m1 1h0m3 2h0m1 2h0m2-5h0m0 4h0m0-2h0m1 2h0m3-4h0m1 3h0m1-1h0m1 3h0m1-2h0m3 0h0m8-3h0m-61 8h0m6 2h0m6 1h0m2-2h0m4-3h0m0 2h0m2-1h0m3 0h0m0 3h0m1-4h0m0 0h0m1 2h0m1 3h0m1-4h0m1 0h0m0 3h0m0 1h0m0 0h0m1-5h0m0 0h0m1 5h0m0-5h0m4 5h0m0-2h0m1-2h0m1 0h0m0 2h0m2-3h0m1 3h0m0-3h0m0 2h0m1-2h0m1 0h0m1 0h0m2 0h0m1 0h0m1 1h0m1-1h0m4 4h0m2-1h0m3-3h0m9 1h0m1 1h0m-62 4h0m5 1h0m0 0h0m4 1h0m2 1h0m3 2h0m1 0h0m4-4h0m1 0h0m2 0h0m0 1h0m2 1h0m2 1h0m6-4h0m3 0h0m0 3h0m2 2h0m1-4h0m1-1h0m0 1h0m1 3h0m3-3h0m0 1h0m1-1h0m2 2h0m0-2h0m1 2h0m4 2h0m2-3h0m-65 4h0m14 5h0m5 0h0m3-5h0m0 0h0m3 2h0m0-1h0m0 3h0m1 1h0m2-1h0m5-3h0m2 2h0m3-3h0m0 1h0m0 4h0m0-4h0m2 3h0m1-3h0m0-1h0m6 2h0m4 3h0m1-1h0m2-4h0m3 5h0m4-5h0m0 0h0m1 3h0m-58 7h0m19-4h0m0 0h0m1 3h0m1 2h0m3-3h0m0 3h0m1-4h0m0 2h0m4 2h0m5-2h0m2 0h0m0 2h0m5-3h0m5 0h0m3 3h0m10 0h0m-57 5h0m7 1h0m18-1h0m1-3h0m0 1h0m10-1h0m6 0h0m12-1h0m2 4h0m4 0h0m-48 3h0m11 1h0m5-1h0m0 0h0m13 2h0m2 1h0m10-3h0m-54 8h0m25 2h0m19 2h0m13 1h0m-23 5h0" stroke="#3a3af2" stroke-width="1.2" stroke-linecap="round" fill="none"/>
<path transform="scale(.5)" d="M164 1595h0m12-3h0m1-2h0m2 4h0m4 0h0m3 1h0m4-1h0m2-1h0m3 2h0m0 0h0m-21 4h0m0 0h0m0 2h0m3-1h0m3-1h0m0-1h0m1 1h0m0 2h0m0-3h0m1 3h0m1 0h0m0-1h0m1 0h0m0-4h0m2 3h0m1 1h0m1 0h0m13-2h0m-32 5h0m3 1h0m1 3h0m0-5h0m1 1h0m2 1h0m0 3h0m1-3h0m2 1h0m0 1h0m1 0h0m0-2h0m0 2h0m1 1h0m0 0h0m1 0h0m0-2h0m1-2h0m1 0h0m0 2h0m2 0h0m0 0h0m0 2h0m0-2h0m4-1h0m0 2h0m0-4h0m0 4h0m1-1h0m0-3h0m1 0h0m3 4h0m1 0h0m1-4h0m-33 10h0m3-3h0m1 2h0m1-1h0m1 1h0m2 1h0m0-3h0m1 3h0m0 0h0m1 0h0m0-1h0m0-1h0m0 3h0m1 0h0m1-3h0m0 0h0m0 3h0m1-3h0m1 2h0m0-3h0m0 2h0m0 1h0m1 0h0m0 1h0m1-4h0m0 3h0m0 1h0m1-1h0m0-1h0m0-2h0m0-1h0m0 1h0m1 3h0m0 0h0m0 0h0m0 0h0m1 0h0m0-2h0m0-1h0m0 0h0m1 2h0m0 1h0m1 0h0m0-3h0m0 2h0m0-3h0m1 3h0m1 1h0m0 0h0m0-2h0m1-2h0m1 5h0m0-4h0m0 1h0m0 0h0m1 3h0m1-4h0m0-1h0m2 4h0m1-3h0m0 1h0m4-1h0m2 3h0m-39 2h0m8 3h0m3-1h0m0 2h0m1-4h0m2 1h0m0 4h0m1 0h0m0-3h0m1 0h0m0 0h0m1-2h0m0 1h0m1-1h0m0 2h0m0 1h0m0 2h0m1-4h0m0 4h0m0 0h0m1-5h0m0 1h0m0 3h0m1-2h0m0 0h0m1 2h0m0-2h0m2 1h0m0 1h0m1 1h0m0-2h0m0 0h0m1-1h0m0 0h0m1 1h0m0-2h0m2 1h0m1 2h0m0-1h0m0 0h0m0-1h0m0 3h0m1-5h0m2 0h0m-22 9h0m2-2h0m1 3h0m1 0h0m1-3h0m1-1h0m0 3h0m0 1h0m1-4h0m0 2h0m1 0h0m0 2h0m2-3h0m1 0h0m1-1h0m0 4h0m1-4h0m1 4h0m1-4h0m1 5h0m0-3h0m0-2h0m2 4h0m0-4h0m1 2h0m-13 6h0m2-2h0m2 0h0m2 2h0m5-2h0m-12 11h0" stroke="#3030f0" stroke-width="1.6" stroke-linecap="round" fill="none"/>
</g>
<rect x="68.30" y="759.40" width="46.50" height="29.80" fill="none" stroke="#444" stroke-width="0.7"/>
<text x="91.5" y="764.4" font-size="3.3" text-anchor="middle" fill="#444">Senescent EC</text>
<text x="91.5" y="768.4" font-size="3.3" text-anchor="middle" fill="#444">5.75E-3</text>
<text x="37.1" y="749.8" font-size="9.7" fill="#111">FMO</text>
<line x1="31.80" y1="740.00" x2="33.30" y2="740.00" stroke="#444" stroke-width="0.5"/>
<text x="30.8" y="741.2" font-size="3" text-anchor="end" fill="#444">10</text>
<line x1="31.80" y1="755.50" x2="33.30" y2="755.50" stroke="#444" stroke-width="0.5"/>
<text x="30.8" y="756.7" font-size="3" text-anchor="end" fill="#444">10</text>
<line x1="31.80" y1="771.00" x2="33.30" y2="771.00" stroke="#444" stroke-width="0.5"/>
<text x="30.8" y="772.2" font-size="3" text-anchor="end" fill="#444">10</text>
<line x1="31.80" y1="786.50" x2="33.30" y2="786.50" stroke="#444" stroke-width="0.5"/>
<text x="30.8" y="787.7" font-size="3" text-anchor="end" fill="#444">10</text>
<line x1="31.80" y1="802.00" x2="33.30" y2="802.00" stroke="#444" stroke-width="0.5"/>
<text x="30.8" y="803.2" font-size="3" text-anchor="end" fill="#444">10</text>
<line x1="31.80" y1="817.50" x2="33.30" y2="817.50" stroke="#444" stroke-width="0.5"/>
<text x="30.8" y="818.7" font-size="3" text-anchor="end" fill="#444">10</text>
<line x1="39.30" y1="821.20" x2="39.30" y2="822.70" stroke="#444" stroke-width="0.5"/>
<text x="39.3" y="826.2" font-size="3" text-anchor="middle" fill="#444">0</text>
<line x1="65.30" y1="821.20" x2="65.30" y2="822.70" stroke="#444" stroke-width="0.5"/>
<text x="65.3" y="826.2" font-size="3" text-anchor="middle" fill="#444">10</text>
<line x1="81.30" y1="821.20" x2="81.30" y2="822.70" stroke="#444" stroke-width="0.5"/>
<text x="81.3" y="826.2" font-size="3" text-anchor="middle" fill="#444">10</text>
<line x1="97.30" y1="821.20" x2="97.30" y2="822.70" stroke="#444" stroke-width="0.5"/>
<text x="97.3" y="826.2" font-size="3" text-anchor="middle" fill="#444">10</text>
<line x1="113.30" y1="821.20" x2="113.30" y2="822.70" stroke="#444" stroke-width="0.5"/>
<text x="113.3" y="826.2" font-size="3" text-anchor="middle" fill="#444">10</text>
<text x="74.8" y="834.2" font-size="3.3" text-anchor="middle" fill="#444">Comp-FL2-A :: PE-A</text>
<text x="26.8" y="779.6" font-size="3.3" text-anchor="middle" fill="#444" transform="rotate(-90 26.8 779.6)">Comp-FL1-A :: Alexa Fluor 488-A</text>
<rect x="30.80" y="809.20" width="1.80" height="1.80" fill="#111"/>
<rect x="38.30" y="821.20" width="1.50" height="1.50" fill="#111"/>
<rect x="138.00" y="738.00" width="83.20" height="83.60" fill="#ffffff" stroke="#666" stroke-width="0.7"/>
<g clip-path="url(#cn2)">
<path transform="scale(.5)" d="M309 1462h0m-2 12h0m14-2h0m40-1h0m-63 8h0m-27 7h0m38-2h0m35 1h0m-71 10h0m36 1h0m-23 5h0m42 2h0m14-3h0m-79 9h0m9-1h0m19 2h0m7-4h0m12 3h0m43 2h0m-83 6h0m9-1h0m6 0h0m4 0h0m10 1h0m2 0h0m9-3h0m2-2h0m13 0h0m18 3h0m3 2h0m3-5h0m15 3h0m35-3h0m-150 11h0m16-1h0m16 0h0m7-4h0m2 1h0m5 3h0m3-4h0m1 2h0m2-1h0m6-1h0m1 0h0m1 1h0m2-1h0m1 1h0m4 4h0m1-5h0m0 4h0m3-4h0m1 3h0m6 0h0m2-2h0m2-1h0m1 4h0m21-3h0m1 1h0m19-1h0m13 1h0m6 2h0m-165 7h0m10-5h0m10 3h0m8-1h0m3-2h0m10 1h0m2 0h0m4 3h0m2 0h0m3 1h0m3 0h0m1-3h0m0 2h0m6 1h0m12-3h0m2 1h0m2-3h0m3 5h0m1-2h0m0 2h0m4-1h0m3 0h0m0-2h0m1 1h0m3-1h0m1 1h0m3 1h0m2-1h0m0 2h0m1 0h0m9-4h0m3 3h0m2-1h0m3 0h0m2-2h0m20 4h0m3-4h0m36 3h0m-145 4h0m8 2h0m3-4h0m4 4h0m1-4h0m1 3h0m5 1h0m0-1h0m5-3h0m1 2h0m1 3h0m3 0h0m0-2h0m8 1h0m3-4h0m5 2h0m1 3h0m0-5h0m2 5h0m6 0h0m4 0h0m11-5h0m3 5h0m0-2h0m3-3h0m3 4h0m11-2h0m2-1h0m17 3h0m18-2h0m-188 8h0m47 1h0m13-4h0m7 1h0m0 0h0m0-1h0m7 2h0m2 2h0m2-2h0m5 1h0m1 0h0m0 0h0m0 0h0m3 1h0m0 0h0m5 0h0m3-1h0m5-4h0m0 3h0m1-2h0m0 4h0m2-4h0m1 0h0m0 4h0m1-1h0m1 1h0m0 0h0m2-2h0m2-1h0m0 2h0m0-4h0m7 2h0m2-2h0m3 3h0m2-3h0m11 0h0m4 4h0m1-1h0m4-2h0m5 4h0m3-1h0m0 1h0m2 0h0m17 0h0m14-4h0m-142 9h0m2-4h0m19 3h0m0 0h0m2 2h0m2-2h0m3-1h0m6-1h0m1 4h0m3-3h0m0 0h0m4 1h0m1-3h0m4 5h0m2-4h0m0 3h0m5-4h0m8 4h0m2 1h0m0-3h0m1 2h0m3 0h0m2 0h0m0-2h0m0 2h0m7-3h0m0 1h0m2 0h0m2 1h0m0-1h0m1-1h0m2 4h0m0 0h0m1-4h0m12-1h0m3 0h0m1 5h0m5-4h0m1 0h0m0 4h0m3-5h0m1 1h0m1 4h0m6-3h0m1 2h0m3-1h0m1 2h0m2-3h0m2-1h0m3 2h0m5-2h0m11 2h0m6-3h0m-132 10h0m3-1h0m1 0h0m1 0h0m1-1h0m3 1h0m2-3h0m11 2h0m1-1h0m0 3h0m3-3h0m6 2h0m3 1h0m0 0h0m1-4h0m1 1h0m2 0h0m0 4h0m5-3h0m1 0h0m1 0h0m1-2h0m0 3h0m3 0h0m4-3h0m1 5h0m2-4h0m2 1h0m2 3h0m0-1h0m1-3h0m2-1h0m7 3h0m1 2h0m6-1h0m0 0h0m1 1h0m3-4h0m3 2h0m2 2h0m0-5h0m2 3h0m0-2h0m2 3h0m1 1h0m2-4h0m11 2h0m2-2h0m2 4h0m23-2h0m-158 6h0m17-1h0m5 1h0m1 0h0m3-1h0m1 1h0m4-1h0m3 3h0m3-4h0m2 3h0m1-2h0m3 1h0m1-1h0m2 2h0m1-2h0m0 3h0m0-1h0m3-2h0m1 0h0m1 2h0m0-3h0m1 4h0m0-3h0m1 0h0m2 0h0m1 0h0m0 1h0m2 0h0m1 0h0m0-3h0m3 2h0m1 1h0m0-2h0m1 4h0m0-2h0m1 0h0m0 0h0m1 0h0m0 0h0m1-3h0m0 0h0m1 1h0m0 1h0m1 2h0m1-1h0m1-2h0m0 3h0m1 0h0m0 1h0m0-3h0m1-1h0m0 1h0m0-1h0m2 0h0m1 2h0m3 1h0m0 1h0m0 0h0m0-1h0m3-4h0m2 3h0m1-2h0m0 3h0m0-3h0m1 2h0m1-1h0m0 0h0m1-1h0m0 4h0m0-2h0m1-3h0m1 3h0m2-3h0m0 4h0m2-2h0m0 2h0m1-3h0m0 4h0m2-1h0m1-1h0m1 2h0m0 0h0m1-1h0m1-3h0m1 3h0m1-2h0m2-2h0m0 2h0m1 0h0m0 2h0m2-3h0m2 3h0m1-3h0m1 1h0m1 1h0m1-2h0m0-1h0m1 4h0m3 0h0m4-4h0m4 0h0m5 3h0m6-2h0m1 4h0m4-3h0m3-1h0m2 2h0m11-2h0m-191 10h0m36-2h0m6-3h0m3 1h0m4-1h0m4 3h0m0 1h0m5-4h0m1 4h0m1-2h0m1 2h0m1-3h0m2 4h0m0-1h0m2 0h0m2 0h0m3 0h0m0 0h0m3-3h0m1 2h0m1-2h0m1 2h0m0 2h0m2 0h0m0-1h0m2 1h0m0-3h0m2 0h0m1 1h0m1-1h0m1 3h0m0 0h0m1-5h0m1 3h0m1-1h0m1 1h0m0-1h0m1-2h0m1 2h0m1 2h0m2-3h0m0 0h0m1-1h0m1 3h0m0-2h0m1 2h0m1-2h0m0 1h0m0-1h0m2-1h0m1 4h0m1-3h0m0 0h0m1 1h0m0 1h0m1-2h0m0-1h0m5 2h0m1-1h0m2 1h0m0 0h0m1-1h0m1 4h0m0-3h0m1-2h0m0 1h0m1 2h0m2-2h0m1 2h0m0 1h0m2 0h0m1 1h0m1-5h0m0 2h0m0 3h0m0-3h0m0 0h0m1 3h0m0-4h0m1 1h0m0-1h0m2 0h0m1 2h0m1 2h0m1-4h0m2 1h0m1 1h0m0-2h0m1 3h0m0-2h0m2 2h0m1-1h0m1 0h0m2 1h0m0 1h0m1-4h0m2-1h0m1 2h0m1-1h0m0 2h0m2-3h0m2 3h0m0-3h0m2 0h0m3 5h0m1-2h0m0-2h0m3 0h0m1 3h0m2 0h0m2 0h0m4 0h0m0-2h0m5 0h0m10 0h0m13 3h0m-158 3h0m11 0h0m3 3h0m2-3h0m2-1h0m5 4h0m1-3h0m1 2h0m3 0h0m1-4h0m1 2h0m0 0h0m1 2h0m0 0h0m1-3h0m1 4h0m0-3h0m0 1h0m1-1h0m0 3h0m1-3h0m0-2h0m1 2h0m0 1h0m1 0h0m3 0h0m0 1h0m3 1h0m3-1h0m0-1h0m2-1h0m1-2h0m0 5h0m1-1h0m0-3h0m0 4h0m0-3h0m2 3h0m1-1h0m0-3h0m1 1h0m0 1h0m2-1h0m1 0h0m0 0h0m2 1h0m0-3h0m0 1h0m0 0h0m1 1h0m0 3h0m1-4h0m2 0h0m0 3h0m2-2h0m0 1h0m0-1h0m0 1h0m1 0h0m1 2h0m0-5h0m1 5h0m0-2h0m0 2h0m0-3h0m1 3h0m0-3h0m0 0h0m1 2h0m1 1h0m0-2h0m0 1h0m3-4h0m0 5h0m3-1h0m0-2h0m1 3h0m0-1h0m0 0h0m1-3h0m1 4h0m1-1h0m0 0h0m1-1h0m2 0h0m0 0h0m0-3h0m1 0h0m1 0h0m0 4h0m2 1h0m1-5h0m0 4h0m2-4h0m0 2h0m2-2h0m0 2h0m1 2h0m0-1h0m2-1h0m0-1h0m2 4h0m0-3h0m1 2h0m0 1h0m0-1h0m0-4h0m4 1h0m1 4h0m0-2h0m3-1h0m0 3h0m0-1h0m0 0h0m1-3h0m2 1h0m0 1h0m1 0h0m0-1h0m0 2h0m1-4h0m1 5h0m9-2h0m0 0h0m1-2h0m0 2h0m3-1h0m0-1h0m8 0h0m9 4h0m15-3h0m-156 5h0m6 3h0m5-1h0m1-3h0m0 4h0m6-3h0m1 3h0m1 0h0m1 0h0m0-2h0m0 0h0m4 2h0m1-1h0m1 0h0m0 2h0m0-2h0m1 2h0m0-1h0m3-2h0m1-1h0m1 4h0m1-3h0m1 0h0m0 3h0m1-3h0m1 3h0m0 0h0m0-4h0m1 2h0m0 0h0m1-1h0m1-2h0m1 3h0m3-3h0m1 1h0m0 4h0m3-1h0m0-3h0m0 3h0m1-4h0m0 1h0m0 1h0m1 3h0m0 0h0m0 0h0m1-1h0m1-3h0m1 1h0m2-2h0m0 2h0m1 3h0m0-4h0m0 0h0m1-1h0m2 0h0m1 0h0m0 1h0m0 0h0m1 2h0m1-3h0m1 2h0m1 3h0m0-4h0m0 2h0m1 1h0m0-3h0m1 1h0m0 1h0m0-2h0m1 2h0m1 1h0m1-3h0m0 3h0m1-2h0m1 1h0m0-3h0m0 1h0m1 2h0m0 2h0m1 0h0m1-4h0m0 3h0m1 1h0m0-2h0m0-1h0m1-1h0m1 4h0m1 0h0m0-1h0m1 1h0m0-4h0m0-1h0m0 2h0m1 3h0m0-1h0m0-4h0m0 1h0m1 3h0m2 0h0m0-2h0m0-1h0m0 1h0m1-2h0m0 4h0m2 1h0m1-3h0m2 0h0m1 2h0m0-2h0m1-1h0m0 2h0m1 2h0m0 0h0m0 0h0m1 0h0m0-3h0m1-1h0m3-1h0m1 5h0m1-2h0m1 0h0m0 1h0m0-2h0m2 2h0m1-2h0m0 3h0m0 0h0m1-4h0m4-1h0m0 3h0m1 1h0m1 1h0m0-4h0m2 3h0m0-3h0m1-1h0m1 1h0m1-1h0m1 3h0m0 2h0m1-3h0m1 3h0m0-3h0m2-1h0m5-1h0m3 3h0m14-3h0m1 3h0m-146 7h0m4-2h0m1 0h0m5 0h0m1 1h0m1 1h0m7-3h0m5 4h0m1-2h0m2-3h0m1 2h0m4 2h0m0-4h0m1 5h0m0 0h0m1 0h0m1-2h0m1-2h0m0 0h0m2-1h0m0 3h0m1-3h0m0 3h0m2-2h0m1 2h0m0 0h0m1-3h0m1 1h0m0-1h0m1 4h0m0 0h0m1-2h0m0 3h0m1-3h0m1 3h0m1-2h0m1-1h0m0-1h0m1 0h0m0 4h0m0-2h0m1 1h0m0-4h0m1 1h0m0 0h0m1 4h0m0-3h0m1 0h0m0-2h0m1 4h0m0 1h0m1-1h0m1 1h0m0 0h0m1-3h0m0-2h0m1 5h0m1-5h0m1 0h0m1 4h0m0 0h0m1-3h0m0 2h0m0-3h0m0 4h0m0-4h0m1 2h0m0 3h0m0 0h0m0-4h0m1 2h0m0 1h0m1 1h0m0-4h0m0 3h0m0-2h0m1 3h0m1-3h0m0 2h0m0 0h0m0-4h0m1 4h0m1 1h0m0-5h0m1 4h0m2-1h0m0 2h0m0-3h0m1 3h0m1-3h0m0 2h0m1-1h0m0-3h0m1 4h0m0-1h0m0 2h0m2-2h0m0-2h0m0-1h0m0 4h0m1-1h0m0 2h0m1 0h0m0-1h0m0-4h0m1 5h0m1-1h0m1 1h0m0-3h0m1 3h0m0-3h0m0 3h0m0 0h0m0 0h0m1-2h0m0 2h0m0-1h0m0 0h0m0-4h0m0 5h0m0 0h0m0 0h0m1-2h0m0 0h0m1-2h0m0 1h0m0 0h0m1 1h0m0 2h0m1-3h0m0 3h0m1-3h0m0-2h0m0 1h0m1 0h0m0-1h0m1 2h0m1 0h0m0 0h0m0 0h0m1 2h0m2-1h0m0 2h0m1-4h0m0 1h0m1-1h0m0 1h0m1 0h0m1 1h0m0 1h0m0-1h0m1-2h0m0-1h0m0 1h0m1 4h0m0-4h0m0 0h0m1 4h0m3-4h0m0-1h0m0 0h0m4 2h0m5 1h0m0 1h0m1-1h0m1 0h0m3-2h0m0 4h0m0-2h0m3-2h0m0-1h0m0 1h0m3 4h0m3-4h0m10 1h0m12 1h0m15-3h0m-202 7h0m4 4h0m13 0h0m7-2h0m6-3h0m1 0h0m2 3h0m0 0h0m5-3h0m1 0h0m8 0h0m1 2h0m1-1h0m1 4h0m5 0h0m1-1h0m1-2h0m0 2h0m0 0h0m1-1h0m0-2h0m1 0h0m2 2h0m0-1h0m2 2h0m4-1h0m1 0h0m0 2h0m1-3h0m1-1h0m0-1h0m1 2h0m1 3h0m0-2h0m1 1h0m0-4h0m0 3h0m2-2h0m0 1h0m0 1h0m1 0h0m1 0h0m0-1h0m0 3h0m1-5h0m1 1h0m0-1h0m0 4h0m0 1h0m1 0h0m2-2h0m0-2h0m0 1h0m2 0h0m0 0h0m1-2h0m0 5h0m0-4h0m0 4h0m0 0h0m1-4h0m0 2h0m1-3h0m1 4h0m0 0h0m1 0h0m1 1h0m0-4h0m1 2h0m1-3h0m0 2h0m0 0h0m0 2h0m0-1h0m1-2h0m0 1h0m2 0h0m0-1h0m0 0h0m1-1h0m0 4h0m0-3h0m0 4h0m0-4h0m1 3h0m0 0h0m0-4h0m0 4h0m1-2h0m0 0h0m0-1h0m1-1h0m0 4h0m1 1h0m0-3h0m1 0h0m1 2h0m1-4h0m1 3h0m1 0h0m0 0h0m1-1h0m0-2h0m0 0h0m0 4h0m0-1h0m1-1h0m0-2h0m2 2h0m0 2h0m0 0h0m0-4h0m1 4h0m0-3h0m0 4h0m1-3h0m0 1h0m0 2h0m1-5h0m1 0h0m0 3h0m1-1h0m0 3h0m1-2h0m0-1h0m0-1h0m1 1h0m1 2h0m1-2h0m0 3h0m0-5h0m1 5h0m1-3h0m0-1h0m1 3h0m0-4h0m3 0h0m0 2h0m1-1h0m1 3h0m0-1h0m1 1h0m0-1h0m1 0h0m1-1h0m0 2h0m3-1h0m0 2h0m0-5h0m0 4h0m1-2h0m0 2h0m1-2h0m0 2h0m1-4h0m1 0h0m1 2h0m0-1h0m1 4h0m0-3h0m1-2h0m0 5h0m2-4h0m1 4h0m2 0h0m1-4h0m0-1h0m1 1h0m1 3h0m1-3h0m1-1h0m2 5h0m1-1h0m1-2h0m1 3h0m0 0h0m3-1h0m1-2h0m3-1h0m1 1h0m5-2h0m12 5h0m2-2h0m16 0h0m-172 6h0m0 2h0m10 0h0m1-5h0m5 1h0m2 3h0m2-4h0m11 1h0m2-1h0m0 4h0m4-1h0m3-3h0m1 2h0m0 0h0m0 0h0m1 2h0m0-1h0m1-2h0m0 1h0m1 2h0m0-4h0m0 3h0m0 0h0m2 0h0m0 2h0m0-1h0m0 1h0m1-2h0m1-1h0m0-1h0m2 0h0m0 4h0m1 0h0m0-3h0m0 2h0m1-2h0m0 0h0m1 0h0m0 0h0m1 0h0m0-2h0m1 0h0m1 3h0m0 1h0m0-1h0m3 1h0m0 1h0m1 0h0m0-4h0m0-1h0m1 1h0m0 2h0m0-2h0m0-1h0m0 0h0m1 3h0m0 0h0m1-1h0m0 0h0m0 1h0m2 1h0m1-4h0m0 2h0m1 1h0m1 1h0m0 0h0m2-3h0m0 3h0m0-3h0m1 2h0m0 1h0m1-3h0m0 4h0m0-1h0m1 1h0m0-1h0m1 1h0m0-3h0m1 3h0m0-2h0m0 0h0m0-1h0m1 3h0m0-2h0m1-3h0m0 4h0m0 1h0m0-2h0m0-3h0m0 3h0m1 0h0m0 0h0m1 2h0m0 0h0m1-5h0m1 0h0m1 4h0m1-3h0m0 4h0m1-2h0m1 0h0m0-1h0m0 1h0m2 2h0m0-3h0m0-2h0m0 1h0m0 3h0m1 1h0m0-2h0m1 0h0m2 1h0m0-3h0m1 3h0m2-3h0m0 3h0m0-4h0m0 1h0m1 0h0m0 4h0m0-3h0m1 1h0m0 2h0m1-3h0m0-1h0m1 3h0m1-4h0m0 0h0m1 3h0m0-1h0m0 0h0m0-1h0m2 3h0m0 0h0m1-4h0m0 0h0m0 0h0m1 1h0m0 2h0m1 1h0m1 0h0m0-2h0m3 0h0m1-2h0m0 0h0m1 4h0m0 1h0m0 0h0m0-2h0m1 2h0m0 0h0m1-3h0m0-1h0m2 0h0m3 4h0m0-2h0m1 2h0m2-3h0m0 3h0m1-2h0m0-2h0m1 1h0m1-2h0m1 1h0m2 4h0m3-3h0m17-1h0m28 1h0m15-2h0m-186 8h0m1-1h0m5 2h0m4 2h0m10-4h0m3 1h0m1 0h0m2 0h0m0 1h0m1-3h0m0 4h0m4-1h0m2 0h0m2-1h0m1 1h0m0 2h0m1 0h0m0-5h0m0 4h0m1-2h0m1 0h0m0 3h0m1-5h0m0 2h0m0 2h0m1-2h0m2 2h0m0 1h0m2-2h0m0-2h0m1 2h0m0-2h0m1 1h0m0-1h0m1 4h0m0-3h0m1 2h0m1 1h0m0-5h0m1 2h0m1 0h0m0 2h0m1-3h0m0 0h0m0 1h0m1 2h0m0-2h0m0 2h0m1-3h0m1 1h0m0 1h0m0-2h0m0 2h0m1 2h0m0-1h0m0-2h0m1 1h0m0-1h0m1-1h0m1 3h0m0-3h0m0 0h0m0 0h0m0 4h0m1-5h0m0 5h0m1-2h0m1 1h0m1-3h0m0 2h0m1 1h0m1-3h0m0 0h0m0 2h0m1 2h0m0 0h0m0 0h0m1-2h0m0-1h0m1 2h0m0 0h0m1-2h0m0 1h0m0-1h0m0-2h0m0 2h0m1-2h0m1 2h0m0-2h0m0 5h0m1-2h0m1 0h0m1-1h0m0-2h0m1 0h0m0 1h0m0 4h0m2-4h0m0 4h0m0-3h0m0 2h0m0-4h0m0 1h0m1-1h0m0 4h0m2 1h0m0-5h0m0 3h0m0 0h0m0-2h0m0 3h0m3 0h0m0 0h0m1 0h0m0-2h0m1 0h0m3 3h0m0-4h0m0 3h0m1 0h0m1-1h0m1-1h0m0 1h0m0 0h0m1-3h0m0 2h0m1 3h0m0-2h0m1-3h0m1 2h0m4 3h0m0-5h0m0 1h0m1 1h0m0 1h0m2 0h0m0-3h0m0 4h0m0-1h0m1-3h0m0 1h0m1 3h0m1 0h0m1-3h0m1 0h0m0 4h0m0 0h0m3-5h0m0 3h0m2 0h0m0-3h0m1 1h0m1 1h0m2-1h0m1-1h0m1 3h0m0 2h0m1-1h0m4-4h0m1 3h0m4-2h0m2 2h0m3 2h0m7 0h0m4 0h0m9-1h0m2-4h0m-151 6h0m4 2h0m5 1h0m2-1h0m2-2h0m7 3h0m1 2h0m0 0h0m1-1h0m3-3h0m1-1h0m2 5h0m1 0h0m0 0h0m1-3h0m0 2h0m0 1h0m0-4h0m0 2h0m1-2h0m0 1h0m2 0h0m0 2h0m1-3h0m1 3h0m1 0h0m0 0h0m1 1h0m0-4h0m1 4h0m0-5h0m0 1h0m1-1h0m0 3h0m1-2h0m0 1h0m2 2h0m1 1h0m0-5h0m0 3h0m1 0h0m0 0h0m1-1h0m1-1h0m0 3h0m0 1h0m0-2h0m1-1h0m1 1h0m0-1h0m0 2h0m0-3h0m2 2h0m1-2h0m0 4h0m1-2h0m0 2h0m0-1h0m1-2h0m0 1h0m0-3h0m0 3h0m0 2h0m1-3h0m0 3h0m1-1h0m0-4h0m0 0h0m1 5h0m1-2h0m1-2h0m1 1h0m1 0h0m0 3h0m0-4h0m0 1h0m1 3h0m1-4h0m0 0h0m1 1h0m0 0h0m1 2h0m0-1h0m0 2h0m0-5h0m1 1h0m0-1h0m3 4h0m1 0h0m1-1h0m1-3h0m0 5h0m0-2h0m1 1h0m0 1h0m0-3h0m0-2h0m0 3h0m1 1h0m0-3h0m1 3h0m0 0h0m0-3h0m0 0h0m0 0h0m1 2h0m0 0h0m1 1h0m1 1h0m0-4h0m0 4h0m0-4h0m1-1h0m0 2h0m0 0h0m1 3h0m1-1h0m0-1h0m0-3h0m0 1h0m0 0h0m1-1h0m0 2h0m1 2h0m0-1h0m1-1h0m0-1h0m1-1h0m0 2h0m1 2h0m0-3h0m1 4h0m0-4h0m0 3h0m1-1h0m0 2h0m1-4h0m0 4h0m1-2h0m0 2h0m0-2h0m1 1h0m1-2h0m1-2h0m1 4h0m1 1h0m0-3h0m1 1h0m1 0h0m1 0h0m1 1h0m0-3h0m2-1h0m0 4h0m0-4h0m2 4h0m0-4h0m2 2h0m0-1h0m0 0h0m1 4h0m0-5h0m2 5h0m3-4h0m1 3h0m1-2h0m0 2h0m1-1h0m0 1h0m1 1h0m2-1h0m3-3h0m3-1h0m0 4h0m1 1h0m0-5h0m1 1h0m4 3h0m1-2h0m0-1h0m2 0h0m1 1h0m9 3h0m11-1h0m1-3h0m15 2h0m-198 6h0m16-3h0m14 1h0m1 4h0m2-4h0m2 3h0m3-1h0m2 0h0m1-2h0m2 4h0m1-2h0m4-1h0m4 3h0m2 0h0m3-3h0m0 2h0m3-3h0m0 1h0m0-1h0m1 2h0m0 2h0m2-5h0m0 2h0m0-2h0m2 0h0m1 2h0m0-2h0m0 1h0m1 0h0m1-1h0m1 5h0m1 0h0m0 0h0m1-1h0m1-3h0m0 0h0m2-1h0m2 2h0m1 3h0m2-4h0m0 3h0m1-2h0m1-2h0m1 5h0m3-2h0m1-1h0m0 3h0m0-1h0m0 1h0m1-3h0m0 3h0m1-2h0m0-1h0m1 2h0m1 1h0m0-4h0m1 2h0m0 0h0m0-3h0m0 4h0m1 1h0m0-1h0m2 1h0m0-3h0m1 0h0m0-2h0m0 1h0m0 2h0m1-1h0m0 2h0m1 1h0m0-5h0m0 4h0m0-3h0m0 1h0m1 1h0m0-2h0m1 0h0m0-1h0m1 3h0m1-2h0m0 4h0m1-5h0m1 1h0m0 2h0m0-3h0m0 4h0m1-4h0m0 1h0m1 2h0m0 0h0m0-1h0m2 2h0m0-2h0m0-2h0m1 3h0m1-3h0m0 1h0m0 1h0m0-1h0m1 2h0m0 1h0m0-1h0m0 1h0m1 1h0m0-3h0m0 2h0m0-4h0m0 0h0m0 5h0m1-1h0m0-3h0m0-1h0m1 1h0m1 2h0m0-3h0m0 5h0m2 0h0m0 0h0m0-1h0m1 1h0m0-2h0m0 1h0m1-1h0m0-3h0m0 4h0m1-4h0m0 4h0m2-3h0m0 3h0m0 0h0m0-3h0m1 3h0m1-4h0m0 1h0m1 3h0m0-4h0m2 0h0m1 3h0m0-2h0m0 2h0m0 1h0m6-1h0m1-2h0m1 2h0m1-2h0m1 4h0m0-4h0m1-1h0m0 0h0m0 2h0m2 2h0m0-2h0m2-2h0m0 4h0m1-2h0m0 1h0m1 2h0m0-5h0m1 2h0m2 2h0m1-2h0m9-2h0m11 5h0m1 0h0m5-2h0m10 1h0m0 1h0m1-4h0m-173 7h0m11 0h0m7 2h0m3 0h0m16 0h0m3 0h0m6-3h0m2 3h0m0 1h0m1-4h0m1 0h0m1 2h0m0 1h0m2-1h0m2-1h0m1 2h0m0-3h0m1 1h0m0-1h0m2 1h0m0 2h0m0-1h0m2 1h0m0 0h0m0-1h0m1 2h0m0-2h0m1 0h0m0 1h0m0-3h0m1 1h0m2 2h0m1-3h0m0 1h0m1 2h0m1-4h0m2 0h0m0 3h0m0 1h0m1-4h0m0 2h0m1-1h0m2 4h0m0-1h0m1-1h0m1 0h0m0-3h0m0 0h0m1 0h0m1 2h0m1 3h0m0-4h0m0 2h0m1-3h0m0 1h0m1 4h0m0-5h0m0 2h0m1-2h0m1 5h0m1-5h0m0 1h0m1-1h0m0 2h0m0 0h0m1 0h0m2-2h0m0 2h0m0 0h0m1 1h0m1 0h0m1-3h0m0 2h0m1 2h0m0-4h0m1 0h0m0 1h0m1 2h0m1 2h0m0-1h0m0 0h0m0-3h0m2 2h0m0-2h0m0-1h0m0 2h0m1 1h0m1 2h0m0-3h0m1 0h0m1-2h0m1 3h0m1-2h0m1 0h0m0-1h0m1 0h0m0 3h0m1 1h0m1 1h0m0-4h0m0 4h0m1-5h0m0 4h0m1-3h0m1 3h0m0 0h0m1-1h0m0-3h0m1 2h0m0 2h0m1-1h0m1-2h0m1 4h0m2-5h0m0 2h0m0-2h0m3 3h0m0-2h0m0 2h0m0 0h0m1-2h0m0 0h0m1 2h0m1-3h0m1 1h0m1 0h0m0 2h0m1-3h0m0 4h0m1 1h0m3-3h0m1 0h0m1 3h0m2-4h0m1 3h0m1-3h0m1 1h0m3 2h0m5 1h0m6-4h0m6 2h0m6-2h0m10 3h0m-170 2h0m0 3h0m4-3h0m3 3h0m1-2h0m2 2h0m9-1h0m1 2h0m5-4h0m5 1h0m0 3h0m3-3h0m9 2h0m0 0h0m3 0h0m0 1h0m0-4h0m6 0h0m1 1h0m0 3h0m3-4h0m1 3h0m1 2h0m1-5h0m0 1h0m0-1h0m0 3h0m1-1h0m1 0h0m1 3h0m0-2h0m1-3h0m2 2h0m1 0h0m1 3h0m1-1h0m0 0h0m0 0h0m2-1h0m1-2h0m0 2h0m2-2h0m0 1h0m1-1h0m0 1h0m2-1h0m0 3h0m1 0h0m1-3h0m1 1h0m1 0h0m0 1h0m1 1h0m0 1h0m0-5h0m1 4h0m1-1h0m2-1h0m1 3h0m0-3h0m1 0h0m0 2h0m0 0h0m1 1h0m0-2h0m0-3h0m1 4h0m0 1h0m1-3h0m1 0h0m0 3h0m0-1h0m0-2h0m1 0h0m0 3h0m0 0h0m0-5h0m1 5h0m0-1h0m1-4h0m0 4h0m1 1h0m2 0h0m1 0h0m1-1h0m0-1h0m1 1h0m0-3h0m0-1h0m1 1h0m0 0h0m0 4h0m0-4h0m2 3h0m1-3h0m0 3h0m1 0h0m1-1h0m0-2h0m0-1h0m1 4h0m1-2h0m0 0h0m0-2h0m2 3h0m3 1h0m0 0h0m1-2h0m1-2h0m3 3h0m0-2h0m1 2h0m1 0h0m1-3h0m2 4h0m0-1h0m1 2h0m1-2h0m1 2h0m2-2h0m2 2h0m2-5h0m6 1h0m1 0h0m1-1h0m2 0h0m3 5h0m0-5h0m1 1h0m8-1h0m1 5h0m10-2h0m5 0h0m1 2h0m9-5h0m-182 6h0m15 2h0m2-2h0m9 5h0m3-3h0m5 2h0m0-3h0m6 1h0m3 2h0m0-4h0m1 3h0m1 0h0m3-3h0m5 3h0m2-1h0m2 0h0m1 3h0m1 0h0m1 0h0m2-4h0m2 0h0m1 3h0m0-3h0m1 4h0m2-4h0m0 1h0m0 2h0m2-4h0m1 5h0m0-1h0m2 0h0m1-2h0m0 0h0m0 2h0m1 0h0m0-2h0m3-2h0m1 4h0m0-4h0m2 0h0m0 3h0m0-1h0m1 1h0m0-2h0m1 0h0m0-1h0m1 2h0m0 3h0m2-5h0m1 4h0m1-4h0m2 5h0m3-4h0m1 4h0m0-4h0m0 1h0m1-1h0m0 3h0m2-3h0m0 0h0m1 4h0m1-3h0m1 1h0m0 2h0m1-4h0m1 2h0m1 1h0m1-4h0m0 2h0m1-1h0m0 0h0m0 4h0m1 0h0m1-1h0m2-4h0m1 1h0m0 2h0m0-3h0m1 5h0m0-4h0m1-1h0m0 2h0m1-2h0m0 2h0m0-1h0m1 3h0m0-4h0m2 5h0m1 0h0m1-2h0m1-2h0m0 0h0m2 2h0m3 2h0m1-1h0m0-4h0m2 0h0m1 3h0m1-1h0m0-1h0m1-1h0m0 0h0m1 3h0m2 2h0m1 0h0m1-5h0m0 5h0m3-4h0m4 3h0m2 1h0m3-3h0m4-1h0m1 3h0m1-1h0m1 0h0m25-2h0m-174 5h0m12 2h0m1 3h0m18-4h0m2 0h0m2-1h0m4 2h0m4-2h0m1 3h0m2-3h0m0 3h0m1 2h0m1-4h0m2 2h0m1-2h0m2 2h0m1-2h0m1 2h0m0-2h0m4 4h0m1-2h0m4 1h0m1 0h0m1-2h0m1 2h0m1-2h0m1 3h0m0-5h0m0 1h0m3-1h0m1 1h0m1-1h0m0 0h0m0 2h0m2-2h0m0 2h0m3 2h0m2-4h0m0 3h0m0-1h0m4 1h0m0 1h0m2-2h0m2-2h0m0 5h0m1-5h0m0 2h0m0 0h0m3-1h0m0 0h0m2 2h0m0 2h0m1-4h0m1-1h0m3 4h0m1 1h0m0-4h0m2 4h0m1-1h0m1-3h0m0 2h0m1 2h0m0-3h0m1 1h0m0 2h0m0-1h0m0 0h0m3 1h0m1-2h0m0-2h0m2 2h0m2-3h0m2 5h0m2-3h0m0 0h0m1 2h0m5 0h0m0-4h0m0 3h0m1 0h0m3-1h0m12 2h0m13-2h0m18 1h0m-167 8h0m11-3h0m4-1h0m9 0h0m14 0h0m3-1h0m3 2h0m7-2h0m0 4h0m1-2h0m2-1h0m3 2h0m4 0h0m1-1h0m1 1h0m2 0h0m0-1h0m0 2h0m1-3h0m2 3h0m2-4h0m0 1h0m3-1h0m1 5h0m4-4h0m0 0h0m1 1h0m0 1h0m0-3h0m1 1h0m3 0h0m1 3h0m1-3h0m1 0h0m0 3h0m1 1h0m1-3h0m1-2h0m1 0h0m1 4h0m1-1h0m1 0h0m0 2h0m0-5h0m5 0h0m1 1h0m0 0h0m1 2h0m4 0h0m1 2h0m2-4h0m0 2h0m4-3h0m0 2h0m3-2h0m1 2h0m2 1h0m4-3h0m4 0h0m1 2h0m1 3h0m3-1h0m10 0h0m6-1h0m0 2h0m14-4h0m-151 5h0m11 1h0m1 1h0m2 0h0m6 0h0m1-1h0m9 1h0m0-1h0m2 0h0m0 0h0m0 1h0m2-2h0m1 4h0m3 1h0m2-1h0m0-4h0m0 2h0m3 2h0m4 0h0m0 0h0m4 0h0m2-4h0m2 3h0m1-1h0m0 0h0m0-1h0m2 4h0m1-5h0m0 0h0m1 1h0m0 2h0m0-1h0m2 3h0m1-1h0m1-4h0m1 1h0m0 1h0m1-1h0m1 3h0m1 1h0m0-4h0m2 1h0m0-1h0m2-1h0m0 4h0m1-1h0m1-1h0m0 0h0m2 1h0m0-2h0m1 4h0m1-2h0m3-3h0m0 3h0m1-1h0m5 1h0m2 1h0m0-2h0m0 0h0m5-2h0m0 1h0m9 0h0m0 0h0m5 2h0m0-3h0m2 0h0m2 5h0m3-3h0m4 3h0m1-5h0m1 4h0m0 1h0m12-4h0m1 2h0m-175 8h0m45-2h0m23-3h0m3 3h0m4-2h0m1 4h0m3-2h0m6 2h0m0-5h0m1 5h0m4-1h0m1-1h0m0 0h0m3 2h0m2-2h0m1-2h0m1 1h0m3-2h0m1 4h0m1-4h0m3 0h0m0 4h0m1-2h0m1 1h0m0 1h0m2 1h0m1 0h0m3-5h0m0 4h0m3-4h0m0 2h0m0 0h0m4 2h0m0-2h0m1-2h0m1 1h0m0 1h0m0 3h0m1-1h0m4-4h0m4 3h0m5 1h0m2 0h0m15-1h0m3 1h0m7 1h0m2-3h0m-137 7h0m28-1h0m2 1h0m3-1h0m0-2h0m3 2h0m9 0h0m4-1h0m15 1h0m4-1h0m0 1h0m0-2h0m1 3h0m3 1h0m0-3h0m1 3h0m1-2h0m9-1h0m1 1h0m2-1h0m7-1h0m2 0h0m1 1h0m2-1h0m2 2h0m0 1h0m1 0h0m1-2h0m3 2h0m5-1h0m1 3h0m5-3h0m2-1h0m3 1h0m12-1h0m6 3h0m38-4h0m-169 9h0m17-1h0m22 2h0m8-3h0m6 4h0m4-1h0m3-4h0m0 1h0m3 3h0m1-4h0m5 5h0m6-1h0m9 1h0m12-3h0m2 3h0m5-5h0m4 5h0m5-4h0m-107 9h0m2-3h0m6-1h0m21 2h0m27 3h0m6 0h0m7-5h0m6 2h0m4 3h0m6-2h0m8-3h0m3 2h0m1 0h0m10-2h0m0 3h0m15 0h0m3-3h0m2 2h0m13 3h0m-131 4h0m8-2h0m12 4h0m2 0h0m33-5h0m1 0h0m13 4h0m1-1h0m7-3h0m6 4h0m8-2h0m-84 4h0m16 5h0m28-2h0m12 0h0m4-3h0m4 5h0m24-3h0m-101 8h0m68-3h0m29-1h0m14 3h0m-68 3h0m5 2h0m27-2h0m11 0h0m34 3h0m-60 9h0m16 2h0" stroke="#2c2cf2" stroke-width="1.4" stroke-linecap="round" fill="none"/>
<ellipse cx="157" cy="794" rx="19.0" ry="17.099999999999998" fill="#2a2af0" filter="url(#fb)"/>
<path d="M140.0 781.9 C145.0 775.6 167.0 775.6 173.0 782.8 C175.0 790 163.0 802.6 157 803.5 C149.0 802.6 137 790 140.0 781.9Z" fill="#2a50f0" filter="url(#fb)"/>
<ellipse cx="158.0" cy="790" rx="14.399999999999999" ry="11.16" fill="url(#jet)"/>
<path transform="scale(.5)" d="M388 1523h0m-12 10h0m0 3h0m3 4h0m12-1h0m12 2h0m11 0h0m-50 6h0m8-3h0m16-1h0m1 2h0m0-1h0m5 0h0m2 0h0m-31 8h0m1 0h0m8-1h0m2 0h0m2 2h0m3-1h0m0 0h0m1-1h0m7-1h0m2-2h0m1 0h0m7 5h0m20-3h0m9-2h0m-70 6h0m13 5h0m4-4h0m2 1h0m5 0h0m0 0h0m0 1h0m1 2h0m4-2h0m2 2h0m0-4h0m2 1h0m1 2h0m1 0h0m3-1h0m7 0h0m6 1h0m-49 2h0m5 4h0m2-1h0m5 2h0m0-4h0m1 4h0m3-3h0m0-2h0m0 5h0m2-3h0m2-2h0m2 1h0m1 2h0m2 0h0m2-1h0m1 0h0m0 2h0m2 0h0m2 0h0m3-1h0m1 1h0m2 0h0m2-4h0m0 3h0m1-1h0m0-1h0m2 0h0m2 1h0m1-2h0m5 4h0m1-2h0m15 3h0m-67 4h0m3-3h0m7 1h0m2 3h0m1-2h0m2 2h0m0-4h0m1 3h0m2 1h0m3-1h0m0 2h0m1-1h0m1-3h0m2 4h0m3-4h0m0 1h0m3 3h0m0-4h0m1 1h0m1 3h0m1 0h0m1-4h0m0 4h0m0-3h0m1 2h0m2-3h0m1 3h0m0-2h0m1 2h0m1-2h0m0 0h0m7-2h0m0 4h0m24-4h0m-62 11h0m0-5h0m2 0h0m2 5h0m3 0h0m2 0h0m0-4h0m2 4h0m3 0h0m1-2h0m0-1h0m0 0h0m3 3h0m0-2h0m2-1h0m0 1h0m1 2h0m0-4h0m1-1h0m2 3h0m2 1h0m1 1h0m1 0h0m0-2h0m1-1h0m0 0h0m2 1h0m1-2h0m1 4h0m2-5h0m0 0h0m0 5h0m1 0h0m4-1h0m0-2h0m5 2h0m0 0h0m1-2h0m7 3h0m-59 3h0m4-1h0m1 0h0m2 3h0m2-1h0m1 2h0m2-5h0m0 4h0m1-2h0m0 3h0m0-1h0m0 0h0m1-3h0m0 2h0m2 2h0m0-3h0m1 1h0m0 2h0m1 0h0m1-4h0m0 4h0m1-1h0m2-1h0m0 1h0m2-3h0m0 1h0m0 1h0m1 2h0m1-2h0m0 0h0m1 2h0m2-4h0m1 3h0m0 0h0m0-4h0m2 4h0m4-3h0m0 2h0m1 1h0m3-4h0m3 2h0m3 0h0m1 3h0m0-4h0m3 0h0m1-1h0m2 3h0m7 0h0m3 0h0m0 1h0m-82 3h0m3 3h0m14-4h0m3 4h0m1-3h0m4 0h0m2 4h0m3-1h0m0-4h0m0 0h0m0 5h0m1-5h0m1 3h0m0 1h0m2 1h0m0-4h0m0 1h0m2 3h0m1-5h0m3 0h0m0 5h0m1-3h0m3 0h0m2 1h0m3-1h0m1 3h0m1-2h0m0 2h0m2-1h0m0 1h0m1-1h0m1 0h0m0-2h0m1 2h0m1-3h0m0-1h0m1 1h0m1-1h0m1 0h0m2 2h0m1 0h0m2 2h0m3 0h0m1-2h0m1 3h0m4 0h0m4-5h0m4 5h0m-75 3h0m8 1h0m4-3h0m11 5h0m1-5h0m1 3h0m1 1h0m1-3h0m0 2h0m1 2h0m1-3h0m1-1h0m0 3h0m2 0h0m1-4h0m1 2h0m0 0h0m3 2h0m0 0h0m0 1h0m1-5h0m1 0h0m0 5h0m0-3h0m2 3h0m0 0h0m0-2h0m2 2h0m3-3h0m2 0h0m0-2h0m3 5h0m2 0h0m0-3h0m2 1h0m0 1h0m2-3h0m2 2h0m2 0h0m1-2h0m1 4h0m0-2h0m0-3h0m1 4h0m14 0h0m-65 3h0m3 3h0m3 1h0m0-4h0m2 1h0m0 3h0m1-4h0m2-1h0m1 4h0m2-3h0m0 4h0m2-3h0m1-2h0m1 2h0m1-2h0m1 3h0m1-1h0m1 3h0m0 0h0m1-2h0m1 2h0m0-4h0m2 4h0m1-3h0m0-2h0m1 2h0m0 3h0m3-4h0m2 0h0m2 1h0m1 1h0m0 2h0m0 0h0m0-5h0m1 5h0m0-5h0m1 4h0m5-2h0m0-2h0m1 0h0m3 2h0m0 3h0m0-1h0m2 1h0m-50 6h0m1-3h0m2 0h0m3-1h0m2 2h0m0 1h0m2-3h0m1 4h0m1-5h0m5 0h0m2 0h0m3 1h0m1-1h0m1 1h0m0 4h0m2-1h0m3 0h0m1-2h0m1 3h0m4-3h0m0 2h0m2 1h0m0 0h0m1-2h0m0-3h0m1 3h0m0-2h0m4 2h0m1 0h0m5-3h0m1 2h0m4-1h0m9 0h0m-89 7h0m24-1h0m4 0h0m2 1h0m5-2h0m2 2h0m7 0h0m2 3h0m0-2h0m1 1h0m2 1h0m0-3h0m2 3h0m1-1h0m3-2h0m0 0h0m2 0h0m1-1h0m0 2h0m1 2h0m3-1h0m0-3h0m3 0h0m1-1h0m8 0h0m5 0h0m5 3h0m-64 3h0m10 2h0m1 0h0m0-2h0m12 2h0m0 1h0m3 1h0m1-4h0m1 5h0m3-2h0m2-2h0m3 1h0m0 2h0m0-1h0m1-1h0m1 2h0m0-4h0m5 0h0m5 0h0m2 1h0m0 0h0m1 2h0m2-3h0m16 5h0m-53 5h0m7-3h0m3 0h0m0 3h0m3 0h0m5-4h0m0 3h0m0 0h0m4-2h0m3 2h0m5-1h0m9-2h0m8 1h0m11 4h0m-56 1h0m10 5h0m9 0h0m1-5h0m4 0h0m5 4h0m10-1h0m9 1h0m-51 2h0m3 4h0m22-2h0m17-1h0m1 8h0m-4 5h0m-17 7h0" stroke="#3a3af2" stroke-width="1.2" stroke-linecap="round" fill="none"/>
<path transform="scale(.5)" d="M390 1550h0m1 13h0m4 2h0m1-3h0m1-1h0m-16 10h0m3-5h0m1 3h0m2 1h0m1-3h0m2 4h0m0 0h0m1 0h0m1-3h0m0 2h0m2-2h0m2 3h0m8 0h0m-28 6h0m3-2h0m2-3h0m1 2h0m0 1h0m1 1h0m1 0h0m1-1h0m1 0h0m1-1h0m0 1h0m0-2h0m1 2h0m0 0h0m0 1h0m0 1h0m1 0h0m0-3h0m0 3h0m0 0h0m3-2h0m0-3h0m1 3h0m1 1h0m0 0h0m0 0h0m1 1h0m1-2h0m1-3h0m0 5h0m4-1h0m3 1h0m-28 6h0m2-1h0m0 1h0m2-1h0m2 1h0m0-3h0m0 3h0m1-3h0m1 3h0m0 0h0m1-4h0m0 0h0m0 1h0m1 2h0m0-3h0m1 1h0m0 1h0m1 2h0m0-3h0m0 1h0m0-3h0m1 1h0m0 2h0m0-1h0m0-1h0m1 1h0m0 2h0m1-3h0m1 2h0m1 1h0m1 0h0m0-2h0m0-1h0m0 4h0m0-4h0m1 4h0m2 0h0m1-2h0m1 0h0m0-2h0m1 1h0m0 3h0m2-1h0m1-3h0m0 0h0m1-1h0m1 1h0m-32 9h0m2 0h0m1-2h0m2 1h0m3-2h0m1 3h0m1-3h0m2 0h0m0 4h0m1 0h0m1-5h0m0 4h0m0 0h0m1-4h0m0 0h0m1 1h0m0 3h0m0 1h0m0 0h0m0-2h0m1 2h0m1-5h0m0 4h0m1 1h0m0-2h0m1 0h0m1 1h0m0-3h0m0-1h0m0 3h0m0-1h0m0 2h0m1 1h0m0-5h0m0 1h0m0 2h0m0-2h0m1 1h0m0 2h0m0-2h0m1 2h0m0-3h0m1 4h0m0-2h0m1 1h0m0-4h0m0 1h0m1 0h0m3 2h0m0-3h0m2 1h0m0-1h0m1 1h0m5-1h0m-37 8h0m3-2h0m5 1h0m1 0h0m1 3h0m1 1h0m3-2h0m0-1h0m0 0h0m0 2h0m1-4h0m0 1h0m0 0h0m1-1h0m1 5h0m0-2h0m0-2h0m0 1h0m1 0h0m0-2h0m0 5h0m1-1h0m0-3h0m1 1h0m0-1h0m1 2h0m0 0h0m1-3h0m0 0h0m0 0h0m1 4h0m1-1h0m2-3h0m1 2h0m0 0h0m2-1h0m4 1h0m-32 7h0m2-1h0m5-1h0m1 1h0m1 3h0m0-2h0m3-1h0m1 0h0m1 2h0m0 1h0m0-1h0m0-2h0m1 1h0m1-3h0m0 5h0m1-3h0m1-2h0m0 0h0m0 2h0m0 3h0m2-5h0m1 4h0m2 0h0m2-1h0m14-3h0m-38 7h0m8 1h0m3 3h0m1-5h0m1 2h0m2-2h0m0 4h0m8-1h0m-19 3h0m5 1h0m8-1h0m12 2h0" stroke="#3030f0" stroke-width="1.6" stroke-linecap="round" fill="none"/>
</g>
<rect x="173.40" y="759.40" width="46.10" height="29.80" fill="none" stroke="#444" stroke-width="0.7"/>
<text x="196.4" y="764.4" font-size="3.3" text-anchor="middle" fill="#444">Senescent EC</text>
<text x="196.4" y="768.4" font-size="3.3" text-anchor="middle" fill="#444">0.57</text>
<text x="141.8" y="749.8" font-size="9.7" fill="#111">Chow</text>
<line x1="136.50" y1="740.00" x2="138.00" y2="740.00" stroke="#444" stroke-width="0.5"/>
<text x="135.5" y="741.2" font-size="3" text-anchor="end" fill="#444">10</text>
<line x1="136.50" y1="755.50" x2="138.00" y2="755.50" stroke="#444" stroke-width="0.5"/>
<text x="135.5" y="756.7" font-size="3" text-anchor="end" fill="#444">10</text>
<line x1="136.50" y1="771.00" x2="138.00" y2="771.00" stroke="#444" stroke-width="0.5"/>
<text x="135.5" y="772.2" font-size="3" text-anchor="end" fill="#444">10</text>
<line x1="136.50" y1="786.50" x2="138.00" y2="786.50" stroke="#444" stroke-width="0.5"/>
<text x="135.5" y="787.7" font-size="3" text-anchor="end" fill="#444">10</text>
<line x1="136.50" y1="802.00" x2="138.00" y2="802.00" stroke="#444" stroke-width="0.5"/>
<text x="135.5" y="803.2" font-size="3" text-anchor="end" fill="#444">10</text>
<line x1="136.50" y1="817.50" x2="138.00" y2="817.50" stroke="#444" stroke-width="0.5"/>
<text x="135.5" y="818.7" font-size="3" text-anchor="end" fill="#444">10</text>
<line x1="144.00" y1="821.60" x2="144.00" y2="823.10" stroke="#444" stroke-width="0.5"/>
<text x="144.0" y="826.6" font-size="3" text-anchor="middle" fill="#444">0</text>
<line x1="170.00" y1="821.60" x2="170.00" y2="823.10" stroke="#444" stroke-width="0.5"/>
<text x="170.0" y="826.6" font-size="3" text-anchor="middle" fill="#444">10</text>
<line x1="186.00" y1="821.60" x2="186.00" y2="823.10" stroke="#444" stroke-width="0.5"/>
<text x="186.0" y="826.6" font-size="3" text-anchor="middle" fill="#444">10</text>
<line x1="202.00" y1="821.60" x2="202.00" y2="823.10" stroke="#444" stroke-width="0.5"/>
<text x="202.0" y="826.6" font-size="3" text-anchor="middle" fill="#444">10</text>
<line x1="218.00" y1="821.60" x2="218.00" y2="823.10" stroke="#444" stroke-width="0.5"/>
<text x="218.0" y="826.6" font-size="3" text-anchor="middle" fill="#444">10</text>
<text x="179.6" y="834.6" font-size="3.3" text-anchor="middle" fill="#444">Comp-FL2-A :: PE-A</text>
<text x="131.5" y="779.8" font-size="3.3" text-anchor="middle" fill="#444" transform="rotate(-90 131.5 779.8)">Comp-FL1-A :: Alexa Fluor 488-A</text>
<rect x="135.50" y="809.60" width="1.80" height="1.80" fill="#111"/>
<rect x="143.00" y="821.60" width="1.50" height="1.50" fill="#111"/>
<rect x="242.50" y="738.40" width="83.20" height="83.60" fill="#ffffff" stroke="#666" stroke-width="0.7"/>
<g clip-path="url(#cn3)">
<path transform="scale(.5)" d="M549 1468h0m-32 6h0m9 2h0m-13 13h0m13 1h0m15 3h0m-38 3h0m63 2h0m16-2h0m-87 5h0m15 3h0m14-2h0m17 3h0m-61 2h0m4-1h0m1 3h0m1 0h0m20 0h0m3 1h0m2 1h0m2-4h0m2 3h0m7-2h0m20 1h0m13-3h0m20 4h0m-103 6h0m14-4h0m3 4h0m1-1h0m13-2h0m11 2h0m1-2h0m22-1h0m11 5h0m0 0h0m7 0h0m7-2h0m14-2h0m-137 5h0m22 0h0m18 5h0m3-4h0m31 0h0m6 1h0m2 0h0m5 2h0m1 1h0m3-1h0m8-2h0m12 1h0m28 2h0m5 0h0m9 0h0m-153 1h0m2 3h0m3-2h0m28 2h0m2-1h0m1-2h0m2 5h0m2-2h0m7-3h0m7 4h0m3-2h0m1 1h0m2 2h0m6-5h0m2 2h0m1-2h0m2 0h0m1 5h0m2-2h0m4-1h0m0-2h0m6 2h0m1 0h0m6 0h0m2 0h0m0 3h0m0-4h0m3 3h0m5-2h0m0-2h0m2 1h0m2 4h0m1 0h0m1-3h0m15 0h0m6 1h0m15-3h0m31 4h0m-160 5h0m0 1h0m9-2h0m14 3h0m2-4h0m1 4h0m1-5h0m3 0h0m7 4h0m2-1h0m1 2h0m2-5h0m0 3h0m1 2h0m3-2h0m4-2h0m1 1h0m1-2h0m0 1h0m1 3h0m5-4h0m0 0h0m2 2h0m4 2h0m0 1h0m1 0h0m0 0h0m5-4h0m3 0h0m0 2h0m4-3h0m1 0h0m12 5h0m1-4h0m2 2h0m3 1h0m1-3h0m5 3h0m7-3h0m4 2h0m4-1h0m4 2h0m20-4h0m1 5h0m-153 4h0m26-2h0m14 3h0m0 1h0m8-2h0m1-3h0m2 3h0m0-1h0m6 3h0m1-5h0m1 2h0m2 3h0m1 0h0m5-1h0m4-4h0m2 0h0m0 1h0m2 0h0m0 2h0m2 2h0m0 0h0m1-4h0m2 0h0m3 1h0m0 1h0m0-1h0m2 3h0m1-3h0m1 1h0m0-1h0m0 3h0m0-1h0m1-2h0m1 1h0m0-1h0m1 2h0m2 0h0m3-1h0m0-1h0m1 3h0m2-3h0m1 3h0m1 0h0m2 0h0m6-4h0m10 1h0m0 1h0m22 0h0m-142 7h0m6-1h0m12-3h0m6 4h0m3 1h0m4-4h0m5 2h0m2 2h0m6-4h0m2 0h0m0 4h0m2-2h0m0-3h0m4 0h0m1 3h0m3-1h0m0 2h0m2-2h0m1 0h0m1 3h0m2-5h0m0 0h0m2 3h0m1 2h0m0-1h0m0 1h0m3-2h0m0 0h0m3 2h0m1-2h0m0-3h0m1 5h0m1-4h0m0 2h0m0 0h0m3-3h0m4 2h0m0 3h0m1-1h0m2 0h0m0-2h0m2-2h0m2 3h0m0 0h0m1 1h0m1-4h0m6 4h0m0-2h0m0 0h0m2-2h0m1 3h0m2 0h0m0-1h0m2 3h0m0-3h0m2 3h0m1-5h0m1 0h0m1 5h0m5-5h0m2 5h0m0-3h0m0 3h0m11-1h0m4 1h0m5-5h0m4 5h0m7 0h0m12 0h0m4-3h0m29-1h0m-174 8h0m2-3h0m0 2h0m1 3h0m7-4h0m1 0h0m0 0h0m2 0h0m1 0h0m2-1h0m5 2h0m3 3h0m4-5h0m2 0h0m4 0h0m1 1h0m2 4h0m0-1h0m0 1h0m3-5h0m0 3h0m1 1h0m0 0h0m0-2h0m1 0h0m0 0h0m3 1h0m1 1h0m0 1h0m0-5h0m0 4h0m1 1h0m1-2h0m0-2h0m0 3h0m0 0h0m0 0h0m0 1h0m1-1h0m1-4h0m1 3h0m0 2h0m1-1h0m1-2h0m3 2h0m0-3h0m1 4h0m0-1h0m3 0h0m1-2h0m1-1h0m0 3h0m0-2h0m1-1h0m0 1h0m2-1h0m1 1h0m0 3h0m3-2h0m1-1h0m2 0h0m1 0h0m0 0h0m3 2h0m1-4h0m0 2h0m1-1h0m1-1h0m2 0h0m1 0h0m0 1h0m2 0h0m0 3h0m0 1h0m0-2h0m3 1h0m1 1h0m1-2h0m1-1h0m0 3h0m0-3h0m6 2h0m0 1h0m1-5h0m0 4h0m2-3h0m2 1h0m0 2h0m3 1h0m0-2h0m0 2h0m3-4h0m4 4h0m2-2h0m3-1h0m1 3h0m2-2h0m1 2h0m8-4h0m0 2h0m0-3h0m0 1h0m1 2h0m6 2h0m8-2h0m2-2h0m-178 6h0m26 1h0m9-1h0m1 0h0m5 1h0m0-2h0m1 0h0m6 3h0m2-1h0m0-2h0m1 2h0m2 3h0m1-2h0m1 2h0m1-1h0m1-1h0m0-3h0m3 4h0m0-2h0m1 1h0m2-1h0m3 3h0m1-1h0m0-1h0m0-3h0m2 2h0m2 2h0m2 1h0m1-1h0m0 0h0m1 1h0m1 0h0m3-4h0m0 2h0m1-2h0m1 2h0m0 1h0m2 1h0m0-4h0m1 0h0m2 3h0m0-2h0m2 3h0m1-4h0m1 3h0m0-2h0m0 3h0m1 0h0m1-1h0m2-4h0m1 4h0m1-4h0m0 3h0m0-1h0m1 2h0m0 0h0m2-3h0m0 1h0m1 3h0m0-2h0m2-1h0m1-1h0m0 2h0m0 0h0m0 2h0m1-4h0m1 4h0m0 0h0m0-4h0m1 0h0m1 3h0m1 1h0m1 0h0m1-2h0m2 1h0m0-4h0m0 1h0m1 1h0m0-1h0m1 3h0m0 1h0m0-1h0m2 0h0m2 1h0m0-1h0m0-1h0m1 1h0m0-3h0m1 2h0m0 1h0m0-2h0m1-2h0m2 0h0m0 0h0m0 3h0m2 0h0m2 0h0m1-1h0m2-1h0m1 4h0m2-3h0m0-2h0m0 3h0m5 2h0m2-2h0m2-1h0m2-1h0m1 0h0m4 1h0m1-2h0m0 4h0m4 0h0m12-2h0m10 3h0m14-1h0m-176 3h0m4 0h0m8 2h0m8-1h0m2 1h0m2 2h0m4-4h0m2 0h0m1 1h0m0 0h0m7-2h0m2 2h0m1-1h0m4 0h0m1 1h0m0 1h0m2 0h0m2 0h0m0 1h0m2-3h0m0 1h0m1 1h0m0 0h0m3 2h0m0-5h0m0 2h0m0 1h0m3-3h0m0 1h0m0-1h0m0 5h0m2 0h0m2-4h0m1 0h0m1 2h0m0 0h0m0-1h0m1-2h0m1 5h0m0 0h0m1-3h0m0-1h0m1 1h0m0 0h0m0-2h0m0 4h0m1-3h0m0 4h0m2 0h0m0-1h0m0-2h0m0-1h0m1 4h0m0-3h0m0 3h0m1 0h0m0-2h0m0 0h0m0 1h0m0 1h0m1 0h0m1-3h0m0 0h0m0 0h0m0-1h0m1-1h0m0 2h0m1 0h0m2 1h0m1 2h0m0-1h0m0-1h0m0 2h0m0-1h0m0-3h0m0 2h0m0 1h0m1-2h0m0 0h0m1 1h0m0 2h0m1-5h0m0 0h0m1 1h0m0 1h0m0 1h0m1 2h0m0-4h0m0-1h0m1 4h0m0-1h0m2 2h0m0-3h0m1 1h0m0-3h0m1 3h0m0 0h0m1 2h0m1-3h0m0 2h0m2-2h0m0 1h0m0 1h0m1-4h0m1 5h0m0-4h0m2 2h0m1 2h0m0-3h0m1-1h0m0 3h0m1-4h0m0 5h0m2-1h0m0-1h0m0 1h0m1-4h0m1 5h0m0-5h0m1 1h0m0 2h0m0 2h0m0-2h0m1-3h0m0 4h0m0-4h0m0 1h0m1 4h0m0-1h0m3-1h0m0-2h0m2 2h0m2-3h0m0 2h0m0-2h0m1 5h0m0-3h0m1 0h0m6 1h0m1 1h0m2 0h0m1 0h0m5-3h0m2 3h0m12-4h0m1 4h0m4-3h0m9-1h0m3 5h0m1-1h0m-195 4h0m24 2h0m11 1h0m14-5h0m0 1h0m2 0h0m3 3h0m1-4h0m0 4h0m1-2h0m4 2h0m3 1h0m3 0h0m1-2h0m1-1h0m0 2h0m0-1h0m1-3h0m3 5h0m0-4h0m0-1h0m2 4h0m1-1h0m1 1h0m2 1h0m0-2h0m2-3h0m0 2h0m1-1h0m0 0h0m0 3h0m0-1h0m1-3h0m0 4h0m2-3h0m1 3h0m0-3h0m0-1h0m1 0h0m0 3h0m1-3h0m0 3h0m1 2h0m1-3h0m1 2h0m0 0h0m1-2h0m0-1h0m1 2h0m0-3h0m0 3h0m1-2h0m0 0h0m2 3h0m0-4h0m1 1h0m0 0h0m1 2h0m0-3h0m2 4h0m0-4h0m1 2h0m1 2h0m0 0h0m2 1h0m1-1h0m1-4h0m0 3h0m1 1h0m0-4h0m1 5h0m0-5h0m2 1h0m1 0h0m0 2h0m0 0h0m1 2h0m2-5h0m0 5h0m0-1h0m1 0h0m1-4h0m1 1h0m0 4h0m1-2h0m0-2h0m1 0h0m1 4h0m0-4h0m1 3h0m1-2h0m0 3h0m1-3h0m0 2h0m1-1h0m0 1h0m3-4h0m1 3h0m1 2h0m1 0h0m0-5h0m4 1h0m1 3h0m1 1h0m2-2h0m0 1h0m0-4h0m2 0h0m1 1h0m3 0h0m0 2h0m0 1h0m0 1h0m1 0h0m0-4h0m1 4h0m2-5h0m2 1h0m2 3h0m0-4h0m0 3h0m0 1h0m3-1h0m2 0h0m0 2h0m0-1h0m1-1h0m2-1h0m1-2h0m2 4h0m1-3h0m0-1h0m0 1h0m1-1h0m0 4h0m1-3h0m2 2h0m1 2h0m1 0h0m2-2h0m3-3h0m6 2h0m0 0h0m-163 9h0m21-2h0m2 2h0m1 0h0m2 0h0m3 0h0m2-1h0m6 0h0m0-4h0m2 0h0m1 4h0m1 0h0m4-4h0m0 4h0m3-4h0m2 2h0m1-2h0m1 5h0m3-2h0m1-3h0m4 2h0m1-1h0m1-1h0m1 1h0m1 0h0m0 0h0m0 0h0m1-1h0m1 0h0m1 0h0m1 2h0m0-1h0m0 2h0m1 2h0m1-1h0m1-1h0m0 2h0m0-1h0m1-1h0m0-2h0m1-1h0m0 4h0m2 1h0m0-3h0m0 2h0m2 1h0m0 0h0m0-3h0m0 2h0m1-4h0m1 4h0m1-1h0m2-3h0m0 5h0m0 0h0m1-3h0m2 3h0m0-5h0m0 5h0m0-2h0m0-3h0m1 1h0m1 0h0m0 3h0m0 0h0m2 0h0m1-3h0m0 3h0m0-1h0m1 0h0m0 1h0m1-1h0m0 1h0m0 0h0m1-3h0m1 3h0m0-4h0m1 5h0m0-4h0m0-1h0m0 2h0m0 2h0m1 1h0m0 0h0m0-5h0m1 3h0m0-2h0m1-1h0m0 5h0m0-2h0m0 1h0m0-1h0m0-1h0m1 0h0m0-1h0m0 0h0m1 4h0m0 0h0m0 0h0m1-5h0m0 5h0m0 0h0m0-4h0m0 0h0m1-1h0m0 2h0m0-2h0m0 3h0m1 2h0m1 0h0m1-5h0m0 4h0m1-4h0m0 3h0m1 0h0m1 0h0m0-1h0m2-2h0m0 1h0m0-1h0m3 5h0m0 0h0m1-4h0m0 0h0m1 3h0m0-1h0m1-2h0m0 4h0m1-1h0m1 1h0m0-5h0m1 2h0m1 3h0m1-1h0m0-4h0m1 3h0m0-1h0m0 1h0m0-2h0m2 3h0m1 1h0m0-3h0m1 1h0m1 0h0m0-2h0m2 0h0m3 2h0m1-3h0m0 2h0m1-1h0m1-1h0m2 0h0m0 5h0m0-2h0m4-3h0m0 0h0m4 4h0m0-3h0m2 2h0m0-1h0m2 1h0m2 2h0m1-2h0m1-3h0m4 5h0m0-1h0m2 0h0m0-2h0m1 3h0m5-4h0m2 2h0m8-1h0m11 2h0m-176 6h0m14-3h0m2 4h0m1-1h0m4-2h0m2-1h0m2 0h0m3-1h0m6 1h0m2 3h0m0 0h0m3 1h0m1 0h0m2-1h0m2 1h0m0-4h0m0 4h0m1 0h0m0-2h0m0 1h0m2-3h0m1-1h0m0 5h0m3-5h0m1 4h0m2-2h0m0 1h0m0 2h0m1-3h0m0 2h0m0 1h0m2-3h0m0 3h0m2 0h0m0-3h0m0 1h0m1-1h0m0 1h0m0-3h0m2 5h0m1-4h0m2 3h0m1-2h0m0 0h0m0 2h0m0-1h0m0 1h0m2-4h0m0 1h0m0 4h0m1-1h0m0-2h0m0-2h0m0 4h0m1-3h0m0 0h0m0 2h0m3-1h0m0 1h0m1 0h0m0 2h0m0-2h0m1 2h0m0-5h0m1 2h0m0-1h0m1 4h0m1-2h0m0-3h0m1 3h0m0-1h0m1 3h0m0 0h0m1-3h0m0-2h0m1 4h0m0-3h0m0 2h0m0-3h0m1 4h0m0 0h0m1 1h0m0-5h0m0 3h0m0-1h0m0 2h0m0-3h0m1 3h0m0-1h0m1-3h0m0 4h0m0-3h0m0 3h0m2 0h0m1 0h0m0-4h0m1 2h0m0 3h0m0-4h0m1 0h0m0 1h0m0-2h0m1 5h0m0-4h0m0 4h0m1 0h0m1-3h0m0 2h0m0-3h0m1-1h0m0 2h0m0-2h0m2 4h0m0 1h0m0 0h0m0 0h0m0-5h0m1 1h0m0 1h0m2 3h0m1 0h0m1 0h0m0-2h0m0 2h0m0-3h0m2-2h0m0 2h0m0 2h0m1-4h0m0 0h0m0 3h0m0 0h0m1-2h0m0 4h0m0-3h0m2 0h0m1 3h0m1-3h0m0 1h0m1-2h0m0-1h0m1 2h0m0 0h0m0 0h0m1 2h0m1-1h0m1 1h0m0 1h0m1-4h0m1 0h0m0 0h0m0 0h0m2 1h0m3-2h0m0 3h0m1 1h0m1 1h0m1-4h0m0 4h0m0-3h0m1 2h0m2-1h0m1-2h0m4-1h0m0 1h0m4-1h0m1 2h0m1-1h0m3-1h0m0 2h0m1 1h0m0 1h0m1-4h0m3 1h0m2 1h0m2-1h0m3 4h0m2-3h0m1 2h0m18 1h0m3-5h0m-208 7h0m20 4h0m6-2h0m14-2h0m11-1h0m4 5h0m6-3h0m3 1h0m1 0h0m4 2h0m1 0h0m0-2h0m2 1h0m1 0h0m1-3h0m0-1h0m0 3h0m2 2h0m1-4h0m1 1h0m2-1h0m1 3h0m1-4h0m0 3h0m0 2h0m0 0h0m1-4h0m1 3h0m1-4h0m1 0h0m1 5h0m0 0h0m1 0h0m1-1h0m0-4h0m0 1h0m0 3h0m1-4h0m0 0h0m2 4h0m0-2h0m0 0h0m1 0h0m1 1h0m0-3h0m0 2h0m1-2h0m0 4h0m0 1h0m2-3h0m0-2h0m1 1h0m0 1h0m1 0h0m1 0h0m0-2h0m1 0h0m0 2h0m0-2h0m1 5h0m0-4h0m0 1h0m2 3h0m0-2h0m1-2h0m1-1h0m0 2h0m0-2h0m0 1h0m0 2h0m0 0h0m1 0h0m0-2h0m0 3h0m0-1h0m1 2h0m0 0h0m1-1h0m0-2h0m0 0h0m0 2h0m1-1h0m0 0h0m0 1h0m0 1h0m0-1h0m1-1h0m0 1h0m2 1h0m0-4h0m0 0h0m1 1h0m1-1h0m0 0h0m0-1h0m0 2h0m0-1h0m1 0h0m0-1h0m0 4h0m0-4h0m2 5h0m0-5h0m1 4h0m0 1h0m0-2h0m0 1h0m1 1h0m0-1h0m0-3h0m0 2h0m1 0h0m0 2h0m0-2h0m1-1h0m2 2h0m0-2h0m1-2h0m0 2h0m1 3h0m0-2h0m0 0h0m1 2h0m0-1h0m0-3h0m0 0h0m1 3h0m1 1h0m0-3h0m0 3h0m0-3h0m2 2h0m0-3h0m0 3h0m1 0h0m1-2h0m0-1h0m0 3h0m1-4h0m1 0h0m2 1h0m1 3h0m0 1h0m2-1h0m1-4h0m0 1h0m0 4h0m0-4h0m3 0h0m2-1h0m0 1h0m2 2h0m1-1h0m0 2h0m2-2h0m0 0h0m1 1h0m1-3h0m0 5h0m0-4h0m2 1h0m2-2h0m0 4h0m1-2h0m0 0h0m1 1h0m0 2h0m1-2h0m1 1h0m0-4h0m3 3h0m1-3h0m1 0h0m0 2h0m3 3h0m3-2h0m2-2h0m1-1h0m2 3h0m1 0h0m1-2h0m1 2h0m9 0h0m0 2h0m2-4h0m2 2h0m7 0h0m43 2h0m-220 1h0m4 4h0m9-1h0m4 1h0m9-1h0m1 1h0m0-1h0m0-1h0m1 2h0m4-4h0m1 1h0m0 1h0m1 0h0m1-1h0m1-1h0m4 3h0m1-1h0m3 2h0m1 0h0m0 1h0m2-3h0m1-2h0m1 0h0m1 1h0m2 1h0m1-1h0m1-1h0m0 4h0m1-4h0m3 4h0m0-4h0m1 5h0m0 0h0m0-1h0m2-2h0m0 2h0m2 0h0m0-2h0m0 1h0m1 0h0m0-1h0m0 1h0m1-2h0m1 4h0m0-5h0m1 0h0m0 4h0m1 1h0m0 0h0m1-5h0m0 5h0m0-2h0m0-2h0m1 1h0m0 1h0m1 1h0m1-4h0m0 3h0m0 1h0m1 0h0m0-2h0m0-2h0m0 5h0m1-2h0m0-3h0m0 1h0m0 1h0m0 2h0m1 0h0m0-4h0m0 1h0m0 0h0m1-1h0m0 5h0m0-2h0m0-1h0m0 0h0m0 1h0m1 0h0m0-2h0m0 1h0m1-1h0m1 4h0m1-3h0m0-2h0m0 0h0m1 1h0m0 1h0m0-2h0m1 2h0m0 2h0m0 1h0m0-2h0m1-1h0m0 1h0m0 1h0m1-4h0m0 2h0m0 3h0m0-1h0m1 1h0m1-1h0m0 1h0m0-4h0m1 4h0m0-2h0m1-2h0m0 0h0m0 1h0m1 0h0m0-2h0m0 3h0m0-2h0m1 2h0m1 0h0m1 1h0m0 0h0m0 1h0m0-1h0m0 0h0m0-1h0m1 0h0m0 2h0m0-3h0m0 3h0m0 0h0m1-3h0m1 2h0m1-3h0m0-1h0m0 1h0m0 3h0m0-2h0m0 0h0m1 2h0m0-2h0m0 0h0m1-1h0m0 4h0m0 0h0m1 0h0m0-1h0m0-3h0m0 1h0m1-2h0m0 3h0m0 1h0m0-1h0m1-3h0m0 1h0m1 4h0m0-4h0m1-1h0m1 1h0m0 3h0m0 0h0m0 1h0m1-4h0m0 3h0m0-2h0m1 1h0m0 0h0m1 0h0m1-1h0m1 1h0m0 0h0m0-1h0m1 0h0m1 0h0m0 1h0m1-1h0m0 1h0m1 0h0m0 1h0m0-4h0m0 3h0m1-1h0m0 1h0m0 1h0m1-2h0m0-1h0m1 0h0m0 0h0m1 4h0m1-4h0m0 3h0m0-4h0m0 4h0m0-4h0m1 2h0m0 2h0m2 0h0m0 0h0m0 1h0m1 0h0m1-4h0m0 0h0m0 2h0m1 0h0m0 1h0m2-3h0m1 2h0m0 0h0m0 2h0m1-1h0m1 0h0m0 1h0m1-2h0m0 1h0m0-2h0m0 1h0m0-3h0m2 5h0m2-1h0m1-2h0m0 2h0m1-4h0m2 2h0m0-1h0m3 0h0m0 1h0m2 3h0m1-3h0m1 1h0m2 0h0m6 2h0m3-1h0m1-4h0m3 4h0m2-3h0m3 2h0m-179 7h0m14-2h0m8-2h0m5 1h0m8 0h0m4 2h0m8 1h0m1-2h0m1 0h0m0 0h0m1 2h0m2-4h0m2 1h0m0 1h0m2 0h0m1-1h0m2 3h0m1 1h0m1-4h0m0 2h0m0-1h0m1 3h0m0-4h0m3 2h0m1 1h0m4-2h0m0 1h0m1-3h0m0 3h0m1 1h0m1-2h0m0 0h0m0 3h0m1-1h0m1-3h0m1 1h0m1 0h0m1 0h0m0-2h0m1 0h0m1 5h0m1-4h0m1 1h0m2 3h0m0-2h0m1 0h0m0 1h0m0 0h0m1-2h0m0 1h0m1 0h0m0 0h0m0 1h0m1-2h0m0-2h0m0 2h0m2 2h0m1-3h0m0 1h0m1 0h0m1-1h0m1 4h0m0-4h0m2 3h0m0-3h0m1 3h0m0-4h0m0 3h0m0-3h0m0 5h0m0-3h0m1 1h0m0-2h0m0 0h0m1 4h0m0-1h0m1-3h0m0-1h0m0 3h0m1-1h0m1 2h0m0-4h0m0 2h0m2 3h0m0 0h0m1-3h0m1 3h0m0-4h0m1 0h0m0-1h0m2 5h0m0-4h0m1-1h0m0 3h0m0-2h0m0 0h0m1 0h0m1 1h0m0-2h0m1 5h0m0-4h0m1 2h0m0 2h0m2-3h0m1 2h0m0 1h0m1-5h0m1 1h0m1 4h0m0-2h0m0-2h0m2 3h0m0 1h0m0-4h0m0-1h0m0 1h0m1-1h0m2 2h0m0-1h0m1 0h0m0 4h0m1-3h0m2-1h0m0 1h0m0 0h0m0 3h0m1 0h0m0 0h0m0-4h0m0 1h0m1-1h0m0-1h0m0 1h0m2 2h0m0 0h0m0 0h0m1 0h0m0 0h0m1-2h0m1 2h0m0-1h0m1-2h0m0 0h0m0 2h0m0 2h0m1 1h0m0-4h0m1 0h0m0-1h0m1 2h0m1 1h0m1 0h0m0-2h0m0 4h0m1-4h0m0-1h0m0 0h0m1 2h0m1 1h0m0-3h0m1 3h0m0-2h0m0 4h0m1-3h0m0 3h0m2-2h0m1-1h0m2 1h0m2-3h0m1 3h0m0 0h0m2-1h0m1 1h0m1-3h0m1 5h0m2-5h0m0 5h0m5-4h0m2-1h0m0 1h0m12-1h0m3 1h0m5 0h0m10 3h0m17-3h0m-202 6h0m3 4h0m15-1h0m3 0h0m2-2h0m0-1h0m1 2h0m3 2h0m1-4h0m2 2h0m1-1h0m2 0h0m2 0h0m5 1h0m0 0h0m2-2h0m0 0h0m3-1h0m3 1h0m2-1h0m0 2h0m4 0h0m0 3h0m1 0h0m0-4h0m0 1h0m0 1h0m1-2h0m0 4h0m1-3h0m1 1h0m2 0h0m0 0h0m1 1h0m0-3h0m1 0h0m0 0h0m0 0h0m0 0h0m1-1h0m0 2h0m0 0h0m0 1h0m2-1h0m1 1h0m0 2h0m0-2h0m0-2h0m2 3h0m1-3h0m0-1h0m1 0h0m1 5h0m1-1h0m1-3h0m0-1h0m0 3h0m0-3h0m0 5h0m2-2h0m0 1h0m1-1h0m0-1h0m0 0h0m0 3h0m3-2h0m0 1h0m0 1h0m0-3h0m0-2h0m0 1h0m1 4h0m0-1h0m0-2h0m0-2h0m1 5h0m0-4h0m0 2h0m0 0h0m1 1h0m0-1h0m0 1h0m1 0h0m0-1h0m0 0h0m1-1h0m0 3h0m0-1h0m1-3h0m0 2h0m1 2h0m0-1h0m1-1h0m1 1h0m1-1h0m0-2h0m0 0h0m1 1h0m0 2h0m1 1h0m0-3h0m1 0h0m0-1h0m0 0h0m0 0h0m0 2h0m0-1h0m1 3h0m1-4h0m0 0h0m0 2h0m0-1h0m0 3h0m1 0h0m0-4h0m2 2h0m0-1h0m0 3h0m1-2h0m0-2h0m3 2h0m0-2h0m1 0h0m0-1h0m2 1h0m0 2h0m1-2h0m0-1h0m0 3h0m0 0h0m0-3h0m1 0h0m2 4h0m2 0h0m0 1h0m0 0h0m0-1h0m2-3h0m0 2h0m1-3h0m0 0h0m0 1h0m0 0h0m0 0h0m1 3h0m1 0h0m0 1h0m1-4h0m1 2h0m1 1h0m0-3h0m2 2h0m0-2h0m0 4h0m1 0h0m1-5h0m0 4h0m0 1h0m1-4h0m0 4h0m2-4h0m1-1h0m1 1h0m0 2h0m1-3h0m0 2h0m3-1h0m0 2h0m2-2h0m0-1h0m1 0h0m1 3h0m0-2h0m1 2h0m0-3h0m2 4h0m2 1h0m5-2h0m0-3h0m3 4h0m0-2h0m7 1h0m3-1h0m3-2h0m2 0h0m2 5h0m2-5h0m-152 6h0m2 2h0m4 1h0m3 1h0m0-2h0m5 3h0m2 0h0m1-1h0m0-2h0m0 2h0m7-1h0m0 1h0m3-3h0m1-1h0m0 0h0m1 3h0m0 1h0m2-1h0m1-1h0m1-1h0m0 1h0m2 3h0m2-1h0m1-3h0m0 2h0m0-1h0m2-2h0m1 1h0m2 2h0m2-2h0m1 3h0m0-3h0m2 0h0m0 2h0m0-3h0m1 0h0m0 1h0m3 1h0m1 1h0m0 1h0m2-1h0m1-1h0m0-1h0m1 2h0m0 0h0m0-2h0m0 4h0m1-1h0m1 0h0m1-2h0m0 1h0m2-2h0m0-1h0m2 4h0m0-2h0m1 2h0m0-1h0m1-3h0m0 0h0m1 0h0m0 4h0m0 1h0m1-5h0m0 0h0m2 3h0m2-2h0m1 4h0m0-2h0m0-2h0m0 0h0m1 4h0m0-4h0m0-1h0m1 0h0m1 0h0m1 1h0m0-1h0m1 0h0m0 1h0m0 2h0m0 0h0m1 2h0m0-4h0m1 3h0m0 1h0m1 0h0m0-1h0m0-3h0m0-1h0m0 2h0m0 2h0m1-4h0m0 5h0m0-2h0m0-3h0m1 5h0m0-2h0m1-3h0m0 2h0m2-2h0m0 0h0m1 3h0m0 1h0m1 0h0m1-3h0m0-1h0m0 0h0m0 3h0m1 0h0m0 2h0m2 0h0m0-5h0m0 2h0m1 1h0m0-3h0m1 4h0m0-2h0m2-2h0m0 5h0m0-2h0m1-1h0m0 1h0m1 1h0m0-3h0m1-1h0m2 5h0m0-3h0m1 0h0m0 3h0m2 0h0m0-2h0m1 0h0m0 2h0m0 0h0m1-2h0m0-3h0m0 3h0m0-2h0m1 4h0m0-4h0m2 0h0m0-1h0m1 2h0m2 2h0m0-2h0m2-2h0m0 0h0m2 3h0m1-1h0m0 2h0m0-2h0m3-2h0m1 1h0m2 1h0m1 1h0m2 2h0m3-2h0m0-3h0m3 0h0m2 1h0m0 2h0m1 0h0m0 2h0m1-1h0m2-3h0m0 4h0m6-2h0m3 0h0m8-1h0m5 3h0m9-2h0m9 1h0m-191 2h0m12 0h0m6 2h0m5-2h0m0 3h0m3 1h0m1-2h0m2 1h0m5-2h0m1-1h0m6 2h0m1 2h0m0-4h0m1 0h0m1 4h0m0-4h0m0 0h0m2 1h0m1 4h0m1-4h0m0 0h0m4 3h0m2-3h0m1 1h0m1 2h0m1-1h0m2 0h0m1-1h0m1 3h0m0-5h0m1 3h0m1-1h0m1 2h0m1 0h0m0-1h0m1-1h0m1 2h0m1 1h0m1-3h0m1 0h0m2-1h0m0-1h0m1 2h0m0 0h0m1 0h0m3 0h0m0 3h0m0-2h0m0 0h0m0-1h0m0 3h0m1-5h0m0 1h0m0 0h0m1 3h0m2-1h0m0 1h0m0 1h0m0-2h0m0-1h0m0 2h0m1-3h0m1 1h0m1 3h0m0-3h0m0-2h0m1 1h0m1 3h0m0-4h0m0 5h0m1-3h0m1-1h0m2 1h0m0 2h0m1-1h0m0-3h0m1 2h0m0 0h0m0-2h0m1 5h0m3-4h0m1 4h0m2-3h0m0 1h0m0-1h0m1-2h0m0 2h0m1 1h0m1 2h0m0-3h0m1 2h0m0 0h0m1-3h0m0 2h0m1 1h0m0 0h0m1-4h0m0 0h0m1 2h0m0-2h0m1 0h0m1 3h0m1-1h0m1 2h0m0-3h0m1 4h0m0-1h0m1 0h0m0-3h0m1-1h0m0 5h0m2-1h0m0-2h0m1 3h0m0-5h0m0 1h0m3 0h0m0 2h0m0 1h0m0-3h0m3 0h0m0 4h0m6-4h0m0 3h0m1-2h0m2 2h0m2-1h0m1-2h0m1 3h0m4-3h0m0 1h0m1 1h0m1-3h0m9 1h0m3 2h0m1 0h0m5-3h0m2 3h0m-177 4h0m29 1h0m2 2h0m11 0h0m9 1h0m0 0h0m3-4h0m2 4h0m2-3h0m1 2h0m3-1h0m1 1h0m1-4h0m1 5h0m1-4h0m0 2h0m2-3h0m1 4h0m3-3h0m0 4h0m0-5h0m1 0h0m3 0h0m0 2h0m0 2h0m2-2h0m0-1h0m3 4h0m1-5h0m1 3h0m1-3h0m1 1h0m0 3h0m1-1h0m1 1h0m1 1h0m1-5h0m1 4h0m0-1h0m1 2h0m1-3h0m0 2h0m1 0h0m0-2h0m1 1h0m0-2h0m0 0h0m0 1h0m1 3h0m1-5h0m1 4h0m1-4h0m1 1h0m0 4h0m0-2h0m0-2h0m0 0h0m1 2h0m0-1h0m1 2h0m0-1h0m1 1h0m0 1h0m1 0h0m0-5h0m0 2h0m1 3h0m1-2h0m0 1h0m2-4h0m3 4h0m1-4h0m0 2h0m1-2h0m0 4h0m0 1h0m0-1h0m1-4h0m0 3h0m1 0h0m1 0h0m1 0h0m0-2h0m0 4h0m1-1h0m0-4h0m0 1h0m1-1h0m0 5h0m1 0h0m2-4h0m0-1h0m3 2h0m0 2h0m1-3h0m0 4h0m1-4h0m1 0h0m2 1h0m0 3h0m1-4h0m0 4h0m0 0h0m1-4h0m0 2h0m1-2h0m1 0h0m0-1h0m0 5h0m0-1h0m2-3h0m0 0h0m1 4h0m1 0h0m2-5h0m1 1h0m1 0h0m1-1h0m3 0h0m9 1h0m3 3h0m9-1h0m11-3h0m3 2h0m6 0h0m2 1h0m-148 7h0m7 0h0m1-1h0m3-1h0m7 3h0m0-4h0m1 1h0m2 3h0m1-1h0m0-3h0m4-1h0m2 0h0m1 2h0m2-2h0m0 0h0m2 3h0m0-3h0m0 0h0m1 3h0m2-1h0m1 3h0m2-3h0m0 2h0m0-1h0m1-3h0m1 3h0m2-2h0m1 1h0m1 0h0m0 1h0m0 0h0m2 1h0m0-2h0m2-1h0m4 0h0m1 0h0m0 0h0m0 4h0m1-5h0m1 3h0m0-2h0m1-1h0m2 3h0m0-3h0m0 3h0m3-2h0m1 3h0m0-4h0m2 3h0m1-3h0m0 3h0m0-2h0m0 0h0m0 0h0m1 1h0m1 0h0m1 1h0m0 1h0m0 0h0m2-3h0m0 2h0m1-1h0m0-1h0m2 2h0m0-2h0m0 1h0m2 1h0m1-3h0m4 0h0m1 1h0m0 2h0m0-3h0m0 3h0m1-3h0m0 5h0m0-3h0m1-1h0m2 2h0m0-1h0m1 1h0m2 1h0m1-3h0m1 2h0m1 1h0m0-1h0m3 0h0m0 2h0m0-5h0m1 4h0m2 0h0m0-1h0m3 0h0m0-2h0m2 1h0m5 0h0m0-2h0m3 5h0m0 0h0m3-2h0m6-1h0m1-2h0m6 5h0m6-5h0m18 1h0m13-1h0m-178 10h0m6 0h0m8-1h0m6-3h0m1 5h0m15-2h0m3-2h0m1 4h0m1-2h0m1 0h0m2 0h0m3 2h0m1-5h0m0 4h0m0 1h0m3-5h0m1 1h0m2 0h0m2 1h0m0-1h0m1 3h0m3-1h0m2-2h0m1 3h0m0 1h0m0-4h0m3 4h0m0 0h0m1-4h0m2 4h0m1-1h0m1-1h0m2 0h0m0-2h0m1 1h0m1 2h0m2-3h0m4 3h0m1-2h0m0-1h0m4 0h0m1 1h0m1-1h0m1-1h0m0 3h0m0-1h0m2-2h0m1 0h0m1 5h0m1-3h0m2 0h0m1-2h0m0 1h0m2 0h0m1 1h0m1 1h0m1 1h0m0-2h0m0-2h0m0 5h0m3-1h0m2 1h0m0 0h0m2 0h0m3 0h0m3 0h0m1-3h0m5 0h0m2-2h0m2 4h0m1-4h0m2 3h0m0-2h0m2-1h0m0 5h0m2-3h0m2-2h0m2 0h0m5 2h0m0 3h0m2-4h0m3 4h0m1-5h0m1 0h0m4 3h0m-162 3h0m17 0h0m1 0h0m6 3h0m0-3h0m4 4h0m0-4h0m8 3h0m1-3h0m8 2h0m5 0h0m4 1h0m2 1h0m2-4h0m0 0h0m4 4h0m3-1h0m0-2h0m2 1h0m1 1h0m1 0h0m0 2h0m0 0h0m0-4h0m5 2h0m1 2h0m0-3h0m2 3h0m3-5h0m0 5h0m1-5h0m2 2h0m0 2h0m2-4h0m1 5h0m2-1h0m3-2h0m0-2h0m0 5h0m0 0h0m1-3h0m2 2h0m0-4h0m1 0h0m0 1h0m0-1h0m1 2h0m1-2h0m0 1h0m0 2h0m2 1h0m2-3h0m0 4h0m0-1h0m1-3h0m1 1h0m2 2h0m1-1h0m2-3h0m0 2h0m0 1h0m6-3h0m0 3h0m0 0h0m8-2h0m4 0h0m4 2h0m2-3h0m0 3h0m2-3h0m4 5h0m0-5h0m4 3h0m3 1h0m3-1h0m1-1h0m7-1h0m2 2h0m1-3h0m-159 6h0m31 1h0m9 0h0m4 1h0m14-1h0m1-1h0m4 5h0m1-3h0m4-2h0m1 4h0m4 1h0m0-5h0m0 5h0m1-1h0m1-2h0m0 3h0m1-3h0m1 0h0m1 3h0m2-4h0m0 1h0m1 1h0m2-2h0m0 0h0m1-1h0m2 0h0m1 5h0m1-3h0m2 3h0m0-4h0m2-1h0m0 0h0m2 4h0m3-4h0m0 3h0m1-1h0m0 0h0m3 0h0m2-2h0m2 5h0m2-1h0m4-4h0m2 5h0m1-5h0m1 2h0m10 1h0m4-2h0m3 0h0m8 4h0m3-5h0m13 3h0m-131 4h0m5 0h0m10-1h0m4 2h0m1 2h0m1-2h0m3 0h0m3 2h0m1 1h0m4-3h0m5-1h0m5-1h0m0 0h0m1 3h0m2-3h0m11 1h0m1 2h0m4-3h0m0 0h0m0 4h0m9-2h0m2 2h0m5-2h0m0 2h0m2 0h0m3-1h0m5 1h0m3-3h0m3 3h0m1 0h0m1-1h0m3 2h0m0-5h0m8 5h0m1-2h0m0-1h0m1 2h0m0-4h0m5 4h0m10-1h0m28-2h0m-155 10h0m4-1h0m5 0h0m8-1h0m13-1h0m0-2h0m6 3h0m5-3h0m22 3h0m3-1h0m0-1h0m4 1h0m4 1h0m0-3h0m4 5h0m9-2h0m9-1h0m4-2h0m1 4h0m5-1h0m3 2h0m3-4h0m1-1h0m7 4h0m4-1h0m1-1h0m-121 4h0m4 2h0m2 3h0m21-5h0m6 5h0m1-3h0m1 2h0m19-3h0m4 1h0m8 2h0m3-4h0m12 3h0m7-2h0m3 0h0m4 4h0m0 0h0m15-1h0m3-3h0m-64 5h0m7 4h0m12 0h0m0-3h0m7-1h0m1 5h0m9-4h0m4-1h0m1 2h0m6-2h0m43 1h0m-141 8h0m14-3h0m4 0h0m15 2h0m0 2h0m0-4h0m14 3h0m1 2h0m6-3h0m8 1h0m20 1h0m1 0h0m3-3h0m3 3h0m50-3h0m-117 10h0m14-3h0m8-2h0m24 0h0m4 2h0m0-1h0m41 3h0m4-3h0m0-1h0m37 0h0m-86 11h0m4-3h0m-61 5h0m47 0h0m-24 5h0m46 5h0m-9 5h0m56-1h0m-47 5h0" stroke="#2c2cf2" stroke-width="1.4" stroke-linecap="round" fill="none"/>
<ellipse cx="260" cy="793" rx="19.95" ry="17.099999999999998" fill="#2a2af0" filter="url(#fb)"/>
<path d="M242.15 780.9 C247.4 774.6 270.5 774.6 276.8 781.8 C278.9 789 266.3 801.6 260 802.5 C251.6 801.6 239 789 242.15 780.9Z" fill="#2a50f0" filter="url(#fb)"/>
<ellipse cx="261.05" cy="789" rx="15.12" ry="11.16" fill="url(#jet)"/>
<path transform="scale(.5)" d="M594 1531h0m9 3h0m-17 3h0m5 1h0m2-1h0m5 4h0m1-4h0m0-1h0m5 0h0m4 1h0m3 1h0m3 2h0m0-3h0m3 3h0m13 1h0m1-5h0m-56 9h0m2-2h0m8 3h0m6 0h0m11-4h0m0 5h0m2-3h0m2 2h0m3-2h0m3-1h0m1 4h0m0-5h0m9 1h0m7 4h0m1-5h0m-51 6h0m5 5h0m5-4h0m3 4h0m4-4h0m1 4h0m4-4h0m2 4h0m6-1h0m1 0h0m1 0h0m7-3h0m0-1h0m2 2h0m3-1h0m15 2h0m-67 6h0m4 2h0m2-1h0m4-3h0m10 2h0m5 2h0m0-4h0m1 2h0m0 0h0m2 0h0m0-1h0m1 2h0m0 1h0m1-5h0m0 2h0m1 2h0m0-1h0m0-1h0m1-2h0m0 1h0m2-1h0m0 2h0m0 1h0m0-1h0m0 2h0m2 1h0m0-1h0m0 1h0m2-5h0m0 3h0m5 2h0m0-1h0m0-3h0m4 0h0m2 0h0m4 4h0m-52 6h0m7-1h0m0-3h0m3-1h0m0 1h0m6 1h0m1-1h0m1 1h0m2 0h0m0 1h0m2 0h0m1 1h0m1 0h0m0-4h0m1 3h0m1 2h0m0-4h0m0 3h0m1-1h0m2-1h0m0-1h0m4 4h0m0-5h0m0 4h0m0-4h0m0 4h0m1-2h0m1 0h0m1 3h0m1-5h0m1 4h0m1 1h0m0-4h0m2 0h0m0-1h0m1 5h0m2-1h0m1-1h0m4-2h0m5 0h0m2-1h0m1 4h0m0 1h0m3-5h0m0 3h0m3-1h0m3 3h0m0-2h0m5 2h0m4-2h0m-63 7h0m1-2h0m1-1h0m6 2h0m0 1h0m0-1h0m0 2h0m1-4h0m0-1h0m2 2h0m3 1h0m1-3h0m1 1h0m0 1h0m0-1h0m0 4h0m1-4h0m2 3h0m0-1h0m1-1h0m1 3h0m0-5h0m4 1h0m1 2h0m2-1h0m1 2h0m2 1h0m3-5h0m2 4h0m0-4h0m2 5h0m3-1h0m1 1h0m2-2h0m1 0h0m1 0h0m0-1h0m1-2h0m0 4h0m4 1h0m3-2h0m1 2h0m0-3h0m-74 7h0m3-2h0m3 3h0m1 1h0m1-2h0m3-2h0m0 2h0m0 1h0m2-4h0m1 4h0m11-1h0m2-1h0m1 0h0m0 2h0m0 1h0m1-1h0m0 1h0m1 0h0m1-4h0m0 3h0m0-1h0m0 1h0m1-4h0m0 3h0m1-2h0m1-1h0m2 0h0m0 2h0m2-1h0m0 1h0m0 3h0m1-1h0m1-2h0m1 1h0m0 0h0m2 0h0m1 1h0m1 1h0m0-5h0m0 1h0m1 3h0m0 1h0m3 0h0m0 0h0m1-2h0m0-1h0m1 2h0m1-3h0m2 2h0m2 0h0m0-3h0m3 0h0m3 2h0m1 1h0m2-3h0m2 3h0m0 1h0m7-3h0m-75 5h0m5 4h0m4 0h0m0-4h0m1 1h0m0 0h0m1 0h0m0 3h0m2-4h0m1 5h0m3-5h0m0 4h0m1-1h0m4 0h0m1 1h0m1-2h0m1 3h0m0-4h0m0 2h0m0-2h0m1 1h0m1-2h0m1 5h0m1-1h0m0 1h0m0-2h0m0-3h0m2 2h0m1 1h0m0-1h0m2-1h0m0 0h0m1 2h0m0 2h0m1-3h0m1 3h0m0-5h0m2 3h0m2 1h0m1 0h0m0-2h0m0-2h0m0 5h0m0 0h0m0 0h0m1-1h0m1-1h0m0 0h0m0 0h0m1-2h0m1 2h0m0 0h0m0 0h0m0 0h0m0 2h0m1-4h0m0 0h0m1-1h0m0 0h0m1 0h0m1 0h0m0 1h0m0 0h0m0-1h0m1 0h0m2 0h0m0 2h0m0 1h0m2-1h0m0 1h0m0 0h0m2 2h0m0-4h0m1 0h0m0 0h0m1 0h0m2 1h0m1 2h0m5 0h0m0 1h0m2-3h0m0 2h0m1 1h0m7-2h0m-81 4h0m7 3h0m5 0h0m5-1h0m4-3h0m1 1h0m2 1h0m0 0h0m2 1h0m0 0h0m3 0h0m0-2h0m2 0h0m1 3h0m1-1h0m0 2h0m1-5h0m2 2h0m0-2h0m1 2h0m0 1h0m0-1h0m1 1h0m0 0h0m1-3h0m1 1h0m0 3h0m1 1h0m0-2h0m0 0h0m1 2h0m0 0h0m0-5h0m1 1h0m1-1h0m1 3h0m2 0h0m1 1h0m1-2h0m0 1h0m0-3h0m0 3h0m1-3h0m1 1h0m0 2h0m2 1h0m2-4h0m1 1h0m0 2h0m1 2h0m0-3h0m1-2h0m0 1h0m2-1h0m2 2h0m2 0h0m2 3h0m1-5h0m0 0h0m0 1h0m1 2h0m2 1h0m2-1h0m7-3h0m1 3h0m1 2h0m1-5h0m-64 8h0m1 1h0m3-1h0m1 0h0m2-2h0m2 1h0m1-1h0m2 4h0m1-4h0m0 0h0m0 3h0m1-2h0m0 3h0m2-4h0m1 5h0m1-4h0m0 0h0m4 1h0m0-1h0m0 3h0m2-2h0m2-2h0m0 2h0m0-2h0m1 3h0m1-1h0m1-1h0m0-1h0m2 2h0m0-2h0m0 1h0m2 2h0m1 0h0m0 1h0m0-4h0m4 1h0m2 3h0m0-3h0m2 1h0m2 1h0m2-1h0m1 2h0m8-3h0m0 1h0m0 0h0m2-1h0m5-1h0m0 1h0m7 0h0m-85 8h0m11-2h0m3 0h0m4 2h0m9-3h0m0 3h0m2-1h0m0 1h0m0-1h0m1 3h0m1-3h0m1-2h0m0 1h0m1 1h0m0 3h0m3-1h0m2-1h0m0 2h0m1-3h0m0 2h0m1-4h0m0 1h0m1 0h0m1 2h0m1 1h0m1-1h0m2-2h0m3 1h0m1 3h0m0-4h0m1 3h0m0-4h0m4 3h0m1 2h0m3-4h0m1 0h0m4 4h0m3-3h0m8-2h0m10 0h0m-73 8h0m1 3h0m5-4h0m0-1h0m1 0h0m0 0h0m1 1h0m1 0h0m0 2h0m0-1h0m7 1h0m1 1h0m0-1h0m3-1h0m0 3h0m1-5h0m0 0h0m3 1h0m1-1h0m0 0h0m1 3h0m0-2h0m2 2h0m5-3h0m4 4h0m5 1h0m0-2h0m1-2h0m4 4h0m5-5h0m0 0h0m2 4h0m0-1h0m-46 3h0m1 0h0m3 0h0m4 4h0m4-3h0m1-1h0m4 4h0m0-3h0m1 1h0m2-1h0m5 3h0m1 0h0m1-3h0m4 2h0m0-3h0m2 2h0m1 2h0m1-4h0m3 4h0m2-1h0m-30 5h0m0 0h0m9 3h0m4 0h0m2-4h0m0 3h0m3-1h0m2-1h0m0 2h0m2-3h0m18 1h0m11-2h0m-63 10h0m19 1h0m1 0h0m3-5h0m10 3h0m1-3h0m7 4h0m12-3h0m-68 10h0m35-5h0m-38 14h0" stroke="#3a3af2" stroke-width="1.2" stroke-linecap="round" fill="none"/>
<path transform="scale(.5)" d="M600 1559h0m7-4h0m2 2h0m6 2h0m-22 3h0m2 2h0m0-4h0m4 2h0m5 3h0m1-2h0m1 1h0m0 0h0m2 0h0m3 1h0m4-3h0m3-2h0m-26 8h0m0 3h0m2-2h0m2 2h0m0 0h0m2-2h0m1 1h0m1-3h0m1 0h0m0 1h0m1 2h0m0-1h0m1 2h0m0-2h0m1-3h0m0 5h0m1-5h0m0 1h0m2 2h0m0 1h0m0 1h0m0-4h0m1 4h0m0-3h0m1-2h0m0 3h0m0-3h0m3 1h0m1-1h0m3 3h0m0 0h0m1 2h0m3-2h0m-32 8h0m2-1h0m1-1h0m3-2h0m1 3h0m0-1h0m0 1h0m0-3h0m1 3h0m1-4h0m1 5h0m1 0h0m0 0h0m0-2h0m0 2h0m1 0h0m0-4h0m1-1h0m2 2h0m1 2h0m0-1h0m0 1h0m1-3h0m0 0h0m1 4h0m0-4h0m0-1h0m0 4h0m0-2h0m1 1h0m0-1h0m0 2h0m1-3h0m0-1h0m0 5h0m0-2h0m0-3h0m0 5h0m1-2h0m1 2h0m0-5h0m1 4h0m0 0h0m0-4h0m1 4h0m0-4h0m1 5h0m0 0h0m0 0h0m1-4h0m0 1h0m0 2h0m0 1h0m1-5h0m0 0h0m1 2h0m2 0h0m2 1h0m-33 4h0m1 2h0m7-3h0m1 4h0m0-2h0m0 0h0m0 2h0m1-2h0m0 3h0m0-4h0m0 2h0m1 1h0m0 0h0m0-2h0m0 3h0m0-2h0m1-1h0m0-2h0m1 1h0m0 1h0m0 0h0m0-1h0m1 2h0m0-1h0m0-2h0m0 5h0m0 0h0m0-3h0m1-1h0m0 3h0m0-2h0m0 2h0m1-2h0m0-1h0m0 3h0m1-1h0m0-2h0m0 4h0m1-4h0m0 4h0m0-5h0m0 3h0m1-1h0m0 3h0m0-4h0m0 4h0m0-5h0m0 1h0m0 3h0m1 1h0m0-2h0m0-2h0m0 2h0m1-2h0m0 4h0m0-4h0m0 2h0m1-1h0m0-1h0m1 0h0m0-1h0m1 1h0m1 2h0m0 1h0m1-2h0m0 0h0m1 1h0m0 1h0m1-4h0m0 5h0m1-2h0m1-2h0m0 1h0m1 1h0m-34 3h0m1 4h0m5-4h0m2 3h0m1-3h0m0 2h0m2 0h0m0 1h0m1 1h0m0 1h0m0-4h0m0 0h0m2 3h0m0-3h0m0 0h0m0 2h0m0-1h0m1 2h0m0-2h0m0 1h0m1-3h0m0 5h0m0-4h0m0 2h0m1 0h0m0 0h0m0-1h0m1 0h0m1 2h0m0-2h0m1 0h0m0-1h0m1 4h0m1-1h0m0-4h0m0 3h0m0-3h0m0 5h0m0-1h0m1 0h0m0-1h0m0-1h0m0-1h0m0 0h0m1-1h0m0 0h0m1 0h0m1 4h0m0-2h0m1-1h0m0 0h0m0 1h0m1-1h0m2 0h0m1 0h0m0 2h0m0 1h0m1 0h0m1 1h0m0-3h0m-19 4h0m0 4h0m0-1h0m1-1h0m0-2h0m1 3h0m1 0h0m0-2h0m3 4h0m0-3h0m3 2h0m0 0h0m0-3h0m1 1h0m0 2h0m1 0h0m2-2h0m0 1h0m1-2h0m0 4h0m0-3h0m4-2h0m3 2h0m-26 4h0m5 0h0m2 2h0m4 1h0m1-2h0m1 1h0m4-2h0m-6 6h0m4 1h0m0 0h0m0 0h0" stroke="#3030f0" stroke-width="1.6" stroke-linecap="round" fill="none"/>
</g>
<rect x="277.50" y="759.40" width="46.10" height="29.80" fill="none" stroke="#444" stroke-width="0.7"/>
<text x="300.6" y="764.4" font-size="3.3" text-anchor="middle" fill="#444">Senescent EC</text>
<text x="300.6" y="768.4" font-size="3.3" text-anchor="middle" fill="#444">1.00</text>
<text x="246.3" y="750.2" font-size="9.7" fill="#111">HFD+STZ</text>
<line x1="241.00" y1="740.40" x2="242.50" y2="740.40" stroke="#444" stroke-width="0.5"/>
<text x="240.0" y="741.6" font-size="3" text-anchor="end" fill="#444">10</text>
<line x1="241.00" y1="755.90" x2="242.50" y2="755.90" stroke="#444" stroke-width="0.5"/>
<text x="240.0" y="757.1" font-size="3" text-anchor="end" fill="#444">10</text>
<line x1="241.00" y1="771.40" x2="242.50" y2="771.40" stroke="#444" stroke-width="0.5"/>
<text x="240.0" y="772.6" font-size="3" text-anchor="end" fill="#444">10</text>
<line x1="241.00" y1="786.90" x2="242.50" y2="786.90" stroke="#444" stroke-width="0.5"/>
<text x="240.0" y="788.1" font-size="3" text-anchor="end" fill="#444">10</text>
<line x1="241.00" y1="802.40" x2="242.50" y2="802.40" stroke="#444" stroke-width="0.5"/>
<text x="240.0" y="803.6" font-size="3" text-anchor="end" fill="#444">10</text>
<line x1="241.00" y1="817.90" x2="242.50" y2="817.90" stroke="#444" stroke-width="0.5"/>
<text x="240.0" y="819.1" font-size="3" text-anchor="end" fill="#444">10</text>
<line x1="248.50" y1="822.00" x2="248.50" y2="823.50" stroke="#444" stroke-width="0.5"/>
<text x="248.5" y="827.0" font-size="3" text-anchor="middle" fill="#444">0</text>
<line x1="274.50" y1="822.00" x2="274.50" y2="823.50" stroke="#444" stroke-width="0.5"/>
<text x="274.5" y="827.0" font-size="3" text-anchor="middle" fill="#444">10</text>
<line x1="290.50" y1="822.00" x2="290.50" y2="823.50" stroke="#444" stroke-width="0.5"/>
<text x="290.5" y="827.0" font-size="3" text-anchor="middle" fill="#444">10</text>
<line x1="306.50" y1="822.00" x2="306.50" y2="823.50" stroke="#444" stroke-width="0.5"/>
<text x="306.5" y="827.0" font-size="3" text-anchor="middle" fill="#444">10</text>
<line x1="322.50" y1="822.00" x2="322.50" y2="823.50" stroke="#444" stroke-width="0.5"/>
<text x="322.5" y="827.0" font-size="3" text-anchor="middle" fill="#444">10</text>
<text x="284.1" y="835.0" font-size="3.3" text-anchor="middle" fill="#444">Comp-FL2-A :: PE-A</text>
<text x="236.0" y="780.2" font-size="3.3" text-anchor="middle" fill="#444" transform="rotate(-90 236.0 780.2)">Comp-FL1-A :: Alexa Fluor 488-A</text>
<rect x="240.00" y="810.00" width="1.80" height="1.80" fill="#111"/>
<rect x="247.50" y="822.00" width="1.50" height="1.50" fill="#111"/>
<path d="M10.2 828.6 L10.2 809 M7.8 812 L10.2 808 L12.6 812 M10.2 828.6 L30 828.6 M27 826.2 L31 828.6 L27 831" fill="none" stroke="#111" stroke-width="1.2"/>
<text x="8.3" y="813.5" font-size="8.5" text-anchor="middle" fill="#3cc040" transform="rotate(-90 8.3 813.5)">SA-β-Gal</text>
<text x="21.0" y="837.7" font-size="8.2" text-anchor="middle" fill="#e8262b">CD31</text>
<text x="325.0" y="731.0" font-size="13.5" font-weight="bold">o</text>
<line x1="361.50" y1="738.30" x2="361.50" y2="823.40" stroke="#111" stroke-width="1"/>
<line x1="361.50" y1="823.40" x2="421.60" y2="823.40" stroke="#111" stroke-width="1"/>
<line x1="359.00" y1="739.30" x2="361.50" y2="739.30" stroke="#111" stroke-width="0.9"/>
<text x="357.9" y="741.5" font-size="6.2" text-anchor="end" font-weight="bold" fill="#222">1.2</text>
<line x1="359.00" y1="760.30" x2="361.50" y2="760.30" stroke="#111" stroke-width="0.9"/>
<text x="357.9" y="762.5" font-size="6.2" text-anchor="end" font-weight="bold" fill="#222">0.9</text>
<line x1="359.00" y1="781.30" x2="361.50" y2="781.30" stroke="#111" stroke-width="0.9"/>
<text x="357.9" y="783.5" font-size="6.2" text-anchor="end" font-weight="bold" fill="#222">0.6</text>
<line x1="359.00" y1="802.30" x2="361.50" y2="802.30" stroke="#111" stroke-width="0.9"/>
<text x="357.9" y="804.5" font-size="6.2" text-anchor="end" font-weight="bold" fill="#222">0.3</text>
<line x1="359.00" y1="823.40" x2="361.50" y2="823.40" stroke="#111" stroke-width="0.9"/>
<text x="357.9" y="825.6" font-size="6.2" text-anchor="end" font-weight="bold" fill="#222">0.0</text>
<rect x="369.60" y="786.20" width="18.20" height="37.20" fill="#3b5ef0" stroke="#111" stroke-width="1.1"/>
<rect x="395.70" y="764.30" width="18.00" height="59.10" fill="#f44a26" stroke="#111" stroke-width="1.1"/>
<line x1="378.70" y1="775.20" x2="378.70" y2="781.20" stroke="#111" stroke-width="0.8"/>
<line x1="373.70" y1="775.20" x2="383.70" y2="775.20" stroke="#111" stroke-width="0.9"/>
<line x1="404.70" y1="752.40" x2="404.70" y2="758.40" stroke="#111" stroke-width="0.8"/>
<line x1="399.20" y1="752.40" x2="410.20" y2="752.40" stroke="#111" stroke-width="0.9"/>
<circle cx="378.60" cy="767.30" r="1.45" fill="#111"/>
<circle cx="373.30" cy="781.60" r="1.45" fill="#111"/>
<circle cx="383.50" cy="782.60" r="1.45" fill="#111"/>
<circle cx="378.60" cy="791.30" r="1.45" fill="#111"/>
<circle cx="378.60" cy="796.40" r="1.45" fill="#111"/>
<circle cx="383.50" cy="792.30" r="1.45" fill="#111"/>
<circle cx="399.50" cy="755.20" r="1.45" fill="#111"/>
<circle cx="404.20" cy="753.50" r="1.45" fill="#111"/>
<circle cx="404.70" cy="768.20" r="1.45" fill="#111"/>
<circle cx="409.70" cy="767.30" r="1.45" fill="#111"/>
<circle cx="404.40" cy="783.40" r="1.45" fill="#111"/>
<line x1="378.70" y1="748.90" x2="403.20" y2="748.90" stroke="#111" stroke-width="1"/>
<text x="391.0" y="745.0" font-size="6.7" text-anchor="middle" fill="#333">p=0.0066</text>
<line x1="378.70" y1="823.40" x2="378.70" y2="825.90" stroke="#111" stroke-width="0.9"/>
<text x="378.7" y="832.7" font-size="6.3" text-anchor="middle" font-weight="bold" fill="#222">Chow</text>
<line x1="404.70" y1="823.40" x2="404.70" y2="825.90" stroke="#111" stroke-width="0.9"/>
<text x="404.7" y="832.7" font-size="6.3" text-anchor="middle" font-weight="bold" fill="#222">HFD+STZ</text>
<text x="345.5" y="781" font-size="7.8" font-weight="bold" text-anchor="middle" fill="#111" transform="rotate(-90 345.5 781)">SA-β-Gal<tspan font-size="5" dy="-3">+</tspan><tspan dy="3">CD31</tspan><tspan font-size="5" dy="-3">+</tspan><tspan dy="3">Cells (%)</tspan></text>
<text x="421.3" y="731.0" font-size="13.5" font-weight="bold">p</text>
<line x1="452.80" y1="741.80" x2="452.80" y2="823.40" stroke="#111" stroke-width="1"/>
<line x1="452.80" y1="823.40" x2="512.00" y2="823.40" stroke="#111" stroke-width="1"/>
<line x1="450.30" y1="742.80" x2="452.80" y2="742.80" stroke="#111" stroke-width="0.9"/>
<text x="449.2" y="745.0" font-size="6.2" text-anchor="end" font-weight="bold" fill="#222">3</text>
<line x1="450.30" y1="770.00" x2="452.80" y2="770.00" stroke="#111" stroke-width="0.9"/>
<text x="449.2" y="772.2" font-size="6.2" text-anchor="end" font-weight="bold" fill="#222">2</text>
<line x1="450.30" y1="796.60" x2="452.80" y2="796.60" stroke="#111" stroke-width="0.9"/>
<text x="449.2" y="798.8" font-size="6.2" text-anchor="end" font-weight="bold" fill="#222">1</text>
<line x1="450.30" y1="823.40" x2="452.80" y2="823.40" stroke="#111" stroke-width="0.9"/>
<text x="449.2" y="825.6" font-size="6.2" text-anchor="end" font-weight="bold" fill="#222">0</text>
<rect x="461.70" y="797.10" width="17.00" height="26.30" fill="#3b5ef0" stroke="#111" stroke-width="1.1"/>
<rect x="487.10" y="773.80" width="17.00" height="49.60" fill="#f44a26" stroke="#111" stroke-width="1.1"/>
<line x1="470.30" y1="788.00" x2="470.30" y2="794.00" stroke="#111" stroke-width="0.8"/>
<line x1="464.80" y1="788.00" x2="475.80" y2="788.00" stroke="#111" stroke-width="0.9"/>
<line x1="495.60" y1="757.30" x2="495.60" y2="763.30" stroke="#111" stroke-width="0.8"/>
<line x1="491.40" y1="757.30" x2="499.80" y2="757.30" stroke="#111" stroke-width="0.9"/>
<circle cx="470.50" cy="787.60" r="1.45" fill="#111"/>
<circle cx="470.50" cy="791.30" r="1.45" fill="#111"/>
<circle cx="470.30" cy="802.00" r="1.45" fill="#111"/>
<circle cx="470.30" cy="806.20" r="1.45" fill="#111"/>
<circle cx="495.30" cy="758.90" r="1.45" fill="#111"/>
<circle cx="495.30" cy="767.30" r="1.45" fill="#111"/>
<circle cx="495.30" cy="771.50" r="1.45" fill="#111"/>
<circle cx="495.30" cy="795.70" r="1.45" fill="#111"/>
<line x1="470.80" y1="754.50" x2="495.30" y2="754.50" stroke="#111" stroke-width="1"/>
<text x="482.7" y="750.5" font-size="6.7" text-anchor="middle" fill="#333">p=0.0396</text>
<line x1="470.30" y1="823.40" x2="470.30" y2="825.90" stroke="#111" stroke-width="0.9"/>
<text x="470.3" y="832.7" font-size="6.3" text-anchor="middle" font-weight="bold" fill="#222">Chow</text>
<line x1="495.60" y1="823.40" x2="495.60" y2="825.90" stroke="#111" stroke-width="0.9"/>
<text x="495.6" y="832.7" font-size="6.3" text-anchor="middle" font-weight="bold" fill="#222">HFD+STZ</text>
<text x="483.0" y="734.5" font-size="7.4" text-anchor="middle" font-weight="bold" fill="#111">Trp53</text>
<line x1="537.20" y1="741.40" x2="537.20" y2="823.40" stroke="#111" stroke-width="1"/>
<line x1="537.20" y1="823.40" x2="593.60" y2="823.40" stroke="#111" stroke-width="1"/>
<line x1="534.70" y1="742.40" x2="537.20" y2="742.40" stroke="#111" stroke-width="0.9"/>
<text x="533.6" y="744.6" font-size="6.2" text-anchor="end" font-weight="bold" fill="#222">10</text>
<line x1="534.70" y1="758.90" x2="537.20" y2="758.90" stroke="#111" stroke-width="0.9"/>
<text x="533.6" y="761.1" font-size="6.2" text-anchor="end" font-weight="bold" fill="#222">8</text>
<line x1="534.70" y1="775.20" x2="537.20" y2="775.20" stroke="#111" stroke-width="0.9"/>
<text x="533.6" y="777.4" font-size="6.2" text-anchor="end" font-weight="bold" fill="#222">6</text>
<line x1="534.70" y1="791.30" x2="537.20" y2="791.30" stroke="#111" stroke-width="0.9"/>
<text x="533.6" y="793.5" font-size="6.2" text-anchor="end" font-weight="bold" fill="#222">4</text>
<line x1="534.70" y1="807.20" x2="537.20" y2="807.20" stroke="#111" stroke-width="0.9"/>
<text x="533.6" y="809.4" font-size="6.2" text-anchor="end" font-weight="bold" fill="#222">2</text>
<line x1="534.70" y1="823.40" x2="537.20" y2="823.40" stroke="#111" stroke-width="0.9"/>
<text x="533.6" y="825.6" font-size="6.2" text-anchor="end" font-weight="bold" fill="#222">0</text>
<rect x="545.40" y="815.50" width="17.20" height="7.90" fill="#3b5ef0" stroke="#111" stroke-width="1.1"/>
<rect x="570.50" y="779.60" width="16.90" height="43.80" fill="#f44a26" stroke="#111" stroke-width="1.1"/>
<line x1="553.50" y1="811.50" x2="553.50" y2="817.50" stroke="#111" stroke-width="0.8"/>
<line x1="548.90" y1="811.50" x2="558.10" y2="811.50" stroke="#111" stroke-width="0.9"/>
<line x1="578.50" y1="755.90" x2="578.50" y2="761.90" stroke="#111" stroke-width="0.8"/>
<line x1="574.30" y1="755.90" x2="582.70" y2="755.90" stroke="#111" stroke-width="0.9"/>
<circle cx="549.20" cy="811.50" r="1.45" fill="#111"/>
<circle cx="554.00" cy="813.40" r="1.45" fill="#111"/>
<circle cx="558.80" cy="816.40" r="1.45" fill="#111"/>
<circle cx="549.20" cy="819.20" r="1.45" fill="#111"/>
<circle cx="579.10" cy="756.30" r="1.45" fill="#111"/>
<circle cx="579.10" cy="762.00" r="1.45" fill="#111"/>
<circle cx="574.00" cy="800.00" r="1.45" fill="#111"/>
<circle cx="583.50" cy="797.60" r="1.45" fill="#111"/>
<line x1="553.60" y1="752.80" x2="576.90" y2="752.80" stroke="#111" stroke-width="1"/>
<text x="565.2" y="749.0" font-size="6.7" text-anchor="middle" fill="#333">p=0.0211</text>
<line x1="554.00" y1="823.40" x2="554.00" y2="825.90" stroke="#111" stroke-width="0.9"/>
<text x="554.0" y="832.7" font-size="6.3" text-anchor="middle" font-weight="bold" fill="#222">Chow</text>
<line x1="579.00" y1="823.40" x2="579.00" y2="825.90" stroke="#111" stroke-width="0.9"/>
<text x="579.0" y="832.7" font-size="6.3" text-anchor="middle" font-weight="bold" fill="#222">HFD+STZ</text>
<text x="566.4" y="734.5" font-size="7.4" text-anchor="middle" font-weight="bold" fill="#111">Cdkn1a</text>
<line x1="622.20" y1="742.00" x2="622.20" y2="823.50" stroke="#111" stroke-width="1"/>
<line x1="622.20" y1="823.50" x2="680.40" y2="823.50" stroke="#111" stroke-width="1"/>
<line x1="619.70" y1="743.00" x2="622.20" y2="743.00" stroke="#111" stroke-width="0.9"/>
<text x="618.6" y="745.2" font-size="6.2" text-anchor="end" font-weight="bold" fill="#222">2.5</text>
<line x1="619.70" y1="759.10" x2="622.20" y2="759.10" stroke="#111" stroke-width="0.9"/>
<text x="618.6" y="761.3" font-size="6.2" text-anchor="end" font-weight="bold" fill="#222">2.0</text>
<line x1="619.70" y1="775.20" x2="622.20" y2="775.20" stroke="#111" stroke-width="0.9"/>
<text x="618.6" y="777.4" font-size="6.2" text-anchor="end" font-weight="bold" fill="#222">1.5</text>
<line x1="619.70" y1="791.30" x2="622.20" y2="791.30" stroke="#111" stroke-width="0.9"/>
<text x="618.6" y="793.5" font-size="6.2" text-anchor="end" font-weight="bold" fill="#222">1.0</text>
<line x1="619.70" y1="807.40" x2="622.20" y2="807.40" stroke="#111" stroke-width="0.9"/>
<text x="618.6" y="809.6" font-size="6.2" text-anchor="end" font-weight="bold" fill="#222">0.5</text>
<line x1="619.70" y1="823.50" x2="622.20" y2="823.50" stroke="#111" stroke-width="0.9"/>
<text x="618.6" y="825.7" font-size="6.2" text-anchor="end" font-weight="bold" fill="#222">0.0</text>
<rect x="630.30" y="791.60" width="17.40" height="31.90" fill="#3b5ef0" stroke="#111" stroke-width="1.1"/>
<rect x="655.40" y="771.30" width="17.30" height="52.20" fill="#f44a26" stroke="#111" stroke-width="1.1"/>
<line x1="639.00" y1="785.60" x2="639.00" y2="791.60" stroke="#111" stroke-width="0.8"/>
<line x1="634.00" y1="785.60" x2="644.00" y2="785.60" stroke="#111" stroke-width="0.9"/>
<line x1="664.10" y1="756.80" x2="664.10" y2="762.80" stroke="#111" stroke-width="0.8"/>
<line x1="659.60" y1="756.80" x2="668.60" y2="756.80" stroke="#111" stroke-width="0.9"/>
<circle cx="644.00" cy="786.30" r="1.45" fill="#111"/>
<circle cx="639.20" cy="790.50" r="1.45" fill="#111"/>
<circle cx="639.20" cy="799.40" r="1.45" fill="#111"/>
<circle cx="664.20" cy="755.20" r="1.45" fill="#111"/>
<circle cx="664.20" cy="763.80" r="1.45" fill="#111"/>
<circle cx="664.00" cy="780.60" r="1.45" fill="#111"/>
<circle cx="664.00" cy="784.60" r="1.45" fill="#111"/>
<line x1="639.00" y1="751.90" x2="662.80" y2="751.90" stroke="#111" stroke-width="1"/>
<text x="650.5" y="748.3" font-size="6.7" text-anchor="middle" fill="#333">p=0.0366</text>
<line x1="639.00" y1="823.50" x2="639.00" y2="826.00" stroke="#111" stroke-width="0.9"/>
<text x="639.0" y="832.8" font-size="6.3" text-anchor="middle" font-weight="bold" fill="#222">Chow</text>
<line x1="664.00" y1="823.50" x2="664.00" y2="826.00" stroke="#111" stroke-width="0.9"/>
<text x="664.0" y="832.8" font-size="6.3" text-anchor="middle" font-weight="bold" fill="#222">HFD+STZ</text>
<text x="651.7" y="734.5" font-size="7.4" text-anchor="middle" font-weight="bold" fill="#111">Cdkn2a</text>
<text x="440.5" y="783.0" font-size="6.9" text-anchor="middle" fill="#222" transform="rotate(-90 440.5 783.0)">Relative mRNA Expression</text>
<text x="522.0" y="783.0" font-size="6.9" text-anchor="middle" fill="#222" transform="rotate(-90 522.0 783.0)">Relative mRNA Expression</text>
<text x="605.5" y="783.0" font-size="6.9" text-anchor="middle" fill="#222" transform="rotate(-90 605.5 783.0)">Relative mRNA Expression</text></svg></div></body></html>
